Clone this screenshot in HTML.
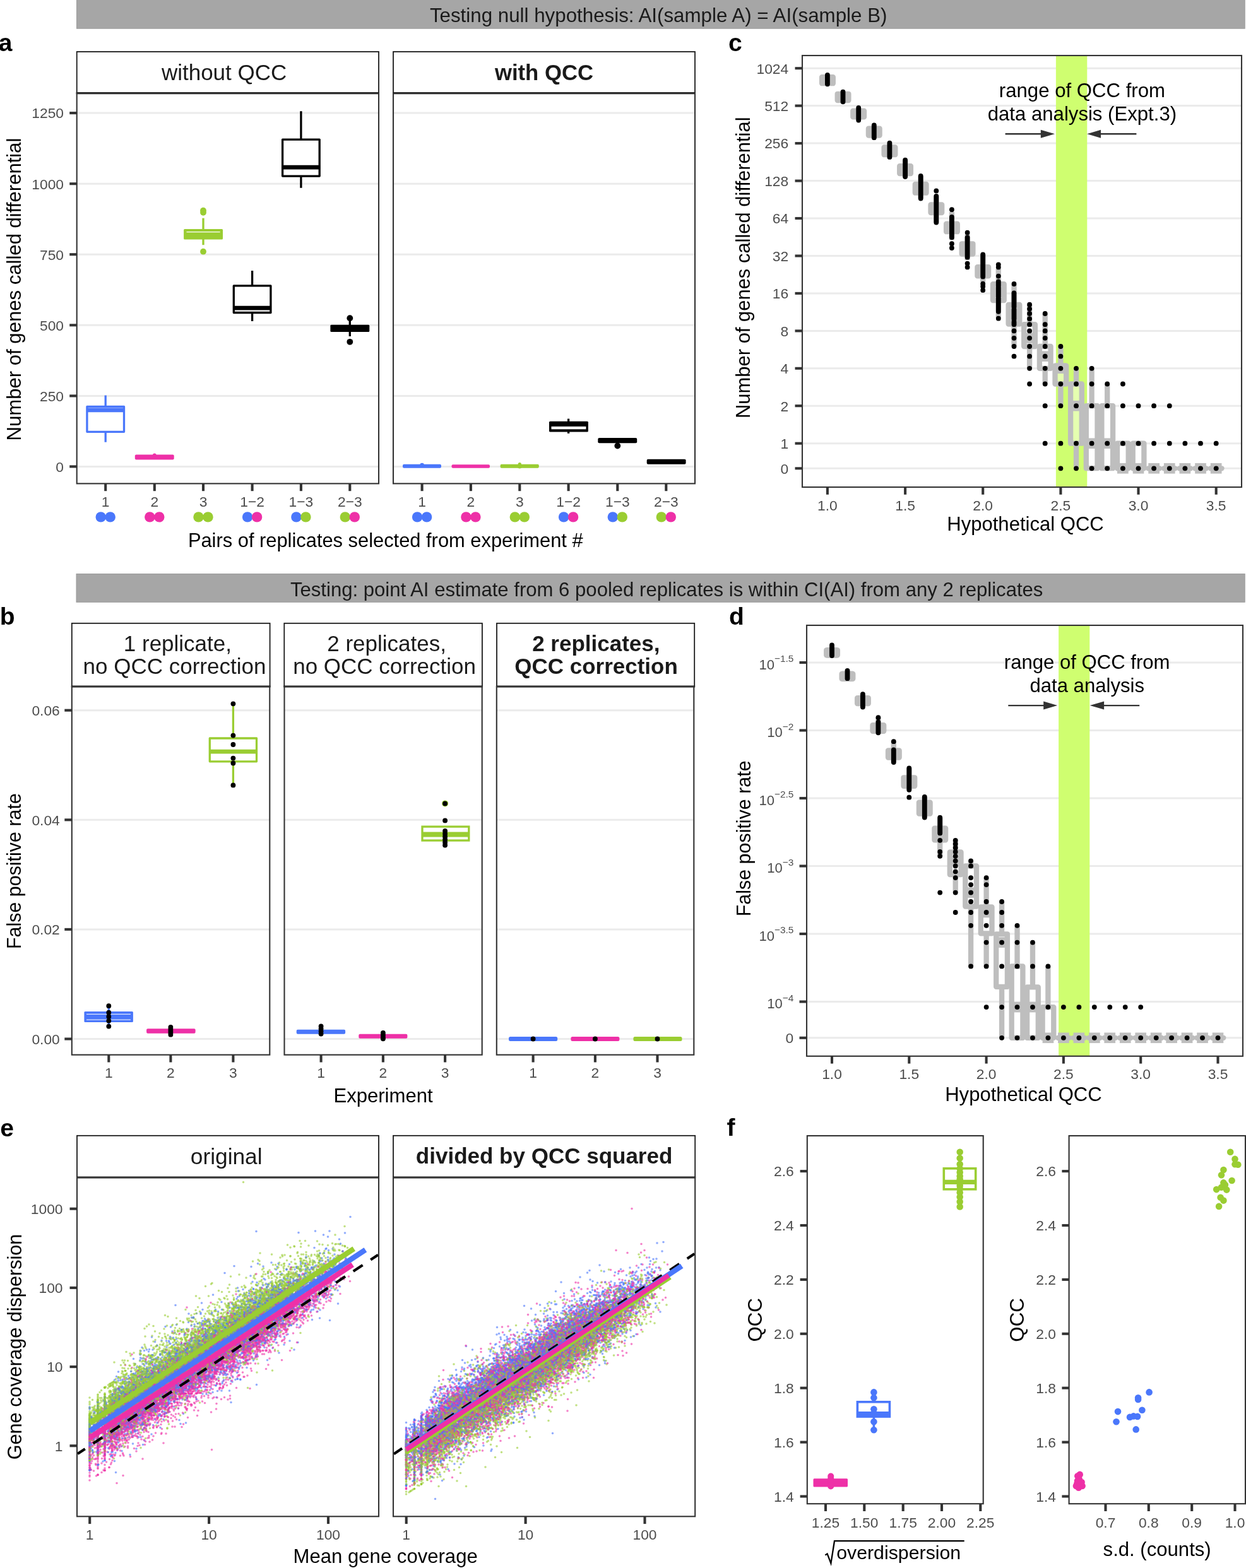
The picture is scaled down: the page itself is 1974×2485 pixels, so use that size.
<!DOCTYPE html>
<html><head><meta charset="utf-8"><title>Figure</title><style>html,body{margin:0;padding:0;background:#fff;overflow:hidden}svg{display:block}</style></head><body>
<svg xmlns="http://www.w3.org/2000/svg" width="1974" height="2485" viewBox="0 0 1974 2485" font-family="'Liberation Sans', Arial, Helvetica, sans-serif"><rect width="1974" height="2485" fill="#fff"/><rect x="121.5" y="-1" width="1850.7" height="46.2" fill="#A6A6A6" stroke="#9C9C9C" stroke-width="1"/>
<text x="1043.2" y="34.7" font-size="31.3" text-anchor="middle" fill="#1A1A1A">Testing null hypothesis: AI(sample A) = AI(sample B)</text>
<rect x="121" y="909.5" width="1851.2" height="44.8" fill="#A6A6A6" stroke="#9C9C9C" stroke-width="1"/>
<text x="1056.2" y="945.2" font-size="31.1" text-anchor="middle" fill="#1A1A1A">Testing: point AI estimate from 6 pooled replicates is within CI(AI) from any 2 replicates</text>
<text x="-2.2" y="80.6" font-size="39" font-weight="bold">a</text>
<text x="1154" y="80.6" font-size="39" font-weight="bold">c</text>
<text x="-0.2" y="989.6" font-size="39" font-weight="bold">b</text>
<text x="1155" y="989.6" font-size="39" font-weight="bold">d</text>
<text x="0.2" y="1800.7" font-size="39" font-weight="bold">e</text>
<text x="1151.6" y="1800.4" font-size="39" font-weight="bold">f</text>
<line x1="121.7" y1="739.4" x2="600" y2="739.4" stroke="#EBEBEB" stroke-width="3"/>
<line x1="121.7" y1="627.4" x2="600" y2="627.4" stroke="#EBEBEB" stroke-width="3"/>
<line x1="121.7" y1="515.3" x2="600" y2="515.3" stroke="#EBEBEB" stroke-width="3"/>
<line x1="121.7" y1="403.2" x2="600" y2="403.2" stroke="#EBEBEB" stroke-width="3"/>
<line x1="121.7" y1="291.2" x2="600" y2="291.2" stroke="#EBEBEB" stroke-width="3"/>
<line x1="121.7" y1="179.1" x2="600" y2="179.1" stroke="#EBEBEB" stroke-width="3"/>
<line x1="623" y1="739.4" x2="1101" y2="739.4" stroke="#EBEBEB" stroke-width="3"/>
<line x1="623" y1="627.4" x2="1101" y2="627.4" stroke="#EBEBEB" stroke-width="3"/>
<line x1="623" y1="515.3" x2="1101" y2="515.3" stroke="#EBEBEB" stroke-width="3"/>
<line x1="623" y1="403.2" x2="1101" y2="403.2" stroke="#EBEBEB" stroke-width="3"/>
<line x1="623" y1="291.2" x2="1101" y2="291.2" stroke="#EBEBEB" stroke-width="3"/>
<line x1="623" y1="179.1" x2="1101" y2="179.1" stroke="#EBEBEB" stroke-width="3"/>
<rect x="121.7" y="82" width="478.3" height="65.6" fill="#fff" stroke="#1A1A1A" stroke-width="1.8"/>
<line x1="120.8" y1="147.6" x2="600.9" y2="147.6" stroke="#1A1A1A" stroke-width="3.2"/>
<text x="355.1" y="127" font-size="35.0" text-anchor="middle" fill="#1A1A1A">without QCC</text>
<rect x="623" y="82" width="478" height="65.6" fill="#fff" stroke="#1A1A1A" stroke-width="1.8"/>
<line x1="622.1" y1="147.6" x2="1101.9" y2="147.6" stroke="#1A1A1A" stroke-width="3.2"/>
<text x="862" y="127.3" font-size="34.7" text-anchor="middle" font-weight="bold" fill="#1A1A1A">with QCC</text>
<line x1="110.2" y1="739.4" x2="121.7" y2="739.4" stroke="#333333" stroke-width="4.1"/>
<text x="101" y="747.7" font-size="22.8" text-anchor="end" fill="#4D4D4D">0</text>
<line x1="110.2" y1="627.4" x2="121.7" y2="627.4" stroke="#333333" stroke-width="4.1"/>
<text x="101" y="635.6" font-size="22.8" text-anchor="end" fill="#4D4D4D">250</text>
<line x1="110.2" y1="515.3" x2="121.7" y2="515.3" stroke="#333333" stroke-width="4.1"/>
<text x="101" y="523.6" font-size="22.8" text-anchor="end" fill="#4D4D4D">500</text>
<line x1="110.2" y1="403.2" x2="121.7" y2="403.2" stroke="#333333" stroke-width="4.1"/>
<text x="101" y="411.6" font-size="22.8" text-anchor="end" fill="#4D4D4D">750</text>
<line x1="110.2" y1="291.2" x2="121.7" y2="291.2" stroke="#333333" stroke-width="4.1"/>
<text x="101" y="299.5" font-size="22.8" text-anchor="end" fill="#4D4D4D">1000</text>
<line x1="110.2" y1="179.1" x2="121.7" y2="179.1" stroke="#333333" stroke-width="4.1"/>
<text x="101" y="187.4" font-size="22.8" text-anchor="end" fill="#4D4D4D">1250</text>
<line x1="167.2" y1="766.4" x2="167.2" y2="778.2" stroke="#333333" stroke-width="4.1"/>
<text x="167.2" y="802.6" font-size="22.8" text-anchor="middle" fill="#4D4D4D">1</text>
<circle cx="159.7" cy="819.4" r="8.2" fill="#4A77FB"/>
<circle cx="174.7" cy="819.4" r="8.2" fill="#4A77FB"/>
<line x1="244.8" y1="766.4" x2="244.8" y2="778.2" stroke="#333333" stroke-width="4.1"/>
<text x="244.8" y="802.6" font-size="22.8" text-anchor="middle" fill="#4D4D4D">2</text>
<circle cx="237.3" cy="819.4" r="8.2" fill="#EE30A7"/>
<circle cx="252.3" cy="819.4" r="8.2" fill="#EE30A7"/>
<line x1="322" y1="766.4" x2="322" y2="778.2" stroke="#333333" stroke-width="4.1"/>
<text x="322" y="802.6" font-size="22.8" text-anchor="middle" fill="#4D4D4D">3</text>
<circle cx="314.5" cy="819.4" r="8.2" fill="#9ACD32"/>
<circle cx="329.5" cy="819.4" r="8.2" fill="#9ACD32"/>
<line x1="399.6" y1="766.4" x2="399.6" y2="778.2" stroke="#333333" stroke-width="4.1"/>
<text x="399.6" y="802.6" font-size="22.8" text-anchor="middle" fill="#4D4D4D">1−2</text>
<circle cx="392.1" cy="819.4" r="8.2" fill="#4A77FB"/>
<circle cx="407.1" cy="819.4" r="8.2" fill="#EE30A7"/>
<line x1="476.9" y1="766.4" x2="476.9" y2="778.2" stroke="#333333" stroke-width="4.1"/>
<text x="476.9" y="802.6" font-size="22.8" text-anchor="middle" fill="#4D4D4D">1−3</text>
<circle cx="469.4" cy="819.4" r="8.2" fill="#4A77FB"/>
<circle cx="484.4" cy="819.4" r="8.2" fill="#9ACD32"/>
<line x1="554.3" y1="766.4" x2="554.3" y2="778.2" stroke="#333333" stroke-width="4.1"/>
<text x="554.3" y="802.6" font-size="22.8" text-anchor="middle" fill="#4D4D4D">2−3</text>
<circle cx="546.8" cy="819.4" r="8.2" fill="#9ACD32"/>
<circle cx="561.8" cy="819.4" r="8.2" fill="#EE30A7"/>
<line x1="668.6" y1="766.4" x2="668.6" y2="778.2" stroke="#333333" stroke-width="4.1"/>
<text x="668.6" y="802.6" font-size="22.8" text-anchor="middle" fill="#4D4D4D">1</text>
<circle cx="661.1" cy="819.4" r="8.2" fill="#4A77FB"/>
<circle cx="676.1" cy="819.4" r="8.2" fill="#4A77FB"/>
<line x1="745.9" y1="766.4" x2="745.9" y2="778.2" stroke="#333333" stroke-width="4.1"/>
<text x="745.9" y="802.6" font-size="22.8" text-anchor="middle" fill="#4D4D4D">2</text>
<circle cx="738.4" cy="819.4" r="8.2" fill="#EE30A7"/>
<circle cx="753.4" cy="819.4" r="8.2" fill="#EE30A7"/>
<line x1="823.3" y1="766.4" x2="823.3" y2="778.2" stroke="#333333" stroke-width="4.1"/>
<text x="823.3" y="802.6" font-size="22.8" text-anchor="middle" fill="#4D4D4D">3</text>
<circle cx="815.8" cy="819.4" r="8.2" fill="#9ACD32"/>
<circle cx="830.8" cy="819.4" r="8.2" fill="#9ACD32"/>
<line x1="900.6" y1="766.4" x2="900.6" y2="778.2" stroke="#333333" stroke-width="4.1"/>
<text x="900.6" y="802.6" font-size="22.8" text-anchor="middle" fill="#4D4D4D">1−2</text>
<circle cx="893.1" cy="819.4" r="8.2" fill="#4A77FB"/>
<circle cx="908.1" cy="819.4" r="8.2" fill="#EE30A7"/>
<line x1="978.3" y1="766.4" x2="978.3" y2="778.2" stroke="#333333" stroke-width="4.1"/>
<text x="978.3" y="802.6" font-size="22.8" text-anchor="middle" fill="#4D4D4D">1−3</text>
<circle cx="970.8" cy="819.4" r="8.2" fill="#4A77FB"/>
<circle cx="985.8" cy="819.4" r="8.2" fill="#9ACD32"/>
<line x1="1055.3" y1="766.4" x2="1055.3" y2="778.2" stroke="#333333" stroke-width="4.1"/>
<text x="1055.3" y="802.6" font-size="22.8" text-anchor="middle" fill="#4D4D4D">2−3</text>
<circle cx="1047.8" cy="819.4" r="8.2" fill="#9ACD32"/>
<circle cx="1062.8" cy="819.4" r="8.2" fill="#EE30A7"/>
<line x1="167.2" y1="626.6" x2="167.2" y2="644.5" stroke="#4A77FB" stroke-width="3.3"/>
<line x1="167.2" y1="684.3" x2="167.2" y2="700.7" stroke="#4A77FB" stroke-width="3.3"/>
<rect x="137.9" y="644.5" width="58.6" height="39.8" fill="#fff" stroke="#4A77FB" stroke-width="3.3" stroke-linejoin="round"/>
<line x1="137.9" y1="649.9" x2="196.5" y2="649.9" stroke="#4A77FB" stroke-width="6.6"/>
<rect x="213.8" y="720.4" width="61.9" height="8" rx="2" fill="#EE30A7"/>
<circle cx="244.8" cy="721.2" r="2.8" fill="#EE30A7"/>
<line x1="322" y1="345.7" x2="322" y2="364" stroke="#9ACD32" stroke-width="3.3"/>
<line x1="322" y1="379" x2="322" y2="388.2" stroke="#9ACD32" stroke-width="3.3"/>
<rect x="291.1" y="363" width="61.9" height="16.5" rx="1.5" fill="#9ACD32"/>
<line x1="295.5" y1="367.6" x2="348.6" y2="367.6" stroke="#fff" stroke-width="1.2"/>
<circle cx="322" cy="333.6" r="4.9" fill="#9ACD32"/>
<circle cx="322" cy="336.8" r="4.9" fill="#9ACD32"/>
<circle cx="322" cy="398.7" r="4.9" fill="#9ACD32"/>
<line x1="399.6" y1="429" x2="399.6" y2="452.9" stroke="#000" stroke-width="3.3"/>
<line x1="399.6" y1="495.5" x2="399.6" y2="509" stroke="#000" stroke-width="3.3"/>
<rect x="370.3" y="452.9" width="58.6" height="42.6" fill="#fff" stroke="#000" stroke-width="3.3" stroke-linejoin="round"/>
<line x1="370.3" y1="488.1" x2="428.9" y2="488.1" stroke="#000" stroke-width="6.6"/>
<line x1="476.9" y1="176.2" x2="476.9" y2="221.1" stroke="#000" stroke-width="3.3"/>
<line x1="476.9" y1="279.1" x2="476.9" y2="297.8" stroke="#000" stroke-width="3.3"/>
<rect x="447.6" y="221.1" width="58.6" height="58" fill="#fff" stroke="#000" stroke-width="3.3" stroke-linejoin="round"/>
<line x1="447.6" y1="265.1" x2="506.2" y2="265.1" stroke="#000" stroke-width="6.6"/>
<line x1="554.3" y1="504" x2="554.3" y2="533" stroke="#000" stroke-width="3.3"/>
<rect x="523.4" y="514.7" width="61.9" height="11.3" rx="1.5" fill="#000"/>
<circle cx="554.3" cy="504.2" r="4.9" fill="#000"/>
<circle cx="554.3" cy="541.8" r="4.9" fill="#000"/>
<rect x="638" y="735.8" width="61" height="6" rx="2" fill="#4A77FB"/>
<circle cx="668.6" cy="737" r="3.2" fill="#4A77FB"/>
<rect x="715.5" y="736.2" width="60.5" height="5.6" rx="2" fill="#EE30A7"/>
<rect x="792.6" y="735.8" width="61.2" height="6" rx="2" fill="#9ACD32"/>
<circle cx="823.3" cy="738.8" r="3.6" fill="#9ACD32"/>
<circle cx="823.3" cy="735.5" r="2.6" fill="#9ACD32"/>
<line x1="900.6" y1="663.6" x2="900.6" y2="687" stroke="#000" stroke-width="3.3"/>
<rect x="870" y="667.7" width="61.9" height="16.9" rx="1.5" fill="#000"/>
<rect x="873.5" y="675.9" width="54.9" height="4.4" fill="#fff"/>
<rect x="947.3" y="694" width="61.9" height="8.2" rx="2" fill="#000"/>
<circle cx="978.3" cy="706.5" r="4.9" fill="#000"/>
<rect x="1024.7" y="727.8" width="61.9" height="7.9" rx="2" fill="#000"/>
<rect x="121.7" y="147.6" width="478.3" height="618.8" fill="none" stroke="#333333" stroke-width="2.1"/>
<rect x="623" y="147.6" width="478" height="618.8" fill="none" stroke="#333333" stroke-width="2.1"/>
<text x="32.9" y="458.5" font-size="31.1" text-anchor="middle" transform="rotate(-90 32.9 458.5)">Number of genes called differential</text>
<text x="297.9" y="867" font-size="30.85">Pairs of replicates selected from experiment #</text>
<line x1="1271" y1="742.3" x2="1967" y2="742.3" stroke="#EBEBEB" stroke-width="3"/>
<line x1="1271" y1="702.7" x2="1967" y2="702.7" stroke="#EBEBEB" stroke-width="3"/>
<line x1="1271" y1="643.2" x2="1967" y2="643.2" stroke="#EBEBEB" stroke-width="3"/>
<line x1="1271" y1="583.8" x2="1967" y2="583.8" stroke="#EBEBEB" stroke-width="3"/>
<line x1="1271" y1="524.4" x2="1967" y2="524.4" stroke="#EBEBEB" stroke-width="3"/>
<line x1="1271" y1="464.9" x2="1967" y2="464.9" stroke="#EBEBEB" stroke-width="3"/>
<line x1="1271" y1="405.5" x2="1967" y2="405.5" stroke="#EBEBEB" stroke-width="3"/>
<line x1="1271" y1="346" x2="1967" y2="346" stroke="#EBEBEB" stroke-width="3"/>
<line x1="1271" y1="286.6" x2="1967" y2="286.6" stroke="#EBEBEB" stroke-width="3"/>
<line x1="1271" y1="227.1" x2="1967" y2="227.1" stroke="#EBEBEB" stroke-width="3"/>
<line x1="1271" y1="167.6" x2="1967" y2="167.6" stroke="#EBEBEB" stroke-width="3"/>
<line x1="1271" y1="108.2" x2="1967" y2="108.2" stroke="#EBEBEB" stroke-width="3"/>
<rect x="1672.9" y="88" width="49.4" height="684" fill="#CFFE70"/>
<rect x="1302.1" y="122.2" width="17.7" height="10" fill="#fff" fill-opacity="0.45" stroke="#BEBEBE" stroke-width="8.3" stroke-linejoin="round"/>
<line x1="1302.1" y1="127.2" x2="1319.8" y2="127.2" stroke="#BEBEBE" stroke-width="16.6"/>
<rect x="1326.7" y="148.8" width="17.7" height="10.2" fill="#fff" fill-opacity="0.45" stroke="#BEBEBE" stroke-width="8.3" stroke-linejoin="round"/>
<line x1="1326.7" y1="153.9" x2="1344.4" y2="153.9" stroke="#BEBEBE" stroke-width="16.6"/>
<rect x="1351.3" y="175.6" width="17.7" height="9.8" fill="#fff" fill-opacity="0.45" stroke="#BEBEBE" stroke-width="8.3" stroke-linejoin="round"/>
<line x1="1351.3" y1="180.5" x2="1369" y2="180.5" stroke="#BEBEBE" stroke-width="16.6"/>
<rect x="1375.9" y="203.7" width="17.7" height="10.8" fill="#fff" fill-opacity="0.45" stroke="#BEBEBE" stroke-width="8.3" stroke-linejoin="round"/>
<line x1="1375.9" y1="209.1" x2="1393.6" y2="209.1" stroke="#BEBEBE" stroke-width="16.6"/>
<rect x="1400.6" y="233.4" width="17.7" height="11.8" fill="#fff" fill-opacity="0.45" stroke="#BEBEBE" stroke-width="8.3" stroke-linejoin="round"/>
<line x1="1400.6" y1="239.3" x2="1418.3" y2="239.3" stroke="#BEBEBE" stroke-width="16.6"/>
<line x1="1434.1" y1="253.7" x2="1434.1" y2="263.2" stroke="#BEBEBE" stroke-width="8.3"/>
<line x1="1434.1" y1="275" x2="1434.1" y2="280" stroke="#BEBEBE" stroke-width="8.3"/>
<rect x="1425.2" y="263.2" width="17.7" height="11.8" fill="#fff" fill-opacity="0.45" stroke="#BEBEBE" stroke-width="8.3" stroke-linejoin="round"/>
<line x1="1425.2" y1="269" x2="1442.9" y2="269" stroke="#BEBEBE" stroke-width="16.6"/>
<line x1="1458.7" y1="279" x2="1458.7" y2="292" stroke="#BEBEBE" stroke-width="8.3"/>
<line x1="1458.7" y1="305.7" x2="1458.7" y2="314.5" stroke="#BEBEBE" stroke-width="8.3"/>
<rect x="1449.8" y="292" width="17.7" height="13.7" fill="#fff" fill-opacity="0.45" stroke="#BEBEBE" stroke-width="8.3" stroke-linejoin="round"/>
<line x1="1449.8" y1="298.9" x2="1467.5" y2="298.9" stroke="#BEBEBE" stroke-width="16.6"/>
<line x1="1483.3" y1="310.8" x2="1483.3" y2="324.5" stroke="#BEBEBE" stroke-width="8.3"/>
<line x1="1483.3" y1="337.1" x2="1483.3" y2="352.5" stroke="#BEBEBE" stroke-width="8.3"/>
<rect x="1474.5" y="324.5" width="17.7" height="12.6" fill="#fff" fill-opacity="0.45" stroke="#BEBEBE" stroke-width="8.3" stroke-linejoin="round"/>
<line x1="1474.5" y1="330.8" x2="1492.2" y2="330.8" stroke="#BEBEBE" stroke-width="16.6"/>
<line x1="1507.9" y1="336" x2="1507.9" y2="354.6" stroke="#BEBEBE" stroke-width="8.3"/>
<line x1="1507.9" y1="367.2" x2="1507.9" y2="380" stroke="#BEBEBE" stroke-width="8.3"/>
<rect x="1499.1" y="354.6" width="17.7" height="12.6" fill="#fff" fill-opacity="0.45" stroke="#BEBEBE" stroke-width="8.3" stroke-linejoin="round"/>
<line x1="1499.1" y1="360.9" x2="1516.8" y2="360.9" stroke="#BEBEBE" stroke-width="16.6"/>
<line x1="1532.6" y1="372" x2="1532.6" y2="386.3" stroke="#BEBEBE" stroke-width="8.3"/>
<line x1="1532.6" y1="402.5" x2="1532.6" y2="412" stroke="#BEBEBE" stroke-width="8.3"/>
<rect x="1523.7" y="386.3" width="17.7" height="16.2" fill="#fff" fill-opacity="0.45" stroke="#BEBEBE" stroke-width="8.3" stroke-linejoin="round"/>
<line x1="1523.7" y1="394.4" x2="1541.4" y2="394.4" stroke="#BEBEBE" stroke-width="16.6"/>
<line x1="1557.2" y1="403.7" x2="1557.2" y2="423.2" stroke="#BEBEBE" stroke-width="8.3"/>
<line x1="1557.2" y1="437.4" x2="1557.2" y2="446.8" stroke="#BEBEBE" stroke-width="8.3"/>
<rect x="1548.4" y="423.2" width="17.7" height="14.2" fill="#fff" fill-opacity="0.45" stroke="#BEBEBE" stroke-width="8.3" stroke-linejoin="round"/>
<line x1="1548.4" y1="430.3" x2="1566" y2="430.3" stroke="#BEBEBE" stroke-width="16.6"/>
<line x1="1581.8" y1="426" x2="1581.8" y2="450.2" stroke="#BEBEBE" stroke-width="8.3"/>
<line x1="1581.8" y1="476.1" x2="1581.8" y2="503.7" stroke="#BEBEBE" stroke-width="8.3"/>
<rect x="1573" y="450.2" width="17.7" height="25.9" fill="#fff" fill-opacity="0.45" stroke="#BEBEBE" stroke-width="8.3" stroke-linejoin="round"/>
<line x1="1573" y1="463" x2="1590.7" y2="463" stroke="#BEBEBE" stroke-width="16.6"/>
<line x1="1606.5" y1="451" x2="1606.5" y2="483" stroke="#BEBEBE" stroke-width="8.3"/>
<line x1="1606.5" y1="513.6" x2="1606.5" y2="549" stroke="#BEBEBE" stroke-width="8.3"/>
<rect x="1597.6" y="483" width="17.7" height="30.6" fill="#fff" fill-opacity="0.45" stroke="#BEBEBE" stroke-width="8.3" stroke-linejoin="round"/>
<line x1="1597.6" y1="498" x2="1615.3" y2="498" stroke="#BEBEBE" stroke-width="16.6"/>
<line x1="1631.1" y1="482.7" x2="1631.1" y2="514.2" stroke="#BEBEBE" stroke-width="8.3"/>
<line x1="1631.1" y1="549" x2="1631.1" y2="583.8" stroke="#BEBEBE" stroke-width="8.3"/>
<rect x="1622.2" y="514.2" width="17.7" height="34.8" fill="#fff" fill-opacity="0.45" stroke="#BEBEBE" stroke-width="8.3" stroke-linejoin="round"/>
<line x1="1622.2" y1="535.8" x2="1639.9" y2="535.8" stroke="#BEBEBE" stroke-width="16.6"/>
<line x1="1655.7" y1="497" x2="1655.7" y2="549" stroke="#BEBEBE" stroke-width="8.3"/>
<line x1="1655.7" y1="583.8" x2="1655.7" y2="608.5" stroke="#BEBEBE" stroke-width="8.3"/>
<rect x="1646.9" y="549" width="17.7" height="34.8" fill="#fff" fill-opacity="0.45" stroke="#BEBEBE" stroke-width="8.3" stroke-linejoin="round"/>
<line x1="1646.9" y1="564.7" x2="1664.6" y2="564.7" stroke="#BEBEBE" stroke-width="16.6"/>
<line x1="1680.4" y1="549" x2="1680.4" y2="579.7" stroke="#BEBEBE" stroke-width="8.3"/>
<line x1="1680.4" y1="608.5" x2="1680.4" y2="643.2" stroke="#BEBEBE" stroke-width="8.3"/>
<rect x="1671.5" y="579.7" width="17.7" height="28.8" fill="#fff" fill-opacity="0.45" stroke="#BEBEBE" stroke-width="8.3" stroke-linejoin="round"/>
<line x1="1671.5" y1="583.8" x2="1689.2" y2="583.8" stroke="#BEBEBE" stroke-width="16.6"/>
<line x1="1705" y1="583.8" x2="1705" y2="608.5" stroke="#BEBEBE" stroke-width="8.3"/>
<line x1="1705" y1="702.7" x2="1705" y2="742.3" stroke="#BEBEBE" stroke-width="8.3"/>
<rect x="1696.1" y="608.5" width="17.7" height="94.2" fill="#fff" fill-opacity="0.45" stroke="#BEBEBE" stroke-width="8.3" stroke-linejoin="round"/>
<line x1="1696.1" y1="643.2" x2="1713.8" y2="643.2" stroke="#BEBEBE" stroke-width="16.6"/>
<line x1="1729.6" y1="583.8" x2="1729.6" y2="643.2" stroke="#BEBEBE" stroke-width="8.3"/>
<rect x="1720.8" y="643.2" width="17.7" height="99" fill="#fff" fill-opacity="0.45" stroke="#BEBEBE" stroke-width="8.3" stroke-linejoin="round"/>
<line x1="1720.8" y1="702.7" x2="1738.5" y2="702.7" stroke="#BEBEBE" stroke-width="16.6"/>
<line x1="1754.2" y1="608.5" x2="1754.2" y2="643.2" stroke="#BEBEBE" stroke-width="8.3"/>
<rect x="1745.4" y="643.2" width="17.7" height="99" fill="#fff" fill-opacity="0.45" stroke="#BEBEBE" stroke-width="8.3" stroke-linejoin="round"/>
<line x1="1745.4" y1="702.7" x2="1763.1" y2="702.7" stroke="#BEBEBE" stroke-width="16.6"/>
<rect x="1770" y="702.7" width="17.7" height="39.6" fill="#fff" fill-opacity="0.45" stroke="#BEBEBE" stroke-width="8.3" stroke-linejoin="round"/>
<line x1="1770" y1="742.3" x2="1787.7" y2="742.3" stroke="#BEBEBE" stroke-width="16.6"/>
<rect x="1794.7" y="702.7" width="17.7" height="39.6" fill="#fff" fill-opacity="0.45" stroke="#BEBEBE" stroke-width="8.3" stroke-linejoin="round"/>
<line x1="1794.7" y1="742.3" x2="1812.3" y2="742.3" stroke="#BEBEBE" stroke-width="16.6"/>
<line x1="1819.3" y1="742.3" x2="1837" y2="742.3" stroke="#BEBEBE" stroke-width="8.3" stroke-linecap="round"/>
<line x1="1819.3" y1="742.3" x2="1837" y2="742.3" stroke="#BEBEBE" stroke-width="16.6"/>
<line x1="1843.9" y1="742.3" x2="1861.6" y2="742.3" stroke="#BEBEBE" stroke-width="8.3" stroke-linecap="round"/>
<line x1="1843.9" y1="742.3" x2="1861.6" y2="742.3" stroke="#BEBEBE" stroke-width="16.6"/>
<line x1="1868.5" y1="742.3" x2="1886.2" y2="742.3" stroke="#BEBEBE" stroke-width="8.3" stroke-linecap="round"/>
<line x1="1868.5" y1="742.3" x2="1886.2" y2="742.3" stroke="#BEBEBE" stroke-width="16.6"/>
<line x1="1893.2" y1="742.3" x2="1910.9" y2="742.3" stroke="#BEBEBE" stroke-width="8.3" stroke-linecap="round"/>
<line x1="1893.2" y1="742.3" x2="1910.9" y2="742.3" stroke="#BEBEBE" stroke-width="16.6"/>
<line x1="1917.8" y1="742.3" x2="1935.5" y2="742.3" stroke="#BEBEBE" stroke-width="8.3" stroke-linecap="round"/>
<line x1="1917.8" y1="742.3" x2="1935.5" y2="742.3" stroke="#BEBEBE" stroke-width="16.6"/>
<line x1="1310.9" y1="119" x2="1310.9" y2="133.3" stroke="#000" stroke-width="7.8" stroke-linecap="round"/>
<line x1="1335.5" y1="145.7" x2="1335.5" y2="161.3" stroke="#000" stroke-width="7.8" stroke-linecap="round"/>
<line x1="1360.2" y1="171" x2="1360.2" y2="190.5" stroke="#000" stroke-width="7.8" stroke-linecap="round"/>
<line x1="1384.8" y1="198.5" x2="1384.8" y2="218.2" stroke="#000" stroke-width="7.8" stroke-linecap="round"/>
<line x1="1409.4" y1="226.7" x2="1409.4" y2="248.9" stroke="#000" stroke-width="7.8" stroke-linecap="round"/>
<line x1="1434.1" y1="253.7" x2="1434.1" y2="280" stroke="#000" stroke-width="7.8" stroke-linecap="round"/>
<line x1="1458.7" y1="279" x2="1458.7" y2="314.5" stroke="#000" stroke-width="7.8" stroke-linecap="round"/>
<circle cx="1483.3" cy="302.4" r="3.9" fill="#000"/>
<line x1="1483.3" y1="310.8" x2="1483.3" y2="352.5" stroke="#000" stroke-width="7.8" stroke-linecap="round"/>
<circle cx="1507.9" cy="332.2" r="3.9" fill="#000"/>
<line x1="1507.9" y1="344" x2="1507.9" y2="376.3" stroke="#000" stroke-width="7.8" stroke-linecap="round"/>
<circle cx="1507.9" cy="386.2" r="3.9" fill="#000"/>
<circle cx="1507.9" cy="393" r="3.9" fill="#000"/>
<circle cx="1532.6" cy="368.7" r="3.9" fill="#000"/>
<line x1="1532.6" y1="376.3" x2="1532.6" y2="407.7" stroke="#000" stroke-width="7.8" stroke-linecap="round"/>
<circle cx="1532.6" cy="417.6" r="3.9" fill="#000"/>
<circle cx="1532.6" cy="423.4" r="3.9" fill="#000"/>
<line x1="1557.2" y1="403.3" x2="1557.2" y2="438.4" stroke="#000" stroke-width="7.8" stroke-linecap="round"/>
<circle cx="1557.2" cy="449.7" r="3.9" fill="#000"/>
<circle cx="1557.2" cy="454" r="3.9" fill="#000"/>
<circle cx="1557.2" cy="459.9" r="3.9" fill="#000"/>
<circle cx="1581.8" cy="419.3" r="3.9" fill="#000"/>
<circle cx="1581.8" cy="423.4" r="3.9" fill="#000"/>
<circle cx="1581.8" cy="437.6" r="3.9" fill="#000"/>
<line x1="1581.8" y1="446.4" x2="1581.8" y2="493.8" stroke="#000" stroke-width="7.8" stroke-linecap="round"/>
<circle cx="1581.8" cy="504.7" r="3.9" fill="#000"/>
<circle cx="1606.5" cy="450" r="3.9" fill="#000"/>
<line x1="1606.5" y1="464.3" x2="1606.5" y2="514.2" stroke="#000" stroke-width="7.8" stroke-linecap="round"/>
<circle cx="1606.5" cy="524.4" r="3.9" fill="#000"/>
<circle cx="1606.5" cy="535.8" r="3.9" fill="#000"/>
<circle cx="1606.5" cy="549" r="3.9" fill="#000"/>
<circle cx="1606.5" cy="564.7" r="3.9" fill="#000"/>
<circle cx="1631.1" cy="482.7" r="3.9" fill="#000"/>
<circle cx="1631.1" cy="489.6" r="3.9" fill="#000"/>
<circle cx="1631.1" cy="497" r="3.9" fill="#000"/>
<circle cx="1631.1" cy="505.2" r="3.9" fill="#000"/>
<circle cx="1631.1" cy="514.2" r="3.9" fill="#000"/>
<circle cx="1631.1" cy="524.4" r="3.9" fill="#000"/>
<circle cx="1631.1" cy="535.8" r="3.9" fill="#000"/>
<circle cx="1631.1" cy="549" r="3.9" fill="#000"/>
<circle cx="1631.1" cy="564.7" r="3.9" fill="#000"/>
<circle cx="1631.1" cy="583.8" r="3.9" fill="#000"/>
<circle cx="1631.1" cy="608.5" r="3.9" fill="#000"/>
<circle cx="1655.7" cy="497" r="3.9" fill="#000"/>
<circle cx="1655.7" cy="514.2" r="3.9" fill="#000"/>
<circle cx="1655.7" cy="524.4" r="3.9" fill="#000"/>
<circle cx="1655.7" cy="535.8" r="3.9" fill="#000"/>
<circle cx="1655.7" cy="549" r="3.9" fill="#000"/>
<circle cx="1655.7" cy="564.7" r="3.9" fill="#000"/>
<circle cx="1655.7" cy="583.8" r="3.9" fill="#000"/>
<circle cx="1655.7" cy="608.5" r="3.9" fill="#000"/>
<circle cx="1655.7" cy="643.2" r="3.9" fill="#000"/>
<circle cx="1655.7" cy="702.7" r="3.9" fill="#000"/>
<circle cx="1680.4" cy="549" r="3.9" fill="#000"/>
<circle cx="1680.4" cy="564.7" r="3.9" fill="#000"/>
<circle cx="1680.4" cy="583.8" r="3.9" fill="#000"/>
<circle cx="1680.4" cy="608.5" r="3.9" fill="#000"/>
<circle cx="1680.4" cy="643.2" r="3.9" fill="#000"/>
<circle cx="1680.4" cy="702.7" r="3.9" fill="#000"/>
<circle cx="1680.4" cy="742.3" r="3.9" fill="#000"/>
<circle cx="1705" cy="583.8" r="3.9" fill="#000"/>
<circle cx="1705" cy="608.5" r="3.9" fill="#000"/>
<circle cx="1705" cy="643.2" r="3.9" fill="#000"/>
<circle cx="1705" cy="702.7" r="3.9" fill="#000"/>
<circle cx="1705" cy="742.3" r="3.9" fill="#000"/>
<circle cx="1729.6" cy="583.8" r="3.9" fill="#000"/>
<circle cx="1729.6" cy="608.5" r="3.9" fill="#000"/>
<circle cx="1729.6" cy="643.2" r="3.9" fill="#000"/>
<circle cx="1729.6" cy="702.7" r="3.9" fill="#000"/>
<circle cx="1729.6" cy="742.3" r="3.9" fill="#000"/>
<circle cx="1754.2" cy="608.5" r="3.9" fill="#000"/>
<circle cx="1754.2" cy="643.2" r="3.9" fill="#000"/>
<circle cx="1754.2" cy="702.7" r="3.9" fill="#000"/>
<circle cx="1754.2" cy="742.3" r="3.9" fill="#000"/>
<circle cx="1778.9" cy="608.5" r="3.9" fill="#000"/>
<circle cx="1778.9" cy="643.2" r="3.9" fill="#000"/>
<circle cx="1778.9" cy="702.7" r="3.9" fill="#000"/>
<circle cx="1778.9" cy="742.3" r="3.9" fill="#000"/>
<circle cx="1803.5" cy="643.2" r="3.9" fill="#000"/>
<circle cx="1803.5" cy="702.7" r="3.9" fill="#000"/>
<circle cx="1803.5" cy="742.3" r="3.9" fill="#000"/>
<circle cx="1828.1" cy="643.2" r="3.9" fill="#000"/>
<circle cx="1828.1" cy="702.7" r="3.9" fill="#000"/>
<circle cx="1828.1" cy="742.3" r="3.9" fill="#000"/>
<circle cx="1852.8" cy="643.2" r="3.9" fill="#000"/>
<circle cx="1852.8" cy="702.7" r="3.9" fill="#000"/>
<circle cx="1852.8" cy="742.3" r="3.9" fill="#000"/>
<circle cx="1877.4" cy="702.7" r="3.9" fill="#000"/>
<circle cx="1877.4" cy="742.3" r="3.9" fill="#000"/>
<circle cx="1902" cy="702.7" r="3.9" fill="#000"/>
<circle cx="1902" cy="742.3" r="3.9" fill="#000"/>
<circle cx="1926.7" cy="702.7" r="3.9" fill="#000"/>
<circle cx="1926.7" cy="742.3" r="3.9" fill="#000"/>
<text x="1714.4" y="154" font-size="31.15" text-anchor="middle">range of QCC from</text>
<text x="1714.4" y="191.4" font-size="31.15" text-anchor="middle">data analysis (Expt.3)</text>
<line x1="1592.6" y1="212.2" x2="1649.8" y2="212.2" stroke="#333333" stroke-width="2.4"/>
<polygon points="1648.8,205.7 1671,212.2 1648.8,218.7" fill="#333333"/>
<line x1="1743" y1="212.2" x2="1800.4" y2="212.2" stroke="#333333" stroke-width="2.4"/>
<polygon points="1744,205.7 1722.2,212.2 1744,218.7" fill="#333333"/>
<rect x="1271" y="88" width="696" height="684" fill="none" stroke="#333333" stroke-width="2.1"/>
<line x1="1259.5" y1="742.3" x2="1271" y2="742.3" stroke="#333333" stroke-width="4.1"/>
<text x="1249.2" y="750.6" font-size="22.8" text-anchor="end" fill="#4D4D4D">0</text>
<line x1="1259.5" y1="702.7" x2="1271" y2="702.7" stroke="#333333" stroke-width="4.1"/>
<text x="1249.2" y="711" font-size="22.8" text-anchor="end" fill="#4D4D4D">1</text>
<line x1="1259.5" y1="643.2" x2="1271" y2="643.2" stroke="#333333" stroke-width="4.1"/>
<text x="1249.2" y="651.5" font-size="22.8" text-anchor="end" fill="#4D4D4D">2</text>
<line x1="1259.5" y1="583.8" x2="1271" y2="583.8" stroke="#333333" stroke-width="4.1"/>
<text x="1249.2" y="592.1" font-size="22.8" text-anchor="end" fill="#4D4D4D">4</text>
<line x1="1259.5" y1="524.4" x2="1271" y2="524.4" stroke="#333333" stroke-width="4.1"/>
<text x="1249.2" y="532.6" font-size="22.8" text-anchor="end" fill="#4D4D4D">8</text>
<line x1="1259.5" y1="464.9" x2="1271" y2="464.9" stroke="#333333" stroke-width="4.1"/>
<text x="1249.2" y="473.2" font-size="22.8" text-anchor="end" fill="#4D4D4D">16</text>
<line x1="1259.5" y1="405.5" x2="1271" y2="405.5" stroke="#333333" stroke-width="4.1"/>
<text x="1249.2" y="413.8" font-size="22.8" text-anchor="end" fill="#4D4D4D">32</text>
<line x1="1259.5" y1="346" x2="1271" y2="346" stroke="#333333" stroke-width="4.1"/>
<text x="1249.2" y="354.3" font-size="22.8" text-anchor="end" fill="#4D4D4D">64</text>
<line x1="1259.5" y1="286.6" x2="1271" y2="286.6" stroke="#333333" stroke-width="4.1"/>
<text x="1249.2" y="294.9" font-size="22.8" text-anchor="end" fill="#4D4D4D">128</text>
<line x1="1259.5" y1="227.1" x2="1271" y2="227.1" stroke="#333333" stroke-width="4.1"/>
<text x="1249.2" y="235.4" font-size="22.8" text-anchor="end" fill="#4D4D4D">256</text>
<line x1="1259.5" y1="167.6" x2="1271" y2="167.6" stroke="#333333" stroke-width="4.1"/>
<text x="1249.2" y="175.9" font-size="22.8" text-anchor="end" fill="#4D4D4D">512</text>
<line x1="1259.5" y1="108.2" x2="1271" y2="108.2" stroke="#333333" stroke-width="4.1"/>
<text x="1249.2" y="116.5" font-size="22.8" text-anchor="end" fill="#4D4D4D">1024</text>
<line x1="1310.9" y1="772" x2="1310.9" y2="783.8" stroke="#333333" stroke-width="4.1"/>
<text x="1310.9" y="809" font-size="22.8" text-anchor="middle" fill="#4D4D4D">1.0</text>
<line x1="1434.1" y1="772" x2="1434.1" y2="783.8" stroke="#333333" stroke-width="4.1"/>
<text x="1434.1" y="809" font-size="22.8" text-anchor="middle" fill="#4D4D4D">1.5</text>
<line x1="1557.2" y1="772" x2="1557.2" y2="783.8" stroke="#333333" stroke-width="4.1"/>
<text x="1557.2" y="809" font-size="22.8" text-anchor="middle" fill="#4D4D4D">2.0</text>
<line x1="1680.4" y1="772" x2="1680.4" y2="783.8" stroke="#333333" stroke-width="4.1"/>
<text x="1680.4" y="809" font-size="22.8" text-anchor="middle" fill="#4D4D4D">2.5</text>
<line x1="1803.5" y1="772" x2="1803.5" y2="783.8" stroke="#333333" stroke-width="4.1"/>
<text x="1803.5" y="809" font-size="22.8" text-anchor="middle" fill="#4D4D4D">3.0</text>
<line x1="1926.7" y1="772" x2="1926.7" y2="783.8" stroke="#333333" stroke-width="4.1"/>
<text x="1926.7" y="809" font-size="22.8" text-anchor="middle" fill="#4D4D4D">3.5</text>
<text x="1188.2" y="424.2" font-size="30.95" text-anchor="middle" transform="rotate(-90 1188.2 424.2)">Number of genes called differential</text>
<text x="1624.5" y="840.8" font-size="31.05" text-anchor="middle">Hypothetical QCC</text>
<line x1="1278" y1="1050" x2="1969" y2="1050" stroke="#EBEBEB" stroke-width="3"/>
<line x1="1278" y1="1157.5" x2="1969" y2="1157.5" stroke="#EBEBEB" stroke-width="3"/>
<line x1="1278" y1="1265" x2="1969" y2="1265" stroke="#EBEBEB" stroke-width="3"/>
<line x1="1278" y1="1372.5" x2="1969" y2="1372.5" stroke="#EBEBEB" stroke-width="3"/>
<line x1="1278" y1="1480" x2="1969" y2="1480" stroke="#EBEBEB" stroke-width="3"/>
<line x1="1278" y1="1587.5" x2="1969" y2="1587.5" stroke="#EBEBEB" stroke-width="3"/>
<line x1="1278" y1="1644.8" x2="1969" y2="1644.8" stroke="#EBEBEB" stroke-width="3"/>
<rect x="1677.1" y="991" width="49.2" height="682.8" fill="#CFFE70"/>
<rect x="1309.2" y="1030.5" width="17.7" height="7.8" fill="#fff" fill-opacity="0.45" stroke="#BEBEBE" stroke-width="8.3" stroke-linejoin="round"/>
<line x1="1309.2" y1="1034.4" x2="1326.8" y2="1034.4" stroke="#BEBEBE" stroke-width="16.6"/>
<rect x="1333.6" y="1068" width="17.7" height="7.8" fill="#fff" fill-opacity="0.45" stroke="#BEBEBE" stroke-width="8.3" stroke-linejoin="round"/>
<line x1="1333.6" y1="1071.9" x2="1351.3" y2="1071.9" stroke="#BEBEBE" stroke-width="16.6"/>
<rect x="1358.1" y="1106.2" width="17.7" height="8.8" fill="#fff" fill-opacity="0.45" stroke="#BEBEBE" stroke-width="8.3" stroke-linejoin="round"/>
<line x1="1358.1" y1="1110.6" x2="1375.8" y2="1110.6" stroke="#BEBEBE" stroke-width="16.6"/>
<line x1="1391.4" y1="1137.2" x2="1391.4" y2="1149.2" stroke="#BEBEBE" stroke-width="8.3"/>
<rect x="1382.5" y="1149.2" width="17.7" height="9.6" fill="#fff" fill-opacity="0.45" stroke="#BEBEBE" stroke-width="8.3" stroke-linejoin="round"/>
<line x1="1382.5" y1="1154" x2="1400.2" y2="1154" stroke="#BEBEBE" stroke-width="16.6"/>
<line x1="1415.8" y1="1175.2" x2="1415.8" y2="1189.4" stroke="#BEBEBE" stroke-width="8.3"/>
<line x1="1415.8" y1="1200.6" x2="1415.8" y2="1208" stroke="#BEBEBE" stroke-width="8.3"/>
<rect x="1407" y="1189.4" width="17.7" height="11.2" fill="#fff" fill-opacity="0.45" stroke="#BEBEBE" stroke-width="8.3" stroke-linejoin="round"/>
<line x1="1407" y1="1195" x2="1424.7" y2="1195" stroke="#BEBEBE" stroke-width="16.6"/>
<line x1="1440.3" y1="1217.5" x2="1440.3" y2="1232.3" stroke="#BEBEBE" stroke-width="8.3"/>
<line x1="1440.3" y1="1245.8" x2="1440.3" y2="1251.8" stroke="#BEBEBE" stroke-width="8.3"/>
<rect x="1431.5" y="1232.3" width="17.7" height="13.5" fill="#fff" fill-opacity="0.45" stroke="#BEBEBE" stroke-width="8.3" stroke-linejoin="round"/>
<line x1="1431.5" y1="1239" x2="1449.1" y2="1239" stroke="#BEBEBE" stroke-width="16.6"/>
<line x1="1464.8" y1="1262.8" x2="1464.8" y2="1271.7" stroke="#BEBEBE" stroke-width="8.3"/>
<line x1="1464.8" y1="1289.6" x2="1464.8" y2="1295.6" stroke="#BEBEBE" stroke-width="8.3"/>
<rect x="1455.9" y="1271.7" width="17.7" height="17.9" fill="#fff" fill-opacity="0.45" stroke="#BEBEBE" stroke-width="8.3" stroke-linejoin="round"/>
<line x1="1455.9" y1="1280.6" x2="1473.6" y2="1280.6" stroke="#BEBEBE" stroke-width="16.6"/>
<line x1="1489.2" y1="1295.7" x2="1489.2" y2="1312.6" stroke="#BEBEBE" stroke-width="8.3"/>
<line x1="1489.2" y1="1331.3" x2="1489.2" y2="1356.5" stroke="#BEBEBE" stroke-width="8.3"/>
<rect x="1480.4" y="1312.6" width="17.7" height="18.7" fill="#fff" fill-opacity="0.45" stroke="#BEBEBE" stroke-width="8.3" stroke-linejoin="round"/>
<line x1="1480.4" y1="1322" x2="1498.1" y2="1322" stroke="#BEBEBE" stroke-width="16.6"/>
<line x1="1513.7" y1="1331.8" x2="1513.7" y2="1350.5" stroke="#BEBEBE" stroke-width="8.3"/>
<line x1="1513.7" y1="1386" x2="1513.7" y2="1414.6" stroke="#BEBEBE" stroke-width="8.3"/>
<rect x="1504.8" y="1350.5" width="17.7" height="35.5" fill="#fff" fill-opacity="0.45" stroke="#BEBEBE" stroke-width="8.3" stroke-linejoin="round"/>
<line x1="1504.8" y1="1364.3" x2="1522.5" y2="1364.3" stroke="#BEBEBE" stroke-width="16.6"/>
<line x1="1538.1" y1="1364.3" x2="1538.1" y2="1372.4" stroke="#BEBEBE" stroke-width="8.3"/>
<line x1="1538.1" y1="1436.5" x2="1538.1" y2="1531.4" stroke="#BEBEBE" stroke-width="8.3"/>
<rect x="1529.3" y="1372.4" width="17.7" height="64.1" fill="#fff" fill-opacity="0.45" stroke="#BEBEBE" stroke-width="8.3" stroke-linejoin="round"/>
<line x1="1529.3" y1="1414.6" x2="1547" y2="1414.6" stroke="#BEBEBE" stroke-width="16.6"/>
<line x1="1562.6" y1="1391.1" x2="1562.6" y2="1437.5" stroke="#BEBEBE" stroke-width="8.3"/>
<line x1="1562.6" y1="1479.3" x2="1562.6" y2="1531.4" stroke="#BEBEBE" stroke-width="8.3"/>
<rect x="1553.8" y="1437.5" width="17.7" height="41.8" fill="#fff" fill-opacity="0.45" stroke="#BEBEBE" stroke-width="8.3" stroke-linejoin="round"/>
<line x1="1553.8" y1="1446" x2="1571.4" y2="1446" stroke="#BEBEBE" stroke-width="16.6"/>
<line x1="1587.1" y1="1429" x2="1587.1" y2="1480.3" stroke="#BEBEBE" stroke-width="8.3"/>
<line x1="1587.1" y1="1563.9" x2="1587.1" y2="1644.8" stroke="#BEBEBE" stroke-width="8.3"/>
<rect x="1578.2" y="1480.3" width="17.7" height="83.6" fill="#fff" fill-opacity="0.45" stroke="#BEBEBE" stroke-width="8.3" stroke-linejoin="round"/>
<line x1="1578.2" y1="1493.6" x2="1595.9" y2="1493.6" stroke="#BEBEBE" stroke-width="16.6"/>
<line x1="1611.5" y1="1466.8" x2="1611.5" y2="1531.4" stroke="#BEBEBE" stroke-width="8.3"/>
<rect x="1602.7" y="1531.4" width="17.7" height="113.4" fill="#fff" fill-opacity="0.45" stroke="#BEBEBE" stroke-width="8.3" stroke-linejoin="round"/>
<line x1="1602.7" y1="1596.1" x2="1620.4" y2="1596.1" stroke="#BEBEBE" stroke-width="16.6"/>
<line x1="1636" y1="1493.6" x2="1636" y2="1564.4" stroke="#BEBEBE" stroke-width="8.3"/>
<rect x="1627.1" y="1564.4" width="17.7" height="80.4" fill="#fff" fill-opacity="0.45" stroke="#BEBEBE" stroke-width="8.3" stroke-linejoin="round"/>
<line x1="1627.1" y1="1596.1" x2="1644.8" y2="1596.1" stroke="#BEBEBE" stroke-width="16.6"/>
<line x1="1660.4" y1="1531.4" x2="1660.4" y2="1596.1" stroke="#BEBEBE" stroke-width="8.3"/>
<rect x="1651.6" y="1596.1" width="17.7" height="48.7" fill="#fff" fill-opacity="0.45" stroke="#BEBEBE" stroke-width="8.3" stroke-linejoin="round"/>
<line x1="1651.6" y1="1644.8" x2="1669.3" y2="1644.8" stroke="#BEBEBE" stroke-width="16.6"/>
<line x1="1676.1" y1="1644.8" x2="1693.8" y2="1644.8" stroke="#BEBEBE" stroke-width="8.3" stroke-linecap="round"/>
<line x1="1676.1" y1="1644.8" x2="1693.8" y2="1644.8" stroke="#BEBEBE" stroke-width="16.6"/>
<line x1="1700.5" y1="1644.8" x2="1718.2" y2="1644.8" stroke="#BEBEBE" stroke-width="8.3" stroke-linecap="round"/>
<line x1="1700.5" y1="1644.8" x2="1718.2" y2="1644.8" stroke="#BEBEBE" stroke-width="16.6"/>
<line x1="1725" y1="1644.8" x2="1742.7" y2="1644.8" stroke="#BEBEBE" stroke-width="8.3" stroke-linecap="round"/>
<line x1="1725" y1="1644.8" x2="1742.7" y2="1644.8" stroke="#BEBEBE" stroke-width="16.6"/>
<line x1="1749.4" y1="1644.8" x2="1767.1" y2="1644.8" stroke="#BEBEBE" stroke-width="8.3" stroke-linecap="round"/>
<line x1="1749.4" y1="1644.8" x2="1767.1" y2="1644.8" stroke="#BEBEBE" stroke-width="16.6"/>
<line x1="1773.9" y1="1644.8" x2="1791.6" y2="1644.8" stroke="#BEBEBE" stroke-width="8.3" stroke-linecap="round"/>
<line x1="1773.9" y1="1644.8" x2="1791.6" y2="1644.8" stroke="#BEBEBE" stroke-width="16.6"/>
<line x1="1798.4" y1="1644.8" x2="1816" y2="1644.8" stroke="#BEBEBE" stroke-width="8.3" stroke-linecap="round"/>
<line x1="1798.4" y1="1644.8" x2="1816" y2="1644.8" stroke="#BEBEBE" stroke-width="16.6"/>
<line x1="1822.8" y1="1644.8" x2="1840.5" y2="1644.8" stroke="#BEBEBE" stroke-width="8.3" stroke-linecap="round"/>
<line x1="1822.8" y1="1644.8" x2="1840.5" y2="1644.8" stroke="#BEBEBE" stroke-width="16.6"/>
<line x1="1847.3" y1="1644.8" x2="1865" y2="1644.8" stroke="#BEBEBE" stroke-width="8.3" stroke-linecap="round"/>
<line x1="1847.3" y1="1644.8" x2="1865" y2="1644.8" stroke="#BEBEBE" stroke-width="16.6"/>
<line x1="1871.7" y1="1644.8" x2="1889.4" y2="1644.8" stroke="#BEBEBE" stroke-width="8.3" stroke-linecap="round"/>
<line x1="1871.7" y1="1644.8" x2="1889.4" y2="1644.8" stroke="#BEBEBE" stroke-width="16.6"/>
<line x1="1896.2" y1="1644.8" x2="1913.9" y2="1644.8" stroke="#BEBEBE" stroke-width="8.3" stroke-linecap="round"/>
<line x1="1896.2" y1="1644.8" x2="1913.9" y2="1644.8" stroke="#BEBEBE" stroke-width="16.6"/>
<line x1="1920.7" y1="1644.8" x2="1938.3" y2="1644.8" stroke="#BEBEBE" stroke-width="8.3" stroke-linecap="round"/>
<line x1="1920.7" y1="1644.8" x2="1938.3" y2="1644.8" stroke="#BEBEBE" stroke-width="16.6"/>
<line x1="1318" y1="1022.5" x2="1318" y2="1039" stroke="#000" stroke-width="7.8" stroke-linecap="round"/>
<line x1="1342.5" y1="1062.8" x2="1342.5" y2="1075.2" stroke="#000" stroke-width="7.8" stroke-linecap="round"/>
<line x1="1366.9" y1="1100.2" x2="1366.9" y2="1120.5" stroke="#000" stroke-width="7.8" stroke-linecap="round"/>
<circle cx="1391.4" cy="1137.2" r="3.9" fill="#000"/>
<line x1="1391.4" y1="1144.5" x2="1391.4" y2="1161.3" stroke="#000" stroke-width="7.8" stroke-linecap="round"/>
<circle cx="1415.8" cy="1175.2" r="3.9" fill="#000"/>
<line x1="1415.8" y1="1188.3" x2="1415.8" y2="1208" stroke="#000" stroke-width="7.8" stroke-linecap="round"/>
<line x1="1440.3" y1="1217.5" x2="1440.3" y2="1251.8" stroke="#000" stroke-width="7.8" stroke-linecap="round"/>
<circle cx="1440.3" cy="1263.7" r="3.9" fill="#000"/>
<line x1="1464.8" y1="1262.8" x2="1464.8" y2="1295.6" stroke="#000" stroke-width="7.8" stroke-linecap="round"/>
<line x1="1489.2" y1="1295.7" x2="1489.2" y2="1320.4" stroke="#000" stroke-width="7.8" stroke-linecap="round"/>
<circle cx="1489.2" cy="1331.8" r="3.9" fill="#000"/>
<circle cx="1489.2" cy="1349.9" r="3.9" fill="#000"/>
<circle cx="1489.2" cy="1356.8" r="3.9" fill="#000"/>
<circle cx="1489.2" cy="1414.6" r="3.9" fill="#000"/>
<circle cx="1513.7" cy="1331.8" r="3.9" fill="#000"/>
<circle cx="1513.7" cy="1337.5" r="3.9" fill="#000"/>
<circle cx="1513.7" cy="1343.5" r="3.9" fill="#000"/>
<circle cx="1513.7" cy="1349.9" r="3.9" fill="#000"/>
<circle cx="1513.7" cy="1356.8" r="3.9" fill="#000"/>
<circle cx="1513.7" cy="1364.3" r="3.9" fill="#000"/>
<circle cx="1513.7" cy="1372.4" r="3.9" fill="#000"/>
<circle cx="1513.7" cy="1381.3" r="3.9" fill="#000"/>
<circle cx="1513.7" cy="1391.1" r="3.9" fill="#000"/>
<circle cx="1513.7" cy="1414.6" r="3.9" fill="#000"/>
<circle cx="1513.7" cy="1446" r="3.9" fill="#000"/>
<circle cx="1538.1" cy="1364.3" r="3.9" fill="#000"/>
<circle cx="1538.1" cy="1372.4" r="3.9" fill="#000"/>
<circle cx="1538.1" cy="1391.1" r="3.9" fill="#000"/>
<circle cx="1538.1" cy="1402.1" r="3.9" fill="#000"/>
<circle cx="1538.1" cy="1414.6" r="3.9" fill="#000"/>
<circle cx="1538.1" cy="1429" r="3.9" fill="#000"/>
<circle cx="1538.1" cy="1446" r="3.9" fill="#000"/>
<circle cx="1538.1" cy="1466.8" r="3.9" fill="#000"/>
<circle cx="1538.1" cy="1531.4" r="3.9" fill="#000"/>
<circle cx="1562.6" cy="1391.1" r="3.9" fill="#000"/>
<circle cx="1562.6" cy="1402.1" r="3.9" fill="#000"/>
<circle cx="1562.6" cy="1429" r="3.9" fill="#000"/>
<circle cx="1562.6" cy="1446" r="3.9" fill="#000"/>
<circle cx="1562.6" cy="1466.8" r="3.9" fill="#000"/>
<circle cx="1562.6" cy="1493.6" r="3.9" fill="#000"/>
<circle cx="1562.6" cy="1531.4" r="3.9" fill="#000"/>
<circle cx="1562.6" cy="1596.1" r="3.9" fill="#000"/>
<circle cx="1587.1" cy="1429" r="3.9" fill="#000"/>
<circle cx="1587.1" cy="1446" r="3.9" fill="#000"/>
<circle cx="1587.1" cy="1466.8" r="3.9" fill="#000"/>
<circle cx="1587.1" cy="1493.6" r="3.9" fill="#000"/>
<circle cx="1587.1" cy="1531.4" r="3.9" fill="#000"/>
<circle cx="1587.1" cy="1596.1" r="3.9" fill="#000"/>
<circle cx="1587.1" cy="1644.8" r="3.9" fill="#000"/>
<circle cx="1611.5" cy="1466.8" r="3.9" fill="#000"/>
<circle cx="1611.5" cy="1493.6" r="3.9" fill="#000"/>
<circle cx="1611.5" cy="1531.4" r="3.9" fill="#000"/>
<circle cx="1611.5" cy="1596.1" r="3.9" fill="#000"/>
<circle cx="1611.5" cy="1644.8" r="3.9" fill="#000"/>
<circle cx="1636" cy="1493.6" r="3.9" fill="#000"/>
<circle cx="1636" cy="1531.4" r="3.9" fill="#000"/>
<circle cx="1636" cy="1596.1" r="3.9" fill="#000"/>
<circle cx="1636" cy="1644.8" r="3.9" fill="#000"/>
<circle cx="1660.4" cy="1531.4" r="3.9" fill="#000"/>
<circle cx="1660.4" cy="1596.1" r="3.9" fill="#000"/>
<circle cx="1660.4" cy="1644.8" r="3.9" fill="#000"/>
<circle cx="1684.9" cy="1596.1" r="3.9" fill="#000"/>
<circle cx="1684.9" cy="1644.8" r="3.9" fill="#000"/>
<circle cx="1709.4" cy="1596.1" r="3.9" fill="#000"/>
<circle cx="1709.4" cy="1644.8" r="3.9" fill="#000"/>
<circle cx="1733.8" cy="1596.1" r="3.9" fill="#000"/>
<circle cx="1733.8" cy="1644.8" r="3.9" fill="#000"/>
<circle cx="1758.3" cy="1596.1" r="3.9" fill="#000"/>
<circle cx="1758.3" cy="1644.8" r="3.9" fill="#000"/>
<circle cx="1782.7" cy="1596.1" r="3.9" fill="#000"/>
<circle cx="1782.7" cy="1644.8" r="3.9" fill="#000"/>
<circle cx="1807.2" cy="1596.1" r="3.9" fill="#000"/>
<circle cx="1807.2" cy="1644.8" r="3.9" fill="#000"/>
<circle cx="1831.7" cy="1644.8" r="3.9" fill="#000"/>
<circle cx="1856.1" cy="1644.8" r="3.9" fill="#000"/>
<circle cx="1880.6" cy="1644.8" r="3.9" fill="#000"/>
<circle cx="1905" cy="1644.8" r="3.9" fill="#000"/>
<circle cx="1929.5" cy="1644.8" r="3.9" fill="#000"/>
<text x="1722.2" y="1060" font-size="31.1" text-anchor="middle">range of QCC from</text>
<text x="1722.2" y="1096.8" font-size="31.1" text-anchor="middle">data analysis</text>
<line x1="1597.3" y1="1118.1" x2="1654.2" y2="1118.1" stroke="#333333" stroke-width="2.4"/>
<polygon points="1653.2,1111.6 1675.2,1118.1 1653.2,1124.6" fill="#333333"/>
<line x1="1748.1" y1="1118.1" x2="1805.2" y2="1118.1" stroke="#333333" stroke-width="2.4"/>
<polygon points="1749.1,1111.6 1726.7,1118.1 1749.1,1124.6" fill="#333333"/>
<rect x="1278" y="991" width="691" height="682.8" fill="none" stroke="#333333" stroke-width="2.1"/>
<line x1="1266.5" y1="1050" x2="1278" y2="1050" stroke="#333333" stroke-width="4.1"/>
<text x="1257.3" y="1060.6" font-size="22" text-anchor="end" fill="#4D4D4D">10<tspan font-size="15.4" dy="-11.4">−1.5</tspan></text>
<line x1="1266.5" y1="1157.5" x2="1278" y2="1157.5" stroke="#333333" stroke-width="4.1"/>
<text x="1257.3" y="1168.1" font-size="22" text-anchor="end" fill="#4D4D4D">10<tspan font-size="15.4" dy="-11.4">−2</tspan></text>
<line x1="1266.5" y1="1265" x2="1278" y2="1265" stroke="#333333" stroke-width="4.1"/>
<text x="1257.3" y="1275.6" font-size="22" text-anchor="end" fill="#4D4D4D">10<tspan font-size="15.4" dy="-11.4">−2.5</tspan></text>
<line x1="1266.5" y1="1372.5" x2="1278" y2="1372.5" stroke="#333333" stroke-width="4.1"/>
<text x="1257.3" y="1383.1" font-size="22" text-anchor="end" fill="#4D4D4D">10<tspan font-size="15.4" dy="-11.4">−3</tspan></text>
<line x1="1266.5" y1="1480" x2="1278" y2="1480" stroke="#333333" stroke-width="4.1"/>
<text x="1257.3" y="1490.6" font-size="22" text-anchor="end" fill="#4D4D4D">10<tspan font-size="15.4" dy="-11.4">−3.5</tspan></text>
<line x1="1266.5" y1="1587.5" x2="1278" y2="1587.5" stroke="#333333" stroke-width="4.1"/>
<text x="1257.3" y="1598.1" font-size="22" text-anchor="end" fill="#4D4D4D">10<tspan font-size="15.4" dy="-11.4">−4</tspan></text>
<line x1="1266.5" y1="1644.8" x2="1278" y2="1644.8" stroke="#333333" stroke-width="4.1"/>
<text x="1257.3" y="1652.8" font-size="22.8" text-anchor="end" fill="#4D4D4D">0</text>
<line x1="1318" y1="1673.8" x2="1318" y2="1685.6" stroke="#333333" stroke-width="4.1"/>
<text x="1318" y="1709.9" font-size="22.8" text-anchor="middle" fill="#4D4D4D">1.0</text>
<line x1="1440.3" y1="1673.8" x2="1440.3" y2="1685.6" stroke="#333333" stroke-width="4.1"/>
<text x="1440.3" y="1709.9" font-size="22.8" text-anchor="middle" fill="#4D4D4D">1.5</text>
<line x1="1562.6" y1="1673.8" x2="1562.6" y2="1685.6" stroke="#333333" stroke-width="4.1"/>
<text x="1562.6" y="1709.9" font-size="22.8" text-anchor="middle" fill="#4D4D4D">2.0</text>
<line x1="1684.9" y1="1673.8" x2="1684.9" y2="1685.6" stroke="#333333" stroke-width="4.1"/>
<text x="1684.9" y="1709.9" font-size="22.8" text-anchor="middle" fill="#4D4D4D">2.5</text>
<line x1="1807.2" y1="1673.8" x2="1807.2" y2="1685.6" stroke="#333333" stroke-width="4.1"/>
<text x="1807.2" y="1709.9" font-size="22.8" text-anchor="middle" fill="#4D4D4D">3.0</text>
<line x1="1929.5" y1="1673.8" x2="1929.5" y2="1685.6" stroke="#333333" stroke-width="4.1"/>
<text x="1929.5" y="1709.9" font-size="22.8" text-anchor="middle" fill="#4D4D4D">3.5</text>
<text x="1189.4" y="1328.8" font-size="30.45" text-anchor="middle" transform="rotate(-90 1189.4 1328.8)">False positive rate</text>
<text x="1497.2" y="1745.1" font-size="31.05">Hypothetical QCC</text>
<line x1="113.8" y1="1646.5" x2="427.3" y2="1646.5" stroke="#EBEBEB" stroke-width="3"/>
<line x1="113.8" y1="1472.9" x2="427.3" y2="1472.9" stroke="#EBEBEB" stroke-width="3"/>
<line x1="113.8" y1="1299.3" x2="427.3" y2="1299.3" stroke="#EBEBEB" stroke-width="3"/>
<line x1="113.8" y1="1125.7" x2="427.3" y2="1125.7" stroke="#EBEBEB" stroke-width="3"/>
<line x1="450.5" y1="1646.5" x2="763.7" y2="1646.5" stroke="#EBEBEB" stroke-width="3"/>
<line x1="450.5" y1="1472.9" x2="763.7" y2="1472.9" stroke="#EBEBEB" stroke-width="3"/>
<line x1="450.5" y1="1299.3" x2="763.7" y2="1299.3" stroke="#EBEBEB" stroke-width="3"/>
<line x1="450.5" y1="1125.7" x2="763.7" y2="1125.7" stroke="#EBEBEB" stroke-width="3"/>
<line x1="786.8" y1="1646.5" x2="1099.3" y2="1646.5" stroke="#EBEBEB" stroke-width="3"/>
<line x1="786.8" y1="1472.9" x2="1099.3" y2="1472.9" stroke="#EBEBEB" stroke-width="3"/>
<line x1="786.8" y1="1299.3" x2="1099.3" y2="1299.3" stroke="#EBEBEB" stroke-width="3"/>
<line x1="786.8" y1="1125.7" x2="1099.3" y2="1125.7" stroke="#EBEBEB" stroke-width="3"/>
<rect x="113.8" y="987.8" width="313.8" height="100.2" fill="#fff" stroke="#1A1A1A" stroke-width="1.8"/>
<line x1="112.9" y1="1088" x2="428.5" y2="1088" stroke="#1A1A1A" stroke-width="3.2"/>
<text x="281.4" y="1032.1" font-size="35.0" text-anchor="middle" fill="#1A1A1A">1 replicate,</text>
<text x="276.5" y="1067.9" font-size="35.0" text-anchor="middle" fill="#1A1A1A">no QCC correction</text>
<rect x="450.3" y="987.8" width="313.6" height="100.2" fill="#fff" stroke="#1A1A1A" stroke-width="1.8"/>
<line x1="449.4" y1="1088" x2="764.8" y2="1088" stroke="#1A1A1A" stroke-width="3.2"/>
<text x="612.6" y="1032.1" font-size="35.0" text-anchor="middle" fill="#1A1A1A">2 replicates,</text>
<text x="609.1" y="1067.9" font-size="35.0" text-anchor="middle" fill="#1A1A1A">no QCC correction</text>
<rect x="787" y="987.8" width="313.2" height="100.2" fill="#fff" stroke="#1A1A1A" stroke-width="1.8"/>
<line x1="786.1" y1="1088" x2="1101.1" y2="1088" stroke="#1A1A1A" stroke-width="3.2"/>
<text x="944.3" y="1031.8" font-size="35.0" text-anchor="middle" font-weight="bold" fill="#1A1A1A">2 replicates,</text>
<text x="944.5" y="1068.2" font-size="35.0" text-anchor="middle" font-weight="bold" fill="#1A1A1A">QCC correction</text>
<line x1="102.3" y1="1646.5" x2="113.8" y2="1646.5" stroke="#333333" stroke-width="4.1"/>
<text x="94.8" y="1654.8" font-size="22.8" text-anchor="end" fill="#4D4D4D">0.00</text>
<line x1="102.3" y1="1472.9" x2="113.8" y2="1472.9" stroke="#333333" stroke-width="4.1"/>
<text x="94.8" y="1481.2" font-size="22.8" text-anchor="end" fill="#4D4D4D">0.02</text>
<line x1="102.3" y1="1299.3" x2="113.8" y2="1299.3" stroke="#333333" stroke-width="4.1"/>
<text x="94.8" y="1307.6" font-size="22.8" text-anchor="end" fill="#4D4D4D">0.04</text>
<line x1="102.3" y1="1125.7" x2="113.8" y2="1125.7" stroke="#333333" stroke-width="4.1"/>
<text x="94.8" y="1134" font-size="22.8" text-anchor="end" fill="#4D4D4D">0.06</text>
<line x1="172.3" y1="1671.7" x2="172.3" y2="1683.5" stroke="#333333" stroke-width="4.1"/>
<text x="172.3" y="1708.3" font-size="22.8" text-anchor="middle" fill="#4D4D4D">1</text>
<line x1="270.4" y1="1671.7" x2="270.4" y2="1683.5" stroke="#333333" stroke-width="4.1"/>
<text x="270.4" y="1708.3" font-size="22.8" text-anchor="middle" fill="#4D4D4D">2</text>
<line x1="369.4" y1="1671.7" x2="369.4" y2="1683.5" stroke="#333333" stroke-width="4.1"/>
<text x="369.4" y="1708.3" font-size="22.8" text-anchor="middle" fill="#4D4D4D">3</text>
<line x1="508.6" y1="1671.7" x2="508.6" y2="1683.5" stroke="#333333" stroke-width="4.1"/>
<text x="508.6" y="1708.3" font-size="22.8" text-anchor="middle" fill="#4D4D4D">1</text>
<line x1="606.9" y1="1671.7" x2="606.9" y2="1683.5" stroke="#333333" stroke-width="4.1"/>
<text x="606.9" y="1708.3" font-size="22.8" text-anchor="middle" fill="#4D4D4D">2</text>
<line x1="705.1" y1="1671.7" x2="705.1" y2="1683.5" stroke="#333333" stroke-width="4.1"/>
<text x="705.1" y="1708.3" font-size="22.8" text-anchor="middle" fill="#4D4D4D">3</text>
<line x1="844.6" y1="1671.7" x2="844.6" y2="1683.5" stroke="#333333" stroke-width="4.1"/>
<text x="844.6" y="1708.3" font-size="22.8" text-anchor="middle" fill="#4D4D4D">1</text>
<line x1="942.9" y1="1671.7" x2="942.9" y2="1683.5" stroke="#333333" stroke-width="4.1"/>
<text x="942.9" y="1708.3" font-size="22.8" text-anchor="middle" fill="#4D4D4D">2</text>
<line x1="1041.5" y1="1671.7" x2="1041.5" y2="1683.5" stroke="#333333" stroke-width="4.1"/>
<text x="1041.5" y="1708.3" font-size="22.8" text-anchor="middle" fill="#4D4D4D">3</text>
<line x1="172.3" y1="1594.2" x2="172.3" y2="1626.6" stroke="#4A77FB" stroke-width="3.3"/>
<rect x="133.4" y="1603" width="77.5" height="17" rx="1.5" fill="#4A77FB"/>
<line x1="137" y1="1607.3" x2="207" y2="1607.3" stroke="#fff" stroke-width="1"/>
<line x1="137" y1="1616.1" x2="207" y2="1616.1" stroke="#fff" stroke-width="1"/>
<circle cx="172.3" cy="1594.2" r="3.9" fill="#000"/>
<circle cx="172.3" cy="1604.7" r="3.9" fill="#000"/>
<circle cx="172.3" cy="1611.2" r="3.9" fill="#000"/>
<circle cx="172.3" cy="1617.8" r="3.9" fill="#000"/>
<circle cx="172.3" cy="1626.6" r="3.9" fill="#000"/>
<rect x="232.1" y="1630.2" width="77.5" height="7.5" rx="2" fill="#EE30A7"/>
<circle cx="270.4" cy="1628" r="3.9" fill="#000"/>
<circle cx="270.4" cy="1631" r="3.9" fill="#000"/>
<circle cx="270.4" cy="1634" r="3.9" fill="#000"/>
<circle cx="270.4" cy="1637" r="3.9" fill="#000"/>
<circle cx="270.4" cy="1639.7" r="3.9" fill="#000"/>
<line x1="369.4" y1="1115.3" x2="369.4" y2="1170" stroke="#9ACD32" stroke-width="3.3"/>
<line x1="369.4" y1="1206.8" x2="369.4" y2="1244.4" stroke="#9ACD32" stroke-width="3.3"/>
<rect x="332.3" y="1170" width="74.2" height="36.8" fill="#fff" stroke="#9ACD32" stroke-width="3.3" stroke-linejoin="round"/>
<line x1="332.3" y1="1191.1" x2="406.5" y2="1191.1" stroke="#9ACD32" stroke-width="6.6"/>
<circle cx="369.4" cy="1115.3" r="3.9" fill="#000"/>
<circle cx="369.4" cy="1165.6" r="3.9" fill="#000"/>
<circle cx="369.4" cy="1180" r="3.9" fill="#000"/>
<circle cx="369.4" cy="1201.6" r="3.9" fill="#000"/>
<circle cx="369.4" cy="1209.5" r="3.9" fill="#000"/>
<circle cx="369.4" cy="1244.4" r="3.9" fill="#000"/>
<rect x="469.7" y="1631.8" width="77.4" height="7" rx="2" fill="#4A77FB"/>
<circle cx="508.6" cy="1626.4" r="3.9" fill="#000"/>
<circle cx="508.6" cy="1630.5" r="3.9" fill="#000"/>
<circle cx="508.6" cy="1634.6" r="3.9" fill="#000"/>
<circle cx="508.6" cy="1638.6" r="3.9" fill="#000"/>
<rect x="568.3" y="1638.8" width="77.1" height="6.9" rx="2" fill="#EE30A7"/>
<circle cx="606.9" cy="1637" r="3.9" fill="#000"/>
<circle cx="606.9" cy="1640.5" r="3.9" fill="#000"/>
<circle cx="606.9" cy="1644" r="3.9" fill="#000"/>
<circle cx="606.9" cy="1646.3" r="3.9" fill="#000"/>
<rect x="669" y="1310.1" width="73.8" height="21.9" fill="#fff" stroke="#9ACD32" stroke-width="3.3"/>
<rect x="669" y="1318.5" width="73.8" height="8" fill="#9ACD32"/>
<circle cx="705.1" cy="1273.4" r="5.0" fill="#9ACD32"/>
<circle cx="705.1" cy="1273.4" r="3.9" fill="#000"/>
<circle cx="705.1" cy="1300.4" r="3.9" fill="#000"/>
<circle cx="705.1" cy="1317" r="3.9" fill="#000"/>
<circle cx="705.1" cy="1321.5" r="3.9" fill="#000"/>
<circle cx="705.1" cy="1326" r="3.9" fill="#000"/>
<circle cx="705.1" cy="1330.5" r="3.9" fill="#000"/>
<circle cx="705.1" cy="1335" r="3.9" fill="#000"/>
<circle cx="705.1" cy="1339.5" r="3.9" fill="#000"/>
<rect x="806" y="1643" width="77.2" height="7" rx="2.5" fill="#4A77FB"/>
<rect x="904.4" y="1643" width="77" height="7" rx="2.5" fill="#EE30A7"/>
<rect x="1003.4" y="1643" width="77.1" height="7" rx="2.5" fill="#9ACD32"/>
<circle cx="844.6" cy="1646.5" r="3.9" fill="#000"/>
<circle cx="942.9" cy="1646.5" r="3.9" fill="#000"/>
<circle cx="1041.5" cy="1646.5" r="3.9" fill="#000"/>
<rect x="113.8" y="1088" width="313.5" height="583.7" fill="none" stroke="#333333" stroke-width="2.1"/>
<rect x="450.5" y="1088" width="313.2" height="583.7" fill="none" stroke="#333333" stroke-width="2.1"/>
<rect x="786.8" y="1088" width="312.5" height="583.7" fill="none" stroke="#333333" stroke-width="2.1"/>
<text x="33" y="1380.6" font-size="30.45" text-anchor="middle" transform="rotate(-90 33 1380.6)">False positive rate</text>
<text x="528.4" y="1746.7" font-size="31.1">Experiment</text>
<rect x="122" y="1799.8" width="478" height="66.2" fill="#fff" stroke="#1A1A1A" stroke-width="1.8"/>
<line x1="121.1" y1="1866" x2="600.9" y2="1866" stroke="#1A1A1A" stroke-width="3.2"/>
<text x="358.7" y="1845" font-size="35.3" text-anchor="middle" fill="#1A1A1A">original</text>
<rect x="623" y="1799.8" width="478.2" height="66.2" fill="#fff" stroke="#1A1A1A" stroke-width="1.8"/>
<line x1="622.1" y1="1866" x2="1102.1" y2="1866" stroke="#1A1A1A" stroke-width="3.2"/>
<text x="862.1" y="1844.1" font-size="35.0" text-anchor="middle" font-weight="bold" fill="#1A1A1A">divided by QCC squared</text>
<path transform="scale(.5)" d="M358 4418h0m-26 11h0m0 9h0m21 5h0m1 3h0m-4 4h0m-13 3h0m20 3h0m-1 2h0m-1 3h0m-1 2h0m2 3h0m-5 2h0m-19 1h0m21 3h0m-23 1h0m24 2h0m-25 0h0m18 1h0m4 1h0m-51 1h0m32 0h0m27 1h0m-62 1h0m35 1h0m18 0h0m-3 1h0m4 1h0m8 0h0m-7 1h0m1 1h0m6 1h0m-3 0h0m-24 1h0m12 0h0m-12 2h0m-4 0h0m-19 1h0m5 1h0m18 1h0m19 1h0m-41 1h0m38 1h0m-38 0h0m1 1h0m-6 1h0m31 1h0m-4 0h0m-22 1h0m27 1h0m-26 0h0m30 0h0m-27 1h0m16 0h0m-20 1h0m17 0h0m5 1h0m0 0h0m-22 1h0m-26 1h0m26 1h0m24 1h0m-50 1h0m6 1h0m-6 1h0m75 0h0m-27 1h0m-1 1h0m-47 2h0m48 0h0m5 1h0m14 1h0m-12 0h0m-55 1h0m26 1h0m22 0h0m-22 2h0m22 1h0m-7 1h0m-31 1h0m8 0h0m-18 1h0m0 1h0m0 0h0m0 1h0m0 1h0m0 0h0m26 1h0m22 1h0m-48 1h0m47 1h0m-21 0h0m-26 1h0m26 1h0m-2 0h0m2 1h0m18 1h0m-18 1h0m47 1h0m-25 1h0m0 1h0m-48 1h0m16 0h0m10 3h0m48 1h0m-71 1h0m73 1h0m-50 2h0m0 1h0m0 2h0m-26 1h0m0 3h0m0 1h0m63 1h0m-63 2h0m0 0h0m14 4h0m18 2h0m-32 1h0m0 2h0m48 3h0m-22 1h0m22 1h0m-4 1h0m4 2h0m-22 3h0m-26 2h0m0 4h0m26 6h0m-26 3h0m9 4h0m64 4h0m-25 6h0m21 6h0m-21 15h0m-48 23h0m139-345h0m7 44h0m-61 12h0m53 5h0m-40 7h0m50 5h0m-23 7h0m14 3h0m-2 4h0m9 2h0m-19 2h0m-18 2h0m19 1h0m-9 3h0m6 1h0m-41 2h0m13 1h0m26 2h0m-22 1h0m9 1h0m25 1h0m5 1h0m-13 1h0m-21 2h0m30 1h0m-11 2h0m10 1h0m10 1h0m9 0h0m-29 2h0m-6 1h0m-5 1h0m11 1h0m25 2h0m-37 1h0m39 1h0m-40 1h0m41 0h0m-18 3h0m-47 0h0m-2 1h0m62 1h0m-59 1h0m65 1h0m-21 2h0m10 0h0m-27 1h0m25 1h0m-38 0h0m5 2h0m-21 0h0m-6 1h0m46 1h0m-35 1h0m16 1h0m26 1h0m6 1h0m-26 1h0m3 1h0m-17 1h0m28 1h0m-39 0h0m43 1h0m-23 0h0m-5 1h0m-12 0h0m19 1h0m1 1h0m-22 0h0m63 1h0m-25 1h0m-42 0h0m30 1h0m-20 1h0m34 0h0m2 1h0m-56 1h0m2 1h0m57 0h0m-17 1h0m-6 0h0m-30 1h0m3 1h0m30 0h0m11 1h0m4 1h0m-13 0h0m36 1h0m-59 1h0m3 0h0m34 2h0m-38 0h0m20 1h0m0 1h0m6 1h0m-28 1h0m17 1h0m-27 1h0m-2 0h0m63 1h0m-52 1h0m14 2h0m16 1h0m-31 1h0m15 1h0m45 1h0m-57 0h0m10 1h0m43 2h0m-34 1h0m-32 1h0m29 2h0m-15 0h0m47 2h0m1 1h0m-55 1h0m22 2h0m9 1h0m-39 1h0m57 1h0m-57 1h0m6 1h0m18 1h0m0 1h0m42 1h0m-66 1h0m37 1h0m41 1h0m-47 2h0m34 3h0m-34 2h0m-27 2h0m9 2h0m17 2h0m-32 4h0m45 4h0m-9 3h0m-33 6h0m8 3h0m38 9h0m-37 3h0m49 18h0m-48 19h0m108-357h0m3 40h0m24 13h0m-38 7h0m-20 8h0m38 4h0m16 7h0m-14 5h0m17 4h0m-22 4h0m32 4h0m-61 3h0m31 1h0m8 1h0m6 6h0m-11 1h0m-39 2h0m14 2h0m27 1h0m6 2h0m-24 1h0m-23 2h0m41 2h0m20 2h0m-50 2h0m20 1h0m24 1h0m-29 1h0m42 0h0m-37 2h0m21 1h0m-57 1h0m5 1h0m4 1h0m42 1h0m3 1h0m-4 2h0m9 1h0m-8 1h0m12 1h0m-5 0h0m2 1h0m-22 1h0m9 2h0m-8 2h0m-23 1h0m52 1h0m-51 1h0m7 0h0m46 1h0m-33 2h0m30 0h0m-33 1h0m8 1h0m24 0h0m-28 1h0m-43 1h0m75 0h0m-51 1h0m31 0h0m6 1h0m-38 1h0m-13 1h0m25 0h0m2 1h0m-8 0h0m-18 1h0m6 0h0m21 1h0m-33 0h0m12 1h0m-18 1h0m68 1h0m-10 1h0m15 0h0m-35 2h0m17 0h0m15 1h0m-32 0h0m9 1h0m22 0h0m-12 1h0m4 1h0m-31 0h0m-6 1h0m21 1h0m-41 1h0m31 1h0m9 1h0m2 1h0m15 1h0m-39 1h0m-1 0h0m44 1h0m-46 1h0m-18 0h0m47 1h0m9 1h0m-36 1h0m38 1h0m-38 2h0m19 1h0m26 1h0m-45 1h0m-15 1h0m2 1h0m0 1h0m-2 1h0m35 1h0m-29 1h0m18 1h0m39 1h0m-1 1h0m-64 2h0m12 1h0m-3 1h0m-10 2h0m-3 2h0m26 2h0m-23 2h0m4 1h0m50 1h0m4 2h0m-28 1h0m6 1h0m-24 2h0m34 2h0m-34 3h0m26 1h0m-38 1h0m23 1h0m41 0h0m-46 2h0m30 2h0m-17 1h0m-14 1h0m8 3h0m-8 4h0m-6 3h0m34 3h0m24 3h0m-59 9h0m-10 4h0m10 10h0m32 5h0m-5 29h0m117-355h0m-51 29h0m-6 23h0m58 12h0m-13 4h0m-5 4h0m16 11h0m-35 4h0m23 3h0m-11 3h0m-13 2h0m-4 2h0m7 1h0m-23 2h0m31 4h0m0 2h0m-11 2h0m-3 1h0m-10 0h0m-3 2h0m-3 1h0m13 2h0m27 1h0m-36 1h0m5 1h0m-8 1h0m10 2h0m40 1h0m-10 1h0m-16 1h0m-5 1h0m17 2h0m-24 1h0m40 3h0m-21 1h0m-14 2h0m39 1h0m-38 1h0m34 1h0m-44 2h0m17 1h0m16 1h0m-30 1h0m39 1h0m-69 1h0m39 1h0m-33 1h0m46 1h0m5 1h0m8 1h0m-46 1h0m11 1h0m14 1h0m-15 1h0m-12 1h0m-4 1h0m28 1h0m-37 0h0m9 1h0m0 1h0m31 1h0m-14 1h0m41 0h0m-17 1h0m-34 0h0m1 1h0m-22 0h0m61 1h0m-23 1h0m-12 0h0m14 1h0m-36 1h0m-4 0h0m49 0h0m-8 1h0m-11 1h0m37 1h0m-43 1h0m42 0h0m-43 1h0m3 1h0m-7 1h0m58 0h0m-36 1h0m37 0h0m-27 1h0m18 1h0m-18 1h0m-14 0h0m34 2h0m-6 1h0m-49 0h0m-10 1h0m72 1h0m-62 1h0m-8 1h0m46 0h0m-26 1h0m32 1h0m-52 2h0m18 0h0m6 1h0m-14 1h0m11 0h0m9 1h0m12 1h0m0 1h0m14 1h0m-63 0h0m37 1h0m12 1h0m7 1h0m-12 1h0m-5 1h0m-8 1h0m-18 2h0m28 1h0m-13 1h0m-22 1h0m11 1h0m0 2h0m-18 1h0m33 1h0m33 1h0m-42 3h0m10 2h0m26 1h0m-15 2h0m-12 1h0m-20 3h0m21 1h0m26 3h0m-52 2h0m16 5h0m-10 4h0m57 3h0m-57 4h0m-13 3h0m11 7h0m-11 10h0m42 9h0m-44 17h0m154-377h0m-39 61h0m22 19h0m-1 6h0m-11 8h0m32 6h0m-29 7h0m-11 4h0m-32 9h0m63 4h0m-64 3h0m74 2h0m-6 2h0m-1 3h0m-25 1h0m4 3h0m0 3h0m-24 1h0m18 2h0m-37 2h0m71 1h0m-8 1h0m-27 1h0m-42 1h0m60 2h0m3 2h0m-45 1h0m2 2h0m29 2h0m13 1h0m-61 1h0m72 1h0m-25 1h0m14 1h0m4 0h0m-15 1h0m-42 1h0m37 1h0m26 1h0m-11 1h0m16 0h0m-49 1h0m23 2h0m-18 0h0m41 2h0m-37 0h0m-25 1h0m10 2h0m55 0h0m-37 1h0m-18 1h0m-10 1h0m5 0h0m36 1h0m-47 1h0m65 1h0m-16 1h0m20 0h0m-29 1h0m14 1h0m9 1h0m-26 1h0m-40 0h0m6 1h0m6 0h0m40 1h0m-39 0h0m59 1h0m-65 1h0m32 1h0m-11 1h0m-10 0h0m1 1h0m46 1h0m-39 1h0m-5 0h0m31 1h0m-4 1h0m14 0h0m-27 1h0m-26 0h0m9 1h0m27 1h0m16 1h0m-59 1h0m36 0h0m17 1h0m15 1h0m-2 1h0m-48 1h0m28 0h0m-16 1h0m29 1h0m-63 1h0m43 0h0m4 1h0m-17 1h0m-29 1h0m57 1h0m-38 1h0m34 0h0m15 1h0m-59 1h0m13 1h0m12 1h0m28 1h0m-26 1h0m-3 1h0m-16 1h0m36 1h0m-6 1h0m5 0h0m-37 1h0m41 0h0m-15 1h0m-12 1h0m-23 1h0m33 1h0m1 1h0m-32 1h0m25 1h0m-11 1h0m1 1h0m-15 1h0m21 1h0m-11 1h0m-22 1h0m36 2h0m5 1h0m-7 2h0m31 1h0m-32 1h0m31 2h0m-52 1h0m10 2h0m-22 1h0m0 1h0m20 2h0m1 1h0m56 2h0m-65 1h0m8 2h0m53 1h0m-62 1h0m15 4h0m12 1h0m-30 2h0m-6 5h0m16 4h0m9 2h0m25 9h0m-42 4h0m41 5h0m-49 15h0m157-311h0m-10 30h0m-8 7h0m12 11h0m-20 8h0m-6 9h0m-10 4h0m-19 3h0m48 2h0m2 3h0m-5 2h0m-49 4h0m16 1h0m12 2h0m-5 1h0m3 1h0m24 2h0m11 2h0m-63 2h0m64 3h0m-15 1h0m2 2h0m-46 1h0m5 1h0m29 1h0m23 2h0m-43 2h0m9 1h0m19 1h0m-11 0h0m-33 1h0m62 1h0m-69 1h0m47 1h0m-1 1h0m-17 1h0m15 1h0m-27 1h0m52 1h0m-54 1h0m47 1h0m-31 0h0m-12 2h0m42 0h0m-6 1h0m-4 0h0m15 2h0m-61 0h0m36 1h0m-9 1h0m39 0h0m-21 1h0m10 0h0m-45 1h0m3 1h0m50 0h0m-16 1h0m-2 1h0m-25 1h0m-29 1h0m69 1h0m-38 1h0m-23 1h0m31 1h0m-6 0h0m0 1h0m5 1h0m-16 1h0m-8 0h0m58 1h0m-23 1h0m-29 0h0m-12 1h0m3 0h0m61 1h0m-66 1h0m42 1h0m25 0h0m-48 1h0m-22 1h0m59 0h0m-60 1h0m55 1h0m-23 0h0m-9 1h0m6 1h0m18 1h0m-17 1h0m-1 1h0m-24 0h0m48 1h0m-36 1h0m16 0h0m37 2h0m-31 1h0m-32 0h0m3 1h0m56 1h0m-62 1h0m21 0h0m-27 1h0m49 1h0m-43 0h0m63 1h0m-44 1h0m-26 1h0m-3 0h0m23 1h0m40 1h0m-31 1h0m-4 1h0m4 1h0m9 1h0m0 2h0m33 1h0m-28 2h0m-22 1h0m31 2h0m-55 1h0m43 1h0m21 1h0m-13 3h0m21 1h0m-35 2h0m-4 2h0m30 2h0m-54 2h0m0 2h0m30 3h0m33 3h0m-57 6h0m-14 4h0m50 3h0m5 4h0m-56 3h0m62 2h0m-61 4h0m48 4h0m-44 3h0m-4 5h0m35 7h0m-29 13h0m17 13h0m-15 24h0m105-365h0m22 31h0m7 14h0m-19 10h0m-28 8h0m49 7h0m8 4h0m-6 4h0m12 1h0m-79 3h0m80 3h0m-32 1h0m29 2h0m-21 3h0m21 2h0m-9 3h0m9 1h0m-23 2h0m12 2h0m8 1h0m-37 3h0m3 1h0m15 2h0m-8 2h0m14 2h0m-44 1h0m-3 1h0m63 2h0m-38 1h0m-12 1h0m40 1h0m-13 1h0m-24 1h0m43 1h0m-60 1h0m12 1h0m47 1h0m-44 1h0m28 2h0m-3 1h0m-37 0h0m25 1h0m-1 0h0m27 1h0m-8 1h0m-3 1h0m-19 2h0m-19 0h0m-7 1h0m61 1h0m-48 1h0m39 1h0m-21 0h0m-24 1h0m-8 0h0m47 1h0m9 1h0m-19 0h0m23 1h0m-36 1h0m-20 0h0m63 1h0m0 1h0m-2 1h0m-51 0h0m19 1h0m5 1h0m-44 1h0m31 1h0m-8 1h0m6 1h0m44 0h0m-67 1h0m64 2h0m-15 1h0m-47 0h0m67 1h0m-70 2h0m56 1h0m-46 1h0m17 1h0m3 1h0m17 0h0m-26 1h0m23 1h0m17 1h0m-59 1h0m25 0h0m0 1h0m-5 1h0m46 0h0m-60 1h0m46 1h0m-44 1h0m45 0h0m-32 1h0m25 0h0m-53 1h0m31 0h0m10 1h0m22 1h0m-61 1h0m54 1h0m13 0h0m-34 2h0m29 1h0m-30 1h0m16 1h0m-27 1h0m-15 1h0m-5 1h0m13 1h0m-16 0h0m28 2h0m-20 1h0m56 1h0m-33 1h0m-18 0h0m7 2h0m34 0h0m-39 3h0m31 2h0m-44 2h0m24 1h0m-16 0h0m0 1h0m9 1h0m25 2h0m-12 0h0m-17 2h0m33 2h0m-44 1h0m7 5h0m38 2h0m-43 2h0m-1 2h0m50 2h0m4 2h0m-49 3h0m-1 5h0m42 14h0m-48 8h0m14 11h0m1 23h0m135-328h0m-24 30h0m26 18h0m-61 9h0m37 5h0m14 5h0m-18 3h0m-46 5h0m22 3h0m-23 3h0m74 2h0m-10 3h0m0 2h0m8 1h0m-4 3h0m-42 2h0m36 2h0m-40 1h0m47 1h0m-9 2h0m-50 1h0m47 2h0m-21 1h0m1 2h0m-6 1h0m23 2h0m-8 0h0m7 0h0m-5 2h0m-7 1h0m32 1h0m-24 1h0m6 3h0m-14 0h0m-5 2h0m-17 1h0m34 1h0m-6 1h0m13 1h0m-40 1h0m2 1h0m44 1h0m-32 2h0m13 0h0m-17 1h0m-18 2h0m38 1h0m-39 1h0m60 1h0m0 1h0m-28 1h0m21 1h0m-24 1h0m-9 0h0m2 2h0m17 0h0m-19 1h0m13 1h0m-4 1h0m-31 1h0m49 2h0m-12 1h0m-36 1h0m5 1h0m48 1h0m-26 1h0m-30 2h0m-2 1h0m24 2h0m27 1h0m-12 2h0m-35 1h0m-8 2h0m21 1h0m6 1h0m-30 2h0m15 2h0m28 1h0m-32 2h0m38 2h0m-5 1h0m-34 2h0m20 2h0m-13 1h0m-18 1h0m5 2h0m-1 3h0m20 3h0m6 1h0m-15 2h0m40 2h0m-16 3h0m-35 3h0m5 3h0m5 2h0m4 5h0m19 5h0m-22 8h0m29 6h0m-15 12h0m-12 17h0m138-309h0m-43 52h0m-30 10h0m63 5h0m-32 7h0m-14 9h0m42 4h0m-61 7h0m56 3h0m20 3h0m-37 2h0m26 3h0m-15 1h0m13 1h0m-42 3h0m52 2h0m-54 1h0m9 2h0m17 3h0m-3 2h0m3 2h0m-26 2h0m37 2h0m-25 1h0m3 3h0m-4 2h0m46 1h0m-18 1h0m-48 1h0m57 3h0m-50 2h0m26 1h0m-20 2h0m-9 2h0m60 0h0m-60 2h0m-11 1h0m53 1h0m-36 1h0m-2 2h0m15 1h0m14 1h0m-1 2h0m-26 1h0m31 3h0m-5 3h0m-1 3h0m-30 2h0m18 1h0m14 1h0m-14 4h0m-21 3h0m-12 3h0m35 3h0m-5 2h0m-23 4h0m0 2h0m19 2h0m40 4h0m-47 4h0m-19 12h0m20 16h0m3 71h0m90-298h0m26 19h0m-4 16h0m-15 6h0m22 8h0m-40 10h0m22 5h0m3 1h0m3 4h0m-9 4h0m-23 7h0m49 3h0m-46 2h0m12 4h0m-22 3h0m0 5h0m23 4h0m-9 4h0m13 5h0m24 6h0m-31 8h0m29 7h0m-49 6h0m23 11h0m10 6h0m-31 41h0m83-175h0m-427 327h0m177-213h0" stroke="#4A77FB" stroke-opacity="0.6" stroke-width="7.2" stroke-linecap="round" fill="none"/>
<path transform="scale(.5)" d="M358 4444h0m-10 8h0m6 12h0m5 5h0m-5 8h0m-22 5h0m1 4h0m-6 3h0m28 2h0m-5 3h0m-1 0h0m3 2h0m-20 2h0m16 3h0m11 1h0m-5 1h0m-3 2h0m-19 1h0m13 1h0m11 1h0m-30 1h0m6 1h0m15 1h0m-15 1h0m0 1h0m0 1h0m0 2h0m0 1h0m0 0h0m24 1h0m-37 1h0m13 1h0m0 0h0m26 1h0m-8 2h0m-18 0h0m0 1h0m19 0h0m-37 2h0m-4 0h0m22 1h0m-22 0h0m0 1h0m0 1h0m41 0h0m8 1h0m-3 1h0m-5 1h0m-67 0h0m76 1h0m-50 1h0m46 0h0m-42 1h0m18 0h0m-9 1h0m-26 1h0m60 0h0m-33 1h0m27 1h0m-40 0h0m45 0h0m-46 1h0m17 0h0m5 1h0m24 0h0m-3 2h0m-40 1h0m40 0h0m-43 0h0m22 1h0m-22 0h0m0 1h0m0 0h0m0 1h0m41 0h0m-19 1h0m19 0h0m-64 1h0m45 1h0m0 1h0m-48 1h0m48 1h0m-5 0h0m-17 1h0m13 1h0m9 0h0m-48 1h0m48 1h0m-9 0h0m25 1h0m-16 1h0m-18 1h0m-30 0h0m48 1h0m19 1h0m-65 0h0m-2 1h0m4 1h0m22 1h0m-25 1h0m65 0h0m-18 1h0m15 2h0m-34 0h0m-28 2h0m47 2h0m-40 0h0m20 2h0m-2 1h0m34 1h0m-21 1h0m-10 2h0m43 1h0m-46 2h0m47 1h0m-25 1h0m-22 2h0m-26 1h0m70 1h0m-1 1h0m-7 2h0m9 3h0m-45 1h0m22 1h0m0 3h0m8 2h0m-30 2h0m-17 4h0m39 2h0m-48 2h0m26 1h0m0 3h0m-26 4h0m20 3h0m28 2h0m-48 6h0m0 5h0m67 5h0m-41 7h0m22 6h0m0 6h0m-22 14h0m-26 18h0m123-322h0m26 14h0m-11 14h0m-27 7h0m34 4h0m4 5h0m7 6h0m-6 4h0m4 2h0m-21 2h0m12 1h0m-3 2h0m-29 2h0m25 0h0m-34 2h0m27 3h0m9 2h0m-48 2h0m42 2h0m-6 2h0m0 1h0m-32 1h0m59 3h0m-64 1h0m51 1h0m-35 1h0m46 1h0m-22 2h0m-12 1h0m13 1h0m15 0h0m-66 1h0m71 1h0m2 2h0m-37 1h0m1 1h0m37 1h0m-49 1h0m18 1h0m1 2h0m30 0h0m-63 1h0m61 1h0m-53 0h0m1 2h0m52 1h0m-9 0h0m-62 1h0m0 0h0m8 1h0m-13 1h0m23 0h0m-3 1h0m41 1h0m-10 1h0m17 0h0m-58 1h0m66 1h0m-12 1h0m-22 1h0m18 0h0m-25 1h0m11 0h0m-27 1h0m24 1h0m-30 0h0m47 1h0m13 1h0m-51 1h0m35 0h0m-21 1h0m31 1h0m-42 1h0m34 1h0m-40 0h0m31 1h0m-31 0h0m-11 1h0m-4 0h0m64 1h0m-14 1h0m-18 1h0m-16 0h0m32 1h0m-37 1h0m-9 1h0m47 1h0m13 1h0m-22 1h0m-23 0h0m27 0h0m6 1h0m-50 0h0m43 1h0m-38 1h0m54 0h0m-51 1h0m51 1h0m-37 2h0m-17 0h0m11 1h0m-15 1h0m58 0h0m-19 2h0m-5 0h0m-15 1h0m5 1h0m-10 1h0m-12 1h0m-8 1h0m60 1h0m4 1h0m-19 2h0m7 0h0m15 2h0m-65 1h0m51 1h0m22 2h0m-14 1h0m-47 2h0m9 2h0m22 2h0m-20 1h0m35 2h0m-55 2h0m-1 1h0m4 1h0m6 2h0m28 1h0m-10 2h0m-22 2h0m49 2h0m17 3h0m-46 2h0m18 3h0m-29 1h0m23 4h0m-34 5h0m14 5h0m23 6h0m-27 5h0m-7 8h0m21 17h0m74-313h0m52 25h0m-15 12h0m-21 9h0m29 4h0m-25 4h0m34 6h0m-29 3h0m19 2h0m-15 4h0m-1 3h0m-35 3h0m55 3h0m-41 2h0m39 1h0m-48 1h0m50 2h0m-21 2h0m-7 1h0m17 2h0m-37 2h0m37 1h0m-10 1h0m26 1h0m-22 1h0m-54 2h0m45 1h0m25 1h0m3 1h0m-1 1h0m-7 1h0m-57 1h0m43 1h0m-6 2h0m3 0h0m16 1h0m-49 1h0m-4 1h0m16 1h0m47 0h0m-62 2h0m53 1h0m11 0h0m-41 1h0m8 1h0m26 1h0m-12 0h0m11 1h0m-31 1h0m10 0h0m15 1h0m5 1h0m-67 1h0m33 0h0m19 1h0m-39 1h0m13 2h0m24 0h0m14 2h0m-40 0h0m50 1h0m-63 1h0m6 0h0m-3 1h0m62 1h0m-62 1h0m-7 1h0m30 1h0m30 1h0m6 0h0m-25 1h0m7 1h0m-4 1h0m-5 1h0m-30 1h0m48 1h0m-43 1h0m30 1h0m-18 0h0m21 1h0m-13 1h0m18 1h0m-34 0h0m37 1h0m-37 0h0m-1 1h0m40 1h0m-61 1h0m21 0h0m-4 1h0m35 1h0m-44 0h0m35 2h0m24 1h0m-23 1h0m-37 1h0m12 1h0m46 1h0m-20 0h0m21 1h0m-42 1h0m-5 1h0m32 0h0m-9 1h0m-19 1h0m51 1h0m-79 1h0m4 1h0m1 1h0m43 1h0m8 2h0m-33 1h0m4 1h0m-8 1h0m-4 2h0m28 0h0m-10 1h0m0 2h0m3 0h0m-1 2h0m-32 0h0m35 3h0m-17 1h0m19 1h0m-28 1h0m8 3h0m21 2h0m-31 1h0m-4 2h0m19 1h0m13 3h0m-10 3h0m-21 3h0m43 2h0m-33 5h0m11 3h0m-9 2h0m25 6h0m-22 4h0m1 9h0m47 8h0m-43 13h0m50 16h0m30-350h0m14 40h0m31 12h0m-51 7h0m49 14h0m-28 8h0m13 2h0m7 3h0m-61 4h0m71 4h0m-4 1h0m-7 3h0m-55 2h0m18 1h0m-7 3h0m36 4h0m24 1h0m-22 2h0m-5 1h0m21 1h0m-27 2h0m31 2h0m-39 3h0m17 1h0m13 1h0m-44 1h0m47 1h0m-24 2h0m25 0h0m-25 2h0m30 1h0m-36 1h0m18 1h0m-18 1h0m28 1h0m-15 1h0m-49 1h0m38 1h0m-5 2h0m19 2h0m-7 1h0m-29 2h0m14 1h0m43 1h0m-13 1h0m-3 1h0m17 1h0m-25 0h0m-18 1h0m4 1h0m3 1h0m-24 1h0m14 1h0m2 0h0m10 1h0m6 1h0m-6 1h0m-42 1h0m68 0h0m-22 1h0m-30 0h0m-3 1h0m44 0h0m-59 1h0m39 1h0m-7 0h0m-7 1h0m33 0h0m-6 1h0m21 1h0m-53 0h0m30 1h0m-23 0h0m-5 1h0m26 1h0m17 1h0m-52 1h0m40 1h0m6 1h0m-23 1h0m-5 1h0m10 1h0m-28 1h0m17 0h0m-6 1h0m27 1h0m-6 1h0m33 1h0m-24 1h0m-26 1h0m-12 0h0m-12 1h0m39 0h0m-13 1h0m19 1h0m-35 0h0m19 1h0m-12 1h0m-5 0h0m-2 1h0m4 2h0m23 0h0m-27 1h0m13 1h0m-14 1h0m51 1h0m5 0h0m-53 1h0m44 1h0m-7 1h0m-44 1h0m23 1h0m32 2h0m-27 1h0m-8 1h0m7 1h0m-9 2h0m-26 1h0m22 0h0m4 2h0m-1 1h0m-20 1h0m7 2h0m18 4h0m3 4h0m7 2h0m-21 2h0m-16 3h0m5 3h0m-2 3h0m10 4h0m-13 2h0m69 2h0m-60 4h0m-1 7h0m34 5h0m-42 8h0m18 6h0m4 27h0m59-335h0m36 28h0m38 11h0m-37 10h0m-39 8h0m40 2h0m25 4h0m-4 5h0m-13 1h0m28 4h0m-17 3h0m-29 1h0m42 5h0m-9 1h0m-56 1h0m59 1h0m-27 2h0m1 2h0m9 4h0m-29 2h0m-21 3h0m37 1h0m-26 1h0m18 2h0m4 1h0m-3 1h0m45 1h0m-7 1h0m-50 1h0m12 1h0m-26 1h0m0 1h0m19 1h0m-11 0h0m38 1h0m-34 1h0m29 1h0m31 1h0m-34 1h0m32 2h0m-1 1h0m-2 2h0m4 1h0m-49 0h0m48 1h0m-23 2h0m21 0h0m-19 1h0m-54 1h0m75 0h0m-22 1h0m-1 1h0m15 0h0m-6 1h0m-41 0h0m39 1h0m12 1h0m-3 0h0m-17 2h0m7 0h0m-36 1h0m-5 1h0m34 0h0m1 1h0m8 1h0m-41 0h0m14 1h0m26 0h0m5 1h0m2 1h0m-63 1h0m70 0h0m-23 1h0m-39 1h0m-5 1h0m33 0h0m7 1h0m8 1h0m12 0h0m-14 1h0m9 0h0m-11 2h0m10 0h0m-33 1h0m7 1h0m33 1h0m-38 0h0m-6 1h0m-20 1h0m31 1h0m45 1h0m-47 1h0m33 1h0m-23 1h0m-28 1h0m45 1h0m-8 1h0m15 1h0m11 2h0m-63 0h0m-3 1h0m27 1h0m-36 1h0m22 1h0m1 2h0m-19 1h0m40 1h0m-34 1h0m-13 1h0m4 1h0m-3 0h0m35 1h0m13 1h0m-22 1h0m12 1h0m30 1h0m-8 1h0m-7 1h0m-4 1h0m-18 1h0m31 2h0m-9 1h0m-18 1h0m35 2h0m-65 1h0m26 2h0m17 1h0m-7 1h0m-23 4h0m13 3h0m-18 1h0m17 3h0m23 1h0m-43 1h0m-6 2h0m-4 3h0m5 2h0m-2 4h0m36 2h0m-14 3h0m0 2h0m-19 2h0m53 6h0m-57 6h0m19 6h0m27 12h0m-30 14h0m111-333h0m18 41h0m1 8h0m-14 6h0m-52 9h0m73 3h0m2 4h0m-19 4h0m8 2h0m-6 2h0m-27 3h0m14 4h0m31 2h0m-31 2h0m16 2h0m-19 2h0m10 4h0m13 1h0m-5 1h0m-2 1h0m-22 1h0m-37 2h0m78 0h0m-13 2h0m-57 1h0m49 2h0m-31 0h0m31 2h0m-12 1h0m28 1h0m-46 2h0m25 1h0m21 3h0m-65 0h0m52 1h0m0 1h0m-37 1h0m-1 1h0m0 1h0m-10 1h0m30 0h0m18 1h0m-61 1h0m61 2h0m-10 1h0m-1 0h0m25 1h0m-35 1h0m-16 1h0m42 1h0m-13 1h0m8 1h0m-16 0h0m-25 1h0m2 0h0m-8 1h0m3 1h0m35 1h0m-17 0h0m-4 1h0m7 0h0m6 1h0m-37 0h0m19 1h0m-22 1h0m6 1h0m35 1h0m-43 1h0m37 1h0m24 0h0m-40 1h0m44 1h0m7 0h0m1 1h0m-41 1h0m23 0h0m17 1h0m-23 0h0m-8 1h0m-4 1h0m24 1h0m-3 0h0m-55 1h0m56 1h0m-20 1h0m-42 1h0m71 1h0m-59 0h0m-4 2h0m2 1h0m12 1h0m34 1h0m-31 1h0m26 0h0m19 1h0m8 1h0m-38 1h0m18 1h0m-38 0h0m42 1h0m-10 0h0m-13 1h0m2 2h0m1 1h0m-17 1h0m32 0h0m-53 1h0m17 1h0m-18 1h0m51 1h0m6 1h0m-55 2h0m39 1h0m-37 1h0m-5 1h0m23 1h0m12 0h0m26 1h0m-39 1h0m0 1h0m-2 2h0m-21 1h0m61 2h0m-6 1h0m-25 1h0m-26 1h0m45 1h0m-47 2h0m42 1h0m1 2h0m-23 2h0m32 2h0m-36 1h0m3 2h0m-1 1h0m37 2h0m-57 2h0m8 2h0m22 2h0m-29 4h0m40 3h0m11 4h0m-48 10h0m23 7h0m-12 9h0m11 10h0m-3 5h0m-3 34h0m124-347h0m9 34h0m-26 20h0m28 4h0m-25 3h0m-15 4h0m42 3h0m-36 3h0m6 2h0m-37 2h0m62 2h0m6 2h0m-29 2h0m-46 3h0m60 1h0m-29 1h0m6 1h0m28 3h0m-26 1h0m25 2h0m-30 1h0m14 2h0m-15 1h0m-34 2h0m44 1h0m-7 1h0m-30 1h0m58 1h0m-22 1h0m-19 1h0m-7 1h0m-6 0h0m43 2h0m-34 1h0m29 1h0m-40 1h0m26 0h0m6 1h0m-16 1h0m7 1h0m8 1h0m-21 0h0m51 1h0m-27 0h0m-43 1h0m16 1h0m52 1h0m-27 0h0m-2 2h0m0 0h0m-9 1h0m-31 0h0m18 1h0m23 1h0m-18 1h0m29 1h0m-17 1h0m-7 1h0m36 0h0m-18 1h0m2 1h0m1 0h0m0 1h0m-20 1h0m-28 0h0m29 1h0m4 1h0m5 0h0m-12 1h0m-7 0h0m16 1h0m-37 1h0m55 0h0m-10 1h0m18 0h0m-57 1h0m48 1h0m-12 0h0m22 1h0m-27 0h0m-20 1h0m13 1h0m21 1h0m-30 1h0m9 0h0m-2 1h0m-11 0h0m16 1h0m-27 1h0m36 0h0m-6 1h0m8 1h0m-10 1h0m31 0h0m-48 2h0m35 0h0m-30 1h0m7 0h0m20 1h0m-4 1h0m-27 0h0m37 2h0m-15 1h0m33 0h0m-23 2h0m-38 1h0m51 1h0m3 1h0m-42 1h0m-10 1h0m-6 1h0m19 1h0m-21 1h0m72 0h0m-65 2h0m-5 1h0m6 0h0m27 2h0m-34 1h0m0 1h0m20 0h0m-22 1h0m30 2h0m18 1h0m7 1h0m-51 1h0m11 1h0m34 2h0m-52 0h0m25 2h0m30 2h0m-40 2h0m7 1h0m8 1h0m33 1h0m-29 1h0m2 2h0m-8 2h0m-13 2h0m35 3h0m-52 3h0m0 4h0m8 2h0m13 2h0m-13 1h0m14 7h0m3 10h0m-9 4h0m-5 39h0m90-287h0m41 10h0m10 12h0m-38 6h0m3 7h0m16 3h0m-38 3h0m-13 3h0m59 2h0m-39 1h0m40 2h0m4 2h0m9 2h0m-69 2h0m43 1h0m-43 3h0m54 2h0m-37 2h0m52 0h0m-58 2h0m-8 1h0m50 2h0m10 1h0m-41 1h0m15 2h0m-27 1h0m49 0h0m-16 2h0m21 1h0m-4 1h0m6 1h0m6 1h0m-74 1h0m34 2h0m-14 0h0m6 2h0m-26 1h0m21 1h0m-11 1h0m-7 1h0m63 0h0m-11 1h0m1 1h0m-31 2h0m17 0h0m-2 1h0m-13 1h0m-20 1h0m15 1h0m18 1h0m-37 1h0m8 1h0m-1 0h0m41 1h0m-13 1h0m-41 1h0m50 1h0m-12 1h0m0 0h0m-11 2h0m29 1h0m-13 1h0m-44 1h0m49 1h0m-11 2h0m10 1h0m-2 2h0m8 1h0m-42 1h0m11 1h0m4 0h0m36 1h0m-12 1h0m3 1h0m-27 1h0m8 2h0m13 1h0m-34 2h0m-8 1h0m0 1h0m15 2h0m-12 2h0m51 2h0m-18 2h0m21 2h0m-57 2h0m31 3h0m-15 0h0m-6 1h0m30 2h0m-8 3h0m-2 1h0m-27 2h0m26 3h0m-2 5h0m-28 3h0m54 6h0m-7 4h0m-48 4h0m7 11h0m19 16h0m22 29h0m36-274h0m65 18h0m-7 10h0m-35 6h0m40 3h0m5 6h0m-15 3h0m-37 4h0m20 2h0m-18 2h0m0 1h0m3 2h0m1 2h0m1 2h0m12 3h0m35 2h0m-63 1h0m63 2h0m-45 1h0m11 2h0m3 1h0m-47 2h0m29 2h0m13 1h0m-35 2h0m63 1h0m-24 2h0m-17 1h0m-22 1h0m68 1h0m-46 2h0m-17 3h0m-6 2h0m23 1h0m11 2h0m-11 1h0m-17 1h0m27 1h0m1 3h0m9 1h0m-1 2h0m-44 1h0m36 2h0m-39 2h0m11 2h0m-7 1h0m49 1h0m-42 3h0m33 1h0m-41 3h0m35 2h0m-37 3h0m35 4h0m8 2h0m-14 2h0m-3 4h0m6 3h0m-21 4h0m4 5h0m15 14h0m92-201h0m-37 15h0m67 15h0m1 6h0m-36 8h0m39 6h0m-45 4h0m-6 4h0m0 3h0m14 5h0m-18 5h0m-12 3h0m43 4h0m-39 4h0m-3 4h0m12 5h0m16 5h0m37 5h0m-70 2h0m42 2h0m-46 6h0m45 5h0m-15 10h0m-10 20h0m67-144h0m-6 25h0m-166 254h0m-35-100h0" stroke="#EE30A7" stroke-opacity="0.6" stroke-width="7.2" stroke-linecap="round" fill="none"/>
<path transform="scale(.5)" d="M360 4379h0m-13 8h0m3 5h0m-15 4h0m-3 2h0m27 11h0m-12 5h0m-15 6h0m23 3h0m-23 4h0m0 1h0m16 2h0m-26 1h0m29 2h0m-41 2h0m16 2h0m27 1h0m2 1h0m-3 1h0m3 2h0m-47 1h0m37 1h0m5 2h0m0 2h0m-18 1h0m0 0h0m23 2h0m-23 1h0m10 1h0m-32 1h0m22 1h0m0 1h0m5 1h0m-5 1h0m0 1h0m15 0h0m-37 0h0m-26 2h0m8 0h0m44 1h0m5 1h0m-57 1h0m39 0h0m-13 1h0m25 1h0m16 0h0m-19 2h0m-4 1h0m-20 0h0m24 1h0m-22 0h0m25 1h0m-29 0h0m46 1h0m-68 1h0m26 2h0m-26 1h0m31 0h0m-1 1h0m38 0h0m-42 1h0m0 1h0m0 0h0m0 1h0m0 1h0m0 1h0m-26 1h0m0 1h0m26 1h0m37 1h0m-63 0h0m66 0h0m-40 1h0m-3 0h0m-16 1h0m-7 1h0m67 1h0m-41 0h0m-26 1h0m69 0h0m-6 1h0m7 1h0m-44 1h0m-15 0h0m37 1h0m23 1h0m-67 0h0m57 1h0m-13 0h0m-48 1h0m0 1h0m35 1h0m8 1h0m-43 1h0m21 0h0m5 2h0m0 1h0m0 0h0m41 1h0m-61 1h0m59 1h0m-65 1h0m48 1h0m0 1h0m0 2h0m-22 0h0m22 2h0m-8 2h0m36 1h0m-76 2h0m26 1h0m24 1h0m-24 2h0m22 2h0m0 1h0m-22 2h0m28 1h0m-28 1h0m-26 2h0m37 1h0m-36 2h0m-1 1h0m48 2h0m-22 3h0m48 2h0m-74 2h0m26 3h0m22 1h0m-48 3h0m48 2h0m-37 6h0m15 4h0m-26 2h0m48 2h0m28 10h0m-50 5h0m22 13h0m-43 2h0m21 13h0m-18 12h0m132-336h0m-62 30h0m21 9h0m57 7h0m-8 6h0m-16 6h0m-30 7h0m35 2h0m-7 3h0m-22 1h0m-2 3h0m45 3h0m-54 2h0m19 2h0m7 2h0m-10 1h0m41 2h0m-49 3h0m44 1h0m-40 2h0m-4 1h0m-15 1h0m61 1h0m-22 1h0m24 1h0m-43 2h0m27 1h0m3 2h0m-26 1h0m30 2h0m-51 1h0m0 2h0m54 1h0m-12 0h0m-33 1h0m18 1h0m28 2h0m-34 1h0m-19 2h0m11 0h0m45 1h0m-62 0h0m61 1h0m-1 1h0m1 1h0m-31 1h0m-42 1h0m35 1h0m21 1h0m-30 1h0m28 1h0m-25 0h0m17 1h0m32 1h0m-52 1h0m-3 1h0m13 1h0m25 0h0m-8 1h0m-12 1h0m-5 1h0m-12 1h0m46 0h0m-45 1h0m-1 0h0m7 1h0m1 1h0m38 0h0m-58 1h0m44 1h0m-44 0h0m41 1h0m-9 0h0m-32 1h0m14 1h0m7 0h0m45 1h0m-52 0h0m-13 1h0m58 0h0m-40 1h0m37 1h0m-67 1h0m76 0h0m-77 1h0m17 0h0m18 1h0m9 1h0m2 0h0m-25 1h0m56 1h0m-47 0h0m37 1h0m-44 1h0m-5 0h0m19 1h0m-18 1h0m-8 1h0m30 1h0m-34 2h0m63 0h0m-67 2h0m57 0h0m-25 1h0m-24 1h0m66 1h0m-68 1h0m39 1h0m-10 1h0m-10 1h0m-6 0h0m-4 2h0m4 1h0m-8 1h0m15 2h0m14 1h0m-3 1h0m-31 1h0m27 1h0m-5 1h0m-9 1h0m8 2h0m42 1h0m-35 1h0m-26 1h0m16 2h0m43 1h0m-38 2h0m-2 1h0m-2 2h0m-11 3h0m32 2h0m26 2h0m-63 5h0m60 1h0m-56 5h0m13 2h0m-12 2h0m12 2h0m-25 2h0m20 2h0m37 7h0m-25 3h0m-23 3h0m51 4h0m-17 9h0m2 7h0m-41 19h0m-8 60h0m130-403h0m1 27h0m22 16h0m-21 5h0m-5 7h0m31 7h0m-5 5h0m-68 4h0m46 4h0m-37 1h0m21 4h0m-3 5h0m20 3h0m8 2h0m-58 4h0m16 1h0m33 2h0m-10 1h0m-17 1h0m27 2h0m-36 3h0m27 2h0m25 2h0m-2 4h0m-63 1h0m35 2h0m-37 1h0m77 1h0m-22 1h0m-46 0h0m33 1h0m-22 1h0m33 2h0m-54 0h0m40 1h0m6 2h0m-14 1h0m31 1h0m16 1h0m-20 1h0m17 1h0m-29 2h0m1 1h0m-26 1h0m-16 2h0m10 0h0m47 1h0m-58 1h0m74 1h0m-28 0h0m-17 1h0m23 0h0m-34 1h0m0 1h0m-20 1h0m27 0h0m5 1h0m-17 1h0m12 2h0m4 1h0m13 1h0m-14 0h0m40 1h0m-6 1h0m-40 0h0m25 1h0m2 1h0m-18 1h0m36 1h0m0 1h0m-55 1h0m42 1h0m-30 0h0m-18 1h0m-2 0h0m22 1h0m1 1h0m-22 0h0m20 1h0m11 1h0m18 1h0m15 1h0m-71 1h0m13 0h0m51 1h0m-64 1h0m61 0h0m-13 1h0m-33 1h0m39 0h0m-41 2h0m53 0h0m-11 1h0m14 0h0m7 1h0m-16 1h0m-27 0h0m-30 0h0m57 2h0m5 0h0m-42 2h0m-3 1h0m-13 0h0m58 1h0m-64 1h0m42 1h0m-15 1h0m-24 1h0m68 0h0m-59 2h0m38 1h0m-33 1h0m2 1h0m-16 1h0m14 1h0m9 1h0m7 2h0m-1 0h0m-11 1h0m3 1h0m-22 2h0m3 2h0m28 1h0m-31 1h0m4 2h0m1 1h0m59 1h0m1 1h0m-7 1h0m-33 1h0m-28 3h0m0 1h0m24 1h0m-20 2h0m-2 3h0m71 2h0m-33 1h0m-11 2h0m32 3h0m-58 2h0m7 5h0m0 2h0m-3 7h0m38 7h0m-20 2h0m23 6h0m-40 19h0m6 18h0m-16 14h0m147-379h0m6 32h0m-47 16h0m34 14h0m-18 4h0m13 4h0m10 3h0m10 6h0m-3 7h0m-51 3h0m3 2h0m-3 3h0m11 2h0m9 4h0m-4 6h0m28 2h0m12 3h0m-66 2h0m67 2h0m-55 2h0m21 2h0m24 1h0m-41 2h0m11 1h0m5 1h0m1 3h0m-2 1h0m-26 1h0m55 1h0m-12 3h0m18 0h0m-38 2h0m9 1h0m19 0h0m-2 1h0m10 2h0m-28 1h0m-37 1h0m48 1h0m-5 2h0m-37 1h0m33 1h0m9 1h0m-32 1h0m14 0h0m-10 2h0m0 0h0m7 1h0m26 1h0m8 0h0m-37 1h0m15 1h0m-12 1h0m-14 1h0m29 1h0m-42 1h0m-9 1h0m6 1h0m65 0h0m4 0h0m-10 1h0m-55 1h0m10 1h0m16 1h0m-26 1h0m56 1h0m-64 1h0m44 1h0m32 1h0m-74 1h0m11 1h0m41 0h0m13 1h0m-42 1h0m-22 0h0m17 1h0m40 0h0m-34 1h0m6 1h0m-6 1h0m-4 0h0m14 2h0m31 0h0m-25 1h0m32 1h0m-68 1h0m46 0h0m-25 1h0m8 1h0m-1 1h0m35 0h0m-15 1h0m-16 1h0m17 1h0m-47 1h0m11 1h0m-8 1h0m6 1h0m11 1h0m-14 1h0m-15 0h0m71 1h0m-27 1h0m-29 1h0m3 2h0m31 1h0m26 1h0m-59 1h0m55 0h0m-12 1h0m-49 2h0m4 0h0m45 1h0m-51 1h0m46 1h0m-13 2h0m-22 1h0m7 1h0m33 1h0m-43 1h0m26 1h0m12 1h0m-51 2h0m41 1h0m11 2h0m-33 2h0m20 3h0m22 2h0m-55 3h0m-5 1h0m22 1h0m3 1h0m-25 3h0m4 3h0m19 4h0m6 2h0m-7 4h0m-23 7h0m10 3h0m34 7h0m-43 3h0m60 9h0m-35 12h0m-30 20h0m7 26h0m140-418h0m11 65h0m-1 21h0m-10 7h0m-22 9h0m30 8h0m-75 6h0m75 3h0m-29 2h0m-22 4h0m54 4h0m-22 3h0m7 1h0m12 2h0m-10 2h0m-4 3h0m-3 2h0m-9 2h0m9 0h0m-41 2h0m59 2h0m-3 2h0m-46 0h0m-12 2h0m-9 1h0m66 2h0m-11 0h0m16 1h0m-67 2h0m37 1h0m-34 2h0m-9 2h0m71 1h0m-7 1h0m-39 1h0m40 1h0m-57 2h0m22 1h0m-10 1h0m-22 1h0m71 1h0m-51 1h0m30 1h0m15 1h0m-2 0h0m-54 1h0m0 1h0m36 1h0m24 1h0m-30 1h0m35 0h0m-12 2h0m-23 1h0m18 1h0m-1 0h0m-43 1h0m2 1h0m43 1h0m-41 2h0m4 1h0m28 1h0m-3 0h0m-31 1h0m41 1h0m11 1h0m-27 0h0m32 1h0m-1 1h0m-13 1h0m-55 0h0m12 2h0m50 0h0m8 2h0m-4 0h0m-46 0h0m-4 1h0m-9 1h0m28 1h0m-13 2h0m-11 0h0m29 1h0m-29 0h0m22 2h0m-14 1h0m25 0h0m-45 1h0m9 2h0m54 1h0m-43 0h0m8 1h0m-17 1h0m45 1h0m-20 1h0m32 1h0m-73 1h0m17 1h0m-6 0h0m7 1h0m6 1h0m4 1h0m-18 2h0m-9 0h0m6 1h0m19 1h0m-5 1h0m-3 1h0m30 1h0m-13 1h0m-3 0h0m-7 2h0m34 1h0m-35 1h0m29 1h0m-37 0h0m-10 1h0m53 1h0m-18 1h0m-22 1h0m-3 1h0m44 1h0m-7 1h0m-47 2h0m4 1h0m37 2h0m2 1h0m-9 1h0m-25 2h0m3 1h0m-15 3h0m-2 2h0m61 4h0m-20 1h0m-43 2h0m14 3h0m42 2h0m12 4h0m-59 9h0m17 6h0m-16 3h0m8 4h0m-9 17h0m-1 5h0m150-350h0m0 52h0m-48 22h0m-12 6h0m-8 8h0m34 3h0m-36 5h0m33 2h0m1 1h0m24 5h0m-20 2h0m15 1h0m-2 2h0m-5 4h0m8 1h0m-22 2h0m35 3h0m-63 2h0m9 1h0m-11 2h0m48 2h0m17 1h0m-23 3h0m-11 1h0m3 3h0m20 1h0m-27 1h0m-17 3h0m36 0h0m-15 2h0m27 1h0m-14 1h0m-30 0h0m-20 1h0m9 1h0m31 2h0m-5 1h0m-32 1h0m52 1h0m-52 1h0m67 1h0m-41 1h0m-29 0h0m35 1h0m16 1h0m-27 0h0m32 1h0m-6 2h0m8 0h0m-19 1h0m17 1h0m-6 0h0m-21 1h0m-23 1h0m18 1h0m41 2h0m-63 0h0m13 1h0m53 1h0m-38 1h0m32 0h0m-43 1h0m-9 0h0m32 2h0m7 0h0m18 1h0m-19 1h0m15 1h0m-10 0h0m-42 1h0m-7 2h0m57 0h0m-32 0h0m-1 1h0m17 1h0m-32 0h0m47 1h0m15 1h0m-62 1h0m53 0h0m-31 1h0m9 0h0m9 1h0m3 1h0m2 2h0m-11 0h0m-34 1h0m22 1h0m-4 1h0m-19 0h0m-3 1h0m2 1h0m48 1h0m-25 1h0m32 1h0m-67 1h0m7 1h0m54 1h0m-21 2h0m19 1h0m6 1h0m-65 1h0m61 1h0m-8 0h0m-56 1h0m37 1h0m36 1h0m-57 1h0m43 2h0m-31 1h0m5 1h0m11 1h0m-24 2h0m58 1h0m-69 1h0m-5 0h0m23 2h0m-8 2h0m5 1h0m17 3h0m-32 2h0m45 1h0m-31 2h0m-22 1h0m47 2h0m-25 2h0m7 1h0m6 2h0m19 1h0m15 2h0m-70 4h0m48 1h0m15 3h0m-11 2h0m-15 3h0m-36 2h0m10 3h0m32 3h0m-40 6h0m36 4h0m15 28h0m-26 27h0m93-369h0m8 41h0m-1 14h0m11 16h0m-53 10h0m69 7h0m-39 2h0m28 4h0m-28 1h0m18 3h0m-40 2h0m56 2h0m7 2h0m-34 1h0m-24 1h0m33 1h0m27 1h0m-3 2h0m0 3h0m-16 2h0m13 1h0m-57 2h0m61 1h0m-66 1h0m65 1h0m-72 1h0m38 1h0m5 2h0m15 1h0m-34 2h0m10 1h0m41 1h0m-36 2h0m-38 1h0m40 1h0m-13 2h0m44 1h0m-22 1h0m-6 1h0m31 1h0m-45 1h0m0 0h0m15 1h0m-8 1h0m-17 2h0m-8 0h0m22 1h0m-30 1h0m45 0h0m25 2h0m-4 1h0m-63 1h0m23 0h0m8 1h0m-36 2h0m60 1h0m6 0h0m-25 1h0m-27 1h0m30 1h0m14 1h0m-12 2h0m-13 0h0m-12 1h0m-3 1h0m-24 1h0m25 0h0m-18 1h0m26 1h0m14 1h0m-3 1h0m-4 2h0m1 1h0m-27 1h0m65 0h0m-30 1h0m-23 0h0m16 2h0m38 0h0m-39 2h0m-34 0h0m19 1h0m18 1h0m-17 1h0m45 1h0m-32 1h0m-14 1h0m-17 1h0m2 0h0m17 1h0m4 1h0m-30 1h0m60 2h0m-49 2h0m48 1h0m-60 1h0m12 1h0m33 2h0m-18 1h0m-21 2h0m52 3h0m-49 0h0m31 1h0m-33 2h0m8 0h0m-3 2h0m-6 1h0m-7 1h0m53 1h0m-50 2h0m6 1h0m38 2h0m-39 2h0m51 1h0m-24 1h0m-33 1h0m30 2h0m37 3h0m-48 1h0m-6 3h0m12 1h0m-17 2h0m36 2h0m-33 2h0m-11 2h0m74 1h0m-67 3h0m26 5h0m-26 5h0m-6 4h0m6 7h0m-8 6h0m17 7h0m41 6h0m-42 23h0m-11 17h0m95-344h0m24 26h0m7 8h0m7 11h0m17 10h0m-1 5h0m-53 3h0m30 2h0m-22 4h0m6 3h0m38 4h0m-1 6h0m-17 2h0m-14 3h0m-18 3h0m-4 1h0m59 1h0m-70 2h0m57 2h0m-7 1h0m2 2h0m16 1h0m-41 2h0m0 1h0m1 2h0m-3 1h0m-11 1h0m47 1h0m-19 1h0m15 2h0m-30 2h0m36 1h0m-68 1h0m23 1h0m-6 1h0m29 1h0m-39 1h0m27 1h0m-16 1h0m21 1h0m19 0h0m-32 2h0m-6 1h0m17 2h0m29 0h0m6 1h0m-21 1h0m-45 1h0m60 1h0m-39 0h0m2 1h0m29 2h0m-2 1h0m9 1h0m-26 1h0m-11 2h0m-15 1h0m55 1h0m-43 1h0m15 1h0m12 0h0m2 1h0m-6 1h0m-41 1h0m51 1h0m2 1h0m-60 1h0m61 1h0m-25 0h0m-2 2h0m-23 1h0m30 1h0m17 1h0m-33 1h0m-5 3h0m42 1h0m-52 2h0m5 2h0m58 1h0m-25 1h0m-41 2h0m3 3h0m-9 2h0m5 2h0m9 0h0m18 3h0m20 1h0m-39 1h0m-1 2h0m-2 0h0m4 2h0m2 1h0m-14 2h0m55 3h0m-7 1h0m-13 4h0m-41 2h0m0 3h0m8 4h0m-5 2h0m56 2h0m-48 5h0m6 3h0m37 6h0m-52 5h0m12 6h0m-14 4h0m10 10h0m-7 27h0m123-317h0m-14 19h0m8 24h0m-41 5h0m61 8h0m10 6h0m-68 5h0m76 2h0m-61 4h0m44 4h0m-27 4h0m-23 3h0m44 1h0m-55 5h0m59 1h0m-12 4h0m-27 2h0m42 3h0m-17 4h0m-3 1h0m21 3h0m-46 3h0m27 2h0m-13 1h0m34 1h0m-5 2h0m-37 5h0m-1 2h0m48 2h0m-34 2h0m-15 2h0m18 3h0m-32 1h0m30 2h0m5 2h0m20 2h0m-51 1h0m-8 2h0m4 2h0m-5 1h0m62 3h0m-17 2h0m-36 2h0m-6 3h0m16 1h0m39 2h0m-36 2h0m0 3h0m14 2h0m28 2h0m-47 3h0m-19 4h0m52 2h0m-22 4h0m-1 2h0m-3 3h0m-9 4h0m-10 10h0m28 10h0m-13 18h0m-18 36h0m147-254h0m-33 4h0m19 17h0m-32 7h0m44 8h0m-43 2h0m20 6h0m-9 7h0m-28 8h0m50 6h0m-54 2h0m12 2h0m-15 4h0m14 4h0m34 5h0m-25 3h0m0 3h0m10 5h0m-25 5h0m-7 14h0m16 9h0m14 10h0m23 9h0m-48 13h0m3 8h0m81-154h0m-11 55h0m-353 364h0m328-354h0" stroke="#9ACD32" stroke-opacity="0.6" stroke-width="7.2" stroke-linecap="round" fill="none"/>
<path transform="scale(.5)" d="M355 4419h0m-23 10h0m25 10h0m-47 4h0m47 3h0m-8 4h0m2 3h0m-4 4h0m11 2h0m-7 4h0m-42 1h0m24 2h0m-1 2h0m-10 3h0m-12 1h0m46 1h0m-24 2h0m0 0h0m22 1h0m-23 1h0m1 1h0m0 1h0m10 0h0m-10 1h0m21 1h0m-11 0h0m-10 1h0m-1 1h0m19 1h0m-18 0h0m-22 1h0m41 1h0m-22 1h0m3 0h0m19 0h0m-19 2h0m-45 1h0m72 0h0m-44 1h0m25 1h0m-30 1h0m14 1h0m22 1h0m-14 0h0m0 1h0m-48 1h0m25 1h0m-21 0h0m63 1h0m-19 1h0m-14 0h0m14 0h0m17 1h0m-65 0h0m48 1h0m0 0h0m0 1h0m-22 0h0m0 1h0m0 1h0m40 2h0m-40 0h0m5 1h0m23 1h0m-28 1h0m0 1h0m41 0h0m-41 1h0m-3 2h0m44 0h0m-41 1h0m-26 1h0m26 1h0m28 0h0m-28 1h0m0 0h0m-26 3h0m71 0h0m-4 1h0m-67 1h0m48 1h0m27 0h0m-75 1h0m24 0h0m-24 1h0m0 1h0m20 0h0m5 2h0m50 1h0m-25 0h0m-50 1h0m0 1h0m44 0h0m25 1h0m-1 0h0m-68 1h0m0 1h0m0 1h0m37 2h0m-11 1h0m39 0h0m-17 1h0m0 0h0m-48 3h0m48 1h0m-48 1h0m0 2h0m67 1h0m-67 1h0m64 2h0m-58 1h0m-1 3h0m37 1h0m25 1h0m-41 2h0m0 1h0m0 3h0m0 2h0m2 2h0m-28 1h0m26 3h0m0 1h0m22 2h0m-22 1h0m-26 1h0m7 4h0m41 1h0m-22 4h0m23 6h0m-40 5h0m-9 3h0m0 3h0m26 6h0m41 8h0m-25 16h0m-39 26h0m141-335h0m-5 31h0m-28 10h0m-21 5h0m1 7h0m-9 5h0m66 6h0m-1 3h0m-44 4h0m38 2h0m-1 2h0m-7 3h0m-41 0h0m45 3h0m-53 1h0m50 2h0m-3 1h0m9 2h0m-3 2h0m14 0h0m-12 1h0m-14 1h0m-11 2h0m-31 2h0m20 1h0m11 1h0m33 1h0m4 1h0m-34 1h0m-20 1h0m-10 1h0m24 1h0m12 1h0m-21 2h0m43 1h0m-26 1h0m-3 1h0m-14 1h0m21 2h0m28 1h0m-1 0h0m-46 1h0m40 1h0m-49 1h0m49 2h0m-22 0h0m2 1h0m24 1h0m-7 0h0m-20 2h0m10 0h0m-14 1h0m7 1h0m8 1h0m-4 1h0m3 1h0m-29 1h0m24 1h0m-17 2h0m22 0h0m-38 1h0m20 0h0m36 1h0m-37 0h0m-19 1h0m8 0h0m0 1h0m32 1h0m-25 0h0m21 1h0m-23 1h0m39 0h0m0 1h0m-57 1h0m20 1h0m13 0h0m-14 1h0m-22 1h0m25 0h0m26 1h0m-36 0h0m19 1h0m14 1h0m-3 0h0m-42 1h0m11 1h0m30 0h0m-12 1h0m-17 1h0m43 1h0m8 1h0m-69 0h0m-5 1h0m64 1h0m-63 1h0m-1 1h0m31 1h0m-12 1h0m-13 1h0m36 0h0m2 2h0m11 1h0m-18 1h0m-4 1h0m19 1h0m-6 1h0m-29 1h0m-4 0h0m51 2h0m-63 1h0m58 1h0m-51 2h0m33 1h0m36 1h0m-50 1h0m35 1h0m13 2h0m-54 1h0m10 1h0m0 1h0m-14 1h0m22 1h0m-11 1h0m-21 1h0m0 1h0m32 1h0m-25 2h0m27 0h0m-18 2h0m-7 3h0m-8 3h0m60 2h0m-68 2h0m57 1h0m-19 4h0m35 5h0m-55 3h0m58 5h0m-70 3h0m5 9h0m15 4h0m-1 25h0m0 15h0m126-350h0m-47 29h0m43 15h0m6 9h0m-58 4h0m56 5h0m0 7h0m-40 5h0m20 4h0m-49 3h0m48 4h0m14 3h0m9 1h0m-25 2h0m-9 5h0m-16 2h0m-2 2h0m24 1h0m-23 2h0m-13 2h0m21 1h0m17 2h0m-2 2h0m20 1h0m8 2h0m-36 1h0m12 1h0m-42 1h0m57 1h0m7 1h0m-16 1h0m-42 1h0m37 1h0m1 1h0m-39 1h0m43 2h0m-11 1h0m26 1h0m-35 1h0m-15 1h0m25 1h0m-36 1h0m3 0h0m-12 3h0m26 1h0m51 1h0m-60 1h0m-10 1h0m36 0h0m-5 1h0m16 2h0m8 0h0m8 1h0m-1 1h0m-30 0h0m24 1h0m-41 1h0m51 0h0m-29 1h0m-27 0h0m30 1h0m22 1h0m-2 1h0m-52 0h0m50 1h0m-52 0h0m9 1h0m-13 1h0m33 0h0m8 0h0m-37 1h0m-6 1h0m57 1h0m-11 1h0m-40 0h0m22 2h0m0 1h0m13 0h0m-12 0h0m-9 1h0m-16 0h0m50 1h0m-52 1h0m47 0h0m-29 1h0m24 1h0m-16 1h0m8 1h0m-5 1h0m-29 2h0m14 0h0m49 1h0m-36 1h0m-23 0h0m30 1h0m5 1h0m-10 0h0m-31 1h0m56 2h0m-40 0h0m39 2h0m-46 1h0m57 2h0m-51 0h0m55 2h0m-62 0h0m33 1h0m-19 1h0m6 1h0m-9 1h0m-23 1h0m-4 1h0m34 1h0m5 2h0m-27 1h0m-9 1h0m73 2h0m-67 2h0m-6 3h0m-3 1h0m50 2h0m-31 0h0m16 2h0m8 1h0m-33 2h0m32 1h0m-37 2h0m-5 3h0m14 1h0m0 1h0m-7 1h0m17 1h0m-6 1h0m-13 2h0m-2 2h0m-1 0h0m72 3h0m-70 5h0m2 3h0m26 3h0m-17 2h0m63 10h0m-60 7h0m17 9h0m-10 4h0m-19 36h0m113-356h0m-5 26h0m5 19h0m-1 12h0m16 4h0m13 7h0m9 7h0m-71 4h0m68 3h0m-44 3h0m49 2h0m-42 2h0m30 1h0m-27 2h0m0 4h0m36 2h0m-4 2h0m4 1h0m-31 1h0m4 1h0m6 2h0m21 1h0m-7 1h0m-31 1h0m41 2h0m-54 0h0m19 2h0m15 1h0m-5 1h0m-46 1h0m63 1h0m-4 2h0m8 2h0m-41 2h0m43 1h0m-14 2h0m-29 1h0m20 1h0m0 2h0m-46 1h0m54 1h0m-31 1h0m42 1h0m-44 1h0m39 1h0m-11 1h0m-38 1h0m29 1h0m26 2h0m-41 0h0m-6 1h0m44 1h0m-37 1h0m6 1h0m-32 1h0m2 2h0m71 0h0m-15 0h0m-57 1h0m10 1h0m38 1h0m18 1h0m-4 0h0m-28 1h0m8 0h0m13 1h0m-22 0h0m5 1h0m2 1h0m-6 0h0m6 1h0m-9 1h0m31 0h0m-44 1h0m21 0h0m-2 1h0m20 1h0m6 1h0m-6 0h0m10 1h0m-26 1h0m-8 1h0m2 0h0m5 1h0m-27 0h0m-1 1h0m-20 1h0m27 1h0m-26 1h0m44 1h0m-29 1h0m-6 1h0m7 0h0m42 1h0m17 1h0m-43 1h0m-8 1h0m9 0h0m15 1h0m-40 2h0m50 0h0m4 1h0m-30 1h0m-2 0h0m-25 1h0m22 1h0m43 1h0m-26 1h0m-37 1h0m12 0h0m13 1h0m-11 1h0m14 1h0m-24 2h0m-2 0h0m58 2h0m-35 1h0m10 1h0m-22 1h0m50 1h0m-56 2h0m-9 1h0m33 1h0m-36 1h0m62 4h0m11 1h0m-55 1h0m24 2h0m12 2h0m-52 2h0m50 3h0m12 1h0m-63 4h0m32 4h0m-23 4h0m60 3h0m-30 3h0m-28 3h0m37 9h0m-43 10h0m5 8h0m47 16h0m58-351h0m31 36h0m10 18h0m-42 9h0m-22 5h0m0 7h0m55 6h0m7 5h0m0 9h0m-4 3h0m-29 4h0m-18 2h0m13 2h0m22 2h0m-42 2h0m26 3h0m-41 2h0m67 2h0m-27 2h0m27 1h0m-40 1h0m16 1h0m-28 2h0m-2 1h0m57 1h0m-20 2h0m4 1h0m-56 2h0m67 2h0m10 1h0m-3 1h0m-24 1h0m-44 2h0m71 0h0m-41 1h0m23 0h0m4 1h0m-56 1h0m25 1h0m18 1h0m4 1h0m-31 0h0m30 2h0m-6 0h0m3 2h0m16 0h0m-39 1h0m-12 2h0m26 0h0m-42 1h0m49 1h0m4 1h0m-46 1h0m45 0h0m-45 1h0m12 1h0m53 1h0m-48 0h0m42 1h0m-35 1h0m1 1h0m23 1h0m-50 0h0m55 1h0m-46 0h0m52 1h0m-50 1h0m0 1h0m44 0h0m13 1h0m-36 1h0m0 0h0m-38 1h0m1 1h0m24 1h0m54 0h0m-42 1h0m12 1h0m11 0h0m-19 1h0m32 0h0m-70 1h0m2 1h0m33 1h0m-8 1h0m-27 1h0m7 0h0m-3 1h0m69 1h0m-13 1h0m-4 1h0m-34 0h0m-2 1h0m38 1h0m-62 0h0m49 1h0m-7 1h0m-38 1h0m45 1h0m-33 1h0m-4 0h0m33 1h0m-13 1h0m-29 1h0m43 1h0m-13 1h0m14 1h0m-24 1h0m-1 1h0m-8 1h0m-14 1h0m18 0h0m9 1h0m-7 1h0m20 0h0m-8 1h0m25 1h0m-35 1h0m-10 1h0m16 2h0m51 1h0m-70 0h0m36 1h0m2 1h0m-31 1h0m41 1h0m-28 1h0m-22 3h0m1 1h0m27 1h0m0 1h0m4 2h0m-22 1h0m30 1h0m27 2h0m-33 2h0m-33 1h0m22 1h0m-12 1h0m-18 2h0m33 2h0m-18 1h0m27 1h0m27 1h0m-10 4h0m-14 1h0m-7 3h0m-1 5h0m-36 4h0m7 3h0m3 7h0m7 5h0m3 8h0m-20 17h0m152-314h0m-4 28h0m6 6h0m-27 11h0m16 9h0m9 8h0m-63 4h0m63 3h0m6 3h0m-47 2h0m-23 2h0m63 4h0m8 1h0m-52 2h0m13 1h0m37 2h0m-7 1h0m-66 2h0m38 2h0m-24 3h0m-7 1h0m-3 2h0m16 1h0m43 1h0m-22 1h0m33 2h0m-20 3h0m-14 0h0m25 1h0m2 0h0m-68 1h0m68 1h0m4 1h0m-25 1h0m27 1h0m-61 1h0m10 1h0m53 1h0m-66 2h0m21 0h0m24 1h0m9 1h0m-29 1h0m-25 0h0m62 1h0m-58 0h0m56 2h0m-57 1h0m41 0h0m-39 1h0m-13 0h0m43 1h0m10 0h0m-46 1h0m1 1h0m-2 0h0m22 1h0m-4 1h0m25 1h0m20 1h0m-1 1h0m-60 1h0m48 1h0m-46 1h0m-1 0h0m36 1h0m-6 1h0m-7 1h0m-28 1h0m54 0h0m-21 1h0m-36 0h0m-5 1h0m19 0h0m-16 1h0m63 1h0m-59 1h0m25 0h0m9 1h0m25 1h0m-38 0h0m41 1h0m-34 1h0m21 0h0m7 1h0m-65 1h0m19 1h0m21 1h0m4 1h0m11 1h0m-13 0h0m-39 1h0m54 1h0m8 1h0m2 1h0m-7 0h0m12 1h0m-66 1h0m49 1h0m-13 0h0m16 1h0m7 1h0m-26 0h0m-13 1h0m46 1h0m-38 1h0m3 0h0m3 1h0m-3 2h0m40 0h0m-13 1h0m-39 1h0m20 2h0m-45 1h0m44 1h0m-44 2h0m34 1h0m9 2h0m-33 2h0m6 1h0m7 1h0m-4 2h0m14 1h0m24 3h0m-46 1h0m0 3h0m15 1h0m23 3h0m-42 2h0m31 3h0m36 6h0m-67 6h0m-6 2h0m67 4h0m-29 2h0m-27 3h0m38 3h0m8 5h0m-27 2h0m-7 6h0m33 10h0m9 10h0m-59 12h0m-1 44h0m150-376h0m-7 28h0m-40 10h0m-15 10h0m24 7h0m38 6h0m-8 4h0m-21 4h0m-14 2h0m18 2h0m-8 3h0m18 2h0m18 2h0m-56 2h0m51 2h0m2 3h0m-6 1h0m-10 2h0m14 2h0m-4 3h0m-33 1h0m43 1h0m-35 2h0m30 2h0m-10 2h0m-60 1h0m15 1h0m-20 2h0m29 1h0m40 1h0m-10 1h0m10 1h0m-61 1h0m51 1h0m-36 1h0m30 1h0m-44 1h0m17 1h0m1 2h0m-17 1h0m56 0h0m-1 1h0m-19 1h0m-12 0h0m28 1h0m2 2h0m-2 1h0m-2 0h0m9 1h0m-49 1h0m38 1h0m-24 1h0m-11 1h0m44 0h0m-35 0h0m10 1h0m30 1h0m-5 1h0m-55 0h0m45 1h0m5 1h0m-50 1h0m11 0h0m15 1h0m27 1h0m-44 0h0m44 1h0m-65 2h0m36 0h0m32 2h0m-37 0h0m-6 1h0m-2 1h0m14 1h0m18 1h0m8 1h0m-33 0h0m-8 2h0m33 1h0m-15 1h0m35 1h0m-48 1h0m16 0h0m14 1h0m-7 1h0m-10 1h0m-23 1h0m17 1h0m-21 0h0m56 1h0m-27 0h0m23 1h0m9 1h0m-41 1h0m-9 0h0m38 1h0m17 0h0m-57 1h0m-11 1h0m2 0h0m32 1h0m-42 1h0m4 1h0m29 1h0m-23 1h0m23 1h0m-5 1h0m11 1h0m-3 1h0m-9 1h0m29 1h0m-23 1h0m13 0h0m-8 2h0m1 1h0m-24 1h0m21 1h0m-32 0h0m17 2h0m-2 1h0m29 2h0m6 2h0m-21 2h0m25 1h0m-51 1h0m-9 0h0m45 2h0m-21 1h0m9 1h0m5 1h0m-25 2h0m-11 2h0m38 4h0m-25 3h0m15 3h0m-29 0h0m6 2h0m8 2h0m-10 3h0m20 8h0m-25 12h0m50 7h0m-51 12h0m1 59h0m117-357h0m2 22h0m12 20h0m23 8h0m2 5h0m-7 5h0m-61 3h0m65 5h0m-3 3h0m-26 2h0m-16 2h0m47 3h0m-30 2h0m-35 2h0m10 2h0m13 2h0m-23 2h0m30 1h0m30 1h0m-14 2h0m-9 1h0m-8 2h0m30 1h0m-34 2h0m-12 1h0m27 2h0m-10 0h0m-23 0h0m61 2h0m-44 1h0m6 1h0m-26 1h0m42 3h0m22 0h0m-50 2h0m40 1h0m-20 1h0m4 1h0m26 1h0m-10 2h0m-59 0h0m67 1h0m-68 2h0m69 0h0m-5 1h0m-13 2h0m-57 1h0m23 1h0m2 1h0m-15 1h0m-2 1h0m52 1h0m14 1h0m-37 1h0m-15 1h0m-12 1h0m55 0h0m-1 1h0m-62 2h0m20 1h0m5 1h0m17 1h0m18 1h0m-10 1h0m-25 1h0m-26 1h0m-3 2h0m18 2h0m45 1h0m-48 2h0m17 1h0m27 1h0m-3 2h0m-29 1h0m41 2h0m-28 1h0m-14 2h0m36 2h0m-45 2h0m-10 1h0m29 2h0m11 2h0m-29 1h0m57 1h0m-25 1h0m-30 3h0m10 3h0m-26 3h0m29 1h0m2 1h0m-21 2h0m59 3h0m-54 4h0m3 2h0m5 2h0m20 6h0m-38 6h0m62 6h0m-55 6h0m61 15h0m-54 23h0m106-289h0m29 29h0m-12 5h0m-19 5h0m-32 11h0m59 4h0m-19 6h0m-2 5h0m-45 3h0m34 3h0m-18 2h0m-11 3h0m56 1h0m-69 2h0m71 2h0m-64 2h0m35 1h0m-12 4h0m30 2h0m-53 2h0m31 1h0m-29 2h0m25 2h0m-25 1h0m-8 3h0m75 2h0m-18 1h0m-6 1h0m-13 1h0m10 3h0m12 2h0m-29 1h0m-29 2h0m17 2h0m8 1h0m17 1h0m-26 1h0m37 1h0m-26 2h0m-22 1h0m16 1h0m6 1h0m-1 2h0m-18 2h0m13 3h0m-15 3h0m9 2h0m-13 2h0m-4 1h0m39 1h0m17 5h0m16 3h0m-63 2h0m48 3h0m-48 3h0m-10 3h0m22 3h0m21 1h0m-32 4h0m52 5h0m-46 16h0m-9 22h0m3 83h0m122-320h0m-44 21h0m30 14h0m27 5h0m-66 13h0m17 5h0m42 5h0m-55 3h0m25 2h0m3 5h0m-13 6h0m-18 4h0m6 2h0m8 3h0m22 3h0m-10 7h0m27 2h0m-37 7h0m-4 2h0m0 7h0m5 9h0m14 5h0m-21 10h0m-1 8h0m-3 8h0m-2 43h0m78-174h0m-272-80h0m-100 132h0" stroke="#4A77FB" stroke-opacity="0.6" stroke-width="7.2" stroke-linecap="round" fill="none"/>
<path transform="scale(.5)" d="M353 4447h0m4 7h0m-25 11h0m19 5h0m8 8h0m-12 4h0m-15 4h0m0 3h0m17 2h0m-39 3h0m46 0h0m-28 2h0m30 2h0m-1 3h0m-39 1h0m37 1h0m3 2h0m-48 1h0m36 1h0m-23 1h0m28 1h0m0 1h0m0 1h0m-13 1h0m9 1h0m-15 2h0m25 1h0m-25 1h0m19 0h0m-52 1h0m33 1h0m-22 1h0m0 0h0m22 1h0m-22 2h0m45 0h0m-4 1h0m0 1h0m4 1h0m-23 0h0m12 1h0m-16 1h0m6 0h0m22 1h0m-24 1h0m7 0h0m-29 1h0m22 1h0m-22 0h0m0 1h0m-8 1h0m13 0h0m8 1h0m9 0h0m-48 1h0m26 1h0m22 0h0m-22 1h0m34 1h0m-12 0h0m-40 0h0m40 1h0m0 1h0m-22 0h0m0 0h0m9 2h0m-32 1h0m66 0h0m-21 0h0m5 1h0m-27 0h0m31 1h0m-31 0h0m0 1h0m0 0h0m-23 1h0m23 1h0m48 0h0m-74 1h0m69 1h0m-21 1h0m-48 1h0m25 0h0m16 1h0m20 1h0m-18 1h0m-34 0h0m39 1h0m-12 0h0m-29 1h0m17 1h0m24 1h0m-46 0h0m38 1h0m29 1h0m-69 0h0m48 1h0m-48 1h0m0 1h0m26 1h0m45 1h0m-45 0h0m-14 2h0m14 0h0m0 2h0m24 2h0m-45 0h0m-1 2h0m64 1h0m2 1h0m-14 2h0m-8 1h0m-36 1h0m-12 2h0m25 1h0m1 1h0m37 2h0m-44 2h0m-2 1h0m-17 1h0m0 1h0m34 3h0m-8 1h0m45 2h0m-39 3h0m-6 1h0m-15 3h0m37 4h0m-48 1h0m48 2h0m-48 2h0m2 2h0m-2 4h0m48 3h0m-48 2h0m0 6h0m38 7h0m-18 5h0m42 8h0m-36 4h0m22 6h0m-22 14h0m108-382h0m-25 78h0m26 17h0m11 11h0m-5 7h0m-24 4h0m14 5h0m-19 5h0m31 4h0m7 2h0m-16 3h0m17 0h0m-10 2h0m8 2h0m-10 1h0m-42 1h0m56 3h0m-55 2h0m35 3h0m-19 1h0m-19 2h0m53 1h0m-66 2h0m15 2h0m37 1h0m-10 1h0m5 1h0m20 1h0m-58 2h0m22 1h0m18 1h0m-22 0h0m6 1h0m-16 1h0m52 3h0m-35 1h0m8 0h0m21 1h0m-26 1h0m32 2h0m-11 1h0m-62 1h0m58 0h0m-6 1h0m-7 1h0m-16 1h0m10 1h0m6 0h0m8 1h0m-5 1h0m-7 1h0m21 0h0m-34 0h0m36 1h0m-48 1h0m38 1h0m-20 0h0m6 1h0m-42 2h0m77 0h0m-36 1h0m-4 0h0m33 1h0m-24 0h0m12 1h0m4 1h0m11 0h0m-48 1h0m31 1h0m-14 1h0m30 0h0m-51 1h0m20 1h0m-13 1h0m8 1h0m9 0h0m-43 1h0m13 1h0m-4 0h0m10 1h0m31 0h0m11 1h0m-60 1h0m3 1h0m68 1h0m4 0h0m-76 2h0m8 1h0m10 0h0m54 1h0m-33 0h0m26 0h0m-48 1h0m50 1h0m-56 0h0m-4 1h0m39 0h0m-29 1h0m-16 2h0m66 1h0m0 0h0m-50 1h0m19 1h0m2 1h0m17 1h0m-26 1h0m6 0h0m-28 1h0m38 1h0m17 1h0m-25 1h0m-21 1h0m-10 1h0m35 2h0m-36 1h0m16 1h0m8 2h0m-8 1h0m14 1h0m-24 1h0m56 2h0m-67 4h0m30 0h0m-15 2h0m-14 2h0m23 1h0m44 1h0m-59 2h0m10 1h0m-14 2h0m62 1h0m-43 2h0m35 2h0m-9 3h0m-50 3h0m13 2h0m5 2h0m-1 3h0m59 6h0m-59 6h0m5 4h0m-19 5h0m16 9h0m-18 16h0m99-307h0m51 23h0m-48 10h0m36 7h0m-19 6h0m-11 3h0m33 5h0m4 3h0m-21 2h0m23 5h0m-9 2h0m-26 4h0m40 2h0m0 2h0m-5 1h0m-67 2h0m71 1h0m0 2h0m-3 1h0m-43 2h0m50 2h0m-16 1h0m-60 1h0m32 2h0m-9 1h0m53 1h0m-12 1h0m-42 1h0m10 1h0m-1 2h0m-9 0h0m20 1h0m35 2h0m-13 1h0m-2 0h0m-22 1h0m30 1h0m-33 1h0m15 1h0m-19 1h0m38 1h0m-28 1h0m6 1h0m14 0h0m-18 1h0m-26 1h0m-5 0h0m18 1h0m27 1h0m-14 0h0m-36 1h0m23 1h0m42 1h0m-70 0h0m70 1h0m2 1h0m-63 2h0m24 0h0m37 2h0m-14 0h0m10 1h0m7 1h0m-35 1h0m7 0h0m-2 1h0m11 1h0m-24 1h0m35 1h0m7 1h0m-29 1h0m16 0h0m9 1h0m-19 1h0m-32 1h0m9 1h0m-4 1h0m-22 1h0m15 1h0m27 1h0m4 0h0m16 1h0m-39 1h0m32 0h0m-50 1h0m23 1h0m-3 0h0m-25 1h0m17 1h0m-3 0h0m-16 1h0m30 1h0m5 0h0m-24 2h0m41 1h0m-10 1h0m-32 2h0m19 0h0m26 1h0m-32 0h0m25 1h0m-3 1h0m-41 1h0m28 1h0m-1 0h0m-28 1h0m19 1h0m34 1h0m-53 1h0m23 1h0m-8 1h0m40 2h0m-62 1h0m7 1h0m29 1h0m-17 2h0m-6 0h0m34 2h0m-44 1h0m17 1h0m1 1h0m-15 0h0m3 3h0m37 1h0m-42 1h0m14 1h0m-9 3h0m51 2h0m-28 1h0m18 2h0m-10 1h0m-29 3h0m69 3h0m-49 3h0m30 3h0m-52 5h0m-3 2h0m56 3h0m-5 5h0m-35 5h0m-6 10h0m-12 9h0m4 14h0m11 17h0m129-353h0m-3 38h0m3 14h0m-7 6h0m13 13h0m-35 9h0m17 2h0m14 4h0m10 3h0m-48 3h0m48 2h0m-71 2h0m65 2h0m-5 2h0m-8 3h0m-19 3h0m29 1h0m-11 2h0m-30 1h0m35 2h0m-21 2h0m19 2h0m5 3h0m-6 0h0m-38 2h0m20 0h0m-14 2h0m-14 1h0m44 0h0m14 2h0m-70 1h0m29 1h0m1 1h0m41 1h0m5 1h0m-11 1h0m-8 1h0m-61 2h0m33 1h0m-13 2h0m-1 1h0m16 2h0m22 1h0m-46 1h0m33 1h0m-1 1h0m17 1h0m-7 0h0m26 1h0m-9 1h0m-44 1h0m-12 1h0m63 1h0m-12 1h0m1 0h0m-36 1h0m12 1h0m-9 1h0m-1 0h0m5 1h0m27 0h0m-9 1h0m-21 0h0m-31 1h0m19 1h0m-17 0h0m31 1h0m29 0h0m-58 1h0m49 1h0m-20 0h0m7 1h0m2 0h0m9 1h0m-8 1h0m33 1h0m-11 1h0m-14 1h0m1 1h0m-12 1h0m-34 1h0m19 1h0m24 1h0m-4 0h0m-1 2h0m-14 0h0m14 1h0m-26 1h0m56 1h0m-35 1h0m17 0h0m-36 1h0m16 1h0m-13 0h0m16 1h0m-22 0h0m39 1h0m-48 1h0m-3 1h0m0 1h0m24 1h0m7 0h0m23 1h0m0 1h0m-6 1h0m14 1h0m-62 0h0m-1 1h0m41 1h0m5 1h0m-32 1h0m-15 1h0m54 3h0m-60 0h0m32 2h0m20 1h0m-49 1h0m16 1h0m-14 1h0m47 1h0m-25 1h0m-13 2h0m60 1h0m-74 4h0m4 5h0m-2 1h0m65 3h0m-55 3h0m28 3h0m-18 3h0m-14 3h0m-5 3h0m10 3h0m-3 3h0m3 7h0m-11 5h0m-1 9h0m38 8h0m-5 23h0m96-325h0m-18 21h0m39 9h0m-52 11h0m31 6h0m10 3h0m-13 4h0m7 4h0m6 2h0m15 3h0m-47 3h0m7 2h0m37 4h0m-12 1h0m-16 1h0m32 1h0m-24 2h0m-41 2h0m51 4h0m-18 2h0m27 3h0m-57 1h0m19 1h0m-4 2h0m10 1h0m-13 1h0m5 1h0m21 1h0m5 1h0m14 1h0m-8 1h0m12 1h0m-43 1h0m42 1h0m-23 0h0m6 1h0m-13 1h0m26 1h0m-43 1h0m4 2h0m-4 1h0m33 2h0m-43 1h0m51 0h0m-32 2h0m41 1h0m-12 0h0m-7 1h0m-29 1h0m2 0h0m48 1h0m-4 1h0m-7 0h0m-26 1h0m-1 0h0m-27 1h0m44 1h0m-49 0h0m46 2h0m24 1h0m-8 0h0m0 1h0m-4 0h0m-64 1h0m70 1h0m-72 0h0m41 1h0m-21 0h0m46 1h0m-4 1h0m-49 1h0m6 1h0m20 0h0m-7 1h0m-6 1h0m16 1h0m12 0h0m12 1h0m2 0h0m-32 1h0m3 1h0m35 1h0m-37 0h0m15 1h0m17 1h0m-26 1h0m-27 1h0m54 0h0m-18 1h0m-14 1h0m-2 1h0m34 1h0m-53 1h0m54 1h0m-9 1h0m-11 1h0m-28 1h0m-14 2h0m32 1h0m-10 0h0m-17 1h0m18 2h0m13 0h0m-4 2h0m-9 1h0m28 1h0m-34 1h0m23 1h0m23 1h0m-48 1h0m12 0h0m27 2h0m-32 0h0m-4 1h0m-26 1h0m0 1h0m5 1h0m45 1h0m-51 1h0m20 1h0m12 2h0m-31 1h0m25 1h0m33 2h0m-52 1h0m41 2h0m-48 1h0m16 1h0m3 4h0m11 3h0m-24 2h0m26 2h0m2 1h0m-8 1h0m-1 2h0m-14 3h0m44 3h0m-6 3h0m-39 3h0m43 3h0m-17 1h0m31 2h0m-56 8h0m66 4h0m-50 11h0m-11 8h0m-2 22h0m132-335h0m-9 36h0m4 6h0m13 11h0m-26 4h0m5 3h0m23 4h0m-6 4h0m-24 2h0m0 3h0m3 2h0m15 5h0m-25 1h0m25 3h0m-26 2h0m-24 1h0m7 4h0m17 1h0m30 1h0m7 1h0m-73 1h0m73 2h0m-38 1h0m30 1h0m6 1h0m-69 2h0m60 1h0m5 2h0m-35 0h0m8 2h0m-31 1h0m39 1h0m-47 3h0m4 0h0m65 1h0m1 1h0m-10 1h0m-10 1h0m20 1h0m2 1h0m-45 1h0m36 0h0m-18 2h0m12 1h0m-47 1h0m29 1h0m12 1h0m13 0h0m-11 1h0m0 1h0m-24 1h0m-24 1h0m21 1h0m-14 0h0m-4 0h0m40 1h0m-42 1h0m32 1h0m-6 0h0m21 1h0m16 0h0m-40 1h0m9 0h0m20 1h0m-36 1h0m30 2h0m-43 0h0m13 1h0m-10 1h0m35 0h0m-31 2h0m49 0h0m-49 0h0m34 1h0m11 1h0m-4 0h0m0 1h0m-13 0h0m20 1h0m-17 1h0m-33 1h0m28 0h0m-40 1h0m38 1h0m-31 1h0m4 1h0m55 1h0m-35 1h0m-30 2h0m53 1h0m-55 0h0m7 1h0m-5 1h0m19 1h0m24 1h0m-24 0h0m47 1h0m-65 1h0m38 0h0m-24 1h0m-19 1h0m53 0h0m-35 2h0m-2 1h0m3 1h0m-17 1h0m41 0h0m-42 2h0m50 0h0m-50 1h0m1 1h0m58 2h0m-1 2h0m-5 0h0m-16 1h0m13 1h0m-3 0h0m-30 1h0m20 1h0m-3 2h0m-37 1h0m8 1h0m13 2h0m-17 1h0m-5 1h0m14 1h0m7 1h0m6 2h0m11 1h0m10 2h0m-11 2h0m-11 2h0m-15 2h0m6 1h0m-4 1h0m-5 2h0m66 2h0m-19 3h0m19 1h0m-40 4h0m-27 3h0m-6 7h0m35 10h0m-23 4h0m-5 10h0m9 11h0m-2 6h0m27 32h0m73-342h0m39 32h0m2 17h0m-44 4h0m40 3h0m8 4h0m-15 2h0m4 3h0m-22 2h0m-2 2h0m3 3h0m-13 2h0m39 2h0m0 2h0m-46 1h0m30 1h0m-20 2h0m0 3h0m14 1h0m11 1h0m-11 1h0m-18 2h0m21 2h0m20 1h0m-38 1h0m17 1h0m11 1h0m-5 1h0m-20 1h0m36 1h0m-61 1h0m-6 1h0m51 2h0m-9 0h0m13 1h0m2 1h0m5 0h0m-9 1h0m8 1h0m-31 1h0m-21 1h0m40 0h0m12 1h0m-29 0h0m37 1h0m-51 1h0m20 1h0m-14 0h0m-2 2h0m16 0h0m18 1h0m-14 1h0m-22 0h0m6 1h0m24 1h0m21 1h0m-8 1h0m-67 1h0m43 0h0m-9 1h0m-12 1h0m4 0h0m1 1h0m-1 1h0m3 0h0m4 1h0m12 1h0m-9 0h0m8 1h0m6 0h0m22 1h0m-26 1h0m-18 0h0m41 1h0m-9 0h0m-26 1h0m-33 1h0m9 0h0m54 1h0m-49 0h0m-14 1h0m34 1h0m-22 1h0m23 1h0m-17 1h0m27 0h0m5 0h0m-10 1h0m-20 1h0m24 0h0m20 1h0m-66 1h0m-1 1h0m46 1h0m13 1h0m-6 0h0m12 1h0m-13 0h0m-48 1h0m26 1h0m-1 1h0m30 1h0m10 1h0m-27 1h0m-12 1h0m9 1h0m-18 1h0m2 1h0m-6 1h0m-9 1h0m-7 1h0m58 1h0m-6 1h0m-15 1h0m-40 1h0m79 1h0m-50 0h0m-27 3h0m10 0h0m62 1h0m-39 0h0m15 2h0m-20 1h0m-29 1h0m39 1h0m-32 1h0m2 1h0m23 2h0m4 1h0m-33 2h0m23 1h0m28 2h0m-42 1h0m58 1h0m-15 2h0m-47 1h0m5 1h0m11 2h0m-14 2h0m65 3h0m-59 4h0m3 3h0m28 3h0m-44 1h0m42 3h0m-25 5h0m12 10h0m-26 14h0m6 29h0m140-285h0m-56 12h0m46 9h0m3 6h0m1 6h0m-38 4h0m15 2h0m26 4h0m-10 1h0m-39 2h0m49 1h0m1 2h0m-21 2h0m-27 2h0m-4 2h0m33 2h0m-14 2h0m-27 2h0m46 0h0m-16 2h0m25 1h0m11 2h0m-40 1h0m40 1h0m-22 2h0m10 1h0m-16 1h0m-30 1h0m59 1h0m-34 1h0m-3 1h0m10 1h0m9 1h0m-34 2h0m-27 1h0m9 1h0m36 1h0m-24 1h0m53 1h0m-12 1h0m16 0h0m-45 1h0m0 1h0m-27 2h0m15 0h0m-14 2h0m3 0h0m32 1h0m-34 1h0m58 1h0m2 1h0m5 1h0m-1 0h0m-53 1h0m56 1h0m-21 1h0m-43 1h0m36 1h0m-38 0h0m29 2h0m-11 1h0m6 1h0m-32 1h0m37 1h0m-4 2h0m-16 2h0m27 1h0m-26 1h0m16 1h0m-28 1h0m-6 0h0m14 2h0m36 1h0m-20 0h0m31 1h0m-45 2h0m59 2h0m-45 1h0m29 1h0m-57 2h0m53 1h0m-25 3h0m-31 1h0m67 2h0m-47 2h0m0 2h0m-13 3h0m0 0h0m-1 2h0m4 1h0m-2 3h0m13 1h0m0 2h0m-7 3h0m-10 5h0m-3 3h0m54 7h0m-54 3h0m37 5h0m-13 15h0m-9 11h0m-6 44h0m112-287h0m21 17h0m-13 10h0m18 5h0m-12 4h0m-13 6h0m3 3h0m4 3h0m15 2h0m-1 2h0m-21 1h0m-23 3h0m11 2h0m9 2h0m-14 2h0m29 2h0m-22 1h0m-31 2h0m41 1h0m0 2h0m29 2h0m-39 2h0m25 1h0m-44 2h0m14 1h0m-27 1h0m35 2h0m-15 1h0m-6 1h0m-14 2h0m48 2h0m-2 2h0m-24 3h0m-23 0h0m3 2h0m53 2h0m-24 1h0m27 0h0m19 3h0m-41 2h0m24 1h0m-51 1h0m17 2h0m-20 3h0m5 1h0m-12 1h0m14 1h0m4 3h0m23 1h0m-35 3h0m58 2h0m-43 3h0m36 5h0m-15 1h0m-23 2h0m-6 4h0m-12 4h0m11 4h0m-6 5h0m21 20h0m129-203h0m-67 10h0m52 16h0m-28 7h0m5 7h0m-25 5h0m67 4h0m-50 5h0m-12 2h0m30 6h0m-27 4h0m4 3h0m-11 4h0m16 5h0m-11 4h0m-7 4h0m15 7h0m-26 3h0m23 3h0m8 3h0m-31 4h0m14 8h0m-4 11h0m-1 18h0m82-145h0m13 43h0m0-77h0m-165 238h0" stroke="#EE30A7" stroke-opacity="0.6" stroke-width="7.2" stroke-linecap="round" fill="none"/>
<path transform="scale(.5)" d="M358 4382h0m-1 7h0m-6 4h0m-19 5h0m-1 0h0m20 11h0m-19 7h0m19 5h0m-3 3h0m-38 3h0m40 2h0m-18 1h0m7 1h0m-7 3h0m0 2h0m-22 2h0m22 1h0m0 0h0m0 2h0m-9 1h0m30 1h0m-2 1h0m-33 2h0m-6 2h0m42 1h0m-1 1h0m-21 1h0m-22 1h0m0 1h0m43 2h0m5 1h0m-57 0h0m49 1h0m-4 1h0m-36 1h0m22 0h0m15 1h0m-11 1h0m18 0h0m-44 1h0m-26 1h0m48 1h0m0 0h0m23 1h0m-23 1h0m-22 0h0m0 2h0m22 1h0m0 0h0m-22 1h0m5 0h0m-5 1h0m5 0h0m-12 2h0m46 1h0m-17 1h0m21 1h0m-31 0h0m-12 1h0m0 0h0m31 1h0m13 1h0m-22 1h0m-22 0h0m22 1h0m-22 1h0m0 1h0m0 1h0m49 1h0m-49 1h0m0 0h0m0 0h0m22 1h0m-34 0h0m1 1h0m33 1h0m0 1h0m0 0h0m4 1h0m-26 1h0m0 1h0m49 0h0m-60 1h0m33 0h0m-33 1h0m-9 1h0m67 0h0m-47 1h0m32 0h0m-10 1h0m-22 1h0m36 1h0m-62 1h0m26 1h0m43 1h0m-19 1h0m-50 1h0m26 1h0m-26 0h0m0 1h0m15 1h0m33 1h0m-48 1h0m48 1h0m-22 2h0m-26 1h0m12 2h0m-12 1h0m0 1h0m0 2h0m73 1h0m-73 1h0m48 2h0m0 2h0m-48 1h0m48 2h0m-4 1h0m-18 1h0m4 2h0m-4 1h0m8 2h0m42 2h0m-28 1h0m-22 3h0m0 3h0m22 2h0m-48 2h0m26 2h0m-26 3h0m48 2h0m-22 5h0m28 4h0m-40 3h0m20 1h0m-7 11h0m10 5h0m11 13h0m-34 4h0m12 10h0m-20 13h0m122-335h0m-20 29h0m33 9h0m-37 8h0m49 7h0m-50 3h0m15 7h0m34 2h0m-38 3h0m30 2h0m-44 4h0m-8 1h0m36 2h0m-31 3h0m34 1h0m5 2h0m1 1h0m12 3h0m-7 1h0m-34 2h0m-31 1h0m50 1h0m-23 1h0m-20 1h0m20 1h0m11 2h0m36 1h0m-25 2h0m8 2h0m20 1h0m-57 2h0m37 1h0m-36 1h0m-5 0h0m22 1h0m38 2h0m-4 1h0m-15 1h0m-21 2h0m-34 0h0m69 1h0m-4 0h0m-16 1h0m7 1h0m3 1h0m-6 1h0m15 2h0m-52 0h0m27 1h0m-30 2h0m-5 0h0m66 1h0m-55 0h0m31 1h0m6 1h0m-52 1h0m58 1h0m-1 0h0m-35 1h0m-24 1h0m73 1h0m-60 1h0m35 0h0m11 1h0m8 1h0m-45 0h0m-23 1h0m52 0h0m-14 1h0m37 1h0m-75 0h0m15 1h0m21 0h0m-19 1h0m-13 1h0m-3 0h0m32 1h0m2 0h0m30 1h0m-34 0h0m-26 1h0m55 1h0m-46 1h0m-13 0h0m60 1h0m-3 0h0m-56 1h0m32 1h0m-19 1h0m-2 0h0m59 1h0m-5 0h0m-26 1h0m-40 1h0m5 0h0m-8 1h0m1 1h0m52 1h0m16 2h0m-49 1h0m18 0h0m6 2h0m-39 0h0m44 1h0m-36 1h0m-12 1h0m70 1h0m-12 1h0m-15 1h0m10 1h0m-13 1h0m18 1h0m-14 1h0m16 1h0m-9 2h0m8 1h0m-8 1h0m-10 1h0m-2 1h0m-41 1h0m7 1h0m9 2h0m37 2h0m-20 1h0m-1 1h0m46 1h0m-36 2h0m-12 1h0m-24 1h0m-5 3h0m46 2h0m-29 2h0m-3 3h0m-13 4h0m71 2h0m-71 4h0m65 2h0m-55 2h0m15 2h0m5 3h0m-19 5h0m15 3h0m-11 4h0m5 2h0m-21 5h0m26 9h0m-14 6h0m1 20h0m97-366h0m34 28h0m6 26h0m5 11h0m-12 7h0m14 6h0m-6 6h0m-69 5h0m-1 4h0m14 4h0m21 2h0m23 5h0m-22 3h0m-19 4h0m20 1h0m-9 4h0m41 1h0m-17 2h0m-12 1h0m32 1h0m4 3h0m0 2h0m-47 2h0m32 3h0m-33 3h0m0 1h0m47 2h0m-20 1h0m-16 1h0m7 1h0m17 1h0m11 1h0m-15 0h0m5 2h0m-42 1h0m38 1h0m6 1h0m-48 1h0m54 2h0m-28 1h0m7 1h0m17 1h0m-16 1h0m-17 1h0m-21 1h0m36 2h0m-32 0h0m47 1h0m10 1h0m-68 1h0m51 0h0m-7 1h0m-16 0h0m-30 1h0m13 1h0m25 1h0m-35 0h0m-5 1h0m23 1h0m-11 2h0m-10 1h0m11 1h0m41 0h0m-47 1h0m-7 1h0m42 0h0m-1 1h0m-46 1h0m11 1h0m32 1h0m20 1h0m-45 1h0m52 1h0m-56 0h0m29 1h0m15 1h0m-30 0h0m1 1h0m27 0h0m-43 2h0m-2 0h0m22 1h0m20 1h0m-41 1h0m51 1h0m-39 0h0m-4 1h0m33 0h0m23 1h0m-53 1h0m44 0h0m-60 2h0m42 0h0m-28 1h0m49 1h0m-49 0h0m-17 1h0m55 0h0m-38 1h0m16 1h0m-28 1h0m32 1h0m-31 1h0m-8 0h0m60 1h0m-8 1h0m24 1h0m-15 1h0m-16 1h0m-12 1h0m30 1h0m-62 1h0m43 1h0m-25 1h0m45 1h0m-34 1h0m-26 2h0m58 1h0m-62 0h0m11 1h0m-12 1h0m4 2h0m25 2h0m-13 1h0m17 2h0m-30 1h0m40 1h0m31 1h0m-31 1h0m-43 1h0m2 1h0m54 3h0m-40 1h0m-8 2h0m-4 1h0m37 3h0m-13 2h0m-16 1h0m-14 3h0m73 3h0m-70 2h0m19 5h0m2 4h0m31 5h0m-44 6h0m27 2h0m-22 8h0m51 19h0m-65 18h0m21 14h0m60-363h0m75 18h0m-69 15h0m62 12h0m-38 3h0m10 4h0m-18 4h0m22 5h0m-42 8h0m61 2h0m-14 3h0m15 2h0m5 3h0m-18 4h0m22 5h0m-4 3h0m-30 2h0m-34 2h0m18 3h0m45 2h0m-16 1h0m-29 2h0m53 1h0m-16 1h0m-30 2h0m-27 2h0m25 1h0m35 1h0m-40 1h0m6 3h0m-29 0h0m75 2h0m-2 1h0m-4 0h0m-40 2h0m27 1h0m-1 1h0m-40 1h0m0 1h0m15 2h0m36 1h0m-40 1h0m28 1h0m-26 1h0m13 1h0m36 1h0m-49 0h0m21 1h0m-21 1h0m12 0h0m-28 1h0m-9 1h0m35 2h0m9 0h0m-22 1h0m17 1h0m-43 1h0m20 1h0m35 0h0m-6 1h0m26 0h0m-54 1h0m-9 1h0m14 1h0m26 1h0m-43 2h0m27 0h0m31 1h0m-9 1h0m12 1h0m-57 1h0m7 0h0m-21 1h0m44 1h0m-45 0h0m49 1h0m28 0h0m-28 1h0m-35 1h0m10 1h0m34 1h0m-55 1h0m11 0h0m-2 1h0m38 1h0m28 1h0m-62 0h0m53 1h0m6 1h0m-68 1h0m36 0h0m0 1h0m-33 1h0m25 1h0m-20 1h0m10 1h0m-17 1h0m37 1h0m-23 1h0m35 1h0m-17 0h0m-12 1h0m9 1h0m-13 2h0m1 1h0m29 1h0m-48 1h0m53 1h0m-53 0h0m24 2h0m-11 1h0m27 1h0m-11 1h0m30 1h0m-37 0h0m-10 2h0m15 1h0m-12 1h0m9 1h0m6 1h0m-29 2h0m62 1h0m-64 1h0m18 1h0m18 2h0m-27 3h0m19 2h0m-13 2h0m24 3h0m-11 1h0m6 1h0m-24 1h0m12 3h0m-21 3h0m39 5h0m2 2h0m-29 3h0m-12 8h0m-2 3h0m43 6h0m24 4h0m-34 10h0m-33 12h0m-1 25h0m3 31h0m125-423h0m12 63h0m7 16h0m-19 8h0m27 8h0m-4 9h0m-14 6h0m-49 2h0m21 3h0m12 4h0m-37 3h0m46 3h0m-15 1h0m39 2h0m-6 2h0m-1 3h0m-56 2h0m13 2h0m34 1h0m12 2h0m-16 1h0m-9 2h0m-15 1h0m10 1h0m29 2h0m-40 1h0m-2 1h0m14 1h0m1 1h0m-28 2h0m18 2h0m39 1h0m-24 1h0m-18 1h0m-12 1h0m30 1h0m-21 2h0m32 2h0m-34 0h0m27 1h0m16 1h0m-8 1h0m-32 1h0m43 1h0m2 1h0m-12 0h0m-25 1h0m11 1h0m11 1h0m-38 1h0m42 1h0m-52 1h0m57 1h0m8 1h0m0 1h0m-52 0h0m45 1h0m-15 2h0m-24 1h0m32 1h0m-45 1h0m27 0h0m14 1h0m-24 1h0m-11 1h0m36 1h0m-25 0h0m-5 1h0m30 1h0m-8 0h0m-24 2h0m2 1h0m43 1h0m-51 0h0m38 0h0m-17 1h0m16 1h0m-34 2h0m35 1h0m8 0h0m-44 1h0m31 0h0m-12 2h0m-37 1h0m19 0h0m6 1h0m46 2h0m-65 1h0m-5 1h0m18 0h0m30 1h0m-49 1h0m22 1h0m37 1h0m-6 1h0m-22 1h0m-8 0h0m21 2h0m-31 1h0m29 0h0m12 2h0m-21 0h0m-22 1h0m4 1h0m34 2h0m-54 0h0m4 1h0m41 1h0m-34 1h0m-8 1h0m0 1h0m34 1h0m-5 1h0m-29 1h0m59 0h0m-22 1h0m-13 1h0m-23 1h0m19 2h0m-11 0h0m30 2h0m18 1h0m-44 2h0m3 1h0m-19 1h0m43 2h0m-21 1h0m-10 1h0m33 3h0m-23 3h0m-22 3h0m16 1h0m-11 2h0m29 3h0m-7 4h0m-27 2h0m21 9h0m56 7h0m-45 2h0m6 4h0m-17 18h0m-16 10h0m125-350h0m17 47h0m-7 21h0m0 6h0m-6 8h0m-22 4h0m28 4h0m1 2h0m-17 2h0m-5 4h0m20 2h0m-3 2h0m19 2h0m-14 3h0m6 1h0m2 3h0m2 2h0m-29 2h0m12 2h0m24 2h0m-41 1h0m23 2h0m3 3h0m-40 1h0m6 2h0m30 1h0m10 1h0m8 3h0m-12 1h0m7 1h0m-5 1h0m-21 1h0m21 0h0m-62 2h0m31 1h0m-2 1h0m16 1h0m-11 1h0m31 1h0m-13 1h0m-7 1h0m9 1h0m-25 0h0m0 1h0m-31 1h0m39 1h0m30 1h0m-46 1h0m38 1h0m-46 0h0m1 1h0m44 1h0m-36 1h0m14 0h0m3 1h0m-23 2h0m-19 0h0m56 1h0m-47 1h0m46 1h0m-11 1h0m2 0h0m-20 1h0m6 1h0m24 0h0m-48 1h0m30 1h0m-9 1h0m2 0h0m28 1h0m-57 2h0m52 0h0m-32 0h0m0 1h0m-13 1h0m60 0h0m-46 1h0m6 1h0m5 1h0m6 0h0m-28 1h0m22 0h0m-14 1h0m54 2h0m-34 1h0m-19 0h0m-13 1h0m-3 1h0m59 1h0m-64 1h0m32 0h0m7 1h0m-30 1h0m57 2h0m-21 1h0m21 1h0m-31 0h0m-31 2h0m70 1h0m-45 1h0m22 1h0m3 1h0m-35 1h0m15 1h0m-30 0h0m51 1h0m19 2h0m-64 0h0m-11 2h0m38 1h0m-11 1h0m6 1h0m-30 2h0m11 1h0m-7 1h0m71 1h0m-73 1h0m70 2h0m-27 2h0m-42 2h0m22 2h0m-20 1h0m38 2h0m5 1h0m-20 2h0m-1 2h0m-3 1h0m2 2h0m47 1h0m-67 3h0m1 3h0m-5 1h0m38 3h0m-17 2h0m-22 4h0m15 2h0m-11 3h0m2 5h0m1 3h0m31 9h0m-23 24h0m27 28h0m95-361h0m-18 36h0m24 13h0m-18 15h0m-33 8h0m61 6h0m-1 2h0m-13 4h0m14 1h0m-19 4h0m-11 1h0m-17 2h0m4 2h0m-33 1h0m59 2h0m-52 0h0m26 1h0m22 2h0m20 3h0m-62 2h0m22 1h0m1 2h0m-2 1h0m37 1h0m-20 1h0m18 1h0m-45 2h0m35 1h0m-3 2h0m10 2h0m-41 1h0m38 1h0m-38 2h0m1 1h0m47 1h0m-53 1h0m40 1h0m-32 1h0m46 1h0m-9 1h0m-25 1h0m-3 1h0m32 0h0m-13 2h0m-15 1h0m24 0h0m-68 1h0m45 1h0m14 1h0m-23 1h0m-3 1h0m25 1h0m18 0h0m3 2h0m-28 1h0m4 1h0m6 0h0m-25 1h0m-25 2h0m-5 1h0m5 0h0m64 2h0m-30 0h0m16 1h0m-44 1h0m27 1h0m-38 1h0m41 1h0m-43 0h0m3 1h0m4 1h0m54 2h0m-57 1h0m16 1h0m-19 0h0m20 1h0m8 1h0m35 1h0m3 0h0m-66 2h0m34 0h0m9 1h0m7 2h0m-24 0h0m47 1h0m-5 1h0m-24 1h0m-27 1h0m-3 1h0m24 0h0m21 1h0m-27 1h0m-24 2h0m18 2h0m-27 1h0m23 1h0m50 1h0m-44 3h0m4 0h0m-8 3h0m18 2h0m-29 0h0m-18 1h0m8 2h0m21 1h0m-23 1h0m6 1h0m8 1h0m34 1h0m-37 2h0m6 2h0m-18 1h0m23 2h0m27 1h0m-41 1h0m10 1h0m13 3h0m-10 2h0m40 1h0m11 3h0m-25 1h0m-48 2h0m-5 2h0m3 2h0m30 2h0m38 2h0m-68 2h0m53 7h0m12 4h0m-17 5h0m-51 8h0m26 3h0m6 8h0m7 8h0m0 23h0m-24 16h0m127-344h0m-1 27h0m0 7h0m7 10h0m-58 9h0m64 5h0m-48 3h0m-7 3h0m52 4h0m-11 4h0m2 4h0m-15 4h0m29 2h0m-15 3h0m-26 3h0m35 1h0m-33 1h0m27 2h0m-13 2h0m12 1h0m0 2h0m11 1h0m-50 2h0m-18 2h0m37 1h0m-15 1h0m36 1h0m-44 2h0m48 1h0m-40 2h0m29 1h0m-57 1h0m36 1h0m19 1h0m8 1h0m12 1h0m-72 1h0m62 1h0m5 1h0m-6 1h0m-20 1h0m4 1h0m-31 1h0m29 2h0m24 0h0m6 1h0m-28 1h0m2 1h0m-31 1h0m16 0h0m8 2h0m-8 1h0m-2 1h0m-17 1h0m52 1h0m4 2h0m-49 1h0m27 1h0m-31 1h0m-15 1h0m72 0h0m-7 1h0m-63 1h0m53 1h0m-32 1h0m-19 1h0m36 1h0m-35 1h0m25 1h0m-32 1h0m10 1h0m-2 1h0m0 1h0m-7 1h0m13 3h0m49 2h0m-57 1h0m6 2h0m9 1h0m8 2h0m-29 1h0m12 4h0m8 1h0m-3 2h0m37 0h0m-51 3h0m18 1h0m1 1h0m14 2h0m-9 0h0m23 2h0m-43 2h0m14 2h0m30 3h0m-43 1h0m8 4h0m-14 1h0m13 4h0m-13 4h0m5 2h0m28 3h0m-30 3h0m-4 6h0m6 3h0m14 5h0m11 7h0m38 4h0m-61 14h0m2 34h0m97-329h0m-30 21h0m77 23h0m-77 5h0m35 8h0m-1 5h0m29 5h0m-23 3h0m31 3h0m-24 5h0m7 4h0m17 3h0m-51 0h0m51 6h0m3 0h0m1 4h0m-12 3h0m-45 3h0m56 4h0m-67 1h0m46 2h0m-43 3h0m38 2h0m-1 2h0m18 1h0m-1 2h0m-44 5h0m12 1h0m-13 2h0m34 2h0m-43 2h0m19 3h0m-14 2h0m-5 2h0m40 1h0m18 2h0m-37 1h0m-21 2h0m24 2h0m19 2h0m-37 2h0m28 2h0m-16 2h0m28 3h0m-53 1h0m4 4h0m-5 1h0m67 2h0m-46 3h0m-18 2h0m4 2h0m68 4h0m-72 2h0m-4 4h0m29 2h0m1 4h0m-23 5h0m30 10h0m-31 13h0m13 20h0m12 57h0m113-282h0m-9 11h0m-45 10h0m30 8h0m-31 7h0m-4 4h0m26 4h0m-19 8h0m-2 8h0m16 5h0m36 2h0m-54 3h0m46 4h0m-43 4h0m28 5h0m39 2h0m-45 4h0m1 5h0m-26 4h0m-3 14h0m19 10h0m22 10h0m-16 9h0m1 14h0m-25 21h0m86-168h0m-6 56h0m-448 400h0m-26-72h0" stroke="#9ACD32" stroke-opacity="0.6" stroke-width="7.2" stroke-linecap="round" fill="none"/>
<path transform="scale(.5)" d="M357 4419h0m-25 10h0m-3 11h0m26 3h0m3 4h0m1 4h0m-3 2h0m-3 4h0m-20 2h0m15 4h0m9 1h0m-73 2h0m48 2h0m-22 3h0m31 1h0m-43 2h0m51 1h0m-30 0h0m13 1h0m-22 2h0m23 0h0m-34 1h0m17 0h0m41 1h0m-25 1h0m0 0h0m-22 1h0m37 1h0m-26 1h0m1 0h0m10 1h0m19 1h0m-41 1h0m40 0h0m-66 1h0m67 1h0m-41 1h0m22 0h0m0 1h0m-22 1h0m10 1h0m38 1h0m-74 1h0m34 0h0m14 1h0m0 2h0m2 0h0m-14 0h0m12 1h0m-48 1h0m67 0h0m-41 1h0m12 0h0m-12 1h0m22 0h0m0 1h0m-22 0h0m39 0h0m-17 1h0m19 1h0m-19 2h0m-48 0h0m65 1h0m-3 1h0m-36 1h0m0 1h0m45 0h0m-5 2h0m-40 1h0m0 1h0m0 0h0m4 1h0m-4 1h0m22 0h0m-22 1h0m25 1h0m-3 2h0m-48 0h0m75 1h0m-75 1h0m0 1h0m73 0h0m-47 1h0m0 0h0m-26 1h0m48 1h0m0 0h0m-39 2h0m0 1h0m17 0h0m35 1h0m-13 1h0m0 1h0m-48 0h0m48 1h0m0 0h0m22 1h0m-44 2h0m49 1h0m-75 1h0m48 0h0m-48 1h0m26 0h0m17 3h0m-43 1h0m48 1h0m9 2h0m-31 1h0m36 2h0m-36 1h0m29 2h0m-29 2h0m0 1h0m41 2h0m-19 1h0m19 1h0m-19 4h0m11 1h0m-11 2h0m0 2h0m9 2h0m-31 1h0m0 2h0m18 1h0m-18 1h0m0 4h0m0 1h0m6 5h0m16 5h0m-22 5h0m22 4h0m11 3h0m-33 5h0m-26 10h0m0 15h0m2 25h0m147-324h0m-11 22h0m12 9h0m-32 7h0m37 4h0m-12 5h0m6 6h0m-27 5h0m10 3h0m5 2h0m-8 2h0m-41 2h0m49 0h0m-25 3h0m44 1h0m-4 2h0m-3 1h0m-26 2h0m21 2h0m-25 0h0m5 1h0m-34 1h0m25 2h0m-6 2h0m32 1h0m11 1h0m3 1h0m-41 1h0m-6 1h0m33 2h0m-9 0h0m15 1h0m8 2h0m-10 1h0m-59 1h0m24 1h0m21 1h0m-40 1h0m46 2h0m-40 1h0m55 1h0m-8 0h0m-46 1h0m50 2h0m7 1h0m-36 0h0m29 1h0m-66 1h0m9 0h0m51 2h0m-46 0h0m42 1h0m6 1h0m5 1h0m-11 1h0m-56 1h0m-2 1h0m26 2h0m-17 1h0m16 0h0m1 1h0m18 0h0m13 1h0m-3 1h0m4 0h0m-52 1h0m6 0h0m40 1h0m-53 0h0m76 1h0m-37 1h0m23 0h0m-57 1h0m16 1h0m11 1h0m-1 0h0m42 1h0m-53 1h0m37 0h0m-19 1h0m-12 0h0m-28 1h0m23 1h0m54 0h0m-11 1h0m-18 1h0m28 1h0m-33 0h0m-30 1h0m-3 1h0m19 1h0m25 1h0m-27 0h0m-20 1h0m33 2h0m-10 0h0m-12 1h0m40 1h0m-6 1h0m-11 1h0m-24 1h0m2 1h0m-12 1h0m18 1h0m30 1h0m11 1h0m-59 1h0m71 0h0m-33 2h0m-35 1h0m-10 2h0m22 1h0m12 1h0m-6 1h0m-16 1h0m36 2h0m-40 1h0m13 1h0m-16 1h0m12 1h0m11 1h0m-24 1h0m17 1h0m-8 1h0m34 1h0m-25 1h0m-16 2h0m12 1h0m8 1h0m-3 3h0m-8 3h0m5 2h0m-6 2h0m1 1h0m18 5h0m-34 4h0m68 3h0m-50 6h0m-4 4h0m65 7h0m-74 5h0m13 25h0m-12 20h0m125-352h0m-34 28h0m-13 13h0m55 8h0m1 5h0m-56 4h0m73 7h0m-65 5h0m67 5h0m-31 2h0m-12 5h0m39 2h0m-50 2h0m-7 1h0m50 5h0m-42 2h0m-21 2h0m31 2h0m-11 1h0m36 2h0m17 1h0m-5 3h0m4 1h0m-43 1h0m18 2h0m-49 1h0m46 1h0m-47 1h0m38 1h0m-11 1h0m50 1h0m-14 1h0m-13 1h0m-41 1h0m17 1h0m25 2h0m20 2h0m6 0h0m-42 1h0m20 1h0m8 1h0m7 1h0m-12 1h0m-26 2h0m41 1h0m3 2h0m-21 1h0m-15 0h0m-36 1h0m61 1h0m-15 1h0m-9 0h0m-27 1h0m42 1h0m-28 0h0m21 1h0m-13 1h0m7 0h0m25 1h0m-25 0h0m21 1h0m-5 1h0m-35 1h0m-12 0h0m46 1h0m6 0h0m4 1h0m-68 1h0m58 0h0m3 0h0m7 2h0m-23 0h0m-39 1h0m23 1h0m24 1h0m16 1h0m-31 1h0m-6 0h0m16 1h0m-2 0h0m20 1h0m-5 0h0m-51 1h0m15 0h0m-12 1h0m55 1h0m-2 1h0m-20 1h0m31 2h0m-44 1h0m-20 1h0m-2 0h0m62 1h0m-56 0h0m36 1h0m-53 1h0m66 0h0m-67 2h0m29 1h0m-11 1h0m59 2h0m-42 0h0m7 2h0m9 0h0m5 2h0m-4 1h0m-22 1h0m-14 1h0m-5 0h0m52 1h0m-44 1h0m52 1h0m-57 1h0m23 2h0m-8 1h0m7 2h0m-30 1h0m7 2h0m19 3h0m-27 2h0m-4 1h0m52 1h0m-53 2h0m26 0h0m-17 2h0m27 1h0m-4 4h0m12 2h0m-18 0h0m32 1h0m-58 1h0m16 1h0m5 1h0m15 3h0m38 1h0m-33 1h0m-27 4h0m5 3h0m-9 4h0m-8 2h0m58 2h0m-61 10h0m13 9h0m1 7h0m5 10h0m-1 41h0m66-361h0m61 23h0m-58 22h0m48 8h0m24 3h0m-3 8h0m-25 5h0m14 5h0m9 2h0m-10 4h0m-58 2h0m71 1h0m-60 2h0m32 2h0m-32 3h0m59 2h0m-41 2h0m19 1h0m25 1h0m-13 1h0m4 2h0m0 1h0m-1 1h0m9 2h0m-8 1h0m8 1h0m-31 1h0m-5 2h0m-29 0h0m57 1h0m-1 1h0m-64 2h0m4 3h0m70 2h0m-14 1h0m-48 1h0m35 1h0m21 1h0m-22 2h0m5 1h0m2 2h0m6 0h0m-4 1h0m8 1h0m-41 1h0m41 1h0m-58 1h0m63 1h0m-4 2h0m-48 1h0m50 0h0m7 1h0m-69 2h0m18 1h0m-2 0h0m53 2h0m-31 0h0m-29 1h0m56 0h0m-29 1h0m2 1h0m-24 1h0m14 0h0m-3 1h0m-1 0h0m9 1h0m29 1h0m-16 0h0m-1 1h0m-42 0h0m47 1h0m-52 1h0m9 0h0m37 1h0m-22 1h0m-28 0h0m71 1h0m-53 1h0m27 1h0m-1 0h0m-21 1h0m-8 1h0m-4 0h0m30 1h0m-20 1h0m55 0h0m-21 1h0m4 1h0m-17 1h0m-30 1h0m22 1h0m27 1h0m-53 0h0m29 1h0m-2 1h0m15 1h0m-10 1h0m-2 0h0m26 1h0m-63 2h0m18 1h0m2 0h0m2 1h0m17 1h0m-15 1h0m6 0h0m29 1h0m-28 1h0m36 1h0m-43 0h0m-7 2h0m-5 0h0m-4 2h0m9 1h0m49 0h0m-59 2h0m-10 1h0m46 1h0m-37 1h0m31 2h0m7 1h0m31 2h0m-42 0h0m32 1h0m-59 4h0m25 1h0m34 1h0m-22 2h0m-2 2h0m12 2h0m-29 3h0m8 2h0m-11 4h0m-5 3h0m-5 4h0m3 4h0m23 3h0m-8 4h0m-19 7h0m-9 10h0m9 13h0m-13 13h0m121-332h0m-29 24h0m39 10h0m-25 10h0m13 5h0m29 6h0m-41 5h0m25 6h0m-2 9h0m-12 3h0m10 3h0m21 2h0m-14 2h0m18 2h0m-57 2h0m38 3h0m6 2h0m-18 2h0m-10 2h0m0 1h0m13 1h0m18 1h0m-3 2h0m2 1h0m-17 1h0m-8 2h0m-37 1h0m12 2h0m31 3h0m19 0h0m-53 2h0m68 0h0m-17 2h0m-36 0h0m2 1h0m-13 0h0m56 1h0m-63 1h0m71 1h0m-56 1h0m-1 1h0m35 0h0m21 2h0m-33 0h0m16 2h0m13 1h0m-27 0h0m19 2h0m-13 0h0m26 1h0m-28 1h0m-8 1h0m21 1h0m-47 1h0m23 0h0m0 1h0m-27 1h0m66 1h0m-59 0h0m20 1h0m33 1h0m-54 1h0m40 0h0m-35 1h0m34 0h0m-13 1h0m-16 1h0m51 1h0m-45 0h0m-25 1h0m58 1h0m-6 0h0m-57 1h0m53 1h0m-23 1h0m-9 1h0m-9 0h0m23 1h0m-21 0h0m14 1h0m28 1h0m-1 0h0m-2 1h0m-24 1h0m38 1h0m-4 1h0m-30 0h0m-3 1h0m-2 1h0m-21 1h0m48 1h0m-35 0h0m-20 1h0m37 1h0m-3 0h0m-21 1h0m8 1h0m-7 1h0m35 1h0m-22 1h0m20 1h0m-25 0h0m0 1h0m-21 2h0m10 0h0m22 1h0m28 1h0m1 1h0m-35 1h0m-23 1h0m23 1h0m-15 0h0m22 1h0m34 1h0m-19 1h0m-31 0h0m37 1h0m-27 2h0m-16 1h0m47 1h0m-14 1h0m-26 0h0m-13 1h0m12 2h0m28 0h0m-28 1h0m-15 2h0m37 2h0m7 1h0m-38 1h0m-13 2h0m26 1h0m-3 1h0m-2 2h0m12 1h0m-27 2h0m33 1h0m11 2h0m-30 0h0m8 2h0m40 2h0m-58 1h0m4 1h0m16 2h0m-25 3h0m25 1h0m-7 3h0m21 6h0m-23 3h0m15 4h0m14 7h0m-38 5h0m62 12h0m-51 22h0m127-318h0m-10 23h0m9 6h0m-58 11h0m51 10h0m17 7h0m-2 5h0m-15 2h0m11 2h0m-61 3h0m56 3h0m-9 2h0m11 2h0m-12 1h0m-38 1h0m20 2h0m13 2h0m14 2h0m-26 1h0m-18 3h0m21 1h0m2 2h0m15 1h0m-9 1h0m-8 1h0m1 3h0m21 2h0m-17 0h0m29 1h0m-36 1h0m7 0h0m19 1h0m11 1h0m-1 1h0m-27 1h0m20 1h0m-15 1h0m-21 2h0m2 1h0m9 0h0m8 1h0m17 1h0m-19 1h0m8 0h0m-24 1h0m-7 0h0m-20 2h0m57 1h0m-61 0h0m58 1h0m-21 0h0m-10 1h0m43 0h0m-61 1h0m36 1h0m26 1h0m-36 0h0m3 1h0m-26 1h0m8 1h0m-7 1h0m41 1h0m-7 1h0m-37 1h0m-11 0h0m66 1h0m-53 1h0m22 1h0m34 1h0m5 1h0m-53 0h0m25 0h0m-47 1h0m39 1h0m-27 0h0m32 1h0m3 1h0m-50 0h0m53 1h0m0 1h0m-1 0h0m-1 1h0m-28 1h0m33 0h0m0 2h0m-26 0h0m23 1h0m18 1h0m-5 1h0m-31 1h0m25 0h0m-20 1h0m-31 1h0m2 1h0m37 1h0m-36 0h0m17 2h0m11 0h0m21 1h0m-19 0h0m11 1h0m-19 1h0m-31 0h0m-2 1h0m32 1h0m11 1h0m-40 1h0m4 1h0m32 1h0m35 1h0m-48 0h0m-5 1h0m22 2h0m-23 1h0m36 1h0m4 2h0m-50 2h0m54 2h0m-36 1h0m4 1h0m-30 1h0m45 2h0m-27 2h0m5 2h0m-15 2h0m32 2h0m3 2h0m23 2h0m-46 2h0m-15 6h0m-3 5h0m38 4h0m-4 2h0m-12 4h0m-24 3h0m40 3h0m-33 3h0m-4 5h0m52 1h0m-25 6h0m-21 13h0m17 8h0m-25 17h0m48 54h0m108-389h0m-13 27h0m0 13h0m-1 10h0m-43 4h0m25 6h0m-15 3h0m-3 3h0m30 2h0m-8 2h0m8 3h0m-16 2h0m0 2h0m27 2h0m-54 3h0m41 2h0m5 2h0m7 2h0m-15 1h0m-34 3h0m33 2h0m9 0h0m2 3h0m-37 1h0m37 2h0m-44 1h0m8 1h0m6 2h0m-5 1h0m33 1h0m0 1h0m-23 1h0m-26 1h0m47 1h0m-40 1h0m-8 1h0m48 1h0m10 2h0m-10 1h0m-7 1h0m15 0h0m0 1h0m-20 1h0m27 0h0m-10 2h0m-48 1h0m46 1h0m-6 1h0m-34 0h0m2 1h0m22 1h0m-9 1h0m-16 1h0m-8 0h0m12 0h0m43 1h0m-11 1h0m-48 1h0m22 0h0m-30 1h0m45 1h0m-46 1h0m43 0h0m-4 1h0m0 1h0m-18 0h0m-2 2h0m3 1h0m-24 1h0m69 1h0m-7 0h0m-13 1h0m-1 1h0m0 1h0m0 1h0m-41 1h0m22 1h0m6 1h0m7 2h0m-22 0h0m18 1h0m-28 1h0m27 1h0m-29 0h0m-6 1h0m58 1h0m-23 1h0m2 1h0m-24 0h0m22 1h0m-14 0h0m57 1h0m-45 1h0m-13 1h0m-9 0h0m15 1h0m-3 1h0m23 0h0m-20 1h0m25 1h0m-31 0h0m48 1h0m-20 1h0m-46 1h0m14 1h0m42 1h0m12 1h0m-49 1h0m-17 1h0m26 2h0m-24 0h0m21 1h0m-26 1h0m15 1h0m54 1h0m-63 1h0m59 1h0m-32 1h0m-8 1h0m-8 1h0m34 3h0m24 2h0m-62 1h0m45 1h0m-47 1h0m-4 1h0m12 1h0m50 1h0m-14 1h0m-28 2h0m46 1h0m2 2h0m-56 4h0m22 3h0m-42 3h0m9 0h0m16 2h0m12 2h0m-14 5h0m-19 12h0m20 6h0m14 10h0m-22 13h0m-16 56h0m146-349h0m6 16h0m-29 20h0m30 7h0m-63 4h0m9 4h0m22 3h0m15 5h0m20 4h0m-65 1h0m40 3h0m-13 3h0m38 2h0m-30 1h0m16 3h0m-59 1h0m73 2h0m-3 1h0m-24 1h0m-20 2h0m37 1h0m1 2h0m0 1h0m-49 2h0m15 1h0m-1 2h0m-31 0h0m70 1h0m-45 1h0m25 1h0m-20 2h0m-12 1h0m22 2h0m14 0h0m19 2h0m-9 1h0m12 1h0m-17 1h0m-52 1h0m47 2h0m12 0h0m-28 2h0m-13 1h0m3 0h0m12 2h0m37 1h0m-63 1h0m-2 1h0m28 1h0m-32 1h0m50 1h0m-35 1h0m27 1h0m-27 1h0m33 1h0m0 1h0m10 1h0m-38 1h0m24 1h0m-2 1h0m8 1h0m-43 1h0m28 2h0m-38 0h0m-6 1h0m26 1h0m-7 2h0m-9 2h0m9 2h0m-5 1h0m51 1h0m-22 1h0m16 2h0m-54 2h0m50 1h0m11 2h0m-37 2h0m-26 1h0m25 2h0m-6 1h0m-13 2h0m49 2h0m-53 1h0m15 1h0m0 2h0m-14 2h0m-6 4h0m29 2h0m0 1h0m-3 1h0m-10 2h0m-16 3h0m25 5h0m6 1h0m-14 4h0m6 5h0m-23 7h0m38 4h0m-12 7h0m-27 14h0m43 38h0m86-302h0m-5 27h0m-25 6h0m12 4h0m40 11h0m-35 7h0m-10 5h0m-25 3h0m38 4h0m34 3h0m-22 3h0m2 1h0m-9 1h0m23 2h0m-30 3h0m-17 1h0m28 2h0m-13 3h0m31 2h0m-47 2h0m-10 1h0m9 2h0m10 2h0m33 2h0m1 3h0m-20 1h0m-12 1h0m34 2h0m-36 1h0m-27 2h0m20 2h0m-21 2h0m50 1h0m-32 2h0m-5 1h0m-11 1h0m8 1h0m5 1h0m-13 2h0m14 1h0m31 1h0m-35 2h0m-13 1h0m14 2h0m8 3h0m-16 3h0m8 3h0m20 1h0m17 1h0m8 2h0m-31 5h0m-20 2h0m13 3h0m24 3h0m30 2h0m1 3h0m-40 3h0m15 3h0m-38 3h0m2 5h0m24 19h0m-18 22h0m103-297h0m-12 57h0m7 26h0m11 11h0m24 2h0m-43 13h0m43 6h0m-54 5h0m18 2h0m30 3h0m-14 6h0m-13 5h0m-32 4h0m-4 2h0m58 2h0m-30 4h0m-4 6h0m-21 3h0m5 6h0m-12 3h0m8 7h0m41 8h0m-14 6h0m-8 10h0m-25 7h0m30 10h0m-20 62h0m82-191h0m-475 441h0m455-500h0" stroke="#4A77FB" stroke-opacity="0.6" stroke-width="7.2" stroke-linecap="round" fill="none"/>
<path transform="scale(.5)" d="M350 4448h0m-11 8h0m-14 9h0m26 6h0m-19 8h0m19 5h0m-19 2h0m20 3h0m1 3h0m-9 2h0m-1 1h0m4 1h0m13 2h0m-28 3h0m18 1h0m-20 1h0m23 2h0m-21 1h0m-22 1h0m41 1h0m-19 1h0m15 1h0m-15 1h0m0 2h0m0 0h0m-22 2h0m40 1h0m-18 1h0m20 1h0m-20 1h0m0 0h0m24 1h0m-1 0h0m-71 1h0m26 2h0m22 0h0m-5 1h0m25 1h0m-40 1h0m20 0h0m14 1h0m-14 1h0m0 0h0m0 1h0m-5 1h0m23 0h0m-40 1h0m18 1h0m-18 1h0m39 0h0m-65 1h0m26 0h0m22 1h0m-23 0h0m1 1h0m32 1h0m-32 0h0m44 1h0m-56 1h0m12 0h0m-17 0h0m-3 1h0m56 1h0m-14 0h0m18 1h0m4 1h0m1 1h0m-45 0h0m-26 0h0m48 1h0m-22 1h0m20 0h0m2 0h0m0 1h0m0 1h0m0 0h0m0 1h0m16 0h0m-64 2h0m19 0h0m53 1h0m-5 1h0m-19 1h0m-48 0h0m26 1h0m-25 1h0m16 0h0m31 1h0m22 0h0m-70 1h0m45 1h0m-45 1h0m20 0h0m6 1h0m0 1h0m-14 1h0m-3 0h0m39 1h0m-22 1h0m0 1h0m28 1h0m14 1h0m4 1h0m-24 0h0m0 2h0m-22 2h0m-26 0h0m72 2h0m-38 1h0m-8 2h0m15 1h0m15 1h0m-30 2h0m43 1h0m-69 1h0m0 2h0m26 1h0m49 2h0m-75 1h0m71 1h0m-45 1h0m0 3h0m-25 2h0m70 2h0m-45 2h0m22 2h0m-22 2h0m42 4h0m7 1h0m-62 3h0m35 1h0m24 3h0m-72 4h0m26 2h0m37 2h0m-56 6h0m-2 7h0m43 5h0m14 8h0m-62 6h0m48 4h0m-22 14h0m87-348h0m18 44h0m12 17h0m-30 13h0m28 5h0m2 4h0m-9 7h0m-17 5h0m12 3h0m-4 1h0m9 3h0m3 1h0m-2 2h0m-11 1h0m30 1h0m-10 1h0m-5 4h0m-30 2h0m45 2h0m-30 1h0m6 2h0m3 1h0m0 2h0m-24 2h0m28 1h0m-54 1h0m2 1h0m44 1h0m1 2h0m-11 1h0m-39 1h0m64 1h0m-26 0h0m20 1h0m3 3h0m1 1h0m13 0h0m-18 1h0m-12 2h0m-12 1h0m3 1h0m36 1h0m-45 0h0m-18 1h0m-6 1h0m12 1h0m10 1h0m46 0h0m-33 1h0m-14 1h0m5 1h0m6 0h0m-7 0h0m18 1h0m2 1h0m0 1h0m-39 0h0m-10 1h0m62 2h0m-34 0h0m-2 1h0m26 0h0m3 1h0m-45 0h0m31 1h0m-11 1h0m12 0h0m-6 1h0m23 1h0m-43 1h0m7 1h0m-16 0h0m28 1h0m41 1h0m-21 1h0m-23 0h0m-10 1h0m32 1h0m-46 0h0m30 1h0m16 1h0m-44 0h0m25 1h0m8 1h0m-29 1h0m-5 1h0m46 1h0m-53 1h0m34 0h0m33 1h0m-19 0h0m-21 1h0m-30 0h0m71 1h0m-60 0h0m2 1h0m39 1h0m-43 0h0m25 2h0m-9 1h0m18 0h0m-26 1h0m38 1h0m-37 1h0m-2 1h0m15 1h0m-23 1h0m-7 1h0m30 1h0m-33 0h0m76 1h0m-21 1h0m-14 1h0m14 2h0m-32 1h0m36 1h0m1 2h0m-37 1h0m1 2h0m-6 0h0m42 3h0m-26 3h0m-4 0h0m-21 2h0m8 3h0m27 1h0m-18 1h0m-25 1h0m32 1h0m-16 2h0m17 2h0m-33 1h0m33 2h0m3 4h0m-2 2h0m-10 2h0m10 2h0m-23 5h0m26 4h0m-29 6h0m27 5h0m29 6h0m7 9h0m-51 14h0m115-305h0m14 22h0m-32 12h0m12 6h0m6 4h0m23 6h0m-25 3h0m-43 2h0m25 2h0m29 5h0m11 3h0m-35 3h0m15 2h0m-20 2h0m-6 2h0m14 1h0m27 2h0m6 2h0m-3 0h0m-28 2h0m30 2h0m1 1h0m-50 1h0m52 2h0m-44 1h0m44 1h0m-21 1h0m-40 1h0m-10 1h0m46 2h0m-19 0h0m16 1h0m-5 2h0m22 1h0m8 1h0m-40 0h0m43 1h0m-53 2h0m12 0h0m-19 1h0m-18 1h0m77 1h0m-48 1h0m31 0h0m-24 1h0m-25 1h0m37 0h0m13 1h0m15 1h0m-19 0h0m-55 1h0m59 1h0m-32 1h0m-11 1h0m44 0h0m-21 2h0m-27 1h0m45 0h0m-45 2h0m-13 0h0m4 1h0m45 1h0m5 1h0m-52 1h0m19 0h0m9 1h0m30 1h0m-38 1h0m35 1h0m-34 1h0m12 0h0m-31 1h0m62 1h0m0 1h0m-57 1h0m22 2h0m18 0h0m23 1h0m-28 1h0m3 1h0m-49 0h0m47 1h0m-47 0h0m48 1h0m30 1h0m-17 0h0m-59 1h0m74 1h0m-70 1h0m67 0h0m-58 1h0m22 1h0m-12 1h0m-22 1h0m27 2h0m4 1h0m-9 1h0m33 0h0m-49 1h0m67 0h0m-29 2h0m-11 0h0m28 1h0m6 0h0m-17 1h0m-6 1h0m-11 1h0m-17 1h0m8 2h0m-19 1h0m-5 1h0m53 2h0m-3 0h0m-30 2h0m34 1h0m-3 0h0m-29 2h0m8 1h0m5 1h0m-19 1h0m47 0h0m2 3h0m0 1h0m-57 1h0m3 2h0m5 2h0m41 2h0m-54 1h0m8 2h0m19 2h0m12 3h0m18 3h0m-48 3h0m-6 4h0m7 3h0m-6 3h0m38 3h0m-31 5h0m56 4h0m-43 10h0m2 12h0m-16 13h0m-14 17h0m127-354h0m25 38h0m-26 14h0m22 5h0m-23 16h0m-40 6h0m31 2h0m-2 4h0m-8 4h0m21 2h0m20 2h0m-57 2h0m24 2h0m20 2h0m-9 4h0m13 2h0m-48 2h0m53 1h0m-26 2h0m37 1h0m-61 2h0m28 2h0m30 3h0m-60 1h0m-12 1h0m14 0h0m62 2h0m-44 1h0m-8 1h0m-16 2h0m4 0h0m56 1h0m-23 1h0m27 2h0m-18 0h0m14 1h0m-46 1h0m54 2h0m0 1h0m-8 3h0m-44 1h0m-4 1h0m9 1h0m29 1h0m4 1h0m-12 1h0m26 1h0m-64 1h0m49 0h0m12 1h0m-1 2h0m-25 0h0m31 1h0m-63 1h0m57 0h0m-65 1h0m16 1h0m-22 1h0m16 0h0m61 1h0m-30 0h0m-38 1h0m44 0h0m-52 1h0m49 1h0m-1 0h0m-17 1h0m-33 0h0m54 1h0m19 1h0m-69 0h0m5 1h0m-9 0h0m18 1h0m53 2h0m-53 0h0m-17 1h0m57 1h0m-31 1h0m28 1h0m0 1h0m4 1h0m11 1h0m-44 1h0m29 1h0m-32 0h0m-1 1h0m12 1h0m-24 1h0m11 1h0m-5 0h0m40 1h0m-16 1h0m39 0h0m-38 1h0m-31 1h0m12 0h0m10 1h0m-15 1h0m32 1h0m-42 1h0m-5 1h0m9 0h0m-10 2h0m75 0h0m-60 1h0m43 1h0m-36 0h0m-5 1h0m-10 1h0m1 1h0m3 1h0m56 3h0m-22 1h0m-27 1h0m5 1h0m-25 1h0m55 1h0m-6 1h0m-27 1h0m8 1h0m-1 2h0m37 2h0m-66 4h0m48 4h0m-4 1h0m-20 3h0m-11 3h0m34 3h0m-22 3h0m-9 3h0m53 3h0m-64 3h0m67 3h0m-67 7h0m32 5h0m-26 9h0m1 12h0m44 20h0m68-321h0m-12 17h0m-4 9h0m2 10h0m44 6h0m-13 5h0m-33 2h0m49 4h0m1 2h0m-3 4h0m-46 3h0m35 3h0m0 2h0m16 2h0m-57 0h0m50 1h0m-67 3h0m12 1h0m56 4h0m-5 3h0m10 2h0m-25 1h0m-43 1h0m16 2h0m47 2h0m-1 0h0m-23 1h0m-26 1h0m38 1h0m-38 1h0m18 1h0m18 1h0m15 1h0m-20 1h0m-12 1h0m-14 0h0m9 1h0m17 1h0m17 2h0m-51 1h0m46 1h0m-27 2h0m10 1h0m19 1h0m-43 1h0m13 1h0m32 1h0m-1 0h0m1 1h0m-36 0h0m-33 1h0m76 1h0m-35 0h0m-27 1h0m28 0h0m13 1h0m16 1h0m-32 0h0m22 2h0m-43 1h0m-5 0h0m25 1h0m29 0h0m-22 1h0m-33 1h0m20 0h0m-5 1h0m-10 0h0m9 1h0m3 1h0m8 1h0m28 1h0m-23 0h0m20 1h0m-23 1h0m5 1h0m32 0h0m-72 1h0m40 0h0m-32 1h0m26 1h0m-27 1h0m37 0h0m-32 1h0m20 1h0m27 1h0m-45 1h0m17 0h0m13 1h0m-17 1h0m11 1h0m11 1h0m-18 1h0m-1 2h0m38 0h0m-24 1h0m-40 2h0m54 1h0m-32 1h0m-8 0h0m1 2h0m19 1h0m8 0h0m11 2h0m-59 1h0m7 2h0m30 0h0m-16 1h0m7 1h0m32 1h0m-46 1h0m-16 1h0m56 0h0m-44 1h0m41 1h0m3 1h0m11 1h0m8 1h0m-46 1h0m43 1h0m-63 2h0m24 1h0m-21 1h0m2 2h0m2 2h0m-16 1h0m35 1h0m-11 2h0m21 4h0m-44 2h0m0 2h0m61 2h0m-54 1h0m20 1h0m-19 3h0m3 3h0m51 3h0m-52 2h0m16 3h0m0 4h0m-21 1h0m14 1h0m25 8h0m-26 5h0m1 12h0m-16 9h0m22 20h0m111-315h0m-10 15h0m-21 6h0m18 12h0m8 3h0m1 4h0m6 4h0m-20 4h0m27 1h0m0 4h0m-6 2h0m-26 4h0m22 2h0m15 2h0m-10 2h0m9 2h0m2 3h0m-3 1h0m-46 1h0m46 2h0m-61 0h0m63 2h0m-71 1h0m73 1h0m-10 2h0m-50 1h0m6 1h0m53 2h0m2 0h0m-32 2h0m28 1h0m-47 1h0m-2 3h0m34 1h0m2 0h0m-15 2h0m-18 0h0m-20 1h0m71 1h0m-69 1h0m40 1h0m30 1h0m-66 1h0m38 1h0m30 1h0m-44 1h0m31 1h0m-12 0h0m-41 1h0m60 1h0m-42 1h0m-10 1h0m8 1h0m28 0h0m-3 1h0m-28 0h0m6 1h0m34 1h0m5 1h0m-38 0h0m4 0h0m42 1h0m-48 0h0m15 1h0m-1 1h0m26 2h0m-14 0h0m-48 1h0m56 1h0m-51 0h0m24 2h0m37 0h0m-2 1h0m-5 0h0m-3 1h0m-44 0h0m-9 1h0m62 0h0m-25 1h0m-15 1h0m-6 1h0m46 0h0m-58 1h0m-4 1h0m17 1h0m14 1h0m-29 1h0m8 1h0m0 2h0m-14 1h0m47 1h0m-50 0h0m-2 1h0m23 1h0m-6 1h0m45 1h0m-62 0h0m9 1h0m15 1h0m-5 0h0m1 1h0m20 1h0m-17 1h0m-21 1h0m33 1h0m20 1h0m3 0h0m-60 2h0m0 0h0m49 2h0m-1 0h0m-31 3h0m-5 1h0m16 1h0m33 0h0m-59 1h0m-2 1h0m34 0h0m-31 1h0m-4 2h0m59 1h0m-36 1h0m-15 2h0m11 1h0m-9 1h0m-7 1h0m17 1h0m-4 2h0m31 1h0m-6 2h0m8 2h0m-45 2h0m43 2h0m9 2h0m1 1h0m-7 2h0m8 1h0m-58 3h0m19 2h0m-14 3h0m21 5h0m45 6h0m-29 9h0m-7 9h0m-5 6h0m-4 10h0m22 26h0m-43 25h0m120-346h0m33 30h0m-1 10h0m-42 4h0m-19 4h0m10 4h0m39 1h0m5 4h0m8 2h0m-63 1h0m44 3h0m-2 2h0m-6 2h0m-19 2h0m24 1h0m-21 1h0m8 2h0m-9 3h0m33 1h0m-13 1h0m7 1h0m-54 2h0m43 2h0m8 1h0m15 1h0m-45 1h0m13 1h0m29 2h0m-19 0h0m-7 1h0m14 1h0m-21 1h0m31 2h0m-14 0h0m-3 1h0m-47 1h0m58 1h0m16 0h0m-12 1h0m-30 1h0m35 1h0m-14 0h0m11 1h0m-20 0h0m-31 1h0m57 1h0m-62 1h0m49 0h0m-50 2h0m27 0h0m25 1h0m-63 1h0m55 0h0m11 1h0m-20 1h0m21 1h0m-9 1h0m5 1h0m-2 0h0m-33 1h0m-19 1h0m19 0h0m46 1h0m-61 1h0m64 1h0m-20 0h0m7 1h0m-43 0h0m10 1h0m9 0h0m-4 1h0m-31 1h0m30 0h0m10 1h0m-41 0h0m13 1h0m17 1h0m-19 0h0m0 1h0m43 0h0m-49 1h0m65 1h0m-75 1h0m74 1h0m-32 1h0m-11 0h0m42 1h0m-42 0h0m-31 1h0m27 1h0m10 0h0m-22 1h0m-11 1h0m51 1h0m-21 1h0m-19 0h0m31 1h0m19 1h0m8 0h0m-11 1h0m-57 1h0m10 1h0m42 1h0m-54 1h0m73 1h0m-38 1h0m-28 1h0m23 2h0m-32 0h0m60 1h0m-53 1h0m24 1h0m-4 1h0m24 1h0m-25 1h0m32 1h0m-53 0h0m55 3h0m-52 0h0m63 1h0m-18 1h0m-48 1h0m26 1h0m-25 2h0m38 1h0m20 0h0m-53 2h0m9 1h0m14 1h0m-18 2h0m-12 1h0m8 2h0m10 1h0m-2 1h0m29 2h0m-42 1h0m56 1h0m-54 2h0m24 3h0m37 2h0m-57 4h0m5 3h0m-7 3h0m-1 1h0m7 4h0m-1 5h0m32 10h0m-14 16h0m-3 63h0m127-321h0m-17 14h0m-23 6h0m4 8h0m12 5h0m-46 3h0m56 3h0m-15 3h0m-8 1h0m2 2h0m-26 2h0m-16 3h0m24 1h0m18 1h0m3 3h0m-12 2h0m-14 1h0m34 2h0m-43 1h0m31 1h0m-1 1h0m-38 2h0m29 2h0m35 0h0m-34 2h0m-28 1h0m30 1h0m5 1h0m20 1h0m4 1h0m14 2h0m-10 0h0m-36 2h0m20 1h0m-48 1h0m27 1h0m28 1h0m-23 2h0m18 0h0m-27 1h0m-26 1h0m63 0h0m9 1h0m-68 2h0m24 0h0m7 2h0m-25 0h0m28 1h0m5 1h0m-9 1h0m38 1h0m-14 1h0m-8 0h0m-8 1h0m11 2h0m-8 1h0m-10 0h0m8 1h0m-19 1h0m-7 1h0m-16 1h0m0 1h0m45 1h0m-12 1h0m30 2h0m-59 2h0m70 1h0m-62 1h0m1 1h0m42 1h0m-58 1h0m19 1h0m21 1h0m-27 0h0m38 1h0m-45 2h0m4 2h0m47 1h0m3 1h0m-58 2h0m1 2h0m10 2h0m14 1h0m36 3h0m-32 1h0m-30 2h0m-1 3h0m18 1h0m12 1h0m7 2h0m-30 2h0m28 1h0m33 3h0m-45 4h0m-5 4h0m44 3h0m-53 6h0m15 4h0m38 4h0m-57 16h0m-2 10h0m0 57h0m102-296h0m-1 14h0m40 11h0m-32 3h0m41 5h0m-9 5h0m-47 5h0m24 1h0m-18 3h0m36 1h0m-27 1h0m48 3h0m-42 2h0m-9 2h0m22 4h0m8 0h0m3 3h0m-11 0h0m18 2h0m5 1h0m-13 2h0m12 2h0m-32 2h0m25 1h0m-36 1h0m-1 2h0m5 2h0m-16 0h0m4 1h0m5 2h0m-22 2h0m58 2h0m1 3h0m8 1h0m-18 1h0m-33 2h0m57 1h0m-72 2h0m38 1h0m-35 2h0m43 1h0m-17 1h0m-27 3h0m15 2h0m-1 1h0m-12 1h0m-9 1h0m20 3h0m-20 2h0m33 2h0m-11 3h0m-16 3h0m27 4h0m-5 2h0m14 2h0m-40 3h0m20 4h0m19 4h0m-29 8h0m-4 35h0m103-220h0m13 15h0m-9 11h0m39 8h0m-21 5h0m-47 6h0m15 5h0m27 4h0m-47 2h0m36 5h0m4 4h0m32 5h0m-37 2h0m-22 5h0m-9 5h0m37 3h0m-41 7h0m40 4h0m-37 2h0m-4 3h0m37 5h0m-36 8h0m14 11h0m-12 27h0m79-151h0m3 41h0m-247 194h0m-168 353h0" stroke="#EE30A7" stroke-opacity="0.6" stroke-width="7.2" stroke-linecap="round" fill="none"/>
<path transform="scale(.5)" d="M356 4382h0m2 7h0m-10 5h0m-16 4h0m10 2h0m4 10h0m-14 9h0m26 2h0m-2 4h0m-24 2h0m26 2h0m-48 1h0m41 2h0m-41 2h0m-17 3h0m26 1h0m-9 1h0m22 0h0m0 2h0m15 1h0m-15 1h0m18 2h0m-40 2h0m25 1h0m23 1h0m-7 1h0m0 1h0m-19 1h0m19 2h0m0 1h0m2 1h0m-43 0h0m45 1h0m-45 1h0m22 1h0m0 0h0m0 1h0m19 1h0m-11 1h0m-30 1h0m22 0h0m0 1h0m-22 0h0m0 1h0m26 1h0m-4 1h0m-18 1h0m3 1h0m-13 0h0m15 1h0m13 1h0m13 0h0m-35 1h0m22 1h0m2 1h0m17 1h0m-41 1h0m0 0h0m0 1h0m0 0h0m-24 2h0m37 0h0m9 1h0m27 0h0m-75 1h0m27 2h0m21 0h0m0 1h0m26 1h0m-48 1h0m31 0h0m-31 0h0m0 1h0m-26 0h0m26 1h0m49 1h0m-27 1h0m-22 0h0m22 1h0m19 1h0m3 1h0m-22 0h0m-48 1h0m6 0h0m20 1h0m36 1h0m-36 1h0m0 0h0m-26 0h0m0 1h0m65 1h0m-29 1h0m5 1h0m-15 1h0m0 1h0m-26 1h0m0 1h0m33 1h0m14 0h0m-47 1h0m0 1h0m26 1h0m0 1h0m-26 2h0m48 1h0m-4 1h0m-44 2h0m0 1h0m48 2h0m-48 1h0m67 1h0m4 2h0m-45 1h0m-26 2h0m26 2h0m6 1h0m-6 2h0m-26 1h0m42 1h0m-42 2h0m9 1h0m24 2h0m-24 1h0m54 4h0m-63 2h0m48 2h0m0 2h0m-48 2h0m62 3h0m-2 4h0m-60 6h0m62 2h0m2 3h0m-16 2h0m0 9h0m-44 5h0m44 13h0m-11 6h0m-11 8h0m-26 17h0m130-332h0m10 25h0m-14 6h0m-16 9h0m34 6h0m4 4h0m6 6h0m-47 3h0m34 2h0m-4 2h0m-4 4h0m10 2h0m6 1h0m3 3h0m-22 1h0m11 2h0m-8 1h0m9 4h0m-56 0h0m-10 2h0m7 1h0m-6 2h0m48 1h0m-9 0h0m32 2h0m-16 1h0m19 2h0m-65 1h0m56 2h0m-19 1h0m-29 2h0m48 1h0m-8 1h0m7 1h0m-4 1h0m-44 1h0m24 1h0m-17 1h0m44 2h0m-22 1h0m25 0h0m-14 1h0m-20 0h0m25 1h0m-57 1h0m66 1h0m-46 2h0m33 1h0m-49 0h0m62 2h0m0 0h0m-35 1h0m-18 0h0m47 1h0m0 2h0m-27 1h0m-29 0h0m3 1h0m66 0h0m-26 2h0m1 0h0m-46 1h0m65 0h0m-45 1h0m38 1h0m-21 1h0m26 0h0m-55 0h0m25 1h0m20 1h0m15 0h0m-59 1h0m17 0h0m47 1h0m-15 1h0m-10 0h0m-40 1h0m56 0h0m-18 1h0m19 1h0m-69 1h0m60 0h0m-38 1h0m-14 0h0m68 1h0m-69 0h0m-7 1h0m69 1h0m-5 1h0m-55 1h0m58 0h0m-1 1h0m-67 0h0m13 1h0m41 1h0m12 1h0m-23 0h0m20 1h0m-16 2h0m-6 1h0m-28 0h0m34 2h0m-26 1h0m25 0h0m10 1h0m-26 1h0m33 1h0m-13 1h0m27 1h0m-35 1h0m35 1h0m-70 1h0m10 1h0m21 2h0m22 1h0m-44 1h0m1 1h0m59 1h0m-56 1h0m26 1h0m-42 1h0m62 3h0m-30 1h0m40 1h0m-66 1h0m12 1h0m20 2h0m12 2h0m22 0h0m-72 4h0m20 1h0m-20 3h0m11 4h0m11 2h0m-24 2h0m12 4h0m9 3h0m41 1h0m-54 3h0m7 2h0m-10 5h0m28 4h0m-2 3h0m5 2h0m-14 5h0m-18 11h0m32 10h0m-3 22h0m89-369h0m-4 31h0m4 18h0m11 12h0m-11 7h0m17 6h0m4 6h0m13 4h0m-74 5h0m38 3h0m-22 3h0m21 4h0m37 4h0m-34 3h0m32 1h0m-21 4h0m8 1h0m-36 2h0m9 1h0m33 2h0m2 3h0m1 1h0m-7 2h0m-30 3h0m-29 3h0m54 2h0m-7 1h0m-41 1h0m60 1h0m3 1h0m3 1h0m-66 1h0m47 0h0m-59 2h0m75 1h0m-48 1h0m-4 2h0m23 0h0m-25 2h0m8 1h0m13 1h0m-24 1h0m31 1h0m-50 2h0m72 1h0m-41 1h0m32 0h0m9 1h0m-45 1h0m-23 1h0m2 1h0m49 0h0m-4 0h0m10 1h0m-27 1h0m-31 1h0m71 0h0m-75 1h0m44 2h0m-16 1h0m2 1h0m1 1h0m26 1h0m-53 0h0m11 1h0m39 0h0m18 1h0m-50 1h0m30 1h0m6 1h0m-39 2h0m59 0h0m-35 1h0m3 0h0m6 1h0m26 1h0m-13 0h0m-33 1h0m11 1h0m-3 1h0m17 0h0m-30 2h0m-17 0h0m36 1h0m31 1h0m-59 0h0m21 1h0m-37 0h0m60 1h0m15 1h0m-54 1h0m2 1h0m-6 1h0m46 0h0m-57 1h0m46 0h0m11 1h0m-44 0h0m4 1h0m-10 1h0m35 1h0m7 1h0m-6 1h0m-38 1h0m-10 0h0m8 1h0m-7 2h0m21 0h0m11 1h0m32 1h0m-44 1h0m39 1h0m-33 1h0m27 1h0m-32 1h0m-8 1h0m37 2h0m1 1h0m-40 0h0m15 1h0m-26 1h0m37 2h0m-23 2h0m57 1h0m-19 2h0m22 1h0m-49 1h0m-3 2h0m-4 0h0m-1 1h0m49 2h0m-56 2h0m4 1h0m17 2h0m-26 1h0m9 4h0m21 1h0m-22 1h0m53 3h0m-54 3h0m51 3h0m-63 4h0m36 7h0m-12 3h0m5 5h0m-6 3h0m25 8h0m-30 19h0m33 17h0m-36 15h0m73-360h0m39 14h0m-26 15h0m32 13h0m5 3h0m12 3h0m-44 6h0m37 4h0m-3 7h0m2 3h0m-59 2h0m61 3h0m11 2h0m-46 4h0m36 6h0m-52 2h0m58 2h0m-2 2h0m-48 3h0m9 3h0m-12 0h0m15 2h0m22 1h0m19 1h0m-74 2h0m40 2h0m9 2h0m-2 0h0m-25 2h0m31 2h0m-41 1h0m-14 2h0m21 0h0m28 1h0m-23 1h0m30 1h0m-44 1h0m52 1h0m-56 2h0m-5 1h0m11 1h0m56 1h0m7 1h0m-33 1h0m-45 1h0m11 1h0m52 0h0m-4 1h0m-44 1h0m32 0h0m-25 1h0m35 1h0m-42 2h0m36 0h0m25 1h0m-51 1h0m27 1h0m-6 1h0m-43 0h0m27 1h0m17 0h0m29 1h0m-66 1h0m36 1h0m-26 2h0m45 1h0m-32 0h0m26 1h0m-2 1h0m15 1h0m-68 1h0m53 0h0m-53 2h0m25 0h0m-1 0h0m0 1h0m37 0h0m-15 1h0m26 1h0m-26 1h0m1 1h0m-22 1h0m29 1h0m-12 1h0m-38 0h0m-8 1h0m49 1h0m-27 0h0m34 1h0m-48 1h0m11 0h0m15 1h0m41 1h0m-2 1h0m-65 1h0m11 1h0m36 1h0m12 1h0m-49 1h0m-8 1h0m32 0h0m-29 1h0m41 1h0m-48 2h0m26 1h0m15 2h0m-18 0h0m-8 1h0m-9 1h0m-4 1h0m13 1h0m-7 1h0m-11 1h0m27 1h0m25 0h0m-50 2h0m-3 1h0m-2 1h0m55 1h0m-55 1h0m53 2h0m26 1h0m-47 1h0m-10 1h0m23 3h0m9 2h0m-33 2h0m23 3h0m31 2h0m-75 1h0m39 1h0m-18 2h0m2 4h0m30 2h0m-50 4h0m41 2h0m-7 5h0m-34 6h0m12 3h0m33 7h0m-37 4h0m49 10h0m-56 14h0m6 22h0m4 45h0m86-406h0m6 35h0m30 13h0m-41 9h0m-7 12h0m55 5h0m2 5h0m-2 2h0m-10 4h0m10 3h0m2 4h0m5 2h0m-5 2h0m12 1h0m-48 2h0m41 4h0m-8 1h0m-24 2h0m18 1h0m-30 2h0m-18 1h0m30 2h0m5 2h0m15 1h0m-36 1h0m-10 1h0m50 1h0m-13 1h0m28 1h0m-22 2h0m18 2h0m-3 2h0m-26 0h0m10 1h0m-33 1h0m27 1h0m25 2h0m4 2h0m-71 0h0m61 1h0m-7 1h0m-12 2h0m-2 0h0m-27 1h0m37 1h0m-23 1h0m38 0h0m-19 1h0m-3 1h0m-28 1h0m8 1h0m10 1h0m35 1h0m-29 1h0m-18 1h0m51 0h0m-70 2h0m68 1h0m-8 1h0m-35 1h0m-16 1h0m24 0h0m18 1h0m10 1h0m-2 1h0m-2 1h0m13 0h0m-39 1h0m-9 1h0m-21 1h0m51 1h0m-13 1h0m6 1h0m-47 0h0m33 1h0m-33 0h0m42 1h0m7 2h0m19 1h0m-12 0h0m1 1h0m-16 1h0m-35 1h0m41 1h0m0 0h0m8 2h0m-53 1h0m-5 1h0m15 1h0m-18 0h0m23 1h0m4 1h0m17 1h0m33 1h0m-29 1h0m-28 1h0m34 0h0m-8 2h0m21 1h0m-5 1h0m-38 1h0m-10 0h0m-5 1h0m2 1h0m22 2h0m-14 0h0m-12 2h0m-6 0h0m26 1h0m-7 1h0m-6 1h0m43 1h0m17 1h0m-51 1h0m8 0h0m-2 1h0m-24 1h0m58 1h0m-23 2h0m-20 1h0m5 1h0m13 2h0m-15 1h0m-9 1h0m23 2h0m0 1h0m-19 1h0m15 2h0m-32 3h0m12 2h0m4 3h0m-14 2h0m53 2h0m-3 2h0m-53 4h0m61 2h0m-21 11h0m-4 5h0m-20 2h0m-16 6h0m13 16h0m3 18h0m110-332h0m-1 23h0m-14 21h0m43 5h0m-9 8h0m3 5h0m-23 2h0m31 2h0m-62 2h0m1 4h0m38 2h0m3 2h0m20 3h0m-35 2h0m-39 2h0m72 2h0m-23 3h0m24 1h0m-6 2h0m-9 2h0m-1 1h0m6 3h0m-6 2h0m16 2h0m3 1h0m-24 1h0m0 1h0m5 3h0m-23 1h0m37 1h0m-47 1h0m1 1h0m38 0h0m-29 2h0m22 1h0m-39 1h0m37 1h0m-44 2h0m67 1h0m-58 0h0m8 1h0m12 1h0m-25 0h0m51 1h0m0 1h0m9 1h0m-8 1h0m10 1h0m-15 1h0m-35 1h0m36 0h0m-4 1h0m-55 1h0m61 1h0m-43 1h0m34 1h0m15 0h0m-63 1h0m34 1h0m14 1h0m-38 1h0m1 0h0m-4 1h0m22 1h0m-3 0h0m24 1h0m-17 1h0m24 1h0m-23 0h0m2 1h0m-32 2h0m45 0h0m-28 1h0m5 0h0m6 1h0m26 0h0m-16 1h0m-49 1h0m46 1h0m4 0h0m-13 1h0m-14 0h0m-12 2h0m32 1h0m-16 1h0m37 0h0m-40 1h0m17 1h0m-11 1h0m8 1h0m6 0h0m-10 1h0m16 1h0m-35 2h0m19 1h0m-30 1h0m19 0h0m13 2h0m-20 1h0m9 1h0m31 1h0m-13 1h0m-21 1h0m-4 1h0m37 1h0m-52 0h0m31 2h0m-18 1h0m57 1h0m-35 1h0m-6 1h0m0 2h0m-30 1h0m14 1h0m24 1h0m6 1h0m4 2h0m25 2h0m-76 1h0m23 2h0m-6 2h0m-15 2h0m52 1h0m15 1h0m-60 2h0m3 2h0m-4 1h0m69 2h0m-13 2h0m-58 2h0m-4 3h0m56 1h0m-5 3h0m-51 2h0m50 4h0m-38 3h0m25 3h0m-26 4h0m25 4h0m-39 10h0m6 23h0m6 28h0m142-350h0m-3 26h0m-5 15h0m5 11h0m-56 9h0m64 5h0m-30 2h0m7 5h0m-18 2h0m-17 2h0m17 2h0m10 1h0m4 2h0m18 1h0m-19 2h0m2 0h0m-28 1h0m-17 3h0m42 2h0m2 2h0m-38 1h0m33 2h0m32 1h0m-6 1h0m-44 1h0m29 2h0m-8 1h0m-49 2h0m1 1h0m75 2h0m-67 1h0m15 1h0m42 2h0m-10 1h0m2 1h0m-47 1h0m53 1h0m-61 1h0m68 1h0m-67 1h0m58 1h0m-64 1h0m30 1h0m42 1h0m-34 1h0m-5 0h0m46 1h0m-17 1h0m-45 2h0m25 0h0m-24 1h0m55 1h0m-6 0h0m-62 2h0m46 1h0m-22 1h0m28 0h0m-30 1h0m38 2h0m-33 1h0m24 0h0m-14 2h0m-33 0h0m27 1h0m6 1h0m-26 1h0m-8 1h0m31 1h0m22 0h0m-37 1h0m41 1h0m-36 2h0m7 1h0m34 1h0m-13 0h0m-34 1h0m3 1h0m38 1h0m-51 0h0m14 2h0m-26 1h0m31 1h0m-30 1h0m25 0h0m-6 1h0m2 1h0m17 1h0m0 1h0m-30 1h0m17 0h0m-2 1h0m-16 2h0m-8 1h0m36 2h0m-1 1h0m17 1h0m-5 1h0m-31 3h0m9 0h0m-5 3h0m28 2h0m-24 0h0m-1 2h0m-12 1h0m18 1h0m-21 1h0m19 1h0m-8 1h0m38 1h0m10 2h0m-13 2h0m2 1h0m-29 2h0m-20 1h0m50 1h0m-47 2h0m27 2h0m12 3h0m-43 1h0m72 2h0m-67 1h0m-7 3h0m36 2h0m-18 2h0m36 1h0m-55 3h0m26 3h0m10 5h0m-23 4h0m-5 6h0m16 7h0m-4 6h0m3 5h0m-4 8h0m21 25h0m14 14h0m76-344h0m5 28h0m15 8h0m-43 8h0m18 9h0m-26 5h0m-22 3h0m62 3h0m10 4h0m-52 5h0m44 4h0m-1 3h0m-42 3h0m11 3h0m2 3h0m27 0h0m12 2h0m-20 2h0m-32 1h0m38 2h0m-9 1h0m-41 1h0m52 2h0m-22 2h0m3 1h0m-7 1h0m19 1h0m3 2h0m-13 1h0m-13 2h0m-7 1h0m-1 1h0m38 1h0m-2 1h0m-21 1h0m-4 2h0m-33 1h0m69 0h0m-51 1h0m22 1h0m-40 1h0m0 1h0m8 1h0m-2 2h0m50 1h0m14 0h0m-19 1h0m-48 1h0m70 1h0m-53 0h0m-11 2h0m31 1h0m5 1h0m-35 1h0m13 1h0m29 3h0m-42 0h0m34 1h0m-40 1h0m65 1h0m-36 1h0m-7 0h0m-2 1h0m-10 1h0m59 1h0m-9 1h0m-47 1h0m29 1h0m5 1h0m-7 1h0m13 1h0m-22 2h0m12 0h0m-19 2h0m8 3h0m-5 2h0m-17 0h0m-2 2h0m24 2h0m-35 1h0m8 2h0m41 3h0m-15 1h0m-15 2h0m19 1h0m-16 3h0m10 0h0m-5 1h0m-28 2h0m49 0h0m-34 2h0m10 2h0m22 3h0m-28 2h0m-3 2h0m4 3h0m-9 1h0m26 4h0m18 4h0m-57 2h0m72 3h0m-66 4h0m15 5h0m-1 4h0m38 6h0m-38 7h0m-15 3h0m3 16h0m13 31h0m93-320h0m16 27h0m0 8h0m7 5h0m-43 10h0m36 4h0m11 4h0m-23 4h0m22 2h0m-10 5h0m-27 4h0m31 3h0m-32 1h0m19 5h0m-4 0h0m17 5h0m-52 3h0m57 2h0m3 4h0m-40 1h0m20 2h0m31 4h0m-17 2h0m-43 1h0m-11 1h0m52 2h0m-19 5h0m10 1h0m-30 2h0m6 3h0m15 2h0m-11 2h0m-7 2h0m-13 2h0m32 2h0m19 1h0m-52 2h0m47 2h0m-28 2h0m-1 1h0m35 2h0m-3 2h0m-52 2h0m7 3h0m56 1h0m-47 4h0m41 1h0m-21 2h0m-11 3h0m-21 3h0m52 1h0m-48 5h0m-4 2h0m-2 3h0m13 2h0m-6 4h0m9 6h0m-18 10h0m30 12h0m-26 23h0m-2 102h0m138-329h0m-2 16h0m2 4h0m-49 9h0m41 7h0m11 3h0m-48 5h0m-6 7h0m-2 8h0m6 5h0m41 3h0m-4 3h0m-12 3h0m-25 4h0m32 5h0m-30 2h0m-8 6h0m-1 4h0m-1 5h0m23 14h0m-9 9h0m6 10h0m36 10h0m-48 15h0m-7 45h0m93-191h0m-12 57h0m-467 177h0m13 113h0" stroke="#9ACD32" stroke-opacity="0.6" stroke-width="7.2" stroke-linecap="round" fill="none"/>
<path transform="scale(.5)" d="M357 4424h0m-26 8h0m25 9h0m-24 3h0m0 4h0m19 3h0m3 3h0m-22 3h0m0 2h0m26 4h0m-12 2h0m8 2h0m-44 1h0m44 3h0m-12 2h0m-32 1h0m22 1h0m0 1h0m0 0h0m0 2h0m0 0h0m19 1h0m-19 1h0m0 0h0m20 1h0m-40 1h0m16 0h0m4 1h0m25 1h0m-25 0h0m23 1h0m-21 1h0m-2 1h0m0 0h0m16 1h0m11 1h0m-8 1h0m-4 0h0m0 1h0m-57 1h0m42 1h0m2 1h0m-24 1h0m5 1h0m36 0h0m-19 2h0m-22 0h0m35 0h0m-13 1h0m0 1h0m0 0h0m19 1h0m0 0h0m-33 1h0m31 0h0m-39 1h0m0 0h0m-26 0h0m26 1h0m22 1h0m-44 2h0m63 0h0m-19 2h0m-48 0h0m26 1h0m0 1h0m0 0h0m-4 2h0m29 1h0m-25 1h0m36 0h0m-50 1h0m36 1h0m-22 0h0m22 1h0m0 2h0m24 1h0m-46 0h0m23 1h0m-3 1h0m-44 1h0m-2 0h0m25 1h0m28 0h0m12 1h0m-21 1h0m21 1h0m-39 1h0m-26 1h0m26 0h0m6 1h0m-6 1h0m37 1h0m-37 0h0m0 1h0m-26 1h0m62 0h0m-36 2h0m12 1h0m-38 1h0m26 1h0m-26 0h0m69 1h0m-53 2h0m53 1h0m-58 1h0m15 2h0m-26 1h0m66 2h0m-2 1h0m-16 2h0m0 2h0m0 1h0m-22 2h0m0 1h0m0 2h0m0 4h0m22 1h0m0 1h0m0 3h0m15 1h0m-15 2h0m0 1h0m-48 1h0m26 2h0m0 3h0m46 2h0m-22 6h0m-47 4h0m23 4h0m-26 5h0m69 2h0m-21 7h0m-48 15h0m28 17h0m-28 18h0m155-315h0m-11 11h0m-7 9h0m-33 8h0m8 4h0m8 4h0m3 7h0m24 5h0m-15 3h0m16 1h0m-26 3h0m-9 1h0m9 1h0m6 2h0m6 2h0m8 2h0m7 1h0m-10 2h0m-11 1h0m-10 0h0m-10 1h0m38 2h0m-46 1h0m34 2h0m-19 1h0m37 1h0m-4 1h0m-55 1h0m56 1h0m-57 2h0m18 1h0m-13 0h0m35 2h0m-50 2h0m57 0h0m-56 1h0m50 1h0m-42 1h0m56 2h0m-16 1h0m10 1h0m-1 0h0m6 1h0m-30 2h0m23 1h0m-46 0h0m54 1h0m-4 1h0m-56 1h0m9 1h0m49 0h0m-35 1h0m23 1h0m-6 1h0m-2 1h0m-11 1h0m-14 1h0m29 2h0m-34 1h0m21 1h0m27 0h0m-41 0h0m-5 1h0m26 1h0m32 0h0m-13 1h0m-7 0h0m20 1h0m-6 0h0m1 1h0m-13 1h0m18 1h0m-38 1h0m31 0h0m-40 1h0m30 1h0m-16 0h0m-27 1h0m-15 1h0m74 0h0m-23 1h0m-50 0h0m5 1h0m8 0h0m42 1h0m16 1h0m-66 1h0m-4 1h0m36 0h0m22 1h0m0 1h0m-43 1h0m-11 1h0m57 0h0m-21 2h0m0 0h0m-15 1h0m-19 1h0m-1 1h0m30 1h0m-30 1h0m18 1h0m12 1h0m-6 1h0m28 1h0m-31 1h0m11 1h0m-41 1h0m8 1h0m30 2h0m-22 1h0m36 1h0m-51 1h0m47 1h0m-27 2h0m-20 1h0m3 1h0m3 1h0m12 1h0m20 1h0m21 1h0m-50 2h0m47 0h0m-7 2h0m-41 0h0m-1 1h0m17 2h0m18 1h0m-41 1h0m57 4h0m-17 2h0m-10 2h0m14 2h0m-41 2h0m5 4h0m3 5h0m39 2h0m-11 6h0m-32 5h0m-4 7h0m9 6h0m-12 24h0m48 25h0m86-346h0m-52 17h0m35 13h0m-4 9h0m31 4h0m-32 7h0m28 4h0m-27 4h0m24 6h0m-10 2h0m-3 4h0m11 2h0m1 2h0m-14 3h0m-3 4h0m-34 1h0m40 2h0m6 2h0m-14 2h0m31 1h0m-55 1h0m23 3h0m11 1h0m20 2h0m-33 1h0m29 1h0m-28 1h0m39 1h0m-33 1h0m-2 1h0m8 1h0m-38 1h0m-4 1h0m24 1h0m18 2h0m-14 1h0m-21 2h0m-11 0h0m68 1h0m-2 1h0m4 1h0m-13 1h0m13 1h0m-3 2h0m-15 2h0m22 1h0m-51 1h0m-4 0h0m27 1h0m10 1h0m13 1h0m-24 1h0m22 0h0m-28 1h0m-36 0h0m10 1h0m13 1h0m22 0h0m13 1h0m-18 0h0m10 1h0m-3 1h0m-3 1h0m-19 0h0m7 1h0m25 0h0m8 1h0m-28 1h0m0 0h0m28 1h0m6 1h0m-78 1h0m71 0h0m1 1h0m-6 1h0m-62 1h0m10 1h0m11 0h0m33 1h0m-20 0h0m-16 1h0m54 0h0m-69 1h0m20 0h0m31 1h0m-58 2h0m46 1h0m-13 1h0m38 1h0m-62 1h0m32 1h0m1 0h0m24 1h0m-17 0h0m-32 1h0m40 1h0m0 1h0m15 1h0m-54 1h0m37 2h0m-51 1h0m45 0h0m-2 2h0m-42 0h0m32 2h0m34 1h0m-47 1h0m25 1h0m26 0h0m-40 1h0m-19 1h0m-17 2h0m35 0h0m-15 2h0m32 1h0m-38 2h0m3 1h0m13 3h0m5 3h0m-9 1h0m-8 1h0m59 1h0m-71 2h0m68 1h0m-2 1h0m-65 1h0m13 4h0m-11 2h0m37 0h0m-39 1h0m41 1h0m-15 1h0m-28 1h0m48 3h0m0 1h0m-2 1h0m-36 4h0m-7 4h0m-4 3h0m35 2h0m-27 6h0m39 6h0m7 11h0m-47 6h0m57 9h0m-55 54h0m88-373h0m43 26h0m-49 18h0m49 9h0m10 2h0m-66 9h0m55 5h0m6 4h0m3 2h0m-3 4h0m-68 2h0m15 1h0m-2 2h0m1 2h0m55 4h0m-14 2h0m-23 1h0m0 1h0m40 1h0m-70 2h0m48 1h0m12 1h0m-25 2h0m40 1h0m-46 1h0m41 1h0m-11 1h0m17 2h0m-19 0h0m-27 2h0m43 1h0m-5 1h0m1 3h0m-13 2h0m1 1h0m14 2h0m-57 0h0m53 1h0m-21 2h0m-23 1h0m5 2h0m20 0h0m-15 1h0m-15 1h0m35 1h0m23 1h0m-64 1h0m-8 2h0m9 1h0m44 1h0m-13 0h0m-29 2h0m37 1h0m-28 1h0m20 0h0m1 2h0m-43 0h0m43 1h0m-27 0h0m12 1h0m-14 1h0m29 1h0m16 1h0m9 0h0m-15 0h0m-52 1h0m33 1h0m-11 0h0m30 1h0m-27 1h0m-21 0h0m22 1h0m36 0h0m-27 1h0m32 1h0m-37 1h0m-26 0h0m-5 1h0m65 1h0m-37 0h0m-24 1h0m-2 1h0m0 0h0m57 1h0m-24 1h0m-7 0h0m-1 1h0m-8 1h0m22 1h0m20 1h0m-55 1h0m49 1h0m1 0h0m8 1h0m-56 1h0m49 1h0m-52 1h0m34 1h0m-43 0h0m15 2h0m11 1h0m-8 0h0m24 1h0m-39 1h0m70 1h0m-33 0h0m-12 1h0m43 1h0m-18 1h0m-38 0h0m25 2h0m-28 0h0m34 2h0m-45 1h0m38 1h0m29 1h0m-42 1h0m20 1h0m6 1h0m-9 2h0m36 1h0m-59 2h0m10 0h0m33 1h0m-43 4h0m53 1h0m-71 1h0m51 2h0m-23 3h0m-25 1h0m16 3h0m-10 2h0m6 4h0m55 3h0m-51 5h0m13 3h0m23 3h0m-45 5h0m4 7h0m-11 11h0m-5 16h0m47 26h0m104-340h0m-65 15h0m48 11h0m-5 9h0m7 5h0m-23 6h0m17 5h0m26 8h0m0 6h0m-21 4h0m-37 2h0m25 3h0m29 2h0m-18 1h0m25 2h0m-19 3h0m9 2h0m7 3h0m-71 1h0m17 1h0m-18 1h0m52 1h0m10 2h0m-17 2h0m-24 1h0m46 1h0m-42 2h0m36 3h0m-63 1h0m74 1h0m-68 1h0m18 1h0m25 1h0m-13 0h0m-5 1h0m45 0h0m-65 1h0m62 1h0m-5 1h0m-50 1h0m-2 1h0m31 1h0m-3 1h0m28 1h0m-50 1h0m55 1h0m-68 0h0m53 2h0m-15 0h0m-19 1h0m46 1h0m-5 1h0m-23 1h0m3 1h0m-9 0h0m-26 1h0m2 1h0m34 1h0m-46 1h0m47 0h0m19 1h0m-26 1h0m3 0h0m-23 1h0m18 0h0m-30 1h0m42 1h0m14 1h0m-65 0h0m62 1h0m1 1h0m-42 1h0m36 1h0m1 0h0m-59 1h0m34 1h0m39 0h0m-30 1h0m-37 1h0m24 0h0m11 1h0m-15 1h0m-11 0h0m-16 1h0m68 1h0m-27 1h0m-7 0h0m-16 2h0m21 1h0m-29 0h0m45 1h0m2 0h0m3 1h0m-17 1h0m2 1h0m-38 0h0m30 1h0m-10 2h0m-11 0h0m46 1h0m-59 1h0m71 0h0m-44 1h0m5 2h0m-10 1h0m6 1h0m3 0h0m27 1h0m-43 1h0m10 1h0m-18 1h0m6 1h0m-4 0h0m2 1h0m-14 1h0m14 0h0m13 1h0m11 2h0m-4 1h0m16 1h0m-32 1h0m0 1h0m-5 1h0m54 1h0m-6 1h0m-57 0h0m36 2h0m-16 2h0m-23 1h0m48 2h0m-4 1h0m-45 1h0m1 1h0m24 2h0m-14 1h0m-15 2h0m74 1h0m-11 2h0m-33 1h0m-27 2h0m75 1h0m-74 1h0m48 1h0m-34 2h0m33 4h0m-17 1h0m-3 4h0m-27 4h0m49 3h0m-32 6h0m-11 6h0m59 4h0m-6 14h0m79-402h0m-40 114h0m43 15h0m13 7h0m-7 10h0m-5 8h0m-46 8h0m15 5h0m29 1h0m-1 2h0m8 3h0m-7 4h0m-60 1h0m50 2h0m-47 1h0m52 2h0m-18 1h0m11 2h0m15 2h0m3 2h0m-36 3h0m43 0h0m-74 3h0m40 0h0m-9 2h0m-28 1h0m60 3h0m-30 1h0m42 0h0m-6 1h0m-1 1h0m2 1h0m-63 0h0m69 2h0m-58 0h0m46 1h0m-55 1h0m14 1h0m49 2h0m-43 1h0m39 0h0m-24 1h0m-17 1h0m7 1h0m4 1h0m15 0h0m-20 1h0m1 1h0m-11 1h0m42 0h0m-28 1h0m31 0h0m-42 1h0m47 1h0m-9 1h0m-16 0h0m25 1h0m-51 1h0m5 1h0m6 0h0m-3 1h0m5 1h0m-17 1h0m8 1h0m18 1h0m28 1h0m-24 0h0m25 1h0m-23 1h0m-7 1h0m21 1h0m5 0h0m-54 0h0m32 1h0m-28 1h0m24 0h0m-5 1h0m-3 1h0m-31 1h0m27 0h0m-1 1h0m7 0h0m-19 1h0m14 1h0m32 0h0m-60 2h0m46 0h0m26 1h0m-34 1h0m-22 1h0m7 1h0m9 1h0m11 0h0m-29 1h0m19 2h0m-14 0h0m6 1h0m-9 1h0m12 0h0m39 1h0m-48 1h0m-4 0h0m-4 1h0m-11 1h0m24 0h0m-27 1h0m49 1h0m12 1h0m6 1h0m-5 1h0m-13 1h0m-36 0h0m41 1h0m-52 2h0m37 1h0m-37 2h0m12 1h0m14 2h0m11 2h0m-29 1h0m51 1h0m-27 1h0m5 2h0m-18 2h0m11 2h0m-31 3h0m21 1h0m-13 2h0m12 3h0m-22 1h0m4 6h0m9 6h0m52 3h0m-57 3h0m44 3h0m-2 3h0m-43 4h0m-9 2h0m36 5h0m-35 4h0m37 6h0m9 11h0m4 10h0m-48 15h0m133-387h0m-17 58h0m3 22h0m4 13h0m19 8h0m-17 4h0m22 6h0m-37 4h0m-8 3h0m39 1h0m-16 4h0m-2 1h0m19 3h0m-59 1h0m49 3h0m23 3h0m-29 2h0m-26 2h0m6 1h0m-5 1h0m41 3h0m4 2h0m-65 1h0m26 2h0m47 1h0m-26 2h0m-3 1h0m-13 2h0m25 1h0m-9 1h0m-36 1h0m56 1h0m-36 1h0m-13 2h0m52 1h0m0 1h0m-1 0h0m-60 1h0m27 2h0m24 1h0m9 1h0m-61 0h0m42 1h0m-7 1h0m-28 1h0m27 1h0m28 1h0m1 1h0m-34 1h0m-8 0h0m-27 2h0m51 0h0m-25 1h0m19 1h0m-8 0h0m9 0h0m5 1h0m4 1h0m4 1h0m-16 0h0m11 1h0m-14 1h0m-30 1h0m-13 0h0m72 1h0m0 1h0m-17 0h0m-14 2h0m-12 1h0m1 1h0m-8 1h0m34 0h0m-47 1h0m24 1h0m33 1h0m-8 1h0m-22 1h0m-20 1h0m10 2h0m-23 1h0m29 0h0m-18 2h0m56 0h0m-26 1h0m-25 1h0m0 0h0m-2 2h0m47 0h0m-67 1h0m41 0h0m-37 1h0m-1 0h0m27 1h0m-16 1h0m23 1h0m-7 0h0m-10 1h0m-4 1h0m33 0h0m4 1h0m6 1h0m-8 0h0m-6 1h0m-23 1h0m-14 1h0m31 1h0m-3 1h0m2 1h0m-26 1h0m56 1h0m-46 2h0m-21 0h0m27 1h0m-11 1h0m-9 1h0m20 1h0m-29 1h0m2 1h0m32 1h0m-21 1h0m-3 2h0m15 2h0m-13 2h0m29 1h0m39 1h0m-66 1h0m-4 1h0m33 1h0m-29 1h0m9 1h0m12 2h0m1 1h0m-6 3h0m-11 4h0m-14 2h0m20 3h0m-13 1h0m4 1h0m62 2h0m-44 7h0m-23 10h0m12 7h0m-11 12h0m1 12h0m40 70h0m62-365h0m14 16h0m8 21h0m23 7h0m-72 4h0m64 3h0m-67 4h0m37 5h0m-17 3h0m23 1h0m6 3h0m-13 3h0m-35 2h0m48 1h0m16 3h0m-9 2h0m-43 1h0m6 1h0m17 2h0m-8 1h0m-19 1h0m19 3h0m46 1h0m-6 1h0m-25 2h0m-10 1h0m21 0h0m7 1h0m-35 1h0m-4 1h0m4 2h0m38 1h0m-4 2h0m9 1h0m-29 1h0m-12 1h0m8 1h0m-13 1h0m23 1h0m-16 2h0m13 1h0m28 1h0m-24 1h0m-42 1h0m33 1h0m-34 1h0m0 1h0m38 1h0m7 1h0m-43 1h0m-4 2h0m0 0h0m-6 1h0m18 1h0m18 1h0m-12 1h0m17 1h0m23 1h0m-33 1h0m-19 1h0m38 1h0m-43 1h0m-5 2h0m37 0h0m3 2h0m-8 1h0m1 2h0m32 2h0m-44 1h0m-3 1h0m14 1h0m28 2h0m3 1h0m-53 2h0m-12 1h0m40 2h0m11 2h0m-42 2h0m7 1h0m-16 1h0m17 2h0m-11 3h0m21 1h0m-23 0h0m9 2h0m12 3h0m14 3h0m14 2h0m-42 1h0m11 2h0m-8 3h0m19 2h0m-18 4h0m5 1h0m-17 5h0m18 5h0m1 7h0m-18 3h0m56 8h0m-26 19h0m-28 55h0m148-313h0m-56 17h0m36 5h0m-4 4h0m-4 11h0m-2 6h0m-15 6h0m34 2h0m-20 4h0m25 3h0m-54 3h0m26 2h0m-32 0h0m65 3h0m-30 2h0m9 1h0m-33 2h0m8 3h0m-3 2h0m-4 2h0m-20 1h0m75 3h0m-30 2h0m-36 1h0m55 3h0m-18 1h0m-15 1h0m-5 2h0m30 1h0m-39 3h0m24 1h0m33 2h0m-55 1h0m-15 2h0m15 1h0m9 1h0m-19 1h0m29 2h0m21 1h0m-3 1h0m-40 1h0m-4 2h0m-8 1h0m36 2h0m-32 3h0m-4 4h0m22 2h0m33 1h0m-55 1h0m56 3h0m-54 5h0m34 2h0m-32 2h0m39 3h0m-45 4h0m8 1h0m-1 3h0m15 3h0m-22 4h0m8 6h0m8 21h0m-18 19h0m104-286h0m16 49h0m-21 25h0m0 8h0m44 3h0m-6 14h0m14 5h0m-21 4h0m-33 2h0m1 3h0m-4 7h0m49 5h0m-4 3h0m-34 2h0m-13 3h0m19 4h0m-23 6h0m53 5h0m-50 4h0m15 5h0m1 6h0m-24 7h0m66 6h0m-37 10h0m-27 8h0m-2 13h0m89-213h0m4 82h0m-52 195h0m-176-91h0" stroke="#4A77FB" stroke-opacity="0.6" stroke-width="7.2" stroke-linecap="round" fill="none"/>
<path transform="scale(.5)" d="M350 4449h0m4 8h0m-22 9h0m-5 7h0m26 7h0m-21 4h0m0 2h0m-28 4h0m31 2h0m20 2h0m-4 2h0m-9 1h0m10 3h0m-15 1h0m3 1h0m-8 2h0m13 1h0m-35 1h0m41 2h0m-19 0h0m0 1h0m0 2h0m-22 0h0m19 2h0m3 0h0m7 2h0m-38 1h0m56 1h0m-9 1h0m-38 1h0m42 0h0m1 1h0m-21 1h0m0 0h0m25 2h0m-3 0h0m-30 1h0m34 1h0m-48 1h0m0 0h0m39 1h0m-16 1h0m-23 1h0m45 0h0m-4 1h0m-19 0h0m-48 1h0m48 1h0m19 1h0m-19 0h0m0 1h0m-22 0h0m39 1h0m2 0h0m-24 1h0m-17 1h0m24 1h0m-2 1h0m-22 0h0m0 0h0m22 1h0m-3 0h0m-1 1h0m4 0h0m-22 1h0m47 1h0m-42 1h0m-5 0h0m0 1h0m41 0h0m-19 1h0m-22 0h0m-26 1h0m26 0h0m45 1h0m-4 0h0m-41 1h0m0 0h0m-18 2h0m18 0h0m-26 1h0m71 1h0m-71 1h0m0 0h0m1 1h0m25 1h0m-26 0h0m26 1h0m-25 0h0m75 1h0m-50 1h0m22 1h0m3 1h0m-3 0h0m-48 1h0m0 1h0m26 0h0m-21 1h0m-5 1h0m26 1h0m22 1h0m-48 1h0m52 1h0m-32 1h0m6 1h0m-21 2h0m-5 1h0m24 1h0m-24 1h0m26 2h0m5 1h0m36 2h0m9 1h0m-28 2h0m-22 0h0m39 2h0m-39 1h0m22 2h0m15 1h0m-37 1h0m18 2h0m-44 2h0m1 2h0m47 2h0m-48 2h0m41 3h0m-15 2h0m0 3h0m0 1h0m0 3h0m0 2h0m-17 4h0m17 2h0m-26 3h0m0 2h0m26 7h0m-26 6h0m0 5h0m0 8h0m5 7h0m8 3h0m-13 14h0m134-341h0m-2 41h0m-10 15h0m-31 10h0m62 6h0m-25 5h0m-7 5h0m26 5h0m-7 3h0m-35 2h0m28 2h0m-46 1h0m45 2h0m-53 1h0m75 2h0m-31 1h0m23 3h0m-42 2h0m51 2h0m-5 2h0m-47 2h0m48 1h0m-20 1h0m8 2h0m6 1h0m-37 1h0m47 1h0m-28 2h0m-20 1h0m10 1h0m34 1h0m-16 1h0m-41 1h0m25 0h0m19 3h0m-8 1h0m2 1h0m9 1h0m-37 1h0m-17 1h0m5 1h0m62 1h0m-54 1h0m50 0h0m-38 1h0m-5 2h0m34 0h0m3 1h0m8 0h0m-5 1h0m-36 1h0m-12 0h0m21 0h0m-33 1h0m24 1h0m9 1h0m20 0h0m-6 2h0m-49 1h0m45 0h0m6 1h0m-13 0h0m-11 1h0m40 1h0m-3 0h0m-1 1h0m-39 0h0m-17 1h0m23 1h0m-23 1h0m-4 1h0m28 0h0m23 1h0m14 2h0m-63 0h0m61 0h0m-36 1h0m-22 1h0m36 0h0m-24 1h0m33 1h0m-37 0h0m33 1h0m-10 1h0m-6 1h0m9 1h0m-28 1h0m-13 1h0m-5 0h0m28 1h0m-6 0h0m35 1h0m-29 0h0m8 1h0m-25 0h0m38 1h0m-17 1h0m-35 1h0m34 1h0m-3 1h0m43 1h0m-27 0h0m-33 1h0m41 1h0m-57 1h0m51 1h0m2 1h0m-2 1h0m14 1h0m-50 0h0m10 1h0m49 1h0m-58 1h0m17 2h0m-2 1h0m18 2h0m-7 1h0m-15 2h0m37 1h0m-27 1h0m23 2h0m-33 3h0m-14 1h0m12 1h0m53 3h0m-23 1h0m-54 1h0m12 1h0m4 1h0m15 2h0m-24 2h0m49 2h0m-52 2h0m14 3h0m18 3h0m-20 1h0m24 3h0m-37 5h0m26 4h0m46 8h0m-73 4h0m4 4h0m22 15h0m24 11h0m49-306h0m55 20h0m-5 13h0m-11 5h0m-20 4h0m-36 6h0m71 3h0m-24 2h0m17 4h0m10 3h0m-14 4h0m-13 2h0m-17 2h0m35 2h0m10 2h0m-29 1h0m-10 2h0m21 2h0m13 1h0m-26 2h0m21 2h0m-18 0h0m4 2h0m8 1h0m6 1h0m-64 1h0m49 2h0m-33 0h0m32 2h0m23 1h0m-5 0h0m-27 2h0m-36 1h0m31 1h0m-6 1h0m-5 0h0m46 2h0m-2 1h0m-30 0h0m23 1h0m-13 1h0m-37 1h0m11 1h0m-23 1h0m45 0h0m26 1h0m-18 0h0m-6 1h0m-28 1h0m-14 0h0m47 1h0m20 1h0m-32 1h0m0 1h0m17 1h0m15 1h0m-51 1h0m33 1h0m-38 1h0m-7 0h0m28 1h0m-15 1h0m-7 1h0m24 1h0m7 0h0m-4 1h0m-17 1h0m16 1h0m-13 1h0m17 1h0m-3 1h0m-20 0h0m34 1h0m-3 1h0m-30 1h0m44 2h0m-58 0h0m17 1h0m37 1h0m-41 1h0m11 0h0m10 1h0m-43 0h0m14 1h0m1 1h0m52 1h0m-55 0h0m-1 1h0m65 1h0m-55 0h0m39 1h0m-43 1h0m13 1h0m3 1h0m18 2h0m-2 1h0m23 1h0m-57 0h0m6 1h0m28 0h0m-20 2h0m-29 0h0m59 1h0m-17 0h0m28 2h0m-56 0h0m-13 1h0m35 1h0m-3 2h0m-2 1h0m29 1h0m-47 2h0m-5 0h0m16 2h0m-14 1h0m-5 1h0m30 1h0m-30 1h0m25 1h0m27 1h0m-51 1h0m0 2h0m29 1h0m18 1h0m-44 2h0m44 3h0m-57 2h0m17 1h0m12 2h0m30 1h0m-4 4h0m-41 2h0m5 3h0m-15 5h0m27 2h0m-10 3h0m3 4h0m22 5h0m-33 6h0m-12 8h0m45 12h0m-3 12h0m-31 60h0m147-375h0m-3 16h0m-31 14h0m-9 10h0m41 12h0m-6 6h0m-1 1h0m-28 5h0m29 3h0m-4 2h0m-26 2h0m35 3h0m-23 2h0m18 1h0m-8 4h0m-24 3h0m27 1h0m3 1h0m-15 2h0m25 1h0m-40 2h0m32 3h0m-24 2h0m19 1h0m-17 1h0m23 1h0m-3 1h0m-12 1h0m8 1h0m-31 2h0m-1 0h0m-29 1h0m37 1h0m5 2h0m27 0h0m-17 1h0m-26 2h0m-5 1h0m-1 2h0m26 2h0m-2 1h0m25 1h0m-62 1h0m46 1h0m-6 1h0m-22 1h0m41 1h0m-33 1h0m-12 1h0m37 0h0m4 2h0m-20 0h0m15 1h0m-43 1h0m-15 0h0m28 1h0m38 1h0m-44 1h0m-3 0h0m10 1h0m21 1h0m-25 0h0m-5 0h0m42 1h0m-15 1h0m0 0h0m15 1h0m-43 0h0m16 1h0m25 1h0m-11 0h0m-10 1h0m-26 0h0m50 1h0m-19 2h0m22 1h0m-29 0h0m0 1h0m39 1h0m-21 2h0m-21 0h0m-16 2h0m-21 0h0m28 1h0m30 1h0m-57 1h0m49 1h0m4 0h0m-53 1h0m23 1h0m-20 0h0m28 1h0m3 1h0m7 1h0m21 0h0m-59 1h0m18 1h0m11 0h0m43 1h0m-55 1h0m27 1h0m10 1h0m-29 0h0m37 2h0m-6 1h0m-55 0h0m73 1h0m-52 0h0m3 1h0m-21 2h0m1 1h0m-1 0h0m41 3h0m-11 1h0m-33 1h0m71 1h0m-17 1h0m-27 1h0m25 1h0m-48 1h0m22 2h0m10 1h0m-6 2h0m42 4h0m-43 4h0m-1 1h0m-25 4h0m5 4h0m13 2h0m42 4h0m-66 2h0m43 2h0m-15 3h0m1 4h0m28 7h0m-36 6h0m-10 8h0m14 12h0m-21 40h0m136-337h0m-43 14h0m28 9h0m9 9h0m-31 5h0m14 6h0m33 2h0m-11 4h0m18 1h0m-5 4h0m-23 3h0m-24 3h0m-3 2h0m46 2h0m-3 0h0m-26 2h0m26 2h0m9 3h0m-14 2h0m-2 3h0m8 2h0m-26 2h0m38 0h0m-4 2h0m-72 2h0m72 1h0m-56 1h0m-15 0h0m31 2h0m38 1h0m-35 0h0m35 1h0m-51 1h0m49 1h0m-1 1h0m-17 1h0m4 0h0m-3 1h0m4 2h0m-1 1h0m-36 1h0m-21 2h0m65 1h0m-50 1h0m49 1h0m4 1h0m-8 1h0m-11 1h0m-47 0h0m21 0h0m13 1h0m41 1h0m-55 1h0m24 0h0m23 1h0m1 0h0m-66 1h0m50 1h0m-11 1h0m-11 1h0m13 0h0m14 1h0m-3 0h0m4 1h0m4 1h0m-53 0h0m-5 1h0m57 1h0m-21 0h0m28 1h0m-32 1h0m-21 1h0m22 1h0m8 1h0m-23 0h0m14 1h0m35 0h0m-50 1h0m24 0h0m-8 1h0m-21 1h0m3 1h0m-6 1h0m31 1h0m16 0h0m-11 1h0m-50 1h0m11 1h0m54 0h0m-59 1h0m-2 1h0m17 1h0m-8 1h0m6 2h0m-7 1h0m22 1h0m6 1h0m-4 1h0m-33 1h0m3 0h0m21 2h0m18 1h0m32 1h0m-53 1h0m22 2h0m28 1h0m-23 0h0m-14 1h0m22 1h0m-17 1h0m-27 1h0m59 1h0m-2 1h0m-63 0h0m64 1h0m-71 2h0m66 0h0m-24 1h0m-32 2h0m-6 1h0m32 1h0m26 1h0m-55 2h0m11 2h0m47 1h0m-31 1h0m-31 1h0m22 2h0m29 4h0m-49 2h0m-3 3h0m38 1h0m24 1h0m-47 2h0m-13 2h0m-1 3h0m-2 4h0m22 1h0m-22 3h0m19 4h0m-4 1h0m-12 2h0m31 7h0m-1 5h0m3 12h0m-37 10h0m65 24h0m81-316h0m-14 11h0m1 7h0m9 12h0m-9 3h0m-13 3h0m27 4h0m3 4h0m-18 2h0m-1 3h0m10 3h0m-19 3h0m12 2h0m14 2h0m-21 2h0m21 2h0m-7 3h0m-12 1h0m-24 1h0m49 2h0m-16 1h0m10 1h0m-70 1h0m65 1h0m-27 2h0m-38 1h0m45 1h0m13 2h0m15 0h0m-26 2h0m-31 1h0m51 2h0m-46 2h0m27 1h0m-46 0h0m65 2h0m-27 0h0m-6 1h0m36 1h0m-6 1h0m8 1h0m-56 1h0m54 1h0m-32 1h0m-20 1h0m24 1h0m-8 1h0m31 1h0m-52 0h0m-8 1h0m24 1h0m-15 1h0m15 1h0m-3 0h0m-7 1h0m2 0h0m24 2h0m11 0h0m-10 1h0m-33 0h0m29 0h0m10 1h0m-14 1h0m-28 1h0m25 1h0m8 1h0m18 1h0m-28 0h0m36 1h0m-14 0h0m4 2h0m8 0h0m-45 1h0m17 0h0m26 1h0m8 1h0m-70 0h0m66 1h0m8 0h0m-78 1h0m42 1h0m29 0h0m-2 1h0m-41 1h0m12 1h0m0 1h0m18 1h0m-13 1h0m-32 2h0m62 1h0m-61 1h0m37 1h0m-21 0h0m-13 1h0m-8 1h0m40 1h0m7 1h0m-21 0h0m3 1h0m14 0h0m-52 1h0m18 1h0m-12 1h0m13 1h0m44 1h0m-37 1h0m-4 0h0m2 2h0m-4 0h0m-10 2h0m15 0h0m-5 3h0m38 1h0m-51 1h0m27 1h0m-8 0h0m-13 1h0m55 1h0m-34 1h0m12 1h0m1 1h0m-24 2h0m2 2h0m-18 0h0m16 2h0m-7 1h0m-5 0h0m47 3h0m-44 1h0m13 2h0m47 1h0m-46 3h0m-22 2h0m12 1h0m18 1h0m0 2h0m29 2h0m-19 2h0m-46 3h0m51 3h0m27 4h0m-21 8h0m-54 8h0m3 10h0m11 5h0m51 10h0m-38 30h0m-26 37h0m101-350h0m51 24h0m-9 4h0m-19 3h0m-38 5h0m50 3h0m-11 2h0m10 3h0m19 3h0m-7 0h0m-9 3h0m1 2h0m-50 2h0m32 2h0m-30 1h0m-2 2h0m65 2h0m-21 2h0m-38 1h0m52 1h0m-32 2h0m16 1h0m-23 2h0m1 1h0m30 1h0m-17 1h0m22 1h0m-57 2h0m29 1h0m36 0h0m-51 1h0m35 1h0m-17 2h0m18 0h0m-7 1h0m4 1h0m13 1h0m-3 0h0m-14 1h0m14 1h0m2 1h0m-49 0h0m1 1h0m48 1h0m-54 0h0m43 1h0m-12 1h0m22 1h0m-10 1h0m-8 0h0m-23 1h0m22 1h0m-30 0h0m-4 1h0m19 1h0m-8 1h0m4 1h0m-10 1h0m8 1h0m-18 0h0m41 1h0m-31 1h0m-17 0h0m73 1h0m-31 1h0m-43 1h0m54 0h0m-18 1h0m-17 0h0m27 0h0m16 1h0m-48 1h0m-11 0h0m64 1h0m-8 0h0m9 1h0m-14 1h0m-32 0h0m1 1h0m40 1h0m-7 0h0m-55 1h0m1 1h0m3 1h0m26 1h0m3 0h0m26 1h0m1 0h0m-6 1h0m-53 1h0m59 1h0m-30 0h0m3 1h0m37 1h0m-50 1h0m1 1h0m-25 0h0m57 1h0m-5 1h0m7 0h0m17 2h0m-71 0h0m71 1h0m-71 1h0m15 1h0m16 1h0m1 2h0m27 1h0m-47 0h0m-16 1h0m29 2h0m-7 1h0m29 0h0m-52 1h0m6 1h0m55 1h0m-46 1h0m-9 2h0m34 1h0m-29 0h0m32 1h0m-23 1h0m6 2h0m-14 1h0m20 1h0m-14 1h0m0 1h0m6 1h0m-17 1h0m46 2h0m8 1h0m-43 2h0m-6 1h0m61 1h0m-62 2h0m6 1h0m37 2h0m-7 2h0m-12 2h0m-22 3h0m18 3h0m6 4h0m-8 2h0m-13 1h0m15 4h0m-14 6h0m4 9h0m15 23h0m123-321h0m-45 57h0m19 14h0m20 6h0m-8 8h0m4 4h0m-41 3h0m36 3h0m-16 3h0m18 2h0m4 1h0m-29 2h0m17 3h0m18 1h0m-44 2h0m-3 3h0m-15 1h0m36 1h0m-19 2h0m27 1h0m-35 1h0m54 2h0m-1 1h0m-44 2h0m19 1h0m-13 1h0m-23 1h0m13 1h0m27 1h0m-30 1h0m25 1h0m-13 2h0m28 1h0m-2 1h0m-11 1h0m-25 1h0m-16 1h0m27 2h0m-17 1h0m-1 0h0m41 1h0m-40 1h0m1 1h0m44 1h0m-35 1h0m45 1h0m-11 1h0m-44 0h0m56 1h0m-28 1h0m-32 1h0m24 1h0m3 1h0m11 0h0m-50 1h0m-2 2h0m48 1h0m27 0h0m-17 1h0m5 1h0m-65 1h0m48 1h0m-36 2h0m25 0h0m33 1h0m3 3h0m-3 1h0m-36 2h0m-6 0h0m1 1h0m38 1h0m-67 1h0m56 1h0m-15 1h0m-33 1h0m66 0h0m-12 3h0m-47 1h0m-16 1h0m48 2h0m-47 2h0m1 1h0m20 2h0m8 2h0m2 3h0m-25 0h0m21 2h0m-18 3h0m57 1h0m-55 1h0m-10 3h0m56 1h0m-55 2h0m30 3h0m2 4h0m-5 3h0m-10 5h0m-13 4h0m-7 5h0m7 5h0m6 21h0m4 7h0m117-279h0m8 41h0m-19 13h0m-34 7h0m62 3h0m-2 6h0m-12 4h0m-44 5h0m35 2h0m-17 3h0m42 0h0m-17 1h0m-14 3h0m10 3h0m-35 1h0m32 4h0m-22 1h0m-27 2h0m35 1h0m-10 1h0m18 1h0m-10 2h0m14 2h0m-24 2h0m54 2h0m-1 1h0m-28 1h0m31 2h0m-25 0h0m-14 2h0m-19 1h0m13 2h0m4 3h0m-17 2h0m28 1h0m-33 2h0m7 1h0m35 1h0m-1 2h0m-12 1h0m-30 2h0m22 1h0m-16 2h0m18 2h0m-14 2h0m-8 1h0m27 1h0m4 2h0m-32 2h0m-7 2h0m33 3h0m-42 2h0m22 3h0m-12 4h0m-7 2h0m42 3h0m-33 3h0m2 3h0m6 5h0m17 7h0m-17 64h0m115-249h0m17 21h0m-44 5h0m-15 9h0m49 7h0m16 5h0m-19 4h0m-8 3h0m-50 4h0m23 4h0m41 4h0m-17 4h0m-29 3h0m8 4h0m-21 5h0m18 5h0m-4 5h0m-18 4h0m36 3h0m-37 2h0m25 5h0m15 10h0m-40 14h0m84-170h0m2 45h0m1 37h0m-497 96h0m399-121h0" stroke="#EE30A7" stroke-opacity="0.6" stroke-width="7.2" stroke-linecap="round" fill="none"/>
<path transform="scale(.5)" d="M354 4383h0m-3 7h0m-5 5h0m-14 3h0m27 7h0m-8 6h0m-19 9h0m0 1h0m14 4h0m13 3h0m-27 2h0m-48 0h0m74 2h0m-26 3h0m23 2h0m-4 1h0m1 1h0m-2 1h0m-4 1h0m-11 1h0m-25 2h0m49 1h0m-27 2h0m0 1h0m16 1h0m7 1h0m-8 1h0m-37 1h0m18 2h0m4 1h0m13 1h0m15 0h0m-19 1h0m-9 1h0m25 1h0m-59 0h0m44 1h0m-4 1h0m15 1h0m-43 1h0m50 0h0m-60 1h0m18 1h0m33 0h0m-41 1h0m0 1h0m0 1h0m-13 1h0m-4 1h0m58 0h0m-41 1h0m22 0h0m-26 1h0m17 1h0m9 2h0m0 0h0m13 1h0m11 0h0m-46 1h0m41 0h0m-53 2h0m34 0h0m-44 1h0m44 1h0m-48 0h0m68 2h0m-42 0h0m22 1h0m-48 1h0m17 1h0m-17 0h0m26 0h0m22 1h0m-22 0h0m0 1h0m-3 1h0m25 1h0m19 0h0m-19 1h0m19 1h0m-41 1h0m25 0h0m-25 1h0m-17 1h0m-9 0h0m0 1h0m4 1h0m44 0h0m-48 1h0m69 0h0m-21 1h0m19 1h0m-67 1h0m26 1h0m-26 1h0m0 1h0m48 1h0m19 1h0m-55 0h0m55 1h0m-67 1h0m26 2h0m49 1h0m-72 1h0m14 1h0m9 1h0m0 2h0m-26 1h0m52 3h0m20 1h0m-24 1h0m-22 1h0m41 2h0m-41 1h0m30 2h0m-56 1h0m26 2h0m41 1h0m7 1h0m-61 2h0m1 1h0m34 2h0m-13 3h0m-9 2h0m-22 3h0m38 1h0m6 3h0m-22 2h0m0 2h0m0 5h0m-26 6h0m26 1h0m-26 3h0m48 7h0m0 4h0m-38 6h0m38 12h0m-48 9h0m26 5h0m-26 17h0m111-317h0m33 11h0m-16 6h0m13 8h0m-29 8h0m38 2h0m2 6h0m-19 3h0m-1 3h0m7 1h0m1 4h0m3 2h0m-11 1h0m9 3h0m-13 1h0m23 2h0m-2 2h0m-11 3h0m-32 1h0m17 2h0m-17 1h0m-22 1h0m13 1h0m39 1h0m-18 1h0m17 2h0m-34 1h0m38 1h0m-39 2h0m47 1h0m-25 2h0m-10 1h0m28 1h0m-19 1h0m0 1h0m9 1h0m-4 1h0m22 2h0m-16 1h0m-49 1h0m38 0h0m7 1h0m9 1h0m-13 1h0m-43 1h0m20 0h0m15 2h0m23 1h0m8 0h0m-37 2h0m11 0h0m12 1h0m-13 0h0m32 1h0m-72 2h0m40 1h0m18 0h0m-31 1h0m0 1h0m10 1h0m-6 0h0m-10 1h0m50 1h0m-8 0h0m-42 1h0m35 1h0m-39 0h0m-8 0h0m66 1h0m-65 1h0m63 1h0m-60 0h0m61 0h0m-48 2h0m-24 0h0m0 1h0m67 0h0m-11 1h0m-38 0h0m55 1h0m-55 1h0m-8 0h0m-13 1h0m37 0h0m20 1h0m-6 0h0m-18 1h0m-23 1h0m54 1h0m4 1h0m-38 0h0m3 1h0m14 0h0m-49 1h0m9 1h0m-8 1h0m64 1h0m-26 1h0m39 1h0m-56 1h0m-1 0h0m18 2h0m-39 1h0m70 0h0m-59 1h0m43 1h0m-37 1h0m48 1h0m0 1h0m-44 1h0m42 1h0m-38 2h0m40 0h0m-38 2h0m16 1h0m27 2h0m-52 0h0m-4 1h0m4 1h0m12 1h0m34 1h0m-46 3h0m20 1h0m23 1h0m-39 1h0m-7 1h0m0 2h0m25 2h0m-3 0h0m9 4h0m-38 1h0m3 3h0m41 5h0m-8 2h0m-29 3h0m4 3h0m48 2h0m-9 2h0m-32 2h0m-25 3h0m4 4h0m20 4h0m-3 4h0m-5 2h0m-13 5h0m18 12h0m-23 8h0m30 31h0m75-377h0m-5 32h0m58 22h0m-39 7h0m-17 8h0m36 5h0m16 5h0m0 5h0m-6 5h0m-37 3h0m6 2h0m25 5h0m8 3h0m-13 3h0m-2 3h0m-42 2h0m-4 2h0m32 1h0m29 2h0m-35 2h0m-5 2h0m36 1h0m5 3h0m-8 3h0m-8 3h0m6 1h0m-9 1h0m-5 1h0m-31 1h0m58 1h0m-26 1h0m-46 1h0m64 1h0m-58 1h0m62 1h0m0 1h0m-4 2h0m4 1h0m-35 1h0m20 1h0m-53 1h0m58 1h0m10 1h0m-15 2h0m-16 1h0m-29 1h0m-9 1h0m56 1h0m11 0h0m-61 1h0m20 1h0m43 0h0m-13 0h0m20 1h0m-16 1h0m16 1h0m-48 1h0m38 0h0m-25 2h0m-20 1h0m9 1h0m3 1h0m37 1h0m-48 0h0m17 1h0m1 1h0m-19 0h0m18 1h0m2 1h0m-25 1h0m-4 2h0m60 0h0m-29 1h0m-20 0h0m-19 1h0m18 1h0m33 0h0m-37 1h0m12 1h0m-5 1h0m28 0h0m19 2h0m-59 0h0m7 1h0m50 1h0m-11 0h0m-6 1h0m5 1h0m-56 0h0m33 1h0m42 1h0m-16 1h0m-46 1h0m12 0h0m31 1h0m-40 0h0m48 1h0m0 0h0m-39 1h0m15 1h0m-41 1h0m17 1h0m12 1h0m13 1h0m-27 0h0m40 1h0m20 2h0m-27 0h0m1 1h0m-51 2h0m43 0h0m-40 1h0m5 1h0m28 1h0m1 2h0m-8 0h0m33 2h0m-55 1h0m-2 0h0m24 1h0m-3 2h0m15 1h0m-36 2h0m-2 2h0m33 1h0m-33 1h0m68 2h0m-65 1h0m31 1h0m-36 0h0m59 2h0m-44 2h0m39 1h0m-35 2h0m41 2h0m-46 3h0m-5 1h0m-5 2h0m-4 3h0m39 2h0m-33 3h0m1 4h0m37 8h0m-36 3h0m28 4h0m10 4h0m7 9h0m-38 24h0m-8 13h0m-1 20h0m112-363h0m21 12h0m-25 19h0m20 6h0m-10 4h0m11 3h0m-54 6h0m10 4h0m61 6h0m-18 3h0m13 3h0m-11 2h0m-23 2h0m-6 7h0m36 3h0m-30 3h0m13 2h0m16 2h0m-6 3h0m23 2h0m-3 0h0m-61 2h0m61 1h0m-23 2h0m-20 1h0m43 3h0m-2 1h0m-15 0h0m14 2h0m-31 2h0m-17 1h0m53 2h0m-27 0h0m4 1h0m19 1h0m-52 1h0m-5 2h0m-8 0h0m63 2h0m-24 1h0m11 2h0m-3 0h0m1 1h0m-18 1h0m-9 1h0m-12 1h0m14 0h0m-1 1h0m27 1h0m-23 0h0m-7 1h0m-3 2h0m12 1h0m-7 1h0m-10 0h0m31 1h0m2 1h0m20 1h0m-73 0h0m20 1h0m52 1h0m-49 0h0m20 1h0m-17 1h0m24 2h0m12 1h0m-45 0h0m44 1h0m-46 1h0m17 1h0m0 1h0m44 1h0m-22 1h0m-25 0h0m20 0h0m-33 1h0m48 0h0m9 2h0m3 0h0m-53 1h0m-14 2h0m37 0h0m-13 1h0m31 1h0m-30 0h0m8 1h0m23 1h0m-49 0h0m58 1h0m-68 1h0m39 0h0m-43 1h0m42 1h0m0 1h0m-19 1h0m48 1h0m-6 1h0m-61 1h0m32 1h0m-28 1h0m63 1h0m-70 0h0m14 2h0m21 1h0m8 1h0m32 2h0m-50 0h0m-2 1h0m9 1h0m-24 1h0m34 1h0m-2 1h0m21 1h0m-3 1h0m-24 0h0m7 2h0m-21 2h0m30 1h0m-36 0h0m-17 2h0m17 1h0m54 1h0m-50 2h0m22 0h0m-27 3h0m45 3h0m10 1h0m-71 3h0m14 2h0m50 1h0m-10 1h0m-20 3h0m2 3h0m-16 5h0m8 1h0m-12 3h0m34 4h0m-14 7h0m-3 3h0m2 7h0m19 6h0m10 11h0m1 14h0m-55 25h0m-1 50h0m131-418h0m-2 37h0m-26 12h0m31 8h0m-50 13h0m5 4h0m27 5h0m32 2h0m-14 4h0m7 4h0m9 3h0m-32 2h0m-14 2h0m23 1h0m20 2h0m-40 4h0m-18 2h0m40 1h0m8 2h0m8 1h0m-60 1h0m50 2h0m-2 2h0m-10 1h0m-45 1h0m70 1h0m-42 1h0m40 1h0m-11 1h0m-7 2h0m18 2h0m-16 2h0m-27 1h0m34 0h0m-39 1h0m21 2h0m-18 1h0m33 2h0m-1 1h0m4 0h0m-41 2h0m14 1h0m27 1h0m-26 0h0m-1 1h0m-12 1h0m19 1h0m13 0h0m-21 1h0m-8 1h0m48 1h0m-75 1h0m32 1h0m40 1h0m-18 1h0m20 1h0m-63 1h0m47 1h0m-22 1h0m6 1h0m10 1h0m-21 1h0m44 1h0m-77 0h0m39 1h0m16 1h0m16 0h0m-22 1h0m28 1h0m-29 1h0m-4 1h0m31 1h0m-36 1h0m-4 0h0m-23 1h0m3 1h0m29 0h0m19 2h0m-6 1h0m-9 1h0m27 0h0m-21 1h0m-43 1h0m60 1h0m-7 1h0m-23 1h0m4 1h0m-34 1h0m13 1h0m-6 1h0m-19 0h0m4 1h0m-3 2h0m46 0h0m-40 1h0m33 1h0m11 0h0m-36 2h0m-8 1h0m34 1h0m-23 1h0m21 1h0m24 0h0m-24 2h0m-32 1h0m-2 1h0m7 1h0m62 0h0m-8 1h0m-26 1h0m20 1h0m-27 1h0m-6 1h0m1 1h0m-28 0h0m36 1h0m-2 1h0m-21 1h0m21 2h0m-17 1h0m-15 1h0m16 2h0m1 1h0m14 1h0m35 2h0m-2 1h0m12 2h0m-28 1h0m-50 3h0m16 3h0m-7 2h0m1 2h0m27 3h0m-37 2h0m8 3h0m36 8h0m-21 5h0m11 6h0m-35 1h0m55 12h0m-29 11h0m9 22h0m87-326h0m37 22h0m-65 12h0m61 7h0m-17 6h0m0 4h0m17 3h0m-3 2h0m3 2h0m-74 3h0m76 3h0m-21 1h0m-30 3h0m52 2h0m-5 2h0m-4 3h0m1 2h0m-12 2h0m-8 1h0m25 3h0m-5 1h0m-61 2h0m42 2h0m-18 2h0m3 1h0m39 1h0m-26 2h0m-2 2h0m21 1h0m9 1h0m-53 1h0m13 1h0m14 0h0m-36 2h0m61 1h0m-3 2h0m3 0h0m-61 2h0m61 1h0m-30 1h0m4 0h0m13 1h0m-52 0h0m31 1h0m11 1h0m7 1h0m-21 1h0m30 1h0m-54 1h0m4 1h0m-11 0h0m46 1h0m8 1h0m-2 1h0m-4 1h0m-32 1h0m28 1h0m25 1h0m-56 0h0m31 1h0m-47 1h0m46 0h0m27 1h0m-27 1h0m-49 1h0m42 0h0m31 1h0m-58 1h0m-12 0h0m15 1h0m43 2h0m-47 0h0m0 1h0m33 0h0m-24 1h0m29 1h0m-5 0h0m-28 1h0m15 1h0m-31 1h0m22 0h0m-7 0h0m-10 2h0m57 1h0m-27 1h0m-28 1h0m46 0h0m-11 1h0m11 1h0m-30 1h0m51 1h0m-74 0h0m6 2h0m-4 1h0m33 1h0m-25 1h0m41 1h0m-45 1h0m34 1h0m21 1h0m-19 2h0m5 0h0m-30 1h0m12 1h0m0 1h0m44 0h0m-51 2h0m5 1h0m10 2h0m18 0h0m-29 1h0m-13 3h0m0 0h0m-13 1h0m6 1h0m64 1h0m-34 2h0m-15 2h0m-16 2h0m12 2h0m-17 1h0m48 2h0m19 2h0m-47 1h0m-18 2h0m27 1h0m14 1h0m-25 2h0m-4 2h0m-2 3h0m13 2h0m9 2h0m3 3h0m-17 3h0m10 2h0m7 3h0m-1 3h0m-5 5h0m14 3h0m-44 11h0m19 22h0m119-370h0m7 52h0m-2 22h0m-7 16h0m-10 11h0m12 8h0m-12 6h0m15 2h0m-37 4h0m19 2h0m21 2h0m-1 2h0m8 1h0m-11 3h0m-65 0h0m79 2h0m-16 0h0m10 2h0m-51 3h0m48 1h0m-49 2h0m45 1h0m4 2h0m3 1h0m3 1h0m-55 1h0m12 2h0m-10 1h0m50 2h0m-62 1h0m56 2h0m-3 1h0m-4 2h0m-46 1h0m34 1h0m31 1h0m-6 1h0m-59 1h0m17 1h0m-14 1h0m52 2h0m9 0h0m-77 1h0m73 1h0m-65 1h0m1 1h0m17 0h0m-23 1h0m33 1h0m-22 2h0m40 0h0m4 2h0m15 0h0m-4 0h0m-4 2h0m-61 1h0m12 1h0m48 0h0m-46 2h0m22 1h0m1 1h0m-23 1h0m32 1h0m-20 0h0m25 1h0m-33 1h0m32 1h0m-32 1h0m24 1h0m12 1h0m-25 1h0m6 1h0m27 1h0m-8 1h0m-42 1h0m8 0h0m42 1h0m-59 1h0m51 1h0m-30 0h0m-26 2h0m75 1h0m-36 1h0m8 1h0m-7 0h0m-12 2h0m-29 1h0m49 0h0m-15 1h0m3 1h0m20 0h0m-8 1h0m-30 2h0m-22 2h0m44 1h0m-24 1h0m-20 2h0m18 0h0m32 3h0m-8 1h0m-10 3h0m-9 1h0m-16 1h0m17 1h0m-6 1h0m12 2h0m-17 0h0m64 1h0m-46 1h0m6 1h0m-30 2h0m46 2h0m-26 2h0m-18 2h0m-4 0h0m66 2h0m-63 1h0m-4 3h0m-1 2h0m32 1h0m-25 2h0m12 1h0m-5 3h0m14 2h0m-10 2h0m-5 2h0m27 2h0m-38 5h0m45 4h0m-48 4h0m2 5h0m15 8h0m34 5h0m-41 8h0m30 6h0m12 24h0m-42 17h0m123-343h0m-30 27h0m33 7h0m-44 10h0m33 5h0m-10 8h0m14 1h0m17 4h0m-6 3h0m-50 4h0m54 5h0m-18 2h0m-6 3h0m-8 3h0m3 3h0m12 1h0m-3 2h0m22 1h0m-31 2h0m-9 1h0m-3 1h0m52 1h0m2 3h0m-4 1h0m-42 2h0m2 0h0m22 1h0m18 2h0m-12 2h0m-27 1h0m-27 2h0m4 1h0m3 1h0m47 0h0m-53 1h0m16 2h0m2 1h0m49 0h0m-17 1h0m-35 1h0m4 1h0m-26 2h0m21 0h0m20 2h0m-15 1h0m27 1h0m-6 0h0m5 1h0m15 1h0m-28 1h0m16 1h0m-5 2h0m-17 0h0m38 2h0m-22 2h0m-19 1h0m24 1h0m-31 0h0m23 1h0m17 1h0m-40 1h0m45 1h0m-36 0h0m-25 2h0m36 0h0m-16 1h0m19 1h0m3 1h0m-12 1h0m-38 1h0m28 1h0m7 2h0m-12 1h0m32 2h0m-32 2h0m-7 2h0m3 1h0m21 1h0m-34 2h0m36 1h0m36 2h0m-77 3h0m4 1h0m68 2h0m-24 1h0m-21 3h0m-29 0h0m62 2h0m-59 1h0m1 1h0m51 2h0m-28 1h0m20 3h0m-14 2h0m12 2h0m20 3h0m-53 3h0m8 4h0m16 2h0m-29 2h0m37 5h0m-23 2h0m12 5h0m-31 7h0m13 3h0m22 7h0m-12 4h0m6 17h0m-1 45h0m107-330h0m-35 21h0m44 8h0m-18 10h0m-7 8h0m-10 2h0m21 4h0m-7 3h0m-1 2h0m4 6h0m-23 4h0m50 2h0m-76 2h0m5 4h0m25 1h0m18 4h0m4 3h0m-49 4h0m12 2h0m51 1h0m-43 4h0m46 2h0m-47 2h0m29 1h0m-17 1h0m-25 3h0m70 4h0m-36 2h0m0 2h0m13 2h0m-33 2h0m10 3h0m6 1h0m-26 2h0m49 2h0m-6 1h0m-17 2h0m-15 3h0m-2 1h0m-3 2h0m43 1h0m-50 3h0m8 3h0m5 1h0m-13 2h0m28 3h0m-38 2h0m61 2h0m0 3h0m-57 3h0m41 1h0m5 5h0m-9 2h0m-15 2h0m-18 3h0m36 3h0m-35 8h0m35 8h0m-39 17h0m49 19h0m86-258h0m-50 30h0m43 18h0m-27 3h0m18 8h0m26 8h0m-62 2h0m-4 6h0m16 6h0m32 9h0m-32 5h0m23 2h0m7 3h0m-11 4h0m25 3h0m-62 5h0m11 3h0m9 5h0m-22 4h0m59 7h0m-32 12h0m-5 9h0m3 12h0m-20 8h0m1 16h0m84-215h0m-7 80h0m-2 49h0m-298 383h0m-82-304h0" stroke="#9ACD32" stroke-opacity="0.6" stroke-width="7.2" stroke-linecap="round" fill="none"/>
<path transform="scale(.5)" d="M333 4428h0m27 4h0m-15 9h0m-8 5h0m-5 4h0m28 2h0m-1 3h0m-27 2h0m-48 3h0m48 3h0m5 2h0m16 2h0m1 2h0m-3 2h0m-19 2h0m0 1h0m27 1h0m1 1h0m-28 1h0m4 1h0m20 0h0m-20 1h0m10 1h0m-7 0h0m-7 1h0m19 1h0m0 0h0m0 1h0m-3 1h0m9 1h0m-4 1h0m-33 0h0m12 1h0m28 0h0m-9 1h0m-19 1h0m19 1h0m-19 0h0m-7 1h0m7 1h0m17 1h0m-35 1h0m-24 1h0m24 1h0m-17 0h0m35 2h0m-33 0h0m33 1h0m-20 0h0m46 1h0m-74 0h0m67 1h0m-41 0h0m0 1h0m46 0h0m-4 1h0m-16 0h0m13 0h0m-17 2h0m-34 1h0m34 1h0m22 1h0m-38 1h0m-6 1h0m0 0h0m31 1h0m10 1h0m-19 1h0m0 1h0m-48 1h0m0 0h0m26 1h0m0 1h0m45 1h0m4 0h0m-73 2h0m26 1h0m-28 1h0m26 0h0m0 1h0m0 1h0m15 0h0m-15 1h0m36 0h0m-3 1h0m2 1h0m-35 1h0m0 1h0m50 1h0m-72 1h0m-1 0h0m-3 1h0m48 1h0m-5 0h0m-17 1h0m-26 1h0m7 1h0m-7 1h0m27 1h0m-1 1h0m43 1h0m-40 0h0m9 2h0m-18 1h0m-17 2h0m-3 1h0m26 1h0m0 2h0m22 1h0m-22 2h0m-8 2h0m50 1h0m8 1h0m-35 2h0m-15 1h0m-26 2h0m12 4h0m36 1h0m-22 1h0m0 3h0m-26 1h0m48 2h0m-48 1h0m0 2h0m43 2h0m-43 2h0m26 2h0m-22 8h0m-4 2h0m0 5h0m21 5h0m-11 1h0m61 10h0m-71 12h0m26 18h0m-26 17h0m131-313h0m16 12h0m5 7h0m-10 7h0m5 7h0m-8 3h0m-2 6h0m-20 4h0m30 3h0m5 1h0m-46 3h0m40 1h0m-64 2h0m56 2h0m-58 1h0m15 2h0m58 1h0m-56 2h0m11 1h0m46 0h0m1 1h0m-22 2h0m21 2h0m-26 1h0m-49 1h0m39 2h0m22 0h0m-50 1h0m60 1h0m-61 2h0m39 1h0m-47 1h0m60 1h0m-2 2h0m8 0h0m-52 1h0m46 1h0m4 2h0m-7 1h0m-25 1h0m10 1h0m-8 0h0m36 2h0m-12 1h0m-37 1h0m29 1h0m-24 0h0m22 1h0m-8 1h0m34 1h0m-49 0h0m-5 1h0m12 1h0m7 1h0m-39 1h0m-2 2h0m49 0h0m-10 2h0m-23 1h0m5 1h0m25 0h0m-43 1h0m49 0h0m-44 1h0m44 0h0m-7 1h0m19 0h0m-31 1h0m1 1h0m24 1h0m-49 0h0m5 1h0m-1 1h0m5 0h0m14 1h0m45 1h0m-66 0h0m-4 1h0m41 1h0m29 0h0m-58 1h0m50 0h0m-67 1h0m60 0h0m-49 2h0m-2 0h0m-13 1h0m61 1h0m-34 0h0m11 1h0m24 1h0m-55 1h0m-3 1h0m45 1h0m2 1h0m-36 0h0m55 2h0m-9 0h0m-48 1h0m35 1h0m-33 2h0m48 0h0m-36 1h0m14 2h0m21 1h0m-47 0h0m51 1h0m-66 1h0m48 2h0m22 1h0m-44 1h0m18 1h0m29 1h0m-33 1h0m-37 2h0m14 1h0m-2 2h0m4 0h0m-7 1h0m-1 1h0m49 1h0m-45 2h0m49 1h0m-48 1h0m14 0h0m0 2h0m-16 1h0m-11 1h0m51 1h0m14 4h0m-52 2h0m29 3h0m10 1h0m-46 4h0m14 3h0m42 5h0m-39 2h0m-18 6h0m52 6h0m-57 5h0m8 8h0m-3 23h0m-6 44h0m87-360h0m65 11h0m-31 13h0m-39 9h0m42 5h0m25 6h0m-32 6h0m27 3h0m-49 5h0m38 4h0m-31 3h0m6 1h0m49 2h0m-17 3h0m9 4h0m-62 1h0m66 3h0m-12 1h0m15 2h0m-55 1h0m1 1h0m47 3h0m-49 1h0m-13 2h0m37 1h0m-11 1h0m43 2h0m-48 0h0m-7 1h0m23 2h0m20 0h0m12 1h0m-23 1h0m-27 2h0m7 1h0m36 1h0m2 2h0m-18 0h0m19 1h0m-53 1h0m13 1h0m12 1h0m3 1h0m29 2h0m-51 2h0m36 1h0m-24 1h0m-39 0h0m77 1h0m-43 1h0m29 1h0m-24 1h0m39 1h0m-6 0h0m-29 0h0m-31 2h0m44 0h0m19 1h0m-62 0h0m57 1h0m-45 0h0m54 2h0m-33 0h0m-45 1h0m-2 0h0m15 1h0m46 0h0m-26 1h0m10 0h0m32 1h0m-45 1h0m36 1h0m5 0h0m-50 1h0m23 1h0m-14 1h0m6 1h0m29 0h0m-34 1h0m8 0h0m4 1h0m-43 1h0m43 0h0m12 0h0m19 1h0m-73 2h0m40 1h0m-32 1h0m31 1h0m-2 1h0m17 1h0m-31 0h0m7 1h0m5 1h0m24 0h0m-43 1h0m6 1h0m49 1h0m-6 1h0m-11 2h0m-28 1h0m-21 1h0m29 1h0m-23 1h0m-12 1h0m48 1h0m-1 1h0m-44 1h0m-3 0h0m26 2h0m11 1h0m-2 1h0m-31 1h0m-6 1h0m24 1h0m-23 2h0m71 2h0m-32 3h0m-37 2h0m31 1h0m-16 1h0m-7 1h0m50 2h0m-26 1h0m16 1h0m-15 2h0m14 3h0m-1 2h0m-29 0h0m21 1h0m26 1h0m-15 1h0m-13 2h0m5 2h0m-23 1h0m-17 2h0m10 4h0m20 4h0m-28 3h0m64 2h0m-63 6h0m-3 6h0m16 10h0m5 7h0m-9 10h0m100-390h0m36 75h0m-53 25h0m53 17h0m-52 5h0m33 4h0m21 10h0m-41 2h0m4 5h0m3 1h0m10 4h0m8 2h0m15 2h0m-57 1h0m27 3h0m24 3h0m9 2h0m-58 1h0m27 1h0m28 1h0m-7 2h0m-3 1h0m-37 2h0m21 1h0m5 1h0m-9 1h0m21 2h0m-35 1h0m18 1h0m1 0h0m23 2h0m-26 1h0m7 1h0m-8 3h0m11 2h0m8 1h0m0 2h0m-2 1h0m-26 0h0m15 3h0m-41 0h0m-4 2h0m15 1h0m45 1h0m12 0h0m-21 2h0m-37 1h0m10 1h0m27 1h0m-53 1h0m58 1h0m-23 0h0m-13 2h0m43 1h0m-7 1h0m-48 1h0m43 1h0m-30 0h0m-16 1h0m54 1h0m-40 1h0m27 0h0m2 1h0m-4 1h0m29 0h0m-56 1h0m25 0h0m-13 1h0m-2 0h0m1 1h0m-23 1h0m56 0h0m-36 1h0m-7 0h0m4 1h0m21 1h0m-38 1h0m13 0h0m-4 1h0m23 1h0m9 0h0m17 1h0m-16 1h0m24 1h0m-2 0h0m-27 1h0m-3 0h0m1 1h0m-17 1h0m4 1h0m38 1h0m-39 1h0m-19 1h0m35 0h0m-4 2h0m23 1h0m-49 0h0m1 1h0m36 1h0m-51 1h0m5 1h0m-7 1h0m4 0h0m15 1h0m56 1h0m-32 1h0m27 1h0m-38 0h0m-5 1h0m-9 1h0m33 1h0m-33 1h0m22 0h0m-5 2h0m8 1h0m-5 2h0m10 1h0m28 1h0m-31 0h0m-21 1h0m13 2h0m-20 1h0m-17 2h0m57 0h0m-50 2h0m8 3h0m31 1h0m-28 1h0m4 3h0m38 2h0m-24 2h0m14 3h0m-10 1h0m-32 4h0m4 4h0m10 4h0m19 3h0m-34 4h0m12 5h0m-17 6h0m28 11h0m-15 16h0m53 35h0m47-349h0m-23 16h0m29 10h0m25 9h0m-61 6h0m37 6h0m31 5h0m-23 8h0m2 6h0m22 3h0m-16 3h0m7 2h0m0 2h0m-15 2h0m5 1h0m-48 4h0m36 2h0m33 2h0m2 1h0m-51 2h0m0 1h0m32 1h0m5 1h0m-6 2h0m2 1h0m-11 1h0m-17 2h0m3 3h0m27 1h0m12 1h0m-28 1h0m17 1h0m-42 1h0m-8 0h0m17 1h0m28 1h0m-16 0h0m-19 1h0m14 1h0m9 1h0m-7 1h0m31 1h0m-40 1h0m-1 1h0m31 1h0m-14 1h0m5 1h0m-39 1h0m-5 0h0m27 2h0m17 0h0m11 1h0m-60 1h0m29 1h0m42 0h0m-67 1h0m48 1h0m5 1h0m-42 1h0m47 1h0m-30 0h0m-12 1h0m-14 1h0m23 0h0m-1 0h0m-24 1h0m58 1h0m-64 1h0m27 1h0m48 1h0m-38 0h0m24 1h0m-13 1h0m24 0h0m5 1h0m-9 1h0m-38 0h0m34 1h0m10 1h0m-75 0h0m22 1h0m3 1h0m43 1h0m-24 0h0m4 1h0m-13 1h0m0 0h0m-9 2h0m34 1h0m-1 0h0m-10 1h0m-33 1h0m19 0h0m9 1h0m23 1h0m-20 1h0m-12 1h0m-2 1h0m-28 1h0m68 0h0m6 1h0m-25 0h0m-3 1h0m-16 2h0m30 1h0m-15 1h0m22 0h0m-35 1h0m38 2h0m-51 0h0m-18 1h0m4 1h0m14 0h0m15 1h0m21 1h0m-53 1h0m19 0h0m33 2h0m-23 1h0m-12 1h0m-15 1h0m43 1h0m-31 1h0m30 1h0m-41 1h0m61 0h0m-17 2h0m-50 2h0m-3 1h0m8 2h0m20 1h0m-2 1h0m-8 1h0m14 3h0m-27 1h0m3 1h0m20 2h0m10 1h0m16 1h0m19 2h0m-23 1h0m-47 2h0m68 1h0m-38 1h0m-32 4h0m10 1h0m51 5h0m-52 5h0m-4 1h0m4 8h0m-5 4h0m13 5h0m23 16h0m111-336h0m-28 50h0m3 12h0m-25 7h0m37 12h0m12 4h0m-21 10h0m21 3h0m2 2h0m-26 2h0m17 2h0m13 4h0m-29 1h0m2 2h0m-11 2h0m37 1h0m-52 1h0m33 2h0m6 2h0m-53 3h0m39 2h0m-22 1h0m6 2h0m2 0h0m40 2h0m1 1h0m-77 3h0m52 1h0m-24 0h0m38 1h0m-18 1h0m8 1h0m12 1h0m-65 1h0m17 1h0m7 0h0m38 1h0m-52 2h0m54 1h0m-65 1h0m50 0h0m5 1h0m-17 1h0m18 1h0m-18 1h0m40 0h0m-51 1h0m22 1h0m10 1h0m-7 0h0m-42 1h0m43 0h0m-2 1h0m-43 1h0m45 1h0m-25 0h0m10 1h0m4 1h0m-26 1h0m22 0h0m-13 1h0m2 1h0m48 2h0m-23 0h0m-50 1h0m-4 1h0m5 1h0m22 0h0m-23 1h0m29 1h0m-18 1h0m61 0h0m-35 0h0m12 1h0m20 1h0m-5 0h0m-56 1h0m22 1h0m24 1h0m-46 0h0m16 1h0m48 1h0m-71 0h0m41 1h0m-28 1h0m-16 1h0m78 1h0m-60 0h0m27 1h0m-29 1h0m24 1h0m-12 1h0m-21 0h0m23 1h0m20 2h0m-50 0h0m5 1h0m13 1h0m3 1h0m1 0h0m-6 1h0m6 1h0m27 0h0m-22 1h0m-15 0h0m35 2h0m-26 0h0m-23 1h0m52 1h0m-4 1h0m-40 1h0m25 0h0m44 1h0m-15 2h0m-28 1h0m-24 3h0m26 1h0m-12 2h0m7 1h0m-16 1h0m-15 1h0m19 1h0m40 2h0m-35 2h0m26 3h0m-13 2h0m-16 1h0m36 2h0m-53 3h0m16 2h0m11 5h0m28 6h0m-36 3h0m-9 3h0m24 4h0m2 2h0m37 4h0m-73 3h0m24 4h0m-9 4h0m11 7h0m42 13h0m-16 10h0m-9 28h0m107-394h0m-20 51h0m-11 21h0m-14 13h0m47 8h0m-11 4h0m-12 5h0m-43 5h0m25 2h0m0 2h0m26 3h0m-9 2h0m19 2h0m9 3h0m-7 1h0m3 3h0m-12 2h0m-59 2h0m-3 1h0m11 1h0m49 4h0m-15 1h0m-14 1h0m35 2h0m-26 2h0m-19 1h0m53 1h0m-62 2h0m33 1h0m-24 2h0m36 1h0m-35 0h0m-22 1h0m13 2h0m7 1h0m41 1h0m2 0h0m-35 2h0m-4 2h0m0 0h0m18 1h0m0 0h0m20 1h0m-36 1h0m44 1h0m-29 1h0m-10 1h0m44 1h0m-33 1h0m1 1h0m-5 1h0m38 0h0m-25 1h0m-5 1h0m17 0h0m-35 1h0m19 0h0m27 1h0m-51 1h0m16 1h0m-38 0h0m19 1h0m-4 1h0m57 1h0m-12 0h0m-10 1h0m-10 1h0m-35 1h0m49 1h0m-10 1h0m1 1h0m-28 0h0m36 1h0m-24 1h0m9 1h0m-34 1h0m38 1h0m33 1h0m-25 2h0m-31 1h0m37 0h0m-56 2h0m52 0h0m23 1h0m-48 1h0m-18 1h0m40 1h0m-43 0h0m27 1h0m-26 0h0m35 1h0m-33 1h0m-1 1h0m45 0h0m-50 1h0m17 1h0m-5 0h0m12 1h0m-21 0h0m-1 1h0m26 1h0m-13 0h0m0 1h0m11 1h0m-6 1h0m-24 1h0m7 1h0m16 1h0m13 1h0m-12 1h0m43 2h0m-48 0h0m-1 1h0m18 1h0m0 1h0m-33 1h0m26 2h0m-11 0h0m-9 1h0m9 1h0m20 2h0m-35 2h0m15 2h0m-13 1h0m29 1h0m17 1h0m12 1h0m-63 1h0m28 1h0m21 1h0m-47 2h0m11 1h0m-3 5h0m-1 2h0m-11 3h0m29 2h0m1 1h0m-20 1h0m13 3h0m-18 6h0m39 12h0m7 8h0m-8 14h0m-41 7h0m98-317h0m48 22h0m2 28h0m9 11h0m-31 6h0m28 3h0m-34 4h0m-8 3h0m29 5h0m-14 3h0m14 2h0m-29 2h0m-1 3h0m45 2h0m-18 1h0m0 3h0m17 2h0m-36 2h0m25 1h0m-14 1h0m27 1h0m-34 1h0m27 3h0m-8 1h0m-45 2h0m54 1h0m7 1h0m-26 0h0m-42 1h0m30 1h0m-36 2h0m-4 1h0m7 1h0m71 2h0m-53 1h0m6 1h0m22 1h0m9 1h0m-63 2h0m2 0h0m5 2h0m58 1h0m-39 1h0m-6 1h0m14 1h0m-27 1h0m41 1h0m-21 1h0m40 1h0m-1 1h0m-41 1h0m-8 2h0m23 0h0m-22 1h0m-16 2h0m0 0h0m27 1h0m-25 1h0m27 1h0m-19 1h0m40 2h0m-48 0h0m-1 1h0m9 2h0m10 0h0m45 2h0m-33 1h0m-23 2h0m-1 2h0m34 1h0m2 1h0m-38 2h0m21 1h0m34 2h0m-48 1h0m-6 1h0m-4 2h0m30 2h0m15 2h0m-13 1h0m-16 1h0m12 3h0m3 2h0m-15 1h0m34 0h0m1 2h0m-55 4h0m41 2h0m22 2h0m-17 1h0m28 2h0m-53 4h0m5 2h0m-10 4h0m-7 1h0m31 6h0m-25 4h0m13 7h0m5 5h0m-2 13h0m-32 11h0m158-354h0m-46 99h0m41 15h0m-44 6h0m-16 2h0m50 11h0m-36 6h0m40 7h0m-7 1h0m-32 5h0m-19 2h0m19 3h0m49 2h0m-3 1h0m-31 2h0m18 2h0m8 2h0m-6 2h0m-42 2h0m12 3h0m19 2h0m-36 1h0m23 2h0m24 2h0m-41 3h0m30 1h0m-8 2h0m-33 1h0m44 1h0m-48 1h0m34 4h0m11 0h0m-27 2h0m8 1h0m-29 2h0m25 1h0m-11 1h0m40 1h0m-59 2h0m16 1h0m33 1h0m-17 2h0m-24 1h0m-6 2h0m13 2h0m-1 3h0m56 4h0m-23 2h0m-33 1h0m-11 1h0m0 2h0m21 5h0m-17 3h0m57 1h0m-27 3h0m-32 4h0m-3 2h0m21 2h0m50 4h0m-52 3h0m-5 7h0m4 20h0m-17 20h0m116-281h0m-12 52h0m32 16h0m-45 10h0m50 6h0m-32 9h0m39 6h0m-7 3h0m4 2h0m0 4h0m-3 6h0m-22 5h0m-5 3h0m-14 2h0m-19 3h0m15 5h0m-7 6h0m20 4h0m-6 5h0m-23 5h0m73 6h0m-66 7h0m-9 6h0m47 11h0m-22 6h0m-15 18h0m74-160h0m0 54h0m-13-39h0m-351 182h0" stroke="#4A77FB" stroke-opacity="0.6" stroke-width="7.2" stroke-linecap="round" fill="none"/>
<path transform="scale(.5)" d="M349 4450h0m2 10h0m5 7h0m3 7h0m-4 6h0m-11 5h0m7 3h0m4 2h0m3 2h0m-38 2h0m32 2h0m-3 1h0m2 3h0m-41 1h0m42 1h0m-12 2h0m11 1h0m-3 1h0m-16 2h0m0 1h0m20 0h0m-3 2h0m-17 1h0m21 1h0m6 1h0m-27 1h0m-22 1h0m22 1h0m0 1h0m20 1h0m-17 0h0m-25 1h0m22 1h0m-25 1h0m3 1h0m22 1h0m0 0h0m-22 2h0m0 0h0m39 1h0m-2 0h0m0 1h0m-2 1h0m-35 0h0m22 1h0m-48 1h0m48 0h0m0 1h0m-22 1h0m0 0h0m38 1h0m-16 0h0m-40 1h0m59 0h0m-30 1h0m-37 1h0m26 1h0m-26 1h0m48 0h0m-35 0h0m13 1h0m44 0h0m-44 1h0m0 0h0m22 2h0m-22 0h0m22 1h0m-48 0h0m74 1h0m-19 0h0m8 1h0m-15 0h0m15 1h0m-11 0h0m-40 1h0m55 0h0m0 1h0m-19 0h0m-22 2h0m-4 1h0m26 0h0m-48 1h0m26 1h0m49 0h0m-75 1h0m45 1h0m-34 0h0m37 1h0m22 0h0m-13 1h0m-57 1h0m26 1h0m-26 1h0m69 0h0m-21 1h0m-22 1h0m-26 0h0m48 1h0m-43 1h0m61 1h0m-3 1h0m-4 1h0m-33 1h0m-26 1h0m25 1h0m9 2h0m14 1h0m0 2h0m-22 0h0m0 2h0m0 2h0m8 1h0m14 1h0m-41 2h0m19 1h0m22 1h0m-48 2h0m26 1h0m0 1h0m22 2h0m-48 1h0m0 2h0m72 2h0m-46 3h0m0 2h0m0 2h0m22 3h0m-48 3h0m26 1h0m22 2h0m-48 2h0m48 4h0m-48 2h0m14 4h0m12 2h0m27 7h0m-27 6h0m-26 4h0m2 9h0m-2 6h0m38 8h0m-17 11h0m131-332h0m4 35h0m-7 13h0m-8 8h0m-3 5h0m9 6h0m-31 6h0m35 3h0m-9 3h0m-46 2h0m33 2h0m22 1h0m-14 2h0m11 1h0m5 2h0m-20 2h0m16 3h0m-9 2h0m4 1h0m-23 3h0m20 1h0m-33 1h0m-16 2h0m39 1h0m23 1h0m-35 1h0m15 1h0m1 2h0m-8 1h0m-26 1h0m32 1h0m-9 1h0m5 1h0m10 1h0m13 2h0m3 1h0m-31 1h0m20 1h0m-13 1h0m-18 1h0m31 1h0m-4 1h0m-7 1h0m-9 0h0m-47 1h0m22 2h0m28 0h0m-31 1h0m36 0h0m22 1h0m-45 1h0m1 0h0m0 0h0m10 2h0m16 0h0m0 1h0m-32 1h0m48 1h0m-11 1h0m0 0h0m-23 1h0m-37 0h0m19 1h0m-21 1h0m32 0h0m31 1h0m-1 1h0m-12 0h0m2 1h0m-12 1h0m-17 1h0m15 0h0m-23 1h0m-15 2h0m21 0h0m3 0h0m32 1h0m-56 1h0m52 0h0m-29 1h0m-1 1h0m20 1h0m28 0h0m-8 1h0m6 1h0m-43 1h0m-11 1h0m18 1h0m-22 0h0m-7 1h0m32 0h0m2 1h0m-19 0h0m15 1h0m-14 0h0m8 1h0m2 1h0m32 1h0m7 1h0m-68 1h0m3 1h0m20 0h0m47 1h0m-61 1h0m-5 1h0m16 1h0m-10 1h0m24 1h0m16 1h0m7 0h0m16 1h0m-71 1h0m32 2h0m-11 1h0m16 1h0m-1 2h0m-27 1h0m-12 2h0m65 1h0m12 1h0m-37 2h0m-16 3h0m0 1h0m-20 2h0m22 2h0m-2 1h0m-20 1h0m-4 1h0m56 1h0m7 2h0m8 2h0m-64 2h0m10 3h0m-17 3h0m6 2h0m-1 1h0m21 4h0m-20 5h0m-1 4h0m9 7h0m-12 5h0m8 4h0m18 18h0m0 67h0m124-364h0m3 22h0m-4 10h0m-66 5h0m65 4h0m3 6h0m-19 3h0m-37 2h0m53 4h0m-50 3h0m54 3h0m-25 2h0m25 3h0m-24 1h0m21 2h0m-28 2h0m-45 1h0m52 2h0m-5 1h0m8 2h0m-36 2h0m52 1h0m-16 1h0m-35 1h0m26 1h0m32 2h0m-7 1h0m0 1h0m-41 1h0m42 1h0m-20 1h0m22 1h0m-33 1h0m-7 1h0m23 1h0m-18 1h0m-8 1h0m46 1h0m-26 0h0m17 1h0m-2 1h0m-3 1h0m6 1h0m-5 1h0m-9 0h0m-18 1h0m-3 1h0m-12 0h0m-4 1h0m-4 0h0m-3 1h0m36 2h0m6 0h0m-40 1h0m-9 1h0m32 1h0m21 1h0m-19 1h0m-18 1h0m-3 0h0m15 1h0m6 1h0m-23 1h0m2 1h0m56 0h0m-6 1h0m-48 1h0m46 2h0m14 0h0m-74 1h0m70 1h0m-6 1h0m-36 0h0m24 1h0m10 1h0m-16 2h0m-25 0h0m-10 1h0m0 1h0m56 1h0m-56 0h0m-14 1h0m1 1h0m74 0h0m-40 1h0m7 1h0m15 0h0m18 1h0m-68 1h0m29 1h0m28 0h0m-50 1h0m-1 1h0m43 2h0m-22 1h0m-17 1h0m34 1h0m9 0h0m-38 1h0m-13 0h0m40 2h0m8 0h0m-57 1h0m10 0h0m56 2h0m-45 1h0m15 0h0m-38 1h0m34 2h0m-21 2h0m41 1h0m0 1h0m19 1h0m-33 1h0m-11 1h0m-18 1h0m-8 1h0m34 1h0m-22 1h0m6 1h0m5 1h0m3 2h0m44 1h0m-25 1h0m-9 3h0m-31 3h0m29 1h0m6 1h0m28 2h0m-38 1h0m-15 4h0m9 3h0m-25 3h0m18 4h0m50 3h0m-46 2h0m33 6h0m-40 4h0m-4 5h0m40 10h0m-41 11h0m9 16h0m137-353h0m-23 40h0m15 16h0m-62 8h0m43 9h0m23 14h0m-29 4h0m-32 3h0m29 3h0m37 4h0m-30 1h0m-24 3h0m47 3h0m-45 1h0m41 1h0m0 5h0m9 2h0m-23 1h0m10 1h0m-30 2h0m30 2h0m-62 1h0m12 4h0m0 1h0m62 1h0m-29 1h0m-45 1h0m10 1h0m65 1h0m-33 1h0m12 2h0m5 1h0m-2 1h0m-14 1h0m4 1h0m7 0h0m-49 1h0m-2 2h0m25 1h0m-29 2h0m40 2h0m18 1h0m-35 1h0m5 1h0m-19 1h0m22 2h0m-8 0h0m50 1h0m-35 1h0m37 1h0m-44 0h0m35 2h0m-23 0h0m22 1h0m-14 1h0m26 1h0m-67 0h0m68 1h0m-20 1h0m19 1h0m-57 0h0m30 1h0m15 0h0m11 1h0m-65 0h0m50 1h0m-36 0h0m15 1h0m0 1h0m-32 0h0m58 1h0m-57 0h0m56 1h0m1 0h0m-50 2h0m52 1h0m-48 1h0m5 1h0m-8 1h0m14 0h0m-1 2h0m-1 1h0m37 1h0m-6 0h0m-49 1h0m3 1h0m-5 1h0m3 1h0m12 0h0m22 1h0m-14 1h0m-13 1h0m-18 0h0m17 1h0m-15 1h0m67 0h0m-2 1h0m-12 1h0m-4 0h0m-38 1h0m42 1h0m20 1h0m-54 1h0m9 1h0m46 1h0m-60 1h0m50 0h0m-60 1h0m-2 0h0m46 1h0m-52 2h0m11 1h0m37 1h0m-44 2h0m5 1h0m-9 1h0m50 1h0m-16 1h0m15 1h0m-43 1h0m-5 2h0m36 1h0m-35 2h0m19 2h0m52 3h0m-63 5h0m-4 2h0m18 2h0m51 4h0m-40 2h0m-33 4h0m22 3h0m-10 2h0m57 2h0m-58 6h0m-5 6h0m21 9h0m6 4h0m-22 15h0m135-378h0m-59 83h0m45 10h0m24 11h0m-1 8h0m3 4h0m-38 5h0m16 2h0m-6 4h0m-26 2h0m43 4h0m-20 2h0m-22 3h0m44 2h0m-11 2h0m-5 0h0m-22 2h0m-7 2h0m24 3h0m24 2h0m-11 3h0m-4 3h0m-45 1h0m59 0h0m-25 3h0m9 1h0m-40 1h0m17 1h0m46 1h0m-6 1h0m-35 1h0m9 1h0m-33 0h0m48 1h0m-26 1h0m40 1h0m-13 1h0m16 1h0m-73 0h0m64 2h0m-37 2h0m-31 1h0m6 1h0m62 1h0m3 1h0m-22 2h0m-33 0h0m-5 1h0m-10 1h0m28 0h0m-21 0h0m57 1h0m-23 1h0m31 1h0m-3 0h0m-18 1h0m-33 1h0m52 0h0m-21 1h0m-44 1h0m68 1h0m-61 1h0m48 0h0m-46 0h0m28 1h0m11 1h0m-21 0h0m28 1h0m-41 1h0m38 1h0m-19 0h0m-29 1h0m44 1h0m-14 1h0m21 1h0m4 0h0m-12 1h0m-33 1h0m-16 0h0m46 1h0m-53 0h0m70 1h0m-39 1h0m26 1h0m-15 1h0m-27 0h0m31 1h0m-13 1h0m17 1h0m-32 0h0m26 2h0m-3 1h0m6 1h0m15 1h0m-51 1h0m34 1h0m-36 1h0m59 1h0m2 1h0m-48 1h0m10 1h0m11 1h0m-13 1h0m31 1h0m-59 1h0m53 2h0m-32 1h0m-3 0h0m-13 2h0m53 0h0m19 1h0m-42 1h0m13 1h0m-38 1h0m-4 0h0m3 1h0m58 2h0m-62 1h0m7 0h0m-8 2h0m3 1h0m38 1h0m-16 1h0m-23 3h0m69 1h0m-57 1h0m39 1h0m-57 2h0m68 3h0m0 3h0m-38 1h0m-24 4h0m39 0h0m-29 1h0m9 2h0m-2 2h0m49 3h0m-18 4h0m-39 2h0m-7 2h0m23 4h0m-10 2h0m-18 1h0m1 7h0m54 5h0m-60 13h0m8 10h0m17 34h0m96-326h0m-20 13h0m12 5h0m46 11h0m-12 4h0m8 2h0m-24 6h0m-4 2h0m5 2h0m0 3h0m22 3h0m3 3h0m0 2h0m-55 2h0m26 2h0m-2 4h0m21 1h0m8 1h0m-38 1h0m35 2h0m-36 1h0m38 1h0m-58 2h0m42 1h0m4 1h0m10 1h0m-37 1h0m18 2h0m3 1h0m-4 1h0m24 1h0m-38 2h0m-37 2h0m24 1h0m-7 1h0m56 1h0m0 1h0m6 0h0m-75 1h0m42 1h0m11 1h0m-5 1h0m-23 1h0m36 1h0m5 1h0m-64 1h0m23 1h0m-8 1h0m7 0h0m16 1h0m8 1h0m15 1h0m-31 1h0m-15 0h0m10 1h0m29 1h0m-7 1h0m-49 0h0m71 1h0m-29 0h0m-39 0h0m42 1h0m-36 1h0m37 1h0m-7 1h0m11 1h0m-43 1h0m54 1h0m-2 0h0m-54 0h0m16 2h0m22 0h0m18 1h0m-7 1h0m-5 0h0m-30 1h0m-9 0h0m20 1h0m-2 1h0m23 0h0m14 1h0m-24 0h0m8 1h0m-10 1h0m21 1h0m-48 1h0m14 1h0m5 2h0m-1 1h0m-31 1h0m3 1h0m53 1h0m-21 0h0m1 1h0m-2 1h0m10 1h0m-4 1h0m-17 0h0m5 1h0m6 0h0m-30 1h0m32 1h0m36 1h0m-68 1h0m34 1h0m-40 1h0m36 0h0m-26 2h0m0 1h0m2 1h0m12 1h0m-18 2h0m24 1h0m-3 1h0m-6 1h0m36 0h0m-37 1h0m17 1h0m-38 1h0m33 1h0m41 1h0m-32 2h0m-27 2h0m7 1h0m37 1h0m-3 1h0m-49 1h0m57 2h0m-48 1h0m-5 2h0m55 2h0m-59 2h0m16 2h0m-4 1h0m12 2h0m-31 1h0m5 3h0m49 2h0m-27 3h0m-26 3h0m73 4h0m-35 7h0m-27 10h0m4 10h0m22 5h0m-21 8h0m-10 31h0m124-392h0m27 79h0m-34 23h0m25 5h0m-18 3h0m19 5h0m-19 3h0m24 2h0m-46 3h0m-10 2h0m47 1h0m-32 3h0m42 1h0m-42 2h0m14 2h0m-45 2h0m55 1h0m-10 2h0m26 2h0m-64 1h0m38 2h0m18 1h0m-26 1h0m21 2h0m-7 1h0m20 1h0m-74 2h0m58 1h0m-38 1h0m15 1h0m28 0h0m8 1h0m-46 1h0m-18 2h0m0 1h0m29 0h0m-10 1h0m17 1h0m-14 1h0m14 0h0m30 1h0m-42 1h0m-30 0h0m46 1h0m-31 1h0m-6 1h0m1 0h0m40 1h0m16 1h0m6 1h0m-65 0h0m3 1h0m32 1h0m-7 1h0m-22 0h0m-2 1h0m6 2h0m16 0h0m-14 1h0m41 1h0m9 0h0m-25 1h0m-20 1h0m16 1h0m24 0h0m-35 1h0m-11 1h0m-11 0h0m4 1h0m9 0h0m8 1h0m37 0h0m7 1h0m-61 0h0m27 1h0m5 1h0m-34 0h0m41 1h0m-25 1h0m27 0h0m-21 1h0m-5 0h0m18 1h0m3 1h0m-23 1h0m11 1h0m-17 0h0m-11 1h0m60 0h0m-10 1h0m-27 1h0m-6 1h0m38 1h0m-27 0h0m22 2h0m-54 0h0m1 1h0m11 0h0m6 1h0m49 1h0m-69 0h0m18 2h0m29 0h0m-1 1h0m-39 1h0m63 1h0m-2 1h0m-13 2h0m-58 1h0m62 0h0m-10 2h0m-3 1h0m-2 1h0m-15 0h0m26 2h0m-24 0h0m4 1h0m12 2h0m-33 1h0m-9 1h0m42 0h0m-33 1h0m59 1h0m-33 2h0m-31 1h0m48 1h0m-54 1h0m20 1h0m-10 1h0m13 2h0m-20 1h0m0 2h0m24 1h0m30 2h0m-61 0h0m28 2h0m-8 2h0m-10 1h0m4 2h0m4 3h0m30 4h0m-22 3h0m-18 2h0m26 2h0m-25 2h0m16 5h0m-6 8h0m-21 5h0m9 28h0m89-318h0m53 51h0m-67 12h0m39 7h0m26 8h0m-10 4h0m8 2h0m5 3h0m-63 4h0m70 1h0m-8 2h0m-3 1h0m6 3h0m-42 1h0m37 2h0m-26 3h0m0 1h0m25 1h0m-41 2h0m-15 1h0m19 2h0m43 1h0m-70 2h0m70 1h0m-44 1h0m16 1h0m-17 1h0m33 1h0m-11 1h0m-15 1h0m25 2h0m-42 1h0m19 1h0m9 1h0m6 1h0m-17 2h0m-3 1h0m17 1h0m-44 1h0m62 1h0m-34 0h0m31 1h0m-4 1h0m-50 1h0m28 1h0m-28 1h0m50 1h0m-20 0h0m-4 2h0m-8 0h0m2 2h0m-22 0h0m67 1h0m-15 1h0m1 1h0m-29 1h0m-5 1h0m8 0h0m-17 1h0m47 1h0m-59 1h0m15 2h0m-15 1h0m8 1h0m-4 1h0m3 2h0m66 1h0m-61 2h0m-17 0h0m13 1h0m65 1h0m-19 1h0m-38 1h0m43 1h0m-56 1h0m-2 1h0m26 2h0m-21 1h0m25 1h0m-37 2h0m50 2h0m-42 2h0m-2 2h0m39 1h0m23 3h0m-69 1h0m53 1h0m-51 3h0m15 1h0m48 1h0m-37 3h0m6 1h0m0 3h0m-22 2h0m12 5h0m-19 2h0m11 6h0m-3 4h0m15 4h0m14 11h0m-40 16h0m9 6h0m71-269h0m58 31h0m12 13h0m-8 7h0m14 4h0m1 6h0m-51 4h0m36 4h0m-18 3h0m-44 2h0m48 0h0m-17 3h0m10 1h0m28 3h0m-36 2h0m5 3h0m21 1h0m-25 2h0m24 1h0m-14 1h0m-23 1h0m26 2h0m-3 2h0m-42 2h0m54 2h0m-6 1h0m-29 1h0m21 2h0m31 0h0m-75 2h0m38 2h0m38 2h0m-15 2h0m-1 2h0m-41 1h0m8 2h0m-22 1h0m57 1h0m-46 3h0m-11 1h0m5 2h0m43 0h0m-47 2h0m32 2h0m20 2h0m-41 2h0m33 1h0m2 1h0m-26 3h0m26 2h0m-32 2h0m-12 3h0m-8 4h0m33 3h0m34 1h0m-51 3h0m-1 5h0m-4 2h0m22 6h0m8 9h0m114-215h0m-26 28h0m27 20h0m-55 5h0m25 8h0m-10 8h0m-1 4h0m16 4h0m-32 4h0m-14 3h0m42 4h0m-46 5h0m56 4h0m-17 2h0m-40 5h0m47 6h0m-23 4h0m4 6h0m-14 3h0m-12 2h0m9 3h0m15 4h0m21 12h0m-21 12h0m55-147h0m28 22h0m-19 44h0m-494 395h0m185-189h0" stroke="#EE30A7" stroke-opacity="0.6" stroke-width="7.2" stroke-linecap="round" fill="none"/>
<path transform="scale(.5)" d="M351 4385h0m-8 5h0m16 5h0m-27 3h0m-11 9h0m30 6h0m-41 7h0m22 1h0m0 5h0m15 2h0m-1 2h0m9 0h0m-3 2h0m-20 3h0m18 2h0m1 1h0m-41 1h0m41 1h0m-19 1h0m-48 2h0m59 1h0m-11 1h0m-48 2h0m48 1h0m15 1h0m-33 1h0m-30 2h0m48 1h0m5 1h0m11 1h0m-38 1h0m32 1h0m5 1h0m-31 0h0m16 1h0m21 0h0m-21 2h0m19 0h0m-31 1h0m12 1h0m16 0h0m7 1h0m-4 1h0m-41 1h0m0 0h0m0 1h0m-13 1h0m9 1h0m9 1h0m-13 0h0m1 1h0m53 0h0m-5 1h0m-41 1h0m-1 2h0m31 0h0m-30 1h0m0 0h0m48 1h0m-26 1h0m27 1h0m-27 0h0m0 1h0m-16 1h0m-6 1h0m0 1h0m-14 0h0m14 1h0m-26 1h0m26 1h0m-26 0h0m14 0h0m5 1h0m29 0h0m19 1h0m6 1h0m-25 1h0m-22 1h0m-4 0h0m-22 1h0m26 1h0m-26 1h0m0 0h0m0 1h0m67 1h0m-41 0h0m-26 1h0m0 0h0m67 1h0m5 0h0m-24 2h0m-48 1h0m0 0h0m26 1h0m-26 1h0m48 1h0m24 1h0m-5 1h0m-42 0h0m23 2h0m-22 0h0m4 2h0m-24 1h0m16 1h0m4 1h0m38 1h0m-38 2h0m41 2h0m-41 2h0m-26 1h0m26 1h0m-26 1h0m26 2h0m43 1h0m-62 2h0m41 2h0m-21 1h0m-1 1h0m22 1h0m0 2h0m-46 1h0m62 2h0m-60 3h0m-4 3h0m17 2h0m-5 2h0m0 2h0m14 3h0m22 2h0m-22 5h0m-18 5h0m5 2h0m13 2h0m-26 8h0m70 6h0m-70 7h0m48 8h0m-15 10h0m-31 5h0m-2 16h0m104-317h0m8 13h0m39 5h0m-29 8h0m-8 7h0m-9 3h0m11 7h0m1 2h0m26 2h0m5 2h0m-57 4h0m60 1h0m-38 2h0m33 2h0m-63 1h0m66 2h0m5 3h0m-29 2h0m24 1h0m-33 2h0m-14 1h0m32 1h0m11 1h0m-15 1h0m-33 1h0m32 2h0m-5 1h0m31 1h0m-4 2h0m1 2h0m-1 1h0m-29 1h0m-24 1h0m36 1h0m-22 1h0m4 1h0m-2 1h0m41 2h0m-44 1h0m14 1h0m-4 0h0m-12 1h0m-3 1h0m-14 1h0m11 1h0m17 0h0m5 2h0m-31 1h0m17 1h0m25 1h0m2 0h0m-4 1h0m-32 1h0m-11 1h0m28 1h0m26 1h0m2 0h0m-8 1h0m-49 1h0m-5 1h0m30 1h0m16 0h0m5 1h0m-54 0h0m65 1h0m-19 1h0m-30 0h0m57 1h0m-75 0h0m8 1h0m44 1h0m4 0h0m-20 1h0m-27 1h0m26 0h0m32 1h0m-41 0h0m-5 1h0m-13 0h0m-10 1h0m0 1h0m3 0h0m50 1h0m-17 1h0m6 0h0m19 1h0m-42 1h0m-12 0h0m-4 1h0m11 1h0m28 0h0m-36 1h0m35 0h0m31 1h0m-22 1h0m3 1h0m18 1h0m-69 1h0m5 1h0m6 1h0m51 0h0m8 2h0m-54 1h0m-10 1h0m22 0h0m-31 2h0m40 0h0m-15 2h0m-12 0h0m48 1h0m-9 1h0m15 2h0m-30 1h0m17 1h0m-29 1h0m44 2h0m-70 0h0m7 1h0m11 1h0m7 1h0m14 2h0m29 2h0m-65 1h0m17 1h0m-16 2h0m37 1h0m20 2h0m-22 1h0m8 1h0m-27 4h0m-17 0h0m4 3h0m26 5h0m-21 2h0m-9 4h0m25 3h0m13 1h0m-15 2h0m8 2h0m-30 3h0m-3 6h0m70 3h0m-60 3h0m-2 2h0m12 7h0m34 10h0m-18 18h0m-4 27h0m65-376h0m45 26h0m-45 25h0m38 5h0m10 7h0m11 7h0m-2 3h0m-26 5h0m25 4h0m-35 3h0m9 2h0m13 5h0m18 4h0m-26 3h0m-40 3h0m57 2h0m-26 1h0m22 1h0m-27 2h0m-4 2h0m29 2h0m-49 1h0m56 3h0m-14 3h0m-32 3h0m-24 1h0m78 1h0m-1 1h0m-5 1h0m-26 1h0m-14 1h0m20 1h0m-8 1h0m-39 1h0m39 1h0m-29 1h0m-12 2h0m68 1h0m-54 1h0m-7 1h0m13 1h0m24 1h0m31 2h0m-3 1h0m-48 1h0m14 1h0m-10 1h0m35 1h0m-57 0h0m5 1h0m4 1h0m29 0h0m-7 0h0m22 2h0m-6 0h0m8 1h0m-27 1h0m14 0h0m-20 2h0m34 2h0m-9 1h0m-11 0h0m32 1h0m-7 1h0m-49 0h0m8 1h0m45 1h0m-62 0h0m22 2h0m23 0h0m-54 2h0m17 0h0m17 1h0m-5 1h0m43 0h0m-17 1h0m-14 0h0m-12 1h0m27 1h0m-49 1h0m8 1h0m-19 1h0m21 1h0m9 0h0m-9 1h0m-11 0h0m-1 1h0m26 1h0m-34 1h0m59 0h0m12 1h0m-40 1h0m-2 1h0m25 0h0m2 1h0m-48 0h0m11 1h0m56 0h0m-40 1h0m19 1h0m-40 1h0m-10 1h0m-3 1h0m2 1h0m31 1h0m16 0h0m17 2h0m-31 0h0m-8 1h0m28 2h0m-19 0h0m11 1h0m-26 1h0m-8 2h0m-14 1h0m23 0h0m-18 2h0m47 1h0m-2 1h0m4 1h0m-47 1h0m-3 2h0m46 1h0m20 2h0m-39 2h0m20 1h0m-27 1h0m-7 1h0m-18 1h0m11 1h0m63 1h0m-48 3h0m20 1h0m-21 1h0m-3 3h0m10 2h0m-9 1h0m-11 2h0m46 4h0m-40 2h0m10 3h0m-1 3h0m-5 8h0m3 4h0m-19 4h0m13 5h0m-18 16h0m18 17h0m16 17h0m-14 32h0m138-380h0m-18 13h0m-12 19h0m24 5h0m-23 3h0m13 3h0m-24 7h0m37 3h0m-5 7h0m-54 3h0m12 2h0m28 2h0m14 4h0m-24 6h0m25 3h0m-24 2h0m14 2h0m13 2h0m-22 3h0m17 2h0m-30 1h0m-19 1h0m20 2h0m2 1h0m-33 2h0m64 2h0m-62 1h0m35 1h0m26 2h0m-31 1h0m-6 1h0m28 2h0m2 0h0m-29 1h0m-28 2h0m28 1h0m33 1h0m-22 1h0m8 1h0m15 1h0m-55 2h0m56 0h0m-25 1h0m20 1h0m-6 1h0m-42 1h0m45 0h0m-27 1h0m-32 1h0m70 1h0m-14 0h0m0 2h0m3 1h0m-2 1h0m-7 0h0m-37 1h0m-16 1h0m72 1h0m-39 0h0m11 1h0m-20 1h0m-2 0h0m36 2h0m-1 0h0m-29 2h0m4 1h0m38 1h0m-38 0h0m34 1h0m-52 1h0m15 1h0m-10 1h0m2 1h0m-4 0h0m40 0h0m-23 1h0m18 1h0m-41 1h0m57 1h0m-67 0h0m73 2h0m0 0h0m-15 1h0m-30 1h0m-22 1h0m32 0h0m6 1h0m-38 0h0m57 1h0m-31 1h0m-5 1h0m49 0h0m-63 1h0m-7 1h0m59 2h0m-16 0h0m-28 1h0m40 1h0m-42 1h0m-14 1h0m12 1h0m-16 1h0m60 1h0m-58 1h0m44 1h0m-48 2h0m60 1h0m-60 0h0m29 1h0m22 1h0m-50 1h0m36 1h0m-34 1h0m17 1h0m48 1h0m3 2h0m-63 1h0m-1 1h0m38 0h0m-1 2h0m-30 1h0m-12 1h0m47 2h0m-49 1h0m19 3h0m5 2h0m19 1h0m4 4h0m-15 1h0m-19 1h0m-5 2h0m15 3h0m-16 2h0m13 5h0m-9 1h0m12 3h0m-14 5h0m30 6h0m-25 4h0m31 6h0m-18 8h0m-22 10h0m-6 15h0m66 24h0m-57 51h0m102-413h0m-12 38h0m42 8h0m11 6h0m-34 11h0m37 5h0m-20 4h0m-6 3h0m-18 3h0m46 5h0m-23 3h0m1 2h0m-38 1h0m6 1h0m44 3h0m7 3h0m-9 2h0m9 1h0m-35 2h0m26 1h0m-11 2h0m-32 1h0m56 2h0m0 1h0m-18 2h0m-23 0h0m5 1h0m-30 1h0m-9 1h0m68 2h0m-49 2h0m-1 2h0m40 1h0m-45 1h0m2 0h0m7 2h0m31 2h0m-22 1h0m-14 1h0m45 0h0m-47 2h0m24 1h0m22 1h0m8 0h0m-22 1h0m27 1h0m-60 1h0m47 0h0m-40 1h0m31 1h0m-31 1h0m41 1h0m-39 1h0m51 1h0m-7 1h0m-25 1h0m16 1h0m-34 1h0m-25 2h0m25 0h0m22 1h0m-41 1h0m41 1h0m-44 0h0m5 1h0m38 1h0m9 0h0m-23 1h0m-31 1h0m71 1h0m-50 1h0m-5 1h0m-3 1h0m59 0h0m-70 1h0m56 1h0m-37 1h0m-9 2h0m59 0h0m-60 1h0m-8 0h0m62 1h0m-23 2h0m-3 0h0m4 1h0m-3 1h0m-6 1h0m16 1h0m3 1h0m-17 1h0m28 0h0m-12 2h0m21 1h0m-59 0h0m30 1h0m27 1h0m-61 1h0m29 1h0m-19 1h0m1 1h0m6 1h0m22 1h0m-34 0h0m8 2h0m0 1h0m0 1h0m14 1h0m-15 0h0m-11 1h0m14 2h0m-20 0h0m22 1h0m-5 1h0m8 1h0m23 0h0m-40 1h0m32 1h0m-24 2h0m-21 1h0m7 1h0m66 2h0m-2 1h0m-51 1h0m46 1h0m-35 2h0m15 2h0m-35 1h0m58 2h0m6 2h0m-29 3h0m-22 3h0m16 2h0m0 3h0m23 2h0m-32 3h0m-13 7h0m-6 6h0m-12 5h0m55 2h0m-59 11h0m1 11h0m59 26h0m88-329h0m-10 22h0m-17 12h0m32 6h0m-6 6h0m-4 4h0m-27 3h0m32 2h0m-31 3h0m31 3h0m10 2h0m-20 2h0m-30 3h0m47 2h0m0 1h0m-20 3h0m8 2h0m5 2h0m-48 1h0m40 3h0m18 1h0m-11 2h0m-25 2h0m-3 2h0m30 2h0m-5 0h0m-16 3h0m30 1h0m-20 1h0m7 1h0m-6 1h0m17 1h0m-23 1h0m24 1h0m-1 2h0m-30 1h0m-8 0h0m-11 2h0m46 1h0m-31 1h0m-29 0h0m28 1h0m32 0h0m-2 1h0m-10 1h0m1 1h0m-4 1h0m-31 1h0m45 1h0m4 1h0m-26 0h0m13 1h0m-28 1h0m-17 1h0m10 1h0m12 1h0m-34 1h0m71 1h0m-14 0h0m14 1h0m-62 1h0m7 0h0m6 1h0m44 1h0m-37 1h0m18 0h0m-45 1h0m38 1h0m21 1h0m-17 1h0m-18 1h0m-5 0h0m8 1h0m-6 0h0m17 1h0m2 1h0m3 0h0m-39 1h0m50 1h0m-44 1h0m23 0h0m-21 1h0m-4 1h0m10 1h0m26 1h0m-20 1h0m21 0h0m8 1h0m-20 1h0m3 1h0m-24 1h0m12 0h0m27 2h0m-41 1h0m12 1h0m17 1h0m6 1h0m-7 2h0m-5 1h0m-31 1h0m-5 1h0m13 0h0m14 1h0m28 1h0m-35 1h0m7 0h0m9 2h0m33 1h0m-68 2h0m28 0h0m2 1h0m-32 3h0m12 1h0m27 0h0m19 1h0m-41 1h0m-7 3h0m-1 1h0m27 2h0m-11 2h0m1 1h0m-16 2h0m4 2h0m52 1h0m-21 2h0m-24 2h0m35 1h0m-17 2h0m-6 1h0m-26 3h0m-4 2h0m7 4h0m-6 1h0m59 4h0m3 2h0m-4 3h0m-41 3h0m7 4h0m-2 4h0m-21 13h0m54 20h0m75-350h0m18 38h0m-56 19h0m52 16h0m-19 8h0m-15 7h0m-4 6h0m23 3h0m15 3h0m-19 2h0m-32 2h0m32 2h0m-9 2h0m27 2h0m-51 1h0m55 1h0m-13 1h0m13 1h0m-12 3h0m-30 2h0m-17 1h0m58 2h0m-34 2h0m36 0h0m-4 1h0m0 2h0m7 1h0m-13 2h0m-60 1h0m55 2h0m9 1h0m-54 1h0m43 2h0m-2 1h0m-47 1h0m43 1h0m1 1h0m-37 1h0m31 1h0m20 2h0m1 1h0m-63 0h0m67 1h0m-52 1h0m18 2h0m-29 0h0m1 0h0m26 1h0m0 1h0m33 2h0m8 1h0m-20 1h0m-4 0h0m-35 0h0m57 2h0m-59 1h0m45 1h0m-14 1h0m-43 1h0m20 1h0m-4 1h0m-17 1h0m21 1h0m-17 0h0m16 1h0m-18 1h0m34 1h0m37 1h0m-37 1h0m38 1h0m-59 1h0m-15 1h0m20 1h0m15 1h0m-19 1h0m-14 0h0m13 1h0m60 1h0m-59 1h0m39 1h0m-38 1h0m-16 1h0m12 1h0m32 1h0m-7 1h0m-7 1h0m7 1h0m13 0h0m-24 1h0m16 1h0m9 1h0m-54 1h0m1 1h0m-3 3h0m68 1h0m-51 0h0m61 2h0m-46 1h0m2 2h0m20 1h0m-26 3h0m-17 1h0m45 1h0m23 1h0m-51 1h0m8 2h0m23 0h0m-59 1h0m11 2h0m15 1h0m-15 2h0m22 2h0m1 1h0m-26 2h0m-7 0h0m33 2h0m23 1h0m-35 3h0m41 2h0m5 1h0m-19 3h0m13 1h0m-14 3h0m-20 1h0m8 2h0m-36 2h0m15 2h0m19 5h0m-9 4h0m15 6h0m-34 5h0m30 7h0m-31 5h0m-2 9h0m25 10h0m-16 28h0m42 32h0m74-364h0m-15 23h0m9 8h0m17 11h0m-50 3h0m60 8h0m-12 1h0m16 4h0m-26 4h0m-9 3h0m-4 6h0m35 1h0m-18 4h0m-4 3h0m31 2h0m-65 1h0m10 2h0m-1 2h0m21 1h0m24 1h0m-26 1h0m14 1h0m6 3h0m-22 1h0m22 2h0m-18 0h0m13 2h0m-17 1h0m39 2h0m-56 2h0m42 1h0m-1 1h0m-41 1h0m-22 0h0m30 2h0m-20 1h0m9 1h0m34 0h0m7 1h0m-47 1h0m22 1h0m-3 2h0m46 2h0m-2 0h0m-19 1h0m-8 1h0m-7 1h0m-15 0h0m-16 1h0m59 1h0m-6 1h0m3 2h0m6 1h0m-11 1h0m-54 2h0m23 1h0m8 1h0m30 1h0m-23 1h0m28 0h0m-33 1h0m22 1h0m-50 1h0m40 1h0m-27 0h0m27 1h0m20 1h0m-59 1h0m14 2h0m49 1h0m-61 1h0m-6 1h0m49 1h0m-48 2h0m58 2h0m-45 2h0m-1 1h0m-17 1h0m69 2h0m-56 1h0m6 3h0m-3 2h0m-9 1h0m37 2h0m-48 3h0m7 1h0m15 0h0m-15 2h0m-1 1h0m47 1h0m-47 2h0m10 1h0m-12 3h0m15 2h0m-15 2h0m26 3h0m-26 3h0m28 5h0m-19 1h0m25 3h0m-30 5h0m6 1h0m11 7h0m17 5h0m-30 3h0m-3 7h0m-8 6h0m6 17h0m32 47h0m51-332h0m10 22h0m3 9h0m6 8h0m32 6h0m13 3h0m-6 3h0m-55 4h0m56 4h0m-39 3h0m44 5h0m-26 1h0m-26 2h0m30 4h0m-19 2h0m-4 4h0m26 3h0m6 3h0m-62 2h0m10 2h0m65 3h0m-44 2h0m-31 2h0m41 1h0m10 1h0m-18 3h0m30 4h0m-14 2h0m-30 3h0m34 1h0m-21 2h0m-21 3h0m65 1h0m-40 3h0m32 1h0m-64 2h0m24 1h0m-22 3h0m4 1h0m62 2h0m4 2h0m-43 2h0m2 3h0m10 1h0m-39 2h0m11 3h0m5 2h0m-20 2h0m33 3h0m-11 3h0m-15 1h0m7 5h0m15 2h0m-25 3h0m0 3h0m6 3h0m4 8h0m11 13h0m-27 15h0m8 23h0m76-246h0m72 10h0m-3 18h0m-69 4h0m18 8h0m-12 7h0m64 3h0m-29 6h0m0 7h0m34 9h0m-67 3h0m13 3h0m-14 3h0m29 4h0m-7 4h0m-28 3h0m37 4h0m-32 5h0m11 4h0m-9 7h0m17 12h0m-25 9h0m6 12h0m-6 9h0m0 15h0m80-155h0m13 32h0m1 39h0m-493 150h0m306 29h0" stroke="#9ACD32" stroke-opacity="0.6" stroke-width="7.2" stroke-linecap="round" fill="none"/>
<path transform="scale(.5)" d="M351 4428h0m3 8h0m-22 6h0m-22 4h0m25 4h0m20 2h0m-2 3h0m-43 2h0m22 3h0m0 3h0m-22 2h0m22 2h0m7 2h0m9 2h0m-4 2h0m-12 1h0m-7 1h0m27 1h0m-3 1h0m3 1h0m-31 0h0m27 1h0m-1 1h0m4 0h0m-41 1h0m39 1h0m-17 0h0m26 1h0m-28 1h0m2 1h0m0 1h0m0 0h0m0 1h0m0 0h0m0 1h0m-7 1h0m31 1h0m-9 1h0m7 0h0m-22 1h0m0 1h0m0 2h0m0 0h0m16 1h0m-16 1h0m14 1h0m-48 0h0m58 1h0m-60 1h0m45 0h0m-52 0h0m43 1h0m19 0h0m-19 1h0m-22 0h0m0 1h0m16 0h0m6 1h0m0 1h0m-30 1h0m8 1h0m0 1h0m34 1h0m-21 1h0m35 0h0m-24 1h0m-10 1h0m30 2h0m-44 0h0m10 1h0m-36 0h0m15 1h0m11 1h0m-1 1h0m-25 0h0m71 2h0m-23 1h0m0 1h0m-16 0h0m-20 1h0m14 1h0m22 0h0m-34 1h0m34 1h0m-22 0h0m25 1h0m-3 1h0m-48 1h0m7 1h0m-7 1h0m70 0h0m4 1h0m-26 1h0m-48 0h0m68 1h0m-20 1h0m10 1h0m-10 1h0m-31 1h0m-17 1h0m26 1h0m-26 0h0m70 2h0m-51 2h0m-19 1h0m26 1h0m22 1h0m-46 2h0m24 1h0m22 2h0m0 2h0m0 1h0m0 1h0m-22 3h0m-12 0h0m12 3h0m0 3h0m22 1h0m14 2h0m-14 3h0m-48 0h0m0 2h0m26 1h0m44 2h0m-66 2h0m-4 2h0m0 4h0m59 6h0m-33 4h0m0 4h0m-26 4h0m26 6h0m-26 6h0m48 15h0m-22 14h0m-26 17h0m91-312h0m32 13h0m3 6h0m-47 7h0m47 6h0m-15 5h0m30 4h0m6 4h0m-42 3h0m-5 1h0m39 3h0m-46 1h0m50 2h0m-50 2h0m49 2h0m-12 1h0m-24 2h0m-25 1h0m19 1h0m31 1h0m17 1h0m-21 1h0m-26 2h0m11 1h0m2 2h0m11 1h0m30 0h0m-16 1h0m1 2h0m-17 1h0m-1 1h0m20 1h0m-13 2h0m-16 1h0m31 1h0m-62 0h0m42 1h0m-29 2h0m46 1h0m-50 1h0m31 1h0m22 1h0m2 1h0m-67 1h0m30 1h0m-25 1h0m52 1h0m-4 0h0m-23 1h0m34 1h0m-12 1h0m-43 1h0m17 1h0m-12 0h0m36 2h0m19 1h0m3 1h0m-10 1h0m-65 1h0m79 1h0m-59 0h0m8 1h0m-22 0h0m68 1h0m6 0h0m-59 1h0m37 0h0m-22 1h0m5 1h0m6 1h0m-34 0h0m64 1h0m2 1h0m-49 0h0m45 1h0m-66 1h0m58 1h0m-34 0h0m45 1h0m-33 0h0m-33 1h0m-7 1h0m26 0h0m-23 0h0m15 2h0m24 0h0m26 1h0m-28 1h0m-31 0h0m1 1h0m20 1h0m4 1h0m-3 1h0m4 1h0m26 1h0m-60 1h0m70 1h0m-63 0h0m17 1h0m44 1h0m-67 2h0m67 1h0m-14 1h0m-14 1h0m19 1h0m-7 0h0m-29 1h0m7 1h0m17 2h0m-26 1h0m-17 2h0m31 0h0m-37 1h0m7 1h0m57 2h0m-68 1h0m50 2h0m-24 0h0m-2 1h0m-16 1h0m-3 1h0m39 2h0m33 1h0m-28 1h0m-11 1h0m-21 1h0m-2 1h0m33 2h0m-35 1h0m42 3h0m-34 3h0m2 2h0m16 1h0m-28 5h0m57 3h0m-63 4h0m51 4h0m-20 4h0m-34 6h0m35 7h0m-22 14h0m57 20h0m-65 75h0m106-390h0m-2 7h0m36 11h0m-13 10h0m-12 5h0m-20 6h0m1 6h0m34 4h0m9 4h0m13 4h0m-12 3h0m-20 0h0m27 2h0m-46 5h0m0 2h0m-14 2h0m53 2h0m-2 1h0m-21 2h0m26 1h0m-31 2h0m39 2h0m-41 1h0m-36 3h0m65 0h0m-20 2h0m-15 1h0m-9 0h0m56 2h0m-21 1h0m11 1h0m-26 1h0m20 1h0m1 1h0m-55 1h0m49 2h0m-15 1h0m23 1h0m13 0h0m-7 1h0m-15 1h0m-17 1h0m-12 2h0m-12 1h0m32 2h0m-6 1h0m39 1h0m-11 0h0m1 1h0m-39 1h0m4 1h0m35 1h0m-22 1h0m22 0h0m-63 1h0m56 1h0m16 0h0m-68 1h0m25 0h0m9 1h0m3 1h0m-46 1h0m45 0h0m-19 1h0m21 0h0m15 1h0m-18 0h0m-37 1h0m43 0h0m8 1h0m-24 1h0m41 1h0m-12 1h0m-23 0h0m37 1h0m-22 1h0m-40 1h0m42 0h0m-5 1h0m7 0h0m-43 1h0m33 1h0m13 0h0m-31 1h0m40 1h0m-26 1h0m12 1h0m-50 1h0m-3 1h0m59 1h0m-9 1h0m-48 0h0m67 1h0m-51 1h0m-17 0h0m50 1h0m-11 1h0m3 1h0m-34 1h0m-6 2h0m65 1h0m-31 1h0m-10 1h0m8 1h0m7 1h0m-3 1h0m-30 1h0m29 1h0m-7 1h0m-33 1h0m35 1h0m2 1h0m-9 1h0m14 1h0m-36 2h0m44 2h0m-45 1h0m56 3h0m-8 2h0m-3 1h0m-32 1h0m-13 1h0m20 2h0m6 1h0m-24 1h0m12 3h0m13 3h0m-13 1h0m-7 0h0m1 2h0m1 0h0m24 1h0m-41 2h0m10 2h0m43 1h0m-54 2h0m10 4h0m57 4h0m-3 3h0m-64 2h0m12 7h0m19 6h0m-19 11h0m-6 5h0m5 15h0m147-368h0m-23 51h0m-26 25h0m-13 14h0m52 5h0m-38 4h0m44 10h0m-2 3h0m-31 5h0m16 1h0m-41 4h0m33 2h0m21 1h0m-32 1h0m-1 3h0m41 3h0m-67 2h0m10 1h0m18 1h0m36 1h0m-34 2h0m-2 1h0m12 2h0m14 1h0m-42 1h0m-8 1h0m33 2h0m-11 1h0m42 1h0m-60 1h0m47 1h0m-12 1h0m-22 2h0m26 3h0m-30 1h0m14 2h0m38 1h0m-3 1h0m-48 1h0m33 2h0m-13 1h0m6 1h0m-31 1h0m29 1h0m19 1h0m-22 1h0m3 1h0m22 1h0m-45 1h0m21 1h0m-31 1h0m-3 1h0m1 1h0m45 1h0m-29 1h0m37 1h0m-25 1h0m12 0h0m-42 1h0m35 1h0m-21 1h0m8 1h0m28 0h0m-23 1h0m-29 0h0m0 1h0m62 0h0m1 1h0m-52 1h0m37 0h0m-18 1h0m-37 1h0m35 0h0m9 0h0m-2 1h0m-47 1h0m78 1h0m-41 0h0m35 1h0m-28 1h0m-31 1h0m-9 0h0m59 1h0m-29 1h0m1 0h0m-13 1h0m49 1h0m4 1h0m-24 0h0m-44 1h0m45 2h0m3 0h0m-47 1h0m55 1h0m-41 1h0m-11 1h0m-9 0h0m74 1h0m-52 1h0m4 1h0m-13 1h0m28 1h0m-27 0h0m42 1h0m-47 1h0m1 1h0m40 1h0m9 0h0m17 1h0m-39 1h0m2 1h0m-15 1h0m-2 1h0m10 1h0m3 1h0m-8 2h0m-31 1h0m11 1h0m54 1h0m-61 1h0m22 1h0m20 2h0m21 1h0m-11 0h0m-18 2h0m5 3h0m17 1h0m-23 2h0m-35 2h0m34 3h0m-31 1h0m12 3h0m-12 2h0m1 4h0m3 5h0m2 2h0m5 4h0m53 3h0m-38 6h0m-17 7h0m-8 9h0m1 20h0m45 34h0m51-350h0m26 17h0m14 9h0m-23 8h0m35 6h0m-11 6h0m-21 4h0m16 9h0m13 6h0m-6 2h0m3 3h0m-17 2h0m19 3h0m-63 1h0m60 2h0m-23 3h0m26 2h0m-40 2h0m-14 1h0m15 2h0m37 1h0m-17 1h0m13 1h0m9 2h0m-44 2h0m33 1h0m-7 1h0m-15 3h0m-11 1h0m23 1h0m1 1h0m24 1h0m-4 1h0m-9 0h0m-62 1h0m24 1h0m-20 1h0m65 1h0m8 1h0m-42 0h0m38 1h0m-11 1h0m-30 1h0m-28 1h0m32 1h0m17 1h0m-9 1h0m-4 1h0m26 0h0m0 2h0m-18 1h0m-50 0h0m18 1h0m15 1h0m30 1h0m-43 0h0m41 1h0m11 1h0m-21 1h0m-28 1h0m2 1h0m-15 0h0m55 1h0m-12 0h0m-15 0h0m-4 1h0m-5 1h0m9 1h0m5 1h0m28 1h0m-31 0h0m-19 1h0m45 1h0m-20 1h0m-26 0h0m3 1h0m31 1h0m-49 0h0m21 1h0m37 0h0m-50 1h0m-10 1h0m5 1h0m16 0h0m22 1h0m-46 1h0m3 1h0m71 1h0m-67 1h0m-3 0h0m45 1h0m-29 1h0m23 0h0m11 1h0m-31 1h0m24 1h0m26 1h0m-31 1h0m-17 1h0m-6 0h0m14 1h0m11 0h0m-14 2h0m-9 1h0m-19 1h0m32 1h0m3 1h0m-27 0h0m21 2h0m-11 0h0m9 1h0m30 1h0m5 0h0m1 1h0m-50 1h0m46 1h0m10 1h0m-23 1h0m-39 1h0m-9 1h0m31 1h0m-5 1h0m2 1h0m-3 1h0m47 1h0m-72 1h0m33 1h0m7 2h0m-25 2h0m26 1h0m-2 1h0m-1 2h0m-14 0h0m-23 3h0m3 1h0m5 1h0m58 2h0m-6 1h0m-5 1h0m-55 2h0m59 1h0m-29 2h0m3 1h0m20 2h0m-54 3h0m2 1h0m30 6h0m3 4h0m-34 2h0m0 8h0m36 5h0m-13 4h0m29 16h0m101-327h0m-20 40h0m19 13h0m-71 6h0m61 13h0m15 7h0m-46 6h0m26 3h0m-41 2h0m14 2h0m4 2h0m17 5h0m12 1h0m-4 2h0m-22 1h0m28 1h0m-7 2h0m20 2h0m-53 1h0m32 3h0m10 2h0m-36 1h0m18 2h0m6 1h0m17 1h0m-17 2h0m-43 2h0m50 1h0m-61 1h0m55 0h0m21 1h0m-21 1h0m-10 1h0m20 1h0m-64 1h0m58 0h0m-32 1h0m0 2h0m13 1h0m20 1h0m4 1h0m11 0h0m-52 1h0m26 1h0m-35 1h0m47 0h0m-34 1h0m9 1h0m32 1h0m-17 1h0m-17 0h0m24 1h0m-54 0h0m19 1h0m26 1h0m-26 0h0m33 1h0m-30 1h0m45 1h0m5 0h0m-38 2h0m32 1h0m-33 1h0m20 0h0m-27 1h0m1 1h0m-7 1h0m1 0h0m9 1h0m-22 1h0m20 1h0m38 0h0m-27 1h0m26 0h0m-9 1h0m4 0h0m-28 2h0m10 0h0m28 1h0m-58 1h0m55 0h0m-65 1h0m12 1h0m30 0h0m18 1h0m4 1h0m-23 1h0m0 0h0m-1 2h0m-33 0h0m39 1h0m-8 1h0m-16 0h0m-22 2h0m35 1h0m-36 0h0m9 1h0m22 1h0m12 1h0m-7 0h0m-5 1h0m-31 1h0m9 0h0m-6 1h0m0 1h0m18 1h0m-24 0h0m13 1h0m9 1h0m31 1h0m-47 1h0m63 0h0m-22 2h0m17 1h0m-4 1h0m-63 3h0m10 1h0m-6 2h0m56 1h0m-58 1h0m1 1h0m-1 2h0m40 1h0m-37 3h0m-1 2h0m-4 2h0m5 2h0m15 1h0m-5 4h0m1 2h0m-8 6h0m0 5h0m17 3h0m39 3h0m12 4h0m-48 1h0m20 5h0m-46 3h0m16 4h0m51 4h0m-55 6h0m57 14h0m-48 9h0m-3 28h0m94-393h0m38 59h0m-64 13h0m62 12h0m-42 8h0m24 5h0m8 4h0m-1 5h0m-20 2h0m-20 2h0m28 4h0m14 1h0m-4 2h0m-41 3h0m12 1h0m48 3h0m-18 2h0m-6 2h0m-26 1h0m49 2h0m1 3h0m-53 1h0m31 2h0m-3 1h0m-27 2h0m35 2h0m-28 1h0m39 1h0m-20 2h0m-19 1h0m8 1h0m1 0h0m-1 2h0m5 1h0m-1 1h0m-4 1h0m-1 0h0m31 2h0m-20 2h0m-21 0h0m-14 1h0m29 0h0m9 1h0m-30 1h0m31 1h0m4 1h0m18 1h0m-45 1h0m37 1h0m-29 1h0m34 1h0m0 0h0m6 1h0m-63 1h0m34 0h0m-32 1h0m14 1h0m42 0h0m-37 1h0m0 1h0m-10 0h0m40 1h0m-5 1h0m-29 1h0m42 0h0m-28 1h0m4 1h0m-13 1h0m-10 1h0m-26 1h0m29 1h0m-30 0h0m48 1h0m-12 1h0m15 1h0m-7 1h0m13 1h0m-36 2h0m33 1h0m-30 1h0m14 1h0m2 1h0m-25 0h0m-15 1h0m56 1h0m11 1h0m-3 1h0m-41 0h0m-11 1h0m44 0h0m-51 1h0m17 1h0m5 1h0m-26 1h0m5 0h0m65 1h0m-17 0h0m-31 1h0m32 0h0m-23 1h0m-15 1h0m41 1h0m-46 0h0m8 1h0m10 1h0m-31 2h0m13 1h0m-13 0h0m57 2h0m-16 0h0m-34 2h0m31 1h0m0 0h0m11 2h0m-19 0h0m19 1h0m-47 2h0m25 0h0m11 1h0m38 1h0m-74 3h0m27 1h0m8 3h0m-20 0h0m39 1h0m-15 1h0m-24 1h0m33 1h0m-39 1h0m9 2h0m1 2h0m47 1h0m-13 4h0m11 3h0m-23 2h0m-19 2h0m-23 1h0m13 2h0m-3 3h0m-1 5h0m-5 12h0m49 8h0m-29 14h0m-24 17h0m120-324h0m-33 31h0m50 17h0m10 11h0m-66 5h0m42 4h0m-15 3h0m-4 4h0m35 5h0m-18 3h0m-21 1h0m38 3h0m-13 3h0m5 1h0m3 2h0m5 2h0m-13 2h0m-23 2h0m19 1h0m-26 1h0m10 2h0m33 1h0m-36 2h0m-14 2h0m59 1h0m-38 1h0m-29 1h0m66 0h0m-49 1h0m17 1h0m-13 2h0m57 1h0m-74 2h0m16 1h0m19 2h0m-23 0h0m2 2h0m48 1h0m-67 1h0m30 1h0m-30 1h0m21 1h0m51 2h0m3 0h0m-32 1h0m16 2h0m-24 1h0m35 0h0m-68 1h0m64 2h0m12 0h0m-23 2h0m-55 1h0m16 0h0m57 2h0m-8 0h0m13 1h0m0 1h0m-53 1h0m1 1h0m46 2h0m-11 1h0m-56 1h0m30 1h0m-4 1h0m-26 1h0m73 1h0m-69 2h0m0 2h0m22 1h0m-1 1h0m-15 2h0m16 1h0m11 2h0m17 1h0m-53 1h0m41 2h0m23 2h0m-17 2h0m-14 1h0m-21 2h0m-18 2h0m43 2h0m-28 1h0m26 0h0m-33 2h0m-8 4h0m56 3h0m-49 1h0m3 2h0m-2 1h0m28 4h0m-4 3h0m32 3h0m-44 1h0m-1 6h0m20 4h0m-31 8h0m1 5h0m-3 13h0m53 16h0m46-355h0m22 98h0m20 12h0m4 5h0m-11 3h0m-10 11h0m-23 5h0m20 7h0m6 4h0m22 2h0m-56 2h0m47 4h0m-40 1h0m-6 1h0m34 2h0m6 3h0m-59 1h0m35 2h0m-27 3h0m45 2h0m-4 2h0m-14 1h0m11 3h0m-17 1h0m28 3h0m-44 1h0m30 2h0m17 1h0m-2 1h0m-36 1h0m-1 4h0m20 1h0m23 2h0m-25 2h0m-34 0h0m27 1h0m15 2h0m8 0h0m-29 2h0m41 2h0m-45 0h0m35 2h0m-56 2h0m15 1h0m-7 3h0m17 3h0m10 3h0m-29 2h0m65 1h0m-72 1h0m22 2h0m-21 5h0m57 3h0m-31 1h0m-26 4h0m26 3h0m1 2h0m-28 2h0m49 5h0m-49 3h0m37 10h0m30 18h0m-38 23h0m128-264h0m-65 30h0m58 16h0m-4 10h0m-42 7h0m9 8h0m9 6h0m-15 3h0m1 2h0m33 4h0m-63 7h0m0 5h0m23 2h0m-10 2h0m-4 4h0m24 6h0m-22 4h0m-10 4h0m9 5h0m38 6h0m-18 7h0m-13 6h0m19 5h0m16 12h0m-30 6h0m49 23h0m25-161h0m-12 50h0m-425 196h0m451-360h0" stroke="#4A77FB" stroke-opacity="0.6" stroke-width="7.2" stroke-linecap="round" fill="none"/>
<path transform="scale(.5)" d="M353 4451h0m-6 12h0m10 4h0m-7 9h0m0 5h0m-3 5h0m-27 2h0m31 3h0m-22 3h0m31 0h0m-12 2h0m1 1h0m9 3h0m-26 1h0m19 2h0m-19 1h0m19 2h0m-41 1h0m31 1h0m13 1h0m-22 1h0m0 1h0m17 1h0m-39 1h0m48 1h0m-26 1h0m0 1h0m23 1h0m-4 1h0m4 1h0m-44 1h0m37 0h0m-38 1h0m47 1h0m-25 1h0m19 1h0m-19 0h0m0 2h0m5 0h0m-5 1h0m27 0h0m-27 1h0m-22 1h0m22 0h0m27 1h0m-49 1h0m25 1h0m16 0h0m-39 1h0m-2 0h0m41 1h0m0 1h0m-19 0h0m-3 1h0m19 0h0m4 1h0m-42 1h0m0 1h0m22 0h0m26 0h0m-30 1h0m-18 0h0m16 1h0m6 0h0m0 2h0m-30 1h0m39 0h0m-31 0h0m22 1h0m0 0h0m-47 1h0m47 0h0m-32 1h0m51 0h0m-38 1h0m-24 0h0m61 1h0m2 0h0m-61 2h0m19 1h0m-26 1h0m67 0h0m-67 1h0m70 1h0m-22 0h0m21 1h0m-43 1h0m41 0h0m-32 1h0m36 1h0m-71 1h0m0 0h0m48 1h0m-48 1h0m0 0h0m49 1h0m-2 1h0m-47 1h0m26 0h0m-15 1h0m-11 1h0m26 1h0m0 1h0m42 1h0m-52 2h0m32 1h0m1 1h0m-1 2h0m-6 1h0m-16 1h0m-9 2h0m56 1h0m-6 2h0m-33 1h0m14 1h0m-18 2h0m-30 1h0m0 1h0m26 1h0m0 2h0m0 2h0m-26 2h0m48 1h0m-48 3h0m48 2h0m-48 2h0m26 4h0m38 2h0m-59 2h0m42 1h0m-3 2h0m29 5h0m-34 3h0m-20 2h0m53 4h0m-3 7h0m-50 4h0m-19 7h0m26 6h0m18 7h0m-44 8h0m0 12h0m153-319h0m-20 20h0m14 14h0m-11 9h0m15 3h0m-72 7h0m39 5h0m24 4h0m-29 3h0m-3 2h0m37 1h0m5 2h0m-24 1h0m20 1h0m-4 2h0m-18 2h0m-6 3h0m17 2h0m-29 2h0m-31 2h0m21 1h0m13 1h0m38 3h0m-9 1h0m-22 0h0m31 2h0m-24 0h0m0 2h0m24 2h0m-11 0h0m12 1h0m-17 1h0m12 1h0m-10 2h0m-3 1h0m-9 1h0m16 1h0m11 1h0m-50 1h0m50 1h0m-36 1h0m31 1h0m-29 1h0m24 0h0m11 1h0m-16 2h0m-31 0h0m-4 1h0m33 0h0m-6 1h0m-11 1h0m21 0h0m-13 1h0m-37 1h0m3 0h0m19 1h0m44 1h0m-28 1h0m3 1h0m-26 0h0m12 1h0m-6 1h0m32 0h0m-2 1h0m-17 1h0m1 0h0m-7 1h0m-35 1h0m0 0h0m46 1h0m1 1h0m-8 1h0m-5 0h0m-30 2h0m3 0h0m45 1h0m4 0h0m-38 1h0m54 0h0m-28 1h0m-29 1h0m50 1h0m-62 0h0m17 1h0m-8 1h0m4 1h0m17 1h0m-1 1h0m-9 1h0m30 0h0m-57 0h0m64 1h0m5 0h0m3 1h0m-44 1h0m8 0h0m11 1h0m-38 1h0m21 1h0m18 1h0m-3 1h0m-18 0h0m23 1h0m-16 2h0m-31 0h0m7 1h0m28 1h0m-21 1h0m8 1h0m27 1h0m-46 0h0m18 2h0m35 1h0m-33 1h0m-18 2h0m41 1h0m0 1h0m-37 2h0m33 1h0m-8 2h0m-26 2h0m14 2h0m37 1h0m-47 2h0m-11 2h0m17 1h0m26 1h0m-8 2h0m-27 1h0m37 2h0m26 2h0m-58 2h0m27 2h0m-38 3h0m11 2h0m25 2h0m-39 4h0m43 5h0m-36 4h0m-6 7h0m41 5h0m-43 6h0m3 16h0m5 90h0m113-376h0m14 13h0m5 7h0m-19 5h0m35 4h0m-3 6h0m0 3h0m-3 2h0m-1 4h0m7 3h0m1 3h0m-36 4h0m23 1h0m-1 2h0m12 1h0m-10 2h0m8 2h0m-10 1h0m-17 1h0m-15 2h0m17 2h0m-2 1h0m-36 1h0m41 1h0m-10 2h0m32 1h0m-10 1h0m-1 1h0m-50 1h0m12 1h0m44 1h0m-7 1h0m-7 2h0m-36 0h0m26 1h0m19 1h0m-26 1h0m18 1h0m22 0h0m-51 1h0m20 2h0m19 0h0m-3 1h0m-5 1h0m-6 0h0m-6 1h0m17 1h0m-27 0h0m-17 1h0m44 0h0m-43 2h0m10 1h0m28 0h0m-22 1h0m38 1h0m5 1h0m-28 1h0m-30 1h0m8 1h0m17 1h0m5 1h0m-23 0h0m-13 1h0m4 1h0m-10 1h0m19 1h0m-28 1h0m42 1h0m-38 0h0m31 1h0m-33 1h0m28 1h0m3 1h0m35 0h0m-12 1h0m-46 2h0m20 1h0m-23 0h0m30 1h0m0 1h0m39 1h0m-61 0h0m30 1h0m9 0h0m-22 1h0m39 1h0m-51 1h0m27 0h0m-47 1h0m58 1h0m-39 0h0m-1 1h0m19 2h0m-17 1h0m22 1h0m-28 1h0m47 1h0m-20 0h0m-36 1h0m58 1h0m-43 1h0m39 0h0m-30 1h0m-8 0h0m-19 2h0m66 1h0m-7 1h0m-23 0h0m6 2h0m20 2h0m-61 1h0m56 1h0m-44 1h0m-11 1h0m5 1h0m5 1h0m16 2h0m-28 0h0m9 1h0m65 1h0m-35 2h0m-9 1h0m15 1h0m23 2h0m-45 3h0m4 2h0m-22 1h0m51 2h0m-4 1h0m-27 1h0m-10 4h0m54 4h0m-51 2h0m15 4h0m-1 3h0m-2 3h0m-27 6h0m1 3h0m17 7h0m48 8h0m-40 15h0m2 13h0m123-350h0m-10 39h0m-21 13h0m14 10h0m13 10h0m-4 12h0m-39 3h0m-11 3h0m41 4h0m6 3h0m-37 1h0m8 3h0m27 3h0m-25 1h0m2 2h0m11 4h0m-41 2h0m66 1h0m-24 1h0m25 2h0m-37 2h0m-7 2h0m19 3h0m27 1h0m-16 1h0m-20 1h0m-16 1h0m25 2h0m18 0h0m-9 1h0m-7 2h0m-27 1h0m-13 1h0m10 1h0m7 1h0m-29 1h0m50 0h0m-37 2h0m52 2h0m-65 2h0m75 1h0m-61 1h0m14 1h0m16 2h0m4 1h0m-10 1h0m33 0h0m-28 1h0m24 1h0m-5 1h0m-49 1h0m17 1h0m-1 1h0m48 0h0m-29 1h0m-19 1h0m38 0h0m-17 2h0m-43 0h0m26 1h0m-36 0h0m62 1h0m-11 0h0m-35 1h0m4 0h0m45 1h0m-39 1h0m-23 0h0m39 1h0m-11 0h0m46 1h0m-29 1h0m-46 0h0m20 1h0m24 1h0m-17 1h0m5 1h0m34 1h0m-60 1h0m53 0h0m-44 2h0m9 1h0m40 1h0m-64 0h0m59 1h0m10 1h0m-39 1h0m-28 1h0m54 0h0m-18 2h0m16 0h0m-43 1h0m37 0h0m-42 1h0m40 1h0m-1 0h0m-12 1h0m-34 1h0m37 0h0m37 1h0m-74 1h0m31 1h0m-8 1h0m-11 1h0m-4 1h0m47 1h0m-53 0h0m49 1h0m13 1h0m-22 0h0m-30 2h0m21 1h0m43 2h0m-68 1h0m2 1h0m4 1h0m-6 1h0m16 1h0m48 1h0m-1 1h0m-55 2h0m21 1h0m10 2h0m-24 3h0m17 5h0m-31 2h0m46 2h0m-13 2h0m11 4h0m-44 2h0m56 4h0m-49 3h0m18 2h0m-22 4h0m5 6h0m-17 5h0m0 9h0m74 4h0m-14 21h0m79-331h0m-18 29h0m-12 10h0m45 13h0m-64 6h0m66 5h0m-14 4h0m-9 4h0m-4 2h0m7 4h0m6 2h0m-49 2h0m52 5h0m6 0h0m-34 2h0m-8 0h0m16 3h0m19 2h0m4 3h0m-15 2h0m14 2h0m-12 3h0m-4 1h0m-45 1h0m31 2h0m12 1h0m-31 1h0m20 1h0m5 1h0m-29 1h0m9 1h0m24 1h0m26 1h0m-43 0h0m3 1h0m0 1h0m-2 1h0m8 1h0m-29 1h0m33 2h0m21 1h0m-4 1h0m-7 2h0m-39 0h0m56 1h0m-44 2h0m34 0h0m-6 1h0m7 1h0m-10 0h0m27 1h0m-14 1h0m-24 0h0m-41 1h0m73 0h0m-37 1h0m5 1h0m-9 0h0m31 2h0m14 0h0m-40 1h0m24 1h0m-5 0h0m1 0h0m-5 1h0m9 1h0m-11 1h0m-48 0h0m13 1h0m3 1h0m-13 1h0m46 0h0m15 1h0m-44 1h0m19 1h0m25 0h0m-8 1h0m-26 1h0m43 0h0m-41 1h0m-32 0h0m-1 1h0m5 1h0m49 1h0m5 1h0m19 0h0m-67 1h0m33 1h0m-18 1h0m11 0h0m-6 2h0m35 1h0m-61 1h0m2 1h0m3 1h0m68 1h0m-31 1h0m-41 1h0m0 1h0m-7 1h0m3 1h0m40 1h0m16 1h0m-52 1h0m29 2h0m-9 1h0m-10 1h0m15 0h0m10 2h0m-27 0h0m29 1h0m34 1h0m-57 1h0m-4 1h0m28 0h0m5 2h0m-30 1h0m-7 1h0m7 0h0m9 2h0m22 2h0m-15 0h0m-21 2h0m15 2h0m-26 1h0m62 2h0m-30 0h0m-26 2h0m2 3h0m66 3h0m-45 2h0m-17 3h0m-10 1h0m51 1h0m-41 1h0m-2 3h0m-13 3h0m30 3h0m-30 3h0m45 1h0m-11 4h0m-32 2h0m13 5h0m-3 6h0m61 4h0m-59 14h0m-9 10h0m142-354h0m-16 65h0m3 9h0m23 6h0m-32 9h0m-34 3h0m42 5h0m20 3h0m-3 2h0m-10 2h0m-11 4h0m0 2h0m-10 4h0m9 1h0m-9 3h0m32 1h0m-62 4h0m24 1h0m39 2h0m-12 1h0m-23 1h0m37 1h0m-13 1h0m5 2h0m-5 1h0m-59 1h0m0 1h0m45 1h0m-25 2h0m23 1h0m32 2h0m-5 0h0m-47 3h0m-3 1h0m-8 1h0m34 1h0m-3 1h0m1 1h0m9 0h0m-41 1h0m35 1h0m-41 1h0m22 1h0m40 1h0m-8 1h0m14 1h0m-77 1h0m61 1h0m3 1h0m-12 1h0m-22 1h0m46 0h0m-8 1h0m-23 1h0m21 0h0m-44 1h0m24 1h0m-8 1h0m37 0h0m-67 1h0m44 0h0m-32 0h0m1 1h0m23 1h0m-6 1h0m-12 1h0m35 1h0m-5 1h0m14 1h0m-8 0h0m-32 1h0m23 1h0m-22 0h0m-10 1h0m24 1h0m-22 0h0m53 1h0m-61 0h0m54 1h0m-16 1h0m-53 0h0m73 1h0m-45 0h0m-10 2h0m35 0h0m0 1h0m-49 1h0m7 1h0m-4 2h0m26 1h0m25 1h0m-5 1h0m10 1h0m-35 0h0m-17 1h0m54 1h0m-48 1h0m-11 1h0m15 0h0m58 1h0m-61 0h0m-16 1h0m7 1h0m47 1h0m-6 1h0m-20 1h0m-22 1h0m-1 1h0m58 1h0m-6 1h0m-35 1h0m-7 2h0m-15 1h0m31 1h0m20 1h0m-2 1h0m-11 0h0m-31 1h0m53 1h0m-32 1h0m19 1h0m-44 1h0m18 3h0m-15 1h0m66 1h0m-63 1h0m-4 1h0m14 1h0m40 2h0m-11 1h0m21 2h0m-42 3h0m-17 1h0m8 2h0m18 1h0m-7 2h0m6 1h0m-31 3h0m7 2h0m-8 3h0m12 3h0m60 5h0m-77 9h0m55 7h0m-4 10h0m-24 7h0m-12 7h0m34 33h0m102-349h0m-32 34h0m1 22h0m2 5h0m21 4h0m13 4h0m-33 3h0m30 2h0m0 3h0m-36 2h0m24 2h0m8 2h0m-49 2h0m52 2h0m-2 1h0m5 2h0m-54 1h0m40 3h0m-32 1h0m-18 2h0m61 1h0m-21 1h0m28 2h0m-75 1h0m75 2h0m-45 1h0m22 1h0m-6 1h0m12 1h0m14 1h0m-52 0h0m49 1h0m5 1h0m-30 2h0m14 1h0m-18 0h0m-19 1h0m37 1h0m-31 1h0m24 0h0m5 1h0m-5 1h0m14 1h0m-65 0h0m2 1h0m53 1h0m-1 0h0m-4 1h0m26 1h0m-15 1h0m-11 1h0m4 0h0m-49 1h0m70 1h0m-43 0h0m16 2h0m-30 1h0m20 1h0m35 0h0m-46 1h0m-2 1h0m-21 0h0m22 1h0m11 1h0m-35 0h0m28 1h0m15 1h0m-23 0h0m44 1h0m-47 0h0m29 1h0m-36 0h0m27 1h0m5 1h0m-23 0h0m-18 1h0m56 0h0m-48 1h0m15 1h0m-26 0h0m9 1h0m46 1h0m20 0h0m-51 1h0m-2 1h0m17 1h0m-35 0h0m2 1h0m43 1h0m-34 0h0m-1 1h0m7 1h0m-24 1h0m29 0h0m-5 2h0m22 0h0m3 1h0m-5 0h0m-41 1h0m37 1h0m6 0h0m12 2h0m7 0h0m-61 1h0m9 1h0m19 1h0m10 2h0m-1 1h0m-21 1h0m-19 1h0m48 1h0m-45 1h0m41 1h0m-23 0h0m-18 2h0m-4 0h0m15 1h0m31 2h0m-23 1h0m23 1h0m-12 0h0m11 1h0m3 2h0m14 1h0m-11 1h0m-33 1h0m35 1h0m-41 2h0m7 0h0m15 2h0m-15 2h0m34 1h0m-33 1h0m4 2h0m22 1h0m-17 1h0m2 2h0m-17 2h0m18 1h0m1 3h0m-21 4h0m44 4h0m-2 2h0m-46 1h0m-6 2h0m28 5h0m-21 8h0m16 7h0m-2 36h0m130-296h0m-14 20h0m-10 14h0m-20 6h0m4 6h0m20 5h0m11 2h0m15 3h0m-10 3h0m-4 1h0m11 2h0m-9 1h0m-13 3h0m-15 1h0m29 2h0m-47 3h0m33 2h0m-20 1h0m-27 1h0m42 2h0m22 1h0m-23 2h0m-26 1h0m30 1h0m10 1h0m-26 1h0m7 1h0m-5 2h0m20 0h0m-32 2h0m5 1h0m10 1h0m36 1h0m-6 1h0m-48 1h0m54 2h0m2 1h0m-74 1h0m60 1h0m6 1h0m-5 0h0m-58 1h0m48 1h0m0 1h0m-23 1h0m11 1h0m-22 1h0m25 0h0m31 2h0m-62 1h0m52 1h0m-2 0h0m-37 1h0m38 1h0m-4 1h0m-41 1h0m14 1h0m-16 0h0m53 1h0m-49 2h0m-6 0h0m21 2h0m-24 1h0m-11 1h0m69 2h0m-37 1h0m-19 1h0m18 2h0m-13 1h0m13 0h0m-7 1h0m-22 1h0m13 1h0m21 1h0m9 1h0m8 1h0m-30 2h0m13 2h0m13 0h0m10 2h0m-51 2h0m29 2h0m29 2h0m-12 1h0m-57 3h0m66 1h0m-46 1h0m-22 3h0m6 1h0m10 1h0m-11 3h0m51 2h0m-24 2h0m16 2h0m1 5h0m-16 3h0m-14 6h0m-10 4h0m6 4h0m-4 11h0m-6 15h0m9 26h0m105-269h0m-8 16h0m14 11h0m27 7h0m-30 3h0m7 4h0m-29 5h0m36 3h0m-14 3h0m2 2h0m33 1h0m-27 2h0m22 2h0m-55 2h0m6 3h0m18 2h0m5 1h0m-2 2h0m-32 1h0m60 1h0m-59 2h0m63 2h0m-15 1h0m-15 2h0m-5 2h0m13 1h0m-2 2h0m-23 1h0m-8 1h0m52 1h0m7 2h0m-44 3h0m-34 2h0m9 1h0m11 1h0m20 2h0m-23 1h0m-9 1h0m59 3h0m-49 1h0m12 2h0m26 1h0m-7 1h0m-19 3h0m-5 1h0m-22 2h0m18 1h0m-11 2h0m10 2h0m22 2h0m-39 3h0m7 3h0m20 3h0m-22 3h0m11 2h0m-15 3h0m44 4h0m-39 2h0m44 6h0m-45 10h0m102-197h0m47 12h0m-46 19h0m23 3h0m5 10h0m-35 6h0m26 5h0m-4 4h0m0 3h0m2 4h0m-37 5h0m23 3h0m6 5h0m24 4h0m-56 3h0m-8 5h0m33 4h0m-4 7h0m0 2h0m-10 2h0m6 4h0m-25 4h0m3 12h0m-4 20h0m93-152h0m2 25h0m13 43h0m-464 207h0m385-232h0" stroke="#EE30A7" stroke-opacity="0.6" stroke-width="7.2" stroke-linecap="round" fill="none"/>
<path transform="scale(.5)" d="M349 4386h0m7 5h0m2 4h0m-26 3h0m16 10h0m-32 5h0m34 7h0m-40 2h0m36 5h0m5 1h0m-19 2h0m-15 1h0m25 1h0m9 3h0m-5 2h0m-2 1h0m-34 1h0m22 1h0m19 1h0m-19 2h0m24 1h0m-3 2h0m-21 1h0m19 1h0m-41 1h0m39 2h0m-17 1h0m20 1h0m6 1h0m-26 1h0m13 1h0m1 1h0m4 1h0m-18 1h0m-22 0h0m41 0h0m-29 2h0m25 0h0m5 1h0m-56 1h0m36 0h0m-22 1h0m42 1h0m-21 1h0m-21 0h0m11 1h0m19 1h0m16 1h0m-10 1h0m-14 0h0m-22 1h0m45 0h0m-45 1h0m12 1h0m-12 2h0m-20 1h0m20 0h0m0 0h0m49 1h0m-50 1h0m1 1h0m39 0h0m-39 1h0m41 1h0m-65 1h0m-1 1h0m21 1h0m4 0h0m0 2h0m-26 0h0m0 0h0m26 1h0m42 0h0m-68 1h0m71 0h0m-4 2h0m-19 0h0m-22 1h0m45 0h0m-45 1h0m40 1h0m-18 1h0m-48 0h0m67 1h0m-66 1h0m47 0h0m-39 1h0m39 0h0m-43 1h0m70 0h0m-8 2h0m-41 1h0m0 0h0m-26 1h0m0 2h0m26 0h0m0 1h0m27 1h0m-26 1h0m21 1h0m-22 1h0m-26 1h0m26 1h0m-3 1h0m3 1h0m24 2h0m-50 2h0m68 1h0m-42 2h0m0 1h0m-26 1h0m26 2h0m0 1h0m22 1h0m-48 3h0m66 1h0m-66 1h0m26 2h0m-26 1h0m71 2h0m-45 1h0m42 1h0m-51 4h0m44 2h0m-45 2h0m51 2h0m-13 2h0m-54 3h0m0 2h0m41 5h0m7 5h0m-48 2h0m72 2h0m-46 9h0m14 6h0m-40 10h0m0 4h0m26 14h0m-26 6h0m116-333h0m5 28h0m23 13h0m11 8h0m-23 4h0m-19 7h0m41 4h0m-21 6h0m-20 3h0m36 1h0m-3 2h0m-38 4h0m9 1h0m19 2h0m14 3h0m-11 1h0m0 1h0m1 4h0m-5 1h0m-21 1h0m37 2h0m4 1h0m-18 1h0m6 1h0m-39 1h0m46 2h0m-38 1h0m39 1h0m-17 2h0m13 1h0m-33 2h0m16 1h0m6 2h0m-54 0h0m69 1h0m-73 1h0m62 2h0m-57 1h0m51 1h0m13 1h0m-21 1h0m-10 0h0m7 1h0m-17 1h0m40 1h0m-66 1h0m56 1h0m-36 1h0m-23 1h0m54 1h0m10 1h0m-25 0h0m16 1h0m2 1h0m-2 1h0m-55 1h0m63 1h0m-12 0h0m-23 1h0m-19 1h0m67 1h0m-3 1h0m-47 0h0m-15 1h0m49 0h0m-55 1h0m64 1h0m-41 0h0m14 1h0m-32 1h0m16 0h0m23 1h0m-38 0h0m65 1h0m-75 1h0m-1 0h0m22 1h0m45 0h0m-26 1h0m22 0h0m-54 1h0m46 1h0m-55 0h0m10 1h0m26 1h0m2 0h0m2 1h0m8 1h0m-27 0h0m18 1h0m1 1h0m-31 0h0m29 1h0m-31 1h0m23 0h0m-22 1h0m53 1h0m-10 1h0m26 1h0m-64 2h0m52 0h0m-52 1h0m60 1h0m-54 1h0m-10 1h0m39 0h0m-15 2h0m17 1h0m-4 1h0m18 1h0m-64 0h0m11 2h0m36 1h0m-29 1h0m51 2h0m-24 0h0m-44 2h0m46 1h0m-5 0h0m29 1h0m-32 2h0m-6 2h0m-13 1h0m-7 1h0m18 1h0m-14 2h0m17 1h0m-5 2h0m-11 1h0m13 1h0m-20 4h0m44 1h0m5 3h0m-46 5h0m-5 1h0m37 4h0m-18 3h0m-14 1h0m50 3h0m-52 2h0m59 2h0m-51 6h0m-5 4h0m9 3h0m41 3h0m-55 7h0m-9 10h0m17 17h0m-8 30h0m149-379h0m-6 29h0m-7 21h0m-47 6h0m-7 6h0m-9 7h0m53 4h0m-2 5h0m-23 4h0m44 2h0m-35 4h0m-27 4h0m35 3h0m-2 3h0m28 3h0m-18 2h0m-37 1h0m40 2h0m16 1h0m-41 2h0m-1 3h0m30 0h0m-2 4h0m11 3h0m-24 2h0m15 2h0m-5 1h0m-53 0h0m1 2h0m49 0h0m23 1h0m-56 1h0m45 1h0m-36 1h0m36 1h0m0 2h0m-53 1h0m64 1h0m-2 1h0m-69 1h0m63 1h0m2 1h0m-59 2h0m36 1h0m-30 1h0m39 1h0m-9 1h0m-37 1h0m42 1h0m13 0h0m-43 1h0m40 0h0m-27 1h0m0 1h0m32 0h0m-29 1h0m7 1h0m-45 1h0m66 2h0m10 1h0m-43 1h0m-25 0h0m9 1h0m6 1h0m51 0h0m-19 1h0m-29 1h0m46 0h0m-55 2h0m8 1h0m-11 1h0m49 1h0m-3 0h0m8 1h0m-61 0h0m48 1h0m-25 1h0m47 0h0m-18 1h0m-10 1h0m-11 1h0m0 1h0m-21 1h0m13 0h0m-9 1h0m8 0h0m-12 1h0m-6 1h0m28 1h0m-10 0h0m34 1h0m-58 1h0m29 1h0m-5 0h0m32 1h0m-57 0h0m-4 1h0m10 0h0m9 2h0m-1 0h0m-11 1h0m48 1h0m17 1h0m-50 1h0m38 1h0m-10 1h0m-13 1h0m-2 0h0m-24 1h0m45 2h0m17 1h0m-5 0h0m-18 1h0m-43 2h0m37 1h0m-28 1h0m9 2h0m8 0h0m-9 1h0m43 1h0m-34 2h0m-11 1h0m-22 2h0m17 1h0m12 2h0m-19 1h0m18 1h0m5 1h0m-18 1h0m60 1h0m-26 2h0m-27 2h0m36 1h0m-50 1h0m33 4h0m-23 1h0m13 2h0m-28 2h0m2 3h0m-7 2h0m0 4h0m6 2h0m62 8h0m-45 6h0m7 2h0m-29 7h0m30 14h0m-6 19h0m-20 17h0m0 60h0m147-410h0m-32 18h0m36 16h0m-5 3h0m5 4h0m-43 3h0m39 7h0m-70 6h0m35 3h0m7 3h0m7 2h0m-19 3h0m35 4h0m-59 5h0m65 3h0m-32 2h0m14 2h0m17 2h0m-71 3h0m32 2h0m44 1h0m-34 1h0m4 2h0m14 1h0m-35 2h0m28 2h0m7 1h0m-5 1h0m-23 2h0m1 1h0m43 2h0m-30 1h0m-35 0h0m9 1h0m37 2h0m5 1h0m5 1h0m-19 1h0m12 1h0m-38 2h0m19 1h0m-19 0h0m26 2h0m-1 0h0m19 2h0m-52 0h0m48 0h0m-25 1h0m-32 1h0m46 1h0m6 1h0m11 1h0m-55 1h0m34 1h0m-13 0h0m39 1h0m-12 1h0m-8 1h0m-45 0h0m16 1h0m1 1h0m-12 1h0m18 1h0m13 1h0m18 1h0m-34 1h0m-2 1h0m-2 1h0m33 0h0m-38 1h0m10 1h0m37 1h0m-13 1h0m-28 0h0m-4 0h0m28 1h0m-6 1h0m8 1h0m14 1h0m-63 0h0m18 2h0m44 0h0m-29 1h0m-15 1h0m41 1h0m-26 0h0m17 1h0m-19 1h0m14 1h0m23 0h0m-6 1h0m-6 1h0m14 1h0m-13 1h0m-39 1h0m44 0h0m2 2h0m-53 1h0m57 1h0m-55 0h0m-4 1h0m-5 1h0m32 1h0m-11 1h0m-26 1h0m29 2h0m33 1h0m-39 0h0m44 1h0m-69 2h0m68 0h0m-24 1h0m-18 1h0m-3 1h0m-10 1h0m15 2h0m8 1h0m-16 1h0m-9 1h0m13 1h0m15 1h0m-20 2h0m54 1h0m-21 1h0m7 3h0m18 2h0m-73 2h0m8 4h0m27 0h0m-10 2h0m31 1h0m-45 3h0m10 2h0m-15 5h0m6 2h0m-5 3h0m-4 7h0m23 4h0m0 4h0m-29 5h0m19 10h0m-16 12h0m33 19h0m13 25h0m101-419h0m2 66h0m-11 21h0m-41 9h0m54 7h0m-16 10h0m-1 6h0m-9 3h0m-43 1h0m36 4h0m-9 4h0m29 3h0m-8 2h0m2 1h0m0 1h0m21 4h0m0 3h0m-18 1h0m-10 1h0m-18 2h0m11 1h0m19 3h0m-7 0h0m-33 2h0m53 1h0m-65 2h0m65 0h0m-38 1h0m-24 1h0m48 2h0m-53 2h0m65 2h0m-7 1h0m-60 1h0m64 1h0m-7 1h0m9 1h0m-34 2h0m9 1h0m-10 1h0m37 1h0m-8 1h0m13 1h0m-7 1h0m-67 0h0m67 1h0m-11 1h0m-12 1h0m19 0h0m-53 1h0m44 1h0m20 1h0m-64 2h0m39 1h0m18 0h0m-36 1h0m-14 1h0m13 1h0m-16 1h0m0 2h0m43 1h0m-40 0h0m29 1h0m-47 1h0m40 1h0m-30 0h0m15 1h0m-20 0h0m18 1h0m-8 1h0m9 1h0m21 1h0m-14 1h0m-21 1h0m60 0h0m-54 1h0m32 1h0m-32 1h0m-15 2h0m63 0h0m-9 1h0m-35 0h0m38 2h0m-39 1h0m19 0h0m-29 1h0m-10 1h0m56 1h0m3 1h0m5 1h0m-46 1h0m-15 1h0m43 1h0m-8 1h0m30 1h0m0 0h0m-64 1h0m13 1h0m17 1h0m-18 1h0m33 1h0m-10 1h0m16 1h0m-33 1h0m-20 1h0m57 1h0m-27 1h0m34 1h0m-50 0h0m2 1h0m25 2h0m-38 0h0m0 2h0m43 0h0m-11 1h0m13 1h0m-16 0h0m18 2h0m-31 1h0m-20 1h0m-3 1h0m19 2h0m33 1h0m-52 1h0m40 2h0m-12 1h0m29 2h0m-56 1h0m4 2h0m52 3h0m-51 2h0m48 3h0m-14 2h0m-40 3h0m43 2h0m-30 3h0m26 8h0m-1 6h0m-18 5h0m0 2h0m27 15h0m-34 8h0m19 57h0m60-355h0m25 17h0m23 11h0m7 7h0m-24 5h0m14 4h0m-15 3h0m-1 1h0m22 4h0m0 3h0m-22 1h0m19 2h0m18 3h0m-78 2h0m3 2h0m30 3h0m-5 2h0m49 1h0m-39 2h0m-13 2h0m-15 1h0m59 3h0m-23 1h0m-21 2h0m-12 2h0m47 0h0m-25 4h0m20 0h0m10 1h0m-12 1h0m-42 1h0m34 1h0m-15 1h0m-1 1h0m-14 2h0m27 1h0m-1 0h0m-1 2h0m13 1h0m10 1h0m9 0h0m5 1h0m-18 0h0m-30 1h0m41 1h0m9 1h0m-29 1h0m24 1h0m-60 1h0m52 1h0m-34 0h0m2 1h0m5 1h0m3 1h0m-3 2h0m-34 0h0m59 1h0m-19 1h0m-41 0h0m3 1h0m42 1h0m29 0h0m-68 1h0m-8 1h0m62 1h0m-55 1h0m24 1h0m-6 0h0m-17 1h0m17 1h0m31 1h0m-23 0h0m-19 1h0m48 1h0m-16 0h0m-10 1h0m-23 1h0m52 1h0m-53 0h0m7 1h0m31 0h0m-6 1h0m21 1h0m-7 2h0m-49 0h0m27 1h0m-23 1h0m46 0h0m9 1h0m-42 1h0m-12 1h0m43 1h0m-31 1h0m-21 1h0m25 1h0m-29 1h0m33 1h0m-21 2h0m26 1h0m14 1h0m-17 1h0m9 1h0m30 0h0m-78 1h0m13 1h0m26 1h0m-20 1h0m-10 1h0m51 2h0m3 1h0m-26 0h0m19 3h0m-12 1h0m17 1h0m-14 0h0m-24 2h0m26 2h0m-16 1h0m-22 2h0m46 2h0m5 1h0m-60 3h0m2 1h0m52 1h0m-23 2h0m18 2h0m-8 1h0m2 2h0m1 1h0m-31 4h0m11 2h0m-15 3h0m32 1h0m27 4h0m-18 2h0m-38 3h0m65 3h0m-17 4h0m-25 5h0m4 13h0m-5 43h0m106-370h0m12 42h0m-30 11h0m-8 18h0m-22 7h0m50 8h0m2 4h0m-11 3h0m6 3h0m-21 2h0m37 2h0m1 2h0m-16 3h0m-46 1h0m19 1h0m37 1h0m-59 1h0m59 2h0m-27 3h0m3 1h0m30 2h0m-28 1h0m27 2h0m-8 1h0m-43 1h0m0 1h0m34 1h0m-52 2h0m7 1h0m42 2h0m-25 1h0m23 1h0m14 2h0m-32 1h0m-23 1h0m63 2h0m-60 0h0m26 2h0m-9 1h0m-1 1h0m6 1h0m25 0h0m16 1h0m-2 1h0m-11 2h0m-16 0h0m-30 1h0m-5 0h0m27 1h0m31 2h0m6 1h0m-68 1h0m18 0h0m22 1h0m-1 2h0m-22 0h0m-22 1h0m56 1h0m-32 1h0m0 1h0m12 1h0m-2 2h0m30 0h0m-64 1h0m63 1h0m-22 1h0m31 0h0m-70 1h0m54 1h0m-20 1h0m-12 1h0m17 1h0m8 2h0m-7 0h0m-30 1h0m36 1h0m13 0h0m1 1h0m-60 1h0m61 1h0m-62 1h0m-3 1h0m5 1h0m-7 1h0m46 1h0m5 1h0m3 1h0m-31 0h0m-17 1h0m7 1h0m5 1h0m8 1h0m17 2h0m-14 2h0m0 1h0m-32 0h0m59 2h0m-25 1h0m-9 2h0m-4 1h0m44 3h0m-26 1h0m17 1h0m-53 1h0m31 1h0m-6 2h0m-21 0h0m35 2h0m-2 1h0m32 1h0m-8 2h0m-29 2h0m30 2h0m-58 1h0m63 1h0m-35 1h0m18 2h0m-12 3h0m-26 1h0m19 2h0m-11 2h0m8 1h0m-31 3h0m30 1h0m-20 2h0m26 2h0m-12 3h0m22 5h0m-25 5h0m-16 4h0m67 5h0m-52 8h0m-2 5h0m23 8h0m-23 21h0m0 18h0m133-373h0m-2 49h0m-25 14h0m-5 11h0m35 11h0m-65 4h0m61 4h0m6 1h0m-66 5h0m49 3h0m4 4h0m17 5h0m-1 2h0m-21 4h0m-6 3h0m12 1h0m-43 1h0m58 2h0m-78 2h0m40 1h0m-4 1h0m32 2h0m-14 1h0m-34 2h0m54 2h0m0 1h0m-59 1h0m43 1h0m-29 1h0m-22 2h0m67 2h0m-12 1h0m-18 1h0m23 1h0m-7 0h0m-50 2h0m19 1h0m-4 1h0m-4 1h0m34 0h0m-17 1h0m13 2h0m14 1h0m-60 2h0m48 0h0m-41 1h0m57 1h0m-39 1h0m-2 0h0m-13 1h0m11 1h0m-16 1h0m29 2h0m-38 1h0m-2 1h0m57 2h0m-33 1h0m-7 1h0m33 1h0m-49 1h0m9 0h0m17 1h0m6 1h0m-11 1h0m-5 1h0m48 0h0m-20 1h0m-14 1h0m6 1h0m-9 2h0m-23 1h0m0 1h0m45 1h0m9 1h0m-50 3h0m-4 1h0m0 2h0m24 1h0m11 1h0m-9 2h0m40 2h0m-52 3h0m-17 2h0m47 1h0m-8 1h0m-20 3h0m-1 1h0m-12 0h0m-5 3h0m-2 0h0m67 1h0m-41 2h0m1 2h0m-7 2h0m8 2h0m-28 3h0m39 2h0m-36 4h0m53 4h0m13 1h0m-7 3h0m-42 5h0m-12 2h0m36 6h0m-15 6h0m4 2h0m-31 8h0m47 9h0m-30 17h0m3 105h0m70-393h0m22 25h0m31 5h0m-34 8h0m12 6h0m-6 5h0m36 2h0m-35 4h0m18 3h0m-22 4h0m-28 4h0m27 1h0m-8 3h0m45 3h0m-41 2h0m34 4h0m-55 3h0m49 3h0m-43 2h0m43 2h0m-42 3h0m-11 2h0m-5 2h0m24 1h0m-19 2h0m55 4h0m-31 3h0m37 1h0m1 3h0m-18 1h0m-14 2h0m-7 3h0m-7 1h0m16 3h0m-11 1h0m-10 2h0m48 1h0m-48 3h0m31 1h0m28 2h0m-71 2h0m24 2h0m-2 3h0m-21 2h0m6 1h0m-3 3h0m-1 3h0m19 1h0m-12 3h0m24 3h0m-17 2h0m-12 4h0m2 3h0m5 2h0m28 4h0m-42 3h0m49 10h0m-23 10h0m11 15h0m-11 25h0m105-241h0m-31 4h0m54 18h0m-35 6h0m-35 7h0m-3 5h0m11 6h0m0 5h0m18 7h0m-13 7h0m7 4h0m-5 2h0m1 3h0m42 4h0m-61 4h0m13 3h0m55 4h0m-50 5h0m10 4h0m-13 13h0m-15 7h0m2 13h0m39 7h0m-44 12h0m54 13h0m38-155h0m4 48h0m-1 25h0m-324-275h0m208 427h0" stroke="#9ACD32" stroke-opacity="0.6" stroke-width="7.2" stroke-linecap="round" fill="none"/>
<line x1="123" y1="2304" x2="599" y2="1988.7" stroke="#000" stroke-width="4.2" stroke-dasharray="17.8 15.17" stroke-dashoffset="3.7"/>
<line x1="142.4" y1="2255.3" x2="560.7" y2="1978.9" stroke="#9ACD32" stroke-width="8.4"/>
<line x1="142.4" y1="2267.7" x2="578.9" y2="1980.8" stroke="#4A77FB" stroke-width="8.4"/>
<line x1="142.4" y1="2278.8" x2="558.6" y2="2004.2" stroke="#EE30A7" stroke-width="8.4"/>
<rect x="122" y="1866" width="478" height="537.3" fill="none" stroke="#333333" stroke-width="2.1"/>
<line x1="142.2" y1="2403.3" x2="142.2" y2="2415.1" stroke="#333333" stroke-width="4.1"/>
<text x="142.2" y="2440.2" font-size="22.8" text-anchor="middle" fill="#4D4D4D">1</text>
<line x1="331.1" y1="2403.3" x2="331.1" y2="2415.1" stroke="#333333" stroke-width="4.1"/>
<text x="331.1" y="2440.2" font-size="22.8" text-anchor="middle" fill="#4D4D4D">10</text>
<line x1="520" y1="2403.3" x2="520" y2="2415.1" stroke="#333333" stroke-width="4.1"/>
<text x="520" y="2440.2" font-size="22.8" text-anchor="middle" fill="#4D4D4D">100</text>
<path transform="scale(.5)" d="M1313 4519h0m0 21h0m0 7h0m0 10h0m0 4h0m-5 3h0m10 1h0m-5 2h0m0 1h0m0 2h0m-13 3h0m13 2h0m-26 1h0m0 2h0m26 1h0m0 3h0m0 2h0m5 1h0m0 1h0m-5 2h0m-26 1h0m11 1h0m15 1h0m0 1h0m0 1h0m-26 1h0m26 1h0m0 1h0m-26 1h0m0 2h0m0 1h0m0 1h0m0 1h0m31 2h0m-28 1h0m-3 1h0m2 2h0m-2 3h0m26 2h0m0 2h0m0 4h0m0 2h0m-14 2h0m-12 4h0m26 2h0m0 2h0m0 3h0m0 1h0m-26 4h0m26 2h0m-1 1h0m1 2h0m0 2h0m-20 4h0m-6 3h0m26 5h0m-20 4h0m-6 7h0m26 6h0m-16 10h0m16 5h0m-26 7h0m1 8h0m25 14h0m-26 9h0m100-320h0m5 56h0m1 12h0m-13 7h0m10 6h0m-37 3h0m41 4h0m-24 3h0m-5 3h0m2 0h0m-7 1h0m39 3h0m-36 1h0m-14 2h0m19 3h0m-10 1h0m41 2h0m-26 1h0m-2 2h0m10 1h0m-4 2h0m4 2h0m-11 2h0m-35 1h0m29 1h0m29 3h0m4 1h0m-41 1h0m30 1h0m-51 0h0m54 0h0m-22 1h0m17 2h0m-21 1h0m9 1h0m-52 1h0m76 1h0m-41 1h0m40 1h0m-60 1h0m62 1h0m-38 1h0m-24 1h0m17 1h0m16 2h0m3 0h0m12 1h0m-17 1h0m-18 0h0m36 1h0m-45 0h0m-9 1h0m5 1h0m0 1h0m7 0h0m40 0h0m2 1h0m-34 1h0m42 0h0m-8 1h0m-30 1h0m-30 0h0m33 1h0m7 0h0m-28 0h0m-1 1h0m53 1h0m-53 1h0m-12 1h0m12 0h0m48 1h0m-29 0h0m18 1h0m12 1h0m-13 1h0m10 1h0m-46 1h0m31 0h0m29 1h0m-39 1h0m-21 1h0m44 1h0m-44 1h0m48 1h0m-2 0h0m1 1h0m-61 0h0m33 1h0m37 0h0m-56 1h0m-3 0h0m44 2h0m-15 1h0m-13 1h0m32 1h0m-20 1h0m25 1h0m8 1h0m-58 1h0m13 2h0m40 2h0m-53 1h0m0 1h0m10 2h0m-10 1h0m32 2h0m-34 2h0m37 1h0m-9 0h0m-26 2h0m0 2h0m17 2h0m-31 1h0m14 1h0m57 0h0m-57 2h0m0 1h0m19 2h0m39 1h0m-58 3h0m64 1h0m-46 1h0m1 3h0m-16 1h0m-3 3h0m0 1h0m30 1h0m22 1h0m-12 2h0m-38 3h0m10 3h0m28 3h0m-40 2h0m27 2h0m16 3h0m7 5h0m1 4h0m-34 6h0m33 4h0m-16 13h0m-16 6h0m-32 9h0m14 8h0m97-345h0m-8 21h0m-6 28h0m5 9h0m51 6h0m-31 3h0m35 2h0m-77 3h0m35 3h0m30 2h0m11 2h0m2 1h0m-16 1h0m3 4h0m-3 2h0m-25 2h0m36 4h0m-38 2h0m-6 1h0m13 1h0m2 2h0m12 2h0m-13 2h0m4 2h0m-20 1h0m29 1h0m-41 1h0m33 1h0m16 2h0m1 0h0m-41 2h0m8 1h0m-3 0h0m31 1h0m-51 0h0m38 1h0m3 1h0m18 1h0m-51 2h0m46 1h0m-28 1h0m17 1h0m-12 1h0m39 1h0m-77 0h0m6 1h0m66 1h0m-17 1h0m-29 0h0m12 1h0m6 0h0m17 2h0m1 1h0m-17 1h0m-13 1h0m34 1h0m11 1h0m-16 1h0m-39 0h0m8 1h0m-16 1h0m32 1h0m14 1h0m-29 1h0m-8 1h0m40 1h0m-56 1h0m50 1h0m-25 1h0m21 2h0m-31 1h0m-6 1h0m11 1h0m-16 1h0m40 1h0m-21 2h0m19 0h0m-36 1h0m29 1h0m28 1h0m-37 1h0m17 2h0m-31 0h0m47 1h0m-38 2h0m5 2h0m12 0h0m-22 1h0m-11 1h0m49 1h0m-23 0h0m-41 1h0m14 1h0m16 2h0m-12 0h0m-9 0h0m29 1h0m-30 0h0m13 1h0m-6 1h0m60 1h0m-36 1h0m-24 1h0m-4 1h0m65 1h0m-39 0h0m13 1h0m-22 1h0m47 0h0m-32 2h0m0 1h0m23 1h0m-32 1h0m19 2h0m-33 1h0m51 1h0m-59 1h0m25 2h0m19 3h0m-40 1h0m-11 1h0m0 2h0m37 2h0m-11 3h0m-5 2h0m-24 1h0m7 3h0m4 2h0m-3 1h0m7 2h0m24 2h0m-11 2h0m-28 2h0m51 4h0m26 7h0m-61 4h0m10 4h0m-1 4h0m5 4h0m34 10h0m-41 8h0m-22 15h0m5 21h0m141-389h0m8 47h0m-37 8h0m-7 9h0m40 8h0m3 5h0m-76 4h0m11 5h0m54 4h0m12 3h0m-34 3h0m37 4h0m-28 4h0m21 5h0m-15 2h0m0 2h0m-21 2h0m35 2h0m-56 2h0m-16 1h0m55 2h0m2 4h0m-22 3h0m41 2h0m-58 2h0m7 1h0m52 2h0m-68 1h0m35 1h0m-17 2h0m12 2h0m-24 1h0m21 1h0m26 1h0m3 1h0m7 2h0m-11 1h0m-43 1h0m-5 0h0m50 2h0m-4 1h0m-11 0h0m14 1h0m-42 1h0m17 0h0m0 1h0m26 1h0m-5 1h0m-57 1h0m50 1h0m-46 1h0m44 1h0m-23 1h0m29 1h0m-36 1h0m-7 1h0m56 1h0m-21 1h0m11 2h0m-31 1h0m1 1h0m24 1h0m-45 0h0m43 1h0m6 1h0m-17 0h0m24 1h0m-60 1h0m-1 1h0m73 1h0m-46 1h0m4 0h0m28 1h0m13 1h0m-4 1h0m-9 1h0m-4 1h0m-39 1h0m20 1h0m-10 2h0m26 0h0m-30 1h0m29 0h0m22 2h0m-7 1h0m-43 0h0m34 1h0m-51 1h0m50 1h0m-2 1h0m-49 0h0m13 1h0m-1 1h0m17 1h0m-22 1h0m-8 1h0m57 1h0m6 1h0m-40 1h0m28 1h0m-41 1h0m-6 1h0m-6 1h0m47 1h0m-34 2h0m29 1h0m2 1h0m-8 1h0m-8 2h0m41 1h0m-19 1h0m17 2h0m1 1h0m-61 1h0m1 2h0m61 1h0m-54 2h0m18 0h0m22 2h0m-45 2h0m7 2h0m12 2h0m0 3h0m-29 3h0m63 2h0m2 3h0m-5 2h0m-8 2h0m9 2h0m3 2h0m-49 5h0m-19 6h0m25 4h0m9 2h0m42 6h0m-25 9h0m-40 8h0m9 14h0m135-384h0m-21 64h0m19 18h0m0 13h0m-3 6h0m-3 7h0m12 6h0m-40 4h0m17 4h0m11 3h0m-65 2h0m55 5h0m-38 2h0m50 2h0m9 1h0m-25 2h0m-28 2h0m52 2h0m-47 3h0m44 1h0m-71 2h0m49 2h0m21 2h0m-63 1h0m24 1h0m24 2h0m-20 1h0m9 3h0m5 2h0m-11 2h0m39 1h0m-45 1h0m-5 0h0m29 1h0m-24 1h0m32 1h0m-15 1h0m-43 1h0m57 1h0m-27 1h0m-2 1h0m36 2h0m6 0h0m-42 1h0m11 1h0m-25 0h0m40 2h0m-13 1h0m-17 0h0m-14 1h0m-12 1h0m23 1h0m-9 1h0m27 1h0m17 1h0m-52 0h0m28 1h0m36 1h0m-65 1h0m-1 1h0m67 0h0m-46 1h0m15 1h0m6 1h0m-20 1h0m15 1h0m21 1h0m-31 0h0m-8 1h0m27 1h0m-56 1h0m74 1h0m2 0h0m-61 1h0m3 2h0m-4 1h0m2 1h0m35 0h0m8 1h0m-50 1h0m52 1h0m-34 1h0m-7 0h0m48 1h0m-5 1h0m-1 1h0m-41 0h0m48 1h0m-44 1h0m21 1h0m23 1h0m-66 1h0m12 0h0m11 3h0m-7 1h0m6 1h0m10 0h0m31 1h0m-50 1h0m-10 1h0m53 0h0m-37 1h0m-3 1h0m-13 1h0m23 1h0m22 1h0m-37 1h0m58 1h0m-19 1h0m23 1h0m-61 2h0m19 1h0m41 1h0m-2 1h0m-6 2h0m-49 1h0m49 1h0m-24 1h0m12 1h0m-38 2h0m33 1h0m-26 2h0m29 1h0m-7 2h0m-14 3h0m-27 2h0m44 2h0m-29 3h0m-5 2h0m19 2h0m-6 4h0m-9 2h0m8 1h0m2 3h0m-25 2h0m18 4h0m-2 2h0m3 3h0m-6 3h0m2 4h0m-14 4h0m9 5h0m0 4h0m-10 6h0m-4 11h0m78 61h0m73-400h0m3 40h0m-50 12h0m33 14h0m-24 4h0m23 10h0m13 4h0m-36 3h0m35 6h0m2 1h0m-1 4h0m-3 2h0m-13 2h0m23 1h0m-41 1h0m-32 2h0m16 2h0m54 1h0m-54 2h0m31 1h0m17 3h0m4 2h0m-34 1h0m-9 1h0m39 2h0m-55 1h0m12 1h0m-21 1h0m13 1h0m5 1h0m11 1h0m39 3h0m-68 1h0m46 0h0m16 2h0m-50 0h0m-3 1h0m9 1h0m25 0h0m4 1h0m-35 1h0m-8 2h0m19 1h0m41 1h0m-12 0h0m-17 1h0m4 1h0m25 0h0m-37 1h0m18 1h0m24 1h0m6 1h0m-7 1h0m-50 0h0m5 1h0m38 1h0m-38 0h0m26 1h0m-39 1h0m37 1h0m-23 0h0m50 1h0m-2 1h0m-63 1h0m37 0h0m-44 1h0m24 1h0m49 1h0m-36 1h0m-16 1h0m-26 0h0m33 1h0m-16 1h0m28 1h0m29 0h0m-55 1h0m33 1h0m-10 1h0m-20 2h0m50 1h0m-25 1h0m0 1h0m-41 1h0m36 1h0m33 1h0m-74 1h0m48 1h0m-14 1h0m-25 1h0m14 1h0m-8 1h0m56 1h0m-19 0h0m22 2h0m-30 1h0m11 0h0m22 0h0m-53 2h0m-8 1h0m-7 1h0m17 1h0m23 1h0m-39 1h0m32 1h0m-41 1h0m54 1h0m-46 1h0m37 1h0m-32 1h0m44 1h0m-6 1h0m-49 1h0m7 1h0m6 1h0m22 1h0m-10 1h0m-9 2h0m15 1h0m-12 2h0m-6 1h0m57 2h0m-51 0h0m-15 2h0m11 1h0m-17 2h0m23 1h0m23 1h0m-32 2h0m25 2h0m7 2h0m-22 3h0m-7 3h0m-8 1h0m17 2h0m-6 3h0m25 3h0m6 1h0m-5 3h0m-44 1h0m12 3h0m61 8h0m-54 7h0m-3 7h0m28 11h0m-21 65h0m69-397h0m61 27h0m-20 15h0m-17 13h0m0 5h0m25 4h0m2 4h0m9 6h0m-48 4h0m16 4h0m-4 3h0m27 1h0m-14 4h0m20 3h0m-63 2h0m-4 1h0m69 2h0m-26 1h0m30 1h0m-69 1h0m39 2h0m-2 2h0m20 1h0m1 2h0m-4 1h0m-17 1h0m27 1h0m-29 1h0m-30 3h0m62 1h0m-8 2h0m8 1h0m-59 1h0m52 1h0m2 2h0m-28 1h0m19 1h0m-34 1h0m3 1h0m26 2h0m-2 1h0m-22 1h0m-6 1h0m-6 1h0m4 0h0m26 1h0m-45 1h0m68 2h0m0 0h0m-14 0h0m18 1h0m-14 1h0m8 2h0m-27 2h0m28 0h0m-48 1h0m48 1h0m-47 0h0m16 1h0m26 1h0m-50 0h0m3 1h0m-5 1h0m57 1h0m-46 1h0m-4 1h0m-19 1h0m47 0h0m21 1h0m-36 1h0m-35 1h0m3 1h0m51 0h0m-33 1h0m47 1h0m-49 1h0m43 1h0m-40 0h0m23 2h0m-35 1h0m66 0h0m-26 1h0m13 1h0m-35 1h0m-9 0h0m3 1h0m14 1h0m11 1h0m-27 1h0m-13 1h0m65 1h0m-16 0h0m-3 1h0m-18 1h0m22 1h0m-40 1h0m31 1h0m-24 2h0m-22 1h0m17 1h0m16 0h0m-14 1h0m-5 1h0m52 1h0m-34 1h0m-16 1h0m-4 1h0m6 1h0m-3 0h0m-13 1h0m4 1h0m0 1h0m18 1h0m-10 1h0m36 1h0m25 0h0m-78 1h0m35 1h0m-15 1h0m48 2h0m-66 0h0m10 1h0m7 1h0m-15 3h0m41 1h0m-41 2h0m-5 2h0m56 2h0m-20 2h0m11 2h0m-44 1h0m35 1h0m-13 1h0m6 2h0m-23 3h0m-7 1h0m41 3h0m8 3h0m-19 3h0m-24 3h0m1 3h0m22 4h0m-31 5h0m13 12h0m-12 12h0m25 9h0m11 16h0m-19 66h0m86-374h0m9 12h0m10 11h0m19 7h0m-26 5h0m29 2h0m-22 2h0m-1 3h0m34 5h0m-47 1h0m37 2h0m5 1h0m-53 4h0m8 3h0m-20 4h0m41 2h0m-8 2h0m-21 2h0m51 2h0m-53 2h0m43 1h0m-19 1h0m35 1h0m-59 1h0m-6 1h0m42 1h0m21 1h0m-4 1h0m-43 1h0m11 1h0m-4 1h0m21 1h0m-17 2h0m-25 0h0m28 1h0m25 2h0m-22 1h0m-13 1h0m-17 1h0m-2 1h0m40 0h0m28 1h0m-63 1h0m22 2h0m30 1h0m-37 1h0m-30 0h0m19 1h0m52 1h0m-18 1h0m-39 1h0m57 1h0m-31 1h0m12 1h0m-39 1h0m26 1h0m-12 0h0m33 1h0m-5 1h0m10 1h0m1 1h0m-55 1h0m23 1h0m-23 1h0m32 1h0m-1 1h0m32 1h0m-3 1h0m-49 1h0m7 1h0m18 1h0m-22 0h0m4 0h0m-8 1h0m-13 1h0m-2 1h0m52 2h0m10 0h0m-54 1h0m56 2h0m-55 1h0m56 0h0m-46 2h0m14 0h0m-21 1h0m31 0h0m16 1h0m10 1h0m-67 1h0m22 1h0m46 1h0m-38 1h0m-25 1h0m16 1h0m0 0h0m-9 1h0m4 2h0m-12 1h0m2 1h0m17 1h0m-8 1h0m-3 1h0m7 1h0m39 1h0m-19 1h0m-45 0h0m-3 2h0m15 1h0m15 1h0m-3 1h0m20 1h0m-35 2h0m10 1h0m16 0h0m-7 3h0m-25 1h0m0 1h0m18 1h0m-7 2h0m-17 2h0m40 3h0m-9 3h0m-30 2h0m23 3h0m-7 2h0m56 6h0m-43 1h0m-13 5h0m-3 3h0m20 6h0m-27 6h0m8 3h0m2 4h0m-9 8h0m21 50h0m93-336h0m9 18h0m20 12h0m-39 8h0m-23 12h0m70 6h0m-37 9h0m24 2h0m-4 1h0m10 3h0m8 2h0m-65 4h0m39 3h0m-1 3h0m-46 3h0m57 2h0m-12 1h0m-12 2h0m30 1h0m-22 2h0m-7 2h0m-9 1h0m33 1h0m-5 2h0m13 1h0m-63 2h0m63 1h0m-12 1h0m-17 2h0m-39 1h0m56 1h0m-37 2h0m32 3h0m-42 1h0m8 2h0m31 1h0m-42 1h0m26 1h0m31 1h0m10 3h0m-45 2h0m30 1h0m-36 0h0m39 1h0m-24 2h0m30 1h0m-67 2h0m-2 1h0m3 2h0m33 1h0m4 3h0m-3 0h0m-12 2h0m31 1h0m-39 1h0m8 2h0m29 1h0m-55 1h0m4 1h0m5 2h0m5 2h0m-3 2h0m20 3h0m-10 2h0m53 1h0m-1 2h0m-61 2h0m-12 2h0m8 2h0m-7 2h0m31 2h0m-25 3h0m2 2h0m3 3h0m-3 3h0m-8 2h0m42 6h0m1 5h0m25 5h0m-64 5h0m18 5h0m-14 4h0m22 15h0m7 12h0m114-271h0m-15 13h0m13 19h0m-8 12h0m-7 3h0m-3 2h0m-35 7h0m2 3h0m37 6h0m4 4h0m-5 3h0m-38 4h0m28 5h0m-11 2h0m9 3h0m-40 3h0m51 2h0m-47 5h0m46 3h0m-9 3h0m-3 2h0m1 3h0m-43 3h0m26 2h0m38 3h0m-42 4h0m-20 3h0m24 3h0m-4 3h0m-12 2h0m10 2h0m12 2h0m-13 3h0m4 3h0m-22 2h0m1 9h0m5 2h0m11 2h0m4 6h0m-8 8h0m-6 5h0m11 19h0m62-256h0m12 70h0m4 15h0m-4 12h0m-11 6h0m5 10h0m10 16h0m-13 13h0m67 15h0m-57 8h0m-6 24h0m-43 67h0m-413 103h0" stroke="#9ACD32" stroke-opacity="0.6" stroke-width="7.2" stroke-linecap="round" fill="none"/>
<path transform="scale(.5)" d="M1316 4502h0m-3 28h0m0 4h0m0 8h0m0 3h0m0 3h0m0 0h0m0 6h0m0 2h0m0 2h0m0 2h0m-1 2h0m1 1h0m-26 2h0m26 1h0m0 2h0m0 2h0m0 0h0m-26 2h0m26 1h0m2 2h0m-2 0h0m0 1h0m1 4h0m-13 2h0m2 2h0m-16 2h0m1 1h0m25 0h0m0 1h0m-26 2h0m26 2h0m-25 2h0m-1 1h0m22 3h0m-22 3h0m26 1h0m-22 3h0m22 6h0m-26 1h0m0 2h0m26 2h0m-21 4h0m21 6h0m0 2h0m-26 2h0m26 3h0m0 3h0m0 2h0m0 3h0m-15 6h0m22 4h0m-28 9h0m21 5h0m-21 8h0m10 2h0m-2 12h0m13 15h0m-26 17h0m109-304h0m-30 25h0m5 7h0m19 18h0m-18 5h0m20 4h0m-41 5h0m48 2h0m-45 4h0m-19 3h0m45 1h0m-45 3h0m23 2h0m37 3h0m-15 1h0m12 2h0m5 1h0m-62 2h0m44 1h0m-31 1h0m49 1h0m-36 2h0m33 1h0m-2 1h0m-57 1h0m56 1h0m-9 2h0m3 1h0m-20 1h0m25 1h0m-27 1h0m18 1h0m-13 2h0m12 0h0m13 2h0m-31 0h0m-10 2h0m-26 1h0m28 1h0m29 1h0m-20 1h0m-8 1h0m1 0h0m-5 1h0m32 1h0m-7 1h0m5 1h0m-46 0h0m33 2h0m7 0h0m-40 1h0m44 1h0m-25 1h0m-19 1h0m19 2h0m-21 0h0m47 1h0m5 1h0m-50 1h0m14 1h0m-14 0h0m8 1h0m12 1h0m-20 1h0m49 0h0m-9 1h0m-25 1h0m-15 0h0m41 1h0m-41 1h0m0 0h0m21 1h0m-4 0h0m-17 1h0m27 1h0m32 1h0m-59 1h0m0 1h0m19 1h0m2 1h0m39 0h0m-60 0h0m0 1h0m0 0h0m0 1h0m60 2h0m-60 1h0m63 0h0m-23 1h0m-40 1h0m63 1h0m-41 2h0m27 0h0m-17 2h0m0 0h0m-32 2h0m19 0h0m-19 1h0m0 1h0m0 1h0m18 2h0m-18 1h0m-2 0h0m58 1h0m-56 2h0m39 0h0m-11 1h0m-26 2h0m-2 1h0m20 1h0m19 2h0m-1 1h0m-42 0h0m4 1h0m48 2h0m-48 2h0m47 2h0m-39 0h0m-15 2h0m-1 2h0m-5 1h0m42 2h0m14 3h0m-9 1h0m-34 4h0m19 3h0m0 2h0m-17 3h0m-2 3h0m0 5h0m35 4h0m-30 5h0m-8 5h0m-2 6h0m5 6h0m0 10h0m24 6h0m-36 14h0m43 9h0m76-323h0m38 15h0m-51 10h0m32 3h0m-14 5h0m32 4h0m-29 4h0m-44 3h0m5 1h0m46 4h0m17 2h0m-22 2h0m24 1h0m-42 3h0m42 1h0m-44 2h0m18 1h0m17 2h0m9 1h0m-41 1h0m-10 2h0m14 0h0m37 1h0m-42 2h0m14 1h0m-6 2h0m33 0h0m-44 1h0m49 1h0m-73 2h0m9 0h0m63 1h0m-18 1h0m19 1h0m-24 1h0m-14 1h0m33 1h0m-58 1h0m20 1h0m38 1h0m-15 1h0m-8 1h0m17 3h0m-60 1h0m-6 2h0m43 1h0m29 0h0m-36 1h0m38 1h0m-61 1h0m24 0h0m2 1h0m-19 1h0m5 1h0m8 1h0m15 1h0m-1 1h0m-4 0h0m24 1h0m-45 1h0m44 0h0m-62 2h0m15 1h0m4 2h0m10 1h0m-34 1h0m26 0h0m-8 1h0m56 0h0m-5 2h0m-71 1h0m6 1h0m47 0h0m-34 2h0m55 0h0m-40 2h0m-16 1h0m38 1h0m7 1h0m8 0h0m-66 1h0m20 0h0m-18 1h0m48 1h0m-16 2h0m-15 0h0m-20 1h0m51 0h0m-49 1h0m35 0h0m14 1h0m-23 2h0m28 0h0m16 2h0m-53 2h0m9 0h0m16 2h0m-7 0h0m-30 1h0m5 1h0m11 1h0m29 1h0m-13 1h0m-32 1h0m25 1h0m-1 1h0m28 1h0m-56 1h0m-5 2h0m21 1h0m13 1h0m18 1h0m1 2h0m20 1h0m-38 1h0m-35 1h0m25 1h0m1 1h0m8 2h0m-27 0h0m30 1h0m9 2h0m-38 2h0m65 1h0m-53 3h0m28 1h0m-46 2h0m24 1h0m6 2h0m-26 1h0m19 3h0m51 2h0m-65 1h0m9 5h0m-4 2h0m10 2h0m18 3h0m-31 1h0m4 4h0m-5 2h0m19 7h0m17 7h0m-34 4h0m-4 16h0m-5 17h0m147-370h0m-40 56h0m30 19h0m-51 7h0m49 4h0m3 4h0m-25 4h0m-19 4h0m38 5h0m11 6h0m-33 2h0m-11 2h0m22 1h0m28 1h0m-3 3h0m-29 1h0m-32 2h0m57 1h0m-17 1h0m20 2h0m-15 0h0m-30 2h0m34 1h0m-14 2h0m29 2h0m-22 1h0m25 1h0m-43 1h0m3 1h0m28 1h0m-13 0h0m22 1h0m-11 3h0m-50 1h0m50 2h0m-9 1h0m-27 2h0m35 1h0m5 1h0m-22 2h0m-27 1h0m59 2h0m-22 0h0m-53 1h0m13 1h0m40 1h0m-42 1h0m58 2h0m-40 0h0m19 1h0m5 1h0m12 2h0m-62 0h0m2 1h0m55 1h0m-17 1h0m7 1h0m-16 2h0m2 0h0m16 1h0m-55 2h0m25 1h0m22 0h0m-21 1h0m2 1h0m15 1h0m-40 1h0m24 1h0m-9 1h0m10 0h0m22 1h0m18 1h0m-31 1h0m-15 0h0m22 2h0m-29 0h0m17 2h0m-7 1h0m-10 1h0m52 0h0m0 1h0m9 1h0m-68 0h0m31 1h0m-22 1h0m6 0h0m7 2h0m0 0h0m43 2h0m-6 0h0m-50 1h0m-6 1h0m45 0h0m8 1h0m-6 1h0m-12 0h0m20 1h0m-36 1h0m47 0h0m-29 1h0m2 1h0m-46 0h0m7 2h0m61 0h0m-59 1h0m31 2h0m25 2h0m-15 0h0m0 2h0m5 1h0m-59 2h0m1 2h0m39 0h0m-14 1h0m-15 1h0m56 2h0m1 1h0m-16 2h0m-34 1h0m6 1h0m25 1h0m-17 1h0m16 2h0m-46 2h0m11 1h0m-10 2h0m20 2h0m32 2h0m-1 3h0m-18 2h0m-15 2h0m-21 2h0m7 1h0m-8 2h0m23 4h0m1 1h0m41 3h0m-42 4h0m1 4h0m19 3h0m14 9h0m-54 5h0m1 5h0m13 23h0m-12 32h0m134-374h0m-36 23h0m19 8h0m-14 17h0m6 9h0m17 5h0m8 4h0m-23 5h0m29 3h0m-28 1h0m32 2h0m-22 2h0m15 2h0m-45 6h0m27 3h0m-30 3h0m38 1h0m19 2h0m-63 2h0m27 2h0m21 0h0m-52 2h0m21 2h0m47 1h0m4 1h0m-25 3h0m21 0h0m4 1h0m-17 2h0m-14 1h0m13 1h0m-49 1h0m-3 0h0m-2 0h0m68 2h0m-13 2h0m-1 0h0m-23 1h0m36 1h0m-51 2h0m-4 1h0m38 0h0m-15 1h0m35 2h0m-25 1h0m-8 0h0m-32 2h0m43 1h0m27 1h0m-8 1h0m-3 2h0m-51 1h0m63 0h0m-14 1h0m-36 1h0m-4 1h0m20 2h0m2 0h0m-27 1h0m16 1h0m40 0h0m-71 2h0m52 1h0m0 0h0m-8 1h0m21 1h0m-51 1h0m-2 0h0m57 2h0m-34 0h0m26 1h0m-32 0h0m3 1h0m28 2h0m-46 1h0m2 1h0m49 1h0m-17 0h0m-46 2h0m69 1h0m-39 0h0m8 1h0m-6 1h0m-19 2h0m21 1h0m-27 0h0m49 1h0m-16 1h0m2 1h0m-22 1h0m-17 0h0m28 1h0m-2 1h0m-14 1h0m22 1h0m8 1h0m9 1h0m-35 0h0m35 1h0m-20 1h0m-19 2h0m16 0h0m27 2h0m-4 1h0m5 1h0m-39 2h0m-17 1h0m3 1h0m-8 1h0m5 1h0m62 1h0m-60 1h0m23 1h0m-15 1h0m44 1h0m-58 1h0m32 1h0m-24 1h0m-11 1h0m74 1h0m-4 2h0m-36 1h0m14 2h0m10 1h0m-59 1h0m59 2h0m-32 1h0m-21 1h0m15 1h0m2 2h0m46 2h0m-59 1h0m58 2h0m9 2h0m-77 3h0m23 2h0m17 3h0m-8 2h0m1 2h0m-19 1h0m52 2h0m-58 2h0m13 3h0m-24 7h0m1 3h0m23 9h0m-11 8h0m18 7h0m-19 10h0m-1 21h0m127-351h0m14 27h0m-43 18h0m50 8h0m-37 5h0m-22 4h0m37 3h0m13 7h0m-28 2h0m31 2h0m-24 4h0m-18 1h0m21 2h0m17 2h0m-36 1h0m-19 2h0m46 3h0m9 1h0m-15 2h0m7 2h0m14 2h0m-15 2h0m13 1h0m-31 1h0m17 1h0m-26 2h0m-11 1h0m32 2h0m-29 1h0m46 1h0m-34 0h0m28 1h0m5 1h0m-42 1h0m-28 1h0m55 1h0m-21 2h0m17 1h0m24 2h0m-45 1h0m37 1h0m-36 1h0m33 1h0m14 1h0m-10 1h0m-10 1h0m-46 1h0m36 0h0m-41 1h0m56 0h0m-9 2h0m-13 0h0m-33 1h0m6 1h0m37 1h0m-4 1h0m-20 1h0m-4 1h0m54 2h0m-17 1h0m-40 1h0m41 1h0m-1 1h0m-57 0h0m36 1h0m-37 1h0m23 0h0m-20 1h0m13 1h0m-8 0h0m44 0h0m-34 1h0m28 1h0m-30 1h0m14 0h0m3 1h0m-6 0h0m-20 2h0m21 0h0m30 1h0m-58 1h0m72 1h0m1 1h0m-48 0h0m28 1h0m-35 0h0m29 1h0m25 1h0m-10 1h0m2 1h0m-33 0h0m25 1h0m18 1h0m-3 1h0m-58 0h0m-11 1h0m46 1h0m27 1h0m-39 1h0m-19 1h0m-2 1h0m61 1h0m-73 1h0m7 1h0m14 1h0m27 1h0m2 1h0m-21 1h0m-21 1h0m21 1h0m37 1h0m-31 1h0m-3 1h0m13 1h0m-13 1h0m-4 0h0m-8 1h0m-20 2h0m36 1h0m27 1h0m-64 0h0m18 2h0m45 2h0m-42 1h0m-15 2h0m61 1h0m-40 1h0m-8 2h0m-12 0h0m20 2h0m34 1h0m-61 1h0m3 2h0m23 1h0m46 2h0m-9 2h0m-35 2h0m-1 0h0m-21 2h0m31 2h0m-27 4h0m44 3h0m-34 2h0m3 7h0m-26 3h0m4 8h0m54 5h0m-38 12h0m50 11h0m-66 24h0m152-363h0m-4 43h0m-21 13h0m-12 8h0m-6 7h0m-16 4h0m22 3h0m-22 4h0m32 2h0m23 4h0m-22 3h0m18 4h0m-2 2h0m11 2h0m-65 3h0m65 0h0m-39 3h0m1 1h0m-11 2h0m24 0h0m6 2h0m-28 1h0m18 0h0m-41 1h0m5 1h0m42 2h0m-22 1h0m39 1h0m-44 1h0m35 1h0m10 2h0m-10 1h0m10 2h0m-22 0h0m-39 1h0m44 1h0m19 1h0m-8 1h0m-65 2h0m7 1h0m63 1h0m-9 1h0m-58 1h0m32 1h0m-6 1h0m1 0h0m11 1h0m-42 0h0m78 1h0m-26 1h0m-50 2h0m50 0h0m10 1h0m-14 0h0m-7 1h0m6 1h0m15 1h0m-16 2h0m-28 1h0m-11 0h0m67 1h0m4 1h0m-68 1h0m23 0h0m45 1h0m-15 0h0m-21 1h0m-3 0h0m4 1h0m4 1h0m-31 1h0m44 1h0m-32 1h0m5 1h0m36 0h0m-25 1h0m22 1h0m-19 0h0m-40 1h0m42 1h0m-28 1h0m39 1h0m-12 1h0m-29 1h0m18 1h0m-18 1h0m57 0h0m-60 1h0m35 1h0m3 1h0m-1 0h0m-22 1h0m3 1h0m-23 1h0m29 1h0m-17 1h0m-14 0h0m56 1h0m-39 1h0m-4 1h0m41 0h0m-47 1h0m0 1h0m1 2h0m59 0h0m-70 2h0m28 2h0m27 1h0m-2 2h0m-27 2h0m-26 1h0m11 1h0m-12 2h0m38 2h0m33 0h0m-66 1h0m63 2h0m-22 2h0m8 1h0m-30 1h0m25 1h0m-18 1h0m16 1h0m-33 3h0m39 2h0m3 1h0m-4 1h0m-26 1h0m21 1h0m13 2h0m-8 0h0m-30 2h0m-17 4h0m67 2h0m-69 2h0m28 3h0m39 5h0m-67 2h0m5 3h0m11 4h0m-21 4h0m39 3h0m-17 6h0m18 4h0m1 11h0m-34 10h0m-9 42h0m110-381h0m-5 30h0m-22 28h0m56 9h0m-30 2h0m12 6h0m3 4h0m-8 7h0m-19 5h0m-14 4h0m28 3h0m10 2h0m13 3h0m-17 1h0m-1 3h0m21 2h0m-58 2h0m21 2h0m24 2h0m-36 2h0m7 1h0m28 2h0m12 2h0m13 0h0m2 2h0m-36 1h0m18 0h0m-40 1h0m40 2h0m13 0h0m-11 1h0m9 1h0m-30 2h0m-19 1h0m52 1h0m-38 1h0m-26 1h0m-1 2h0m10 1h0m38 1h0m-27 1h0m17 1h0m-28 1h0m12 0h0m45 1h0m-24 1h0m-12 2h0m7 1h0m-16 1h0m3 1h0m31 1h0m-7 1h0m0 1h0m-12 1h0m-1 1h0m14 1h0m-10 1h0m-36 1h0m4 2h0m24 1h0m-27 0h0m10 1h0m-13 1h0m36 1h0m-32 1h0m26 0h0m11 2h0m13 0h0m-44 1h0m35 1h0m-9 1h0m-13 1h0m-6 1h0m9 1h0m42 1h0m-7 0h0m-27 1h0m-27 0h0m-1 1h0m69 1h0m-55 1h0m38 2h0m7 2h0m-57 1h0m16 2h0m6 1h0m25 1h0m-54 0h0m-4 2h0m6 1h0m71 2h0m-66 1h0m59 2h0m-48 0h0m-10 1h0m-9 2h0m36 1h0m0 2h0m-12 1h0m22 2h0m9 1h0m-13 2h0m-3 1h0m10 1h0m-28 2h0m46 1h0m-30 2h0m-32 2h0m12 1h0m3 2h0m-10 2h0m-13 1h0m31 3h0m-24 2h0m15 1h0m4 3h0m-4 2h0m-12 5h0m25 6h0m-37 10h0m19 3h0m-18 5h0m29 3h0m-26 6h0m43 11h0m-25 32h0m96-316h0m33 14h0m-28 12h0m13 6h0m-21 5h0m35 6h0m10 6h0m-17 4h0m-11 5h0m18 4h0m-8 3h0m-16 0h0m-18 4h0m31 2h0m-24 2h0m44 3h0m-48 1h0m-18 2h0m48 2h0m-11 3h0m16 1h0m-32 1h0m6 1h0m-10 0h0m26 1h0m-35 2h0m18 2h0m-35 1h0m29 1h0m45 2h0m-71 1h0m35 1h0m5 1h0m-25 1h0m41 2h0m-4 1h0m-51 1h0m52 1h0m10 1h0m-70 2h0m9 1h0m29 1h0m8 1h0m-20 1h0m6 1h0m11 2h0m-38 1h0m2 1h0m53 1h0m-30 1h0m19 1h0m-21 2h0m27 1h0m-34 1h0m17 2h0m-6 1h0m-20 2h0m62 2h0m-40 1h0m-7 2h0m37 2h0m-7 1h0m0 2h0m-37 2h0m23 1h0m28 2h0m-37 2h0m1 2h0m-7 1h0m36 2h0m-4 2h0m-45 6h0m-9 3h0m3 3h0m42 3h0m-14 3h0m-21 4h0m13 2h0m11 5h0m-13 3h0m-22 4h0m59 8h0m-24 18h0m-39 27h0m150-336h0m-61 60h0m59 23h0m-25 9h0m-38 12h0m-2 4h0m50 4h0m-54 4h0m17 3h0m3 6h0m21 5h0m23 1h0m-48 3h0m61 5h0m-58 2h0m27 3h0m-26 4h0m6 1h0m-2 1h0m31 3h0m-28 1h0m27 2h0m18 4h0m-47 2h0m40 2h0m-63 2h0m6 1h0m21 3h0m47 2h0m-41 2h0m-2 2h0m-28 4h0m17 2h0m-12 2h0m8 2h0m-12 4h0m71 6h0m-77 5h0m30 6h0m2 6h0m-17 4h0m0 3h0m15 3h0m26 5h0m-31 23h0m-6 37h0m70-272h0m11 52h0m-6 13h0m25 23h0m-25 7h0m17 9h0m-18 13h0m6 10h0m-4 32h0m-382 22h0m272-88h0" stroke="#EE30A7" stroke-opacity="0.6" stroke-width="7.2" stroke-linecap="round" fill="none"/>
<path transform="scale(.5)" d="M1313 4499h0m0 15h0m0 8h0m0 4h0m1 5h0m5 4h0m-18 4h0m-14 4h0m26 4h0m-26 3h0m26 1h0m3 2h0m-3 1h0m0 1h0m6 1h0m0 2h0m-8 1h0m2 0h0m-14 1h0m14 2h0m-9 2h0m-17 1h0m0 2h0m26 0h0m0 1h0m-26 1h0m21 1h0m-10 2h0m15 2h0m-26 1h0m0 2h0m0 2h0m0 2h0m26 1h0m-26 1h0m0 1h0m26 2h0m0 3h0m-22 3h0m-4 2h0m8 2h0m20 1h0m-26 2h0m26 2h0m-2 3h0m-21 1h0m-1 4h0m-4 2h0m0 2h0m16 4h0m-4 2h0m14 1h0m-26 3h0m0 3h0m23 4h0m3 2h0m-26 5h0m26 4h0m-26 4h0m4 16h0m-4 6h0m29 9h0m-29 11h0m23 7h0m81-317h0m3 31h0m-21 20h0m20 14h0m3 5h0m-4 9h0m-7 6h0m-33 7h0m24 3h0m22 4h0m-28 3h0m-31 4h0m13 1h0m44 2h0m-40 3h0m15 1h0m-19 0h0m19 1h0m-2 1h0m-15 2h0m11 1h0m29 1h0m-45 1h0m20 2h0m9 0h0m-17 1h0m26 1h0m-10 2h0m-42 0h0m40 1h0m-16 1h0m14 1h0m-5 1h0m-21 1h0m34 1h0m-5 1h0m1 2h0m21 1h0m-47 1h0m13 1h0m-8 0h0m-21 1h0m60 1h0m-31 0h0m35 1h0m1 1h0m-35 1h0m1 1h0m3 0h0m-34 1h0m22 1h0m-3 1h0m-1 1h0m-18 1h0m18 1h0m-1 0h0m30 2h0m-15 0h0m-13 2h0m3 1h0m24 0h0m-18 1h0m-11 0h0m43 1h0m-47 0h0m5 1h0m-13 2h0m15 0h0m44 1h0m-28 1h0m-36 1h0m0 0h0m0 1h0m34 0h0m29 1h0m-44 1h0m-19 0h0m65 1h0m-5 1h0m-1 0h0m-14 1h0m-45 1h0m33 0h0m22 1h0m-55 1h0m0 0h0m38 1h0m-38 1h0m25 1h0m-25 0h0m19 1h0m-19 1h0m-10 1h0m10 0h0m24 1h0m-31 0h0m7 1h0m0 0h0m-14 1h0m73 1h0m0 1h0m-19 1h0m-40 1h0m24 1h0m-8 1h0m1 1h0m12 3h0m-29 1h0m45 1h0m-20 2h0m-25 2h0m46 1h0m-5 1h0m-27 1h0m-28 1h0m38 1h0m1 1h0m-6 1h0m30 1h0m-61 1h0m12 1h0m0 3h0m0 2h0m38 2h0m-29 2h0m-9 1h0m26 2h0m-26 1h0m38 1h0m-33 3h0m15 2h0m-20 2h0m0 3h0m0 4h0m23 4h0m-23 7h0m34 2h0m-34 5h0m52 3h0m-52 10h0m0 7h0m0 9h0m19 5h0m-19 3h0m44 84h0m91-409h0m-24 18h0m11 10h0m1 6h0m-4 8h0m5 8h0m-17 4h0m29 2h0m-38 3h0m16 3h0m10 3h0m3 7h0m-44 3h0m19 2h0m-1 2h0m4 2h0m22 0h0m-10 2h0m-12 2h0m-25 2h0m21 2h0m-12 1h0m28 1h0m-8 1h0m10 1h0m5 2h0m-9 2h0m26 2h0m-66 1h0m21 1h0m-9 1h0m41 1h0m14 2h0m-60 1h0m39 2h0m14 0h0m-36 3h0m18 1h0m21 1h0m-14 1h0m0 2h0m-50 1h0m47 1h0m-46 1h0m48 1h0m-45 1h0m52 0h0m7 1h0m-39 0h0m-33 1h0m63 1h0m11 0h0m-38 1h0m14 1h0m30 1h0m-14 1h0m13 0h0m-23 1h0m-8 1h0m17 1h0m-5 1h0m1 1h0m-39 1h0m-15 2h0m37 0h0m-39 1h0m62 0h0m-26 1h0m-15 1h0m23 1h0m21 0h0m0 1h0m9 2h0m-8 0h0m-7 1h0m-45 1h0m50 1h0m-14 1h0m-35 1h0m40 1h0m17 0h0m-60 1h0m6 1h0m20 1h0m-41 1h0m28 1h0m-2 2h0m-20 1h0m-7 1h0m13 1h0m-5 1h0m20 1h0m2 1h0m45 1h0m-65 0h0m41 2h0m-39 1h0m58 1h0m-16 1h0m7 1h0m-32 1h0m1 0h0m-20 2h0m65 1h0m-73 0h0m68 2h0m-41 2h0m10 1h0m13 2h0m-17 1h0m-35 0h0m32 1h0m-25 1h0m8 1h0m16 1h0m14 1h0m-12 1h0m24 1h0m5 3h0m3 1h0m7 3h0m-26 1h0m-31 1h0m10 1h0m12 2h0m-1 1h0m-35 3h0m29 3h0m-22 4h0m7 3h0m-2 2h0m-12 2h0m19 3h0m51 3h0m-71 2h0m55 7h0m-46 3h0m-1 5h0m-9 6h0m0 6h0m70 19h0m-66 13h0m93-349h0m51 32h0m-19 14h0m2 7h0m-28 6h0m53 4h0m-12 3h0m-16 3h0m31 4h0m-26 2h0m-3 3h0m5 4h0m8 5h0m3 3h0m-6 1h0m-10 2h0m0 1h0m-30 1h0m-4 2h0m-15 2h0m68 0h0m-63 4h0m44 1h0m23 1h0m-11 2h0m-14 1h0m25 1h0m-59 2h0m44 1h0m19 2h0m2 1h0m-6 2h0m-29 1h0m5 1h0m30 1h0m-56 0h0m54 2h0m-10 0h0m-27 1h0m18 1h0m2 0h0m-32 1h0m24 0h0m17 1h0m-11 0h0m17 1h0m-21 2h0m22 1h0m-11 1h0m-9 0h0m-7 1h0m30 1h0m-6 2h0m-21 1h0m2 0h0m13 2h0m-33 1h0m5 2h0m32 1h0m-43 1h0m1 1h0m31 1h0m-12 1h0m-2 0h0m-7 1h0m-15 1h0m48 0h0m-65 1h0m61 1h0m-50 0h0m46 1h0m-38 1h0m46 0h0m-23 1h0m-5 1h0m-28 1h0m26 1h0m-9 2h0m-28 1h0m2 0h0m-3 2h0m65 1h0m-18 1h0m1 1h0m16 0h0m-26 1h0m-39 1h0m52 0h0m-47 1h0m58 1h0m-39 1h0m-12 1h0m0 1h0m-3 1h0m18 0h0m3 2h0m-16 0h0m59 2h0m-11 1h0m-35 0h0m-14 1h0m37 2h0m21 0h0m-59 1h0m-9 2h0m55 2h0m-4 0h0m-19 1h0m-14 0h0m45 1h0m-44 2h0m-12 1h0m50 2h0m-22 2h0m-13 1h0m51 1h0m-57 1h0m-7 1h0m-7 1h0m5 4h0m28 1h0m-39 1h0m40 1h0m-27 1h0m-13 4h0m14 0h0m25 2h0m-3 1h0m-2 2h0m10 2h0m-43 2h0m43 2h0m-45 2h0m23 2h0m34 0h0m-36 3h0m26 2h0m-1 4h0m-26 6h0m-14 7h0m52 3h0m-43 6h0m42 2h0m-55 19h0m75 38h0m16-364h0m52 13h0m-12 9h0m-15 12h0m6 9h0m-4 5h0m37 9h0m-75 3h0m77 7h0m-24 3h0m9 2h0m-62 4h0m62 2h0m-5 1h0m-23 1h0m32 0h0m-32 2h0m-30 1h0m10 2h0m44 2h0m-19 2h0m30 2h0m-40 3h0m37 2h0m-31 1h0m4 1h0m19 1h0m13 2h0m-37 1h0m33 1h0m-28 2h0m29 2h0m-39 1h0m-11 1h0m55 2h0m-64 1h0m9 1h0m17 0h0m-19 1h0m-2 2h0m-7 0h0m29 2h0m-19 0h0m-8 1h0m47 1h0m6 1h0m-19 0h0m-2 2h0m-12 1h0m46 1h0m-38 0h0m26 1h0m-44 1h0m51 1h0m-15 1h0m7 1h0m-57 0h0m3 2h0m29 1h0m14 1h0m-37 1h0m17 0h0m-32 2h0m0 0h0m69 1h0m-33 1h0m-3 1h0m-6 1h0m-10 1h0m21 1h0m-12 0h0m49 1h0m-49 1h0m20 0h0m22 2h0m-36 1h0m13 0h0m-27 2h0m-14 0h0m62 1h0m-65 0h0m16 1h0m60 0h0m-48 1h0m-2 1h0m45 1h0m-28 1h0m-34 1h0m-1 0h0m-10 1h0m63 1h0m-54 1h0m63 0h0m1 1h0m-9 1h0m-46 1h0m20 1h0m1 2h0m-32 1h0m31 1h0m-23 1h0m28 1h0m-17 1h0m3 0h0m-4 1h0m-4 1h0m-9 1h0m52 1h0m-34 1h0m-15 0h0m16 1h0m46 1h0m-25 1h0m-45 2h0m8 1h0m-7 1h0m12 1h0m-11 1h0m41 1h0m-34 1h0m-12 2h0m24 1h0m-27 2h0m73 2h0m-26 1h0m-21 1h0m10 2h0m-10 2h0m-4 2h0m-17 1h0m5 2h0m-11 2h0m60 3h0m-55 3h0m57 1h0m-38 2h0m28 3h0m-46 4h0m0 7h0m45 2h0m-36 7h0m-12 4h0m0 6h0m34 4h0m32 7h0m-59 8h0m56 12h0m77-328h0m-4 24h0m-14 14h0m-12 9h0m38 2h0m-34 8h0m3 5h0m-34 2h0m49 6h0m5 2h0m7 2h0m7 3h0m-49 1h0m-4 3h0m40 1h0m-25 4h0m26 1h0m-30 2h0m26 1h0m-5 1h0m17 2h0m-62 0h0m61 1h0m-39 2h0m39 1h0m-54 1h0m35 2h0m12 2h0m-5 3h0m19 1h0m-77 1h0m68 0h0m-58 1h0m32 2h0m-8 1h0m12 1h0m-38 1h0m11 0h0m53 2h0m-15 1h0m-16 2h0m-6 0h0m10 1h0m-2 1h0m27 0h0m-44 2h0m41 1h0m5 1h0m-62 1h0m19 1h0m17 0h0m-16 1h0m45 1h0m-30 1h0m-40 1h0m54 0h0m-46 1h0m-6 1h0m-3 0h0m-1 1h0m3 1h0m59 0h0m-64 1h0m20 1h0m51 0h0m-13 1h0m8 1h0m-46 0h0m27 1h0m25 0h0m-18 2h0m23 0h0m-72 1h0m36 2h0m-6 0h0m27 1h0m-56 1h0m11 1h0m-11 0h0m30 1h0m-15 1h0m54 1h0m-35 2h0m-39 0h0m2 1h0m3 0h0m-1 1h0m40 1h0m-12 2h0m29 1h0m-29 1h0m44 0h0m-14 2h0m-6 0h0m17 1h0m-73 1h0m39 0h0m-28 1h0m23 1h0m-31 1h0m62 0h0m5 1h0m-29 1h0m-40 1h0m73 1h0m3 1h0m-7 1h0m-64 2h0m41 0h0m12 1h0m8 1h0m-24 0h0m-42 1h0m12 1h0m26 1h0m-33 1h0m63 1h0m-70 1h0m32 1h0m25 1h0m-10 1h0m-41 2h0m50 0h0m-14 2h0m-32 2h0m41 2h0m-36 1h0m29 1h0m13 1h0m-22 2h0m-23 1h0m2 2h0m25 2h0m16 1h0m-40 2h0m1 2h0m-17 2h0m8 3h0m19 2h0m-24 2h0m0 2h0m26 1h0m0 2h0m-14 2h0m-1 2h0m28 3h0m-34 3h0m60 7h0m-56 8h0m-5 5h0m-5 16h0m10 25h0m126-411h0m-15 70h0m25 20h0m-5 9h0m11 10h0m-47 5h0m53 5h0m-53 3h0m37 4h0m-46 5h0m60 3h0m-24 1h0m25 3h0m-19 3h0m-54 2h0m7 3h0m61 1h0m-12 3h0m16 2h0m-38 1h0m-8 1h0m5 2h0m31 1h0m6 2h0m-48 1h0m39 2h0m-10 1h0m-44 2h0m63 1h0m-71 1h0m38 1h0m-26 1h0m26 1h0m-26 1h0m8 0h0m18 1h0m-1 1h0m-15 1h0m23 1h0m20 1h0m5 1h0m1 2h0m-66 0h0m70 1h0m-61 1h0m62 0h0m-37 1h0m36 1h0m-78 1h0m33 1h0m37 0h0m-54 1h0m37 1h0m-30 1h0m-10 1h0m47 1h0m-44 1h0m36 1h0m-41 1h0m57 1h0m-66 0h0m66 1h0m-33 1h0m32 1h0m-59 1h0m41 1h0m-41 1h0m65 1h0m-25 1h0m-34 0h0m63 1h0m-1 2h0m-14 0h0m-10 1h0m0 1h0m6 1h0m10 1h0m-67 1h0m50 1h0m-18 0h0m32 1h0m-50 1h0m39 0h0m-12 1h0m20 1h0m-9 1h0m-47 1h0m27 1h0m-7 0h0m-2 1h0m33 1h0m-29 1h0m19 1h0m-23 1h0m-12 2h0m12 1h0m23 0h0m-46 1h0m55 1h0m20 0h0m-49 1h0m17 1h0m19 1h0m-1 1h0m10 0h0m-63 2h0m1 1h0m48 1h0m3 1h0m-2 1h0m-29 1h0m-26 1h0m69 1h0m-55 1h0m-14 1h0m46 1h0m-27 2h0m14 1h0m34 1h0m-36 2h0m32 2h0m-9 1h0m-24 1h0m-6 2h0m19 2h0m10 2h0m-39 1h0m5 2h0m-18 1h0m14 1h0m-14 2h0m3 1h0m45 1h0m3 2h0m-27 1h0m2 2h0m8 2h0m-21 3h0m-8 7h0m9 3h0m1 4h0m-19 4h0m28 3h0m-24 8h0m4 11h0m26 11h0m113-367h0m-34 54h0m35 27h0m-23 13h0m15 5h0m0 9h0m-50 3h0m37 3h0m21 4h0m-35 4h0m-24 3h0m61 1h0m4 2h0m-73 2h0m55 2h0m-18 2h0m27 2h0m-18 2h0m-20 2h0m51 2h0m-3 2h0m-7 1h0m3 2h0m-11 2h0m-19 1h0m-27 2h0m37 1h0m-10 2h0m34 1h0m-31 1h0m-33 2h0m20 1h0m29 1h0m-21 1h0m-31 2h0m44 2h0m-38 0h0m16 0h0m26 1h0m-37 1h0m0 2h0m23 2h0m-16 0h0m1 1h0m-20 2h0m11 2h0m27 0h0m-27 1h0m-6 1h0m55 1h0m-17 1h0m-49 1h0m47 1h0m-27 0h0m24 1h0m-32 1h0m63 1h0m-65 1h0m29 0h0m-32 2h0m59 1h0m-4 0h0m-60 1h0m74 1h0m-45 1h0m-5 1h0m21 0h0m-36 1h0m1 1h0m39 1h0m-49 1h0m32 0h0m3 1h0m-29 1h0m0 1h0m13 1h0m-6 1h0m40 1h0m-46 0h0m52 2h0m-40 1h0m-6 0h0m17 1h0m1 1h0m-19 2h0m-9 1h0m2 1h0m24 1h0m-22 2h0m12 2h0m-11 1h0m54 1h0m-13 2h0m-13 1h0m-14 1h0m-5 1h0m29 2h0m27 1h0m-48 1h0m-1 2h0m-17 1h0m-7 1h0m23 1h0m8 2h0m32 2h0m-50 1h0m15 3h0m-15 1h0m-10 2h0m11 1h0m16 3h0m-26 2h0m36 3h0m-38 2h0m14 1h0m-15 2h0m0 2h0m20 3h0m2 3h0m43 3h0m-69 3h0m19 6h0m-16 3h0m1 3h0m5 18h0m60 27h0m89-320h0m-22 42h0m-20 9h0m-4 6h0m10 5h0m-39 6h0m63 1h0m2 4h0m-59 6h0m12 3h0m43 3h0m-5 2h0m-23 2h0m15 1h0m20 3h0m-48 1h0m38 2h0m-44 2h0m10 1h0m11 1h0m-20 1h0m14 2h0m32 3h0m8 1h0m-7 3h0m-7 1h0m-17 1h0m-33 2h0m57 1h0m-25 0h0m27 1h0m-47 1h0m-11 1h0m18 1h0m25 1h0m-21 1h0m18 1h0m11 2h0m-7 1h0m-41 1h0m38 1h0m-16 2h0m-19 1h0m44 2h0m-18 1h0m34 1h0m-27 2h0m-17 1h0m45 3h0m-34 1h0m17 2h0m8 2h0m-55 1h0m35 1h0m-18 1h0m22 3h0m18 1h0m-48 2h0m14 2h0m4 1h0m-26 4h0m-8 1h0m53 2h0m-11 2h0m-17 3h0m-13 0h0m13 1h0m-6 2h0m-1 2h0m-5 2h0m-18 1h0m35 3h0m-29 3h0m6 4h0m13 4h0m38 6h0m-64 7h0m53 7h0m-40 5h0m21 9h0m33 10h0m-30 49h0m88-290h0m-7 15h0m31 12h0m-57 6h0m6 3h0m30 5h0m-10 3h0m4 4h0m18 1h0m-57 4h0m12 1h0m43 3h0m-45 3h0m14 2h0m37 4h0m-29 3h0m-8 3h0m19 3h0m-21 3h0m44 3h0m-36 2h0m-16 4h0m27 2h0m23 3h0m-35 3h0m47 1h0m-20 2h0m-33 2h0m-10 3h0m58 3h0m-26 5h0m-47 2h0m25 4h0m12 7h0m23 4h0m-53 6h0m0 4h0m1 7h0m56 16h0m-47 21h0m38 16h0m82-263h0m-10 51h0m-13 12h0m-19 11h0m28 9h0m-36 3h0m0 13h0m41 15h0m-41 19h0m-2 20h0m-401 179h0m106 245h0" stroke="#4A77FB" stroke-opacity="0.6" stroke-width="7.2" stroke-linecap="round" fill="none"/>
<path transform="scale(.5)" d="M1313 4500h0m-4 15h0m-4 8h0m-10 4h0m13 4h0m1 4h0m9 4h0m-9 6h0m4 2h0m-22 3h0m-2 1h0m24 2h0m0 1h0m-26 1h0m26 1h0m0 2h0m0 1h0m0 0h0m-9 2h0m9 2h0m0 1h0m-26 1h0m26 2h0m0 0h0m-26 1h0m0 1h0m0 1h0m16 2h0m-16 2h0m0 1h0m7 2h0m1 2h0m15 2h0m-23 1h0m1 1h0m-1 1h0m12 3h0m14 3h0m-2 2h0m2 2h0m-26 2h0m26 1h0m-11 2h0m-15 2h0m26 3h0m0 1h0m-5 4h0m5 3h0m-1 2h0m-24 3h0m-1 2h0m0 1h0m26 5h0m-16 2h0m13 3h0m3 4h0m-17 4h0m17 4h0m-26 5h0m8 15h0m18 7h0m-19 9h0m19 12h0m-5 5h0m70-298h0m-6 15h0m16 17h0m-17 14h0m20 4h0m-12 11h0m17 6h0m-2 6h0m-40 3h0m45 4h0m-20 2h0m11 4h0m-7 2h0m9 2h0m-4 2h0m-20 1h0m-14 0h0m42 1h0m0 1h0m-10 2h0m-51 1h0m47 1h0m-15 1h0m-14 2h0m17 0h0m27 1h0m-18 1h0m-6 2h0m12 1h0m-20 0h0m-3 1h0m8 1h0m9 1h0m-6 1h0m-19 1h0m23 1h0m17 2h0m-16 1h0m-29 1h0m5 1h0m-4 0h0m-15 1h0m14 1h0m2 0h0m22 1h0m-19 1h0m38 1h0m-57 1h0m15 1h0m-15 0h0m55 1h0m-37 1h0m-18 1h0m54 1h0m-48 1h0m-6 0h0m0 2h0m0 0h0m33 2h0m-11 1h0m-22 0h0m12 1h0m49 0h0m-36 1h0m-25 1h0m19 0h0m26 2h0m-45 1h0m19 0h0m9 1h0m-28 1h0m44 0h0m-44 1h0m41 1h0m-20 0h0m20 1h0m-8 1h0m-33 0h0m37 1h0m15 0h0m-56 1h0m62 1h0m-58 1h0m0 0h0m7 1h0m-19 1h0m12 0h0m0 1h0m0 1h0m0 0h0m17 1h0m24 1h0m10 1h0m-59 0h0m25 1h0m9 0h0m-8 1h0m-32 1h0m35 0h0m-21 1h0m64 1h0m-17 1h0m-47 1h0m0 1h0m-3 1h0m29 2h0m-41 2h0m15 1h0m22 2h0m-22 1h0m59 2h0m-32 1h0m-27 1h0m51 1h0m-6 1h0m7 1h0m-4 2h0m-48 1h0m24 0h0m-24 1h0m0 2h0m31 2h0m-31 3h0m58 1h0m-41 2h0m31 2h0m-29 1h0m41 1h0m-41 2h0m-26 2h0m7 2h0m38 3h0m-22 3h0m46 3h0m-19 4h0m12 7h0m-64 2h0m9 6h0m60 2h0m-60 11h0m13 8h0m21 7h0m-15 5h0m-21 4h0m144-401h0m-32 75h0m-12 19h0m-13 10h0m26 6h0m8 7h0m-45 9h0m21 3h0m30 2h0m-41 3h0m33 3h0m19 4h0m-1 6h0m-21 3h0m3 2h0m5 2h0m7 2h0m-31 0h0m45 2h0m-9 2h0m-31 2h0m24 2h0m-29 1h0m22 1h0m-55 1h0m41 2h0m32 1h0m-6 2h0m-55 2h0m9 1h0m37 1h0m-43 1h0m44 1h0m18 2h0m-19 1h0m-23 2h0m-2 1h0m37 2h0m-37 1h0m-8 2h0m-25 1h0m31 1h0m-27 1h0m10 1h0m8 1h0m38 1h0m-38 1h0m-3 0h0m21 1h0m-24 0h0m-7 1h0m7 1h0m60 0h0m-23 1h0m14 1h0m-49 1h0m-13 1h0m39 1h0m-27 0h0m28 1h0m-33 1h0m53 1h0m-38 1h0m43 1h0m7 2h0m-32 0h0m2 1h0m-5 0h0m-13 1h0m21 1h0m25 1h0m-44 0h0m-2 1h0m13 2h0m-11 0h0m-9 1h0m41 1h0m-45 1h0m39 2h0m19 0h0m-56 1h0m55 1h0m-37 1h0m-12 0h0m23 1h0m21 2h0m-39 1h0m35 1h0m-65 2h0m15 0h0m-6 1h0m0 1h0m15 1h0m-12 1h0m29 1h0m24 0h0m-22 2h0m-17 1h0m14 1h0m-24 1h0m-3 1h0m44 1h0m17 1h0m-64 1h0m7 1h0m20 0h0m-15 2h0m36 2h0m-41 1h0m55 2h0m-2 1h0m-47 1h0m-15 0h0m14 1h0m-6 1h0m5 1h0m-12 1h0m-1 1h0m23 2h0m14 2h0m-17 3h0m-19 1h0m67 1h0m-45 1h0m-19 1h0m-7 3h0m-5 1h0m3 2h0m2 4h0m-3 3h0m2 4h0m64 2h0m-63 1h0m41 5h0m7 1h0m4 4h0m-29 5h0m-5 3h0m54 7h0m-71 4h0m54 7h0m-44 18h0m-11 14h0m148-349h0m-13 32h0m-50 15h0m19 5h0m26 6h0m16 4h0m6 4h0m-29 2h0m23 4h0m-23 2h0m-6 3h0m0 4h0m-13 5h0m2 3h0m18 2h0m-21 2h0m44 0h0m-20 1h0m-18 3h0m7 1h0m13 1h0m-16 3h0m-12 1h0m11 2h0m1 1h0m-6 1h0m28 1h0m1 2h0m14 1h0m-47 2h0m32 1h0m8 2h0m-43 1h0m18 1h0m-35 1h0m38 1h0m13 1h0m-48 0h0m39 1h0m-11 1h0m39 0h0m-33 1h0m-8 0h0m33 1h0m-6 0h0m-3 1h0m-28 2h0m28 1h0m10 1h0m-6 0h0m-15 2h0m11 0h0m5 2h0m-35 1h0m-7 1h0m36 1h0m8 2h0m-48 1h0m18 2h0m-21 0h0m41 1h0m-10 1h0m6 1h0m-10 0h0m-42 1h0m32 1h0m13 0h0m-16 1h0m48 1h0m-19 0h0m-7 1h0m0 1h0m-51 1h0m57 0h0m-35 1h0m-10 1h0m-11 1h0m69 2h0m-53 1h0m-4 1h0m52 1h0m-59 1h0m-6 1h0m34 1h0m3 0h0m40 1h0m-15 1h0m-9 1h0m-43 0h0m3 1h0m10 1h0m-6 1h0m57 1h0m-71 1h0m4 1h0m11 1h0m8 1h0m38 1h0m6 1h0m-36 1h0m8 1h0m-13 1h0m3 0h0m-21 1h0m-3 2h0m59 2h0m-69 0h0m42 1h0m-18 0h0m-13 2h0m22 1h0m36 1h0m-6 3h0m-51 1h0m-11 1h0m12 1h0m10 1h0m-1 1h0m-4 2h0m3 3h0m10 1h0m25 1h0m-52 1h0m69 1h0m-37 4h0m12 1h0m-4 1h0m32 2h0m-55 1h0m33 3h0m-41 2h0m37 2h0m-32 1h0m-13 2h0m19 1h0m45 2h0m-64 2h0m0 5h0m-2 9h0m23 3h0m9 3h0m18 6h0m-37 3h0m46 19h0m13 42h0m42-368h0m32 14h0m9 8h0m-44 11h0m-6 9h0m28 11h0m-11 4h0m26 3h0m-17 6h0m-12 4h0m29 1h0m-67 4h0m44 2h0m19 1h0m10 1h0m-12 1h0m-52 1h0m21 1h0m38 2h0m5 2h0m-51 2h0m-18 2h0m-6 3h0m11 2h0m60 1h0m-10 1h0m-31 2h0m-1 1h0m40 1h0m-53 1h0m41 2h0m0 2h0m-55 1h0m38 1h0m17 2h0m12 1h0m-67 1h0m47 0h0m-30 1h0m30 2h0m7 1h0m-16 1h0m19 0h0m-12 1h0m-47 1h0m-2 1h0m64 1h0m-5 1h0m-26 1h0m12 1h0m-30 0h0m59 1h0m0 1h0m1 1h0m-15 1h0m-29 1h0m41 1h0m-21 1h0m-26 1h0m-12 1h0m36 1h0m-27 0h0m-3 2h0m54 1h0m-3 0h0m3 2h0m-64 0h0m7 1h0m-12 1h0m70 1h0m-41 0h0m-16 2h0m16 0h0m-2 1h0m29 1h0m-38 1h0m-22 1h0m18 1h0m43 1h0m-50 0h0m10 1h0m52 0h0m-4 0h0m4 1h0m-45 1h0m-28 1h0m36 1h0m-13 1h0m-13 0h0m-10 1h0m45 1h0m-42 1h0m43 0h0m1 1h0m-14 1h0m-14 1h0m-17 1h0m8 2h0m-4 1h0m41 1h0m28 1h0m-53 1h0m54 1h0m-69 0h0m34 1h0m-12 1h0m-27 1h0m11 1h0m15 1h0m3 1h0m-28 0h0m6 1h0m43 1h0m-27 2h0m32 1h0m-52 1h0m13 1h0m-15 1h0m37 1h0m-12 2h0m-11 1h0m4 1h0m55 3h0m-47 1h0m35 1h0m8 1h0m-67 2h0m56 2h0m-50 2h0m15 2h0m6 1h0m31 2h0m-37 4h0m-17 2h0m-9 2h0m46 2h0m20 3h0m-43 3h0m-5 7h0m-13 4h0m15 6h0m20 4h0m-12 5h0m-21 4h0m9 8h0m-13 7h0m14 31h0m115-346h0m11 26h0m2 12h0m-21 8h0m-9 2h0m-20 9h0m27 5h0m-19 1h0m48 6h0m-35 2h0m-37 2h0m6 3h0m44 1h0m28 3h0m-64 2h0m21 3h0m-20 1h0m35 2h0m-4 1h0m2 1h0m13 2h0m-23 1h0m-32 1h0m59 1h0m0 1h0m-17 2h0m-32 2h0m37 2h0m-25 2h0m20 1h0m1 1h0m-8 0h0m13 2h0m14 1h0m-41 1h0m46 1h0m-49 1h0m40 0h0m0 2h0m16 1h0m-58 2h0m10 0h0m-6 1h0m7 1h0m-4 1h0m18 1h0m-11 1h0m14 1h0m-9 1h0m-18 1h0m-11 1h0m-2 0h0m17 1h0m-21 1h0m16 1h0m33 1h0m-55 0h0m36 1h0m44 0h0m-23 1h0m-11 1h0m21 0h0m-61 1h0m31 1h0m-8 1h0m10 0h0m-35 1h0m46 0h0m-25 1h0m38 1h0m-7 1h0m-24 0h0m-30 2h0m-1 1h0m29 1h0m-3 0h0m3 1h0m-9 1h0m36 0h0m9 1h0m-54 1h0m62 1h0m-31 2h0m-40 0h0m26 1h0m19 0h0m-12 1h0m-25 2h0m56 1h0m-4 1h0m-56 1h0m8 1h0m29 1h0m-43 0h0m8 1h0m-5 1h0m11 0h0m-11 1h0m32 1h0m27 1h0m-22 0h0m-3 1h0m6 1h0m-9 1h0m27 1h0m-47 1h0m25 1h0m-3 2h0m-7 1h0m-28 0h0m49 1h0m-6 0h0m-26 1h0m-10 1h0m1 1h0m10 1h0m-18 1h0m20 2h0m-3 0h0m36 1h0m-20 2h0m-5 1h0m-2 1h0m26 1h0m-30 2h0m-10 2h0m17 2h0m-12 0h0m-5 2h0m2 1h0m53 2h0m-45 1h0m-17 2h0m9 1h0m-10 3h0m47 1h0m22 3h0m-11 3h0m-45 1h0m39 2h0m-25 2h0m-9 2h0m39 1h0m-57 2h0m19 2h0m15 3h0m-10 5h0m-22 6h0m14 8h0m-7 5h0m6 16h0m31 26h0m69-384h0m-2 41h0m-28 21h0m63 8h0m2 11h0m-13 5h0m-39 5h0m41 2h0m14 6h0m-53 3h0m24 3h0m23 2h0m-50 3h0m22 2h0m-1 2h0m-28 3h0m12 2h0m-1 2h0m-1 2h0m52 1h0m-30 2h0m-2 2h0m17 0h0m11 2h0m-2 1h0m-38 2h0m23 1h0m-53 2h0m21 1h0m43 1h0m-14 1h0m-49 1h0m36 1h0m6 1h0m31 0h0m-29 1h0m17 1h0m-40 1h0m23 1h0m-43 1h0m69 1h0m-1 2h0m-30 1h0m-7 0h0m37 1h0m-1 0h0m-12 1h0m8 1h0m-2 1h0m-43 1h0m10 1h0m-13 0h0m15 1h0m8 1h0m9 1h0m-24 1h0m42 1h0m-34 1h0m-8 1h0m23 1h0m-10 0h0m6 2h0m-35 0h0m36 1h0m10 1h0m-6 1h0m-25 1h0m23 1h0m22 1h0m-44 1h0m-6 0h0m-21 2h0m59 0h0m-32 1h0m21 1h0m16 1h0m-33 1h0m21 1h0m15 1h0m-65 0h0m74 1h0m-62 1h0m25 0h0m9 1h0m-6 1h0m-8 1h0m31 1h0m-15 1h0m-21 1h0m17 0h0m-1 1h0m2 1h0m-46 1h0m33 2h0m11 1h0m13 1h0m-36 0h0m18 1h0m-30 1h0m17 0h0m23 1h0m-38 2h0m38 0h0m18 1h0m-12 0h0m-42 2h0m58 2h0m-66 0h0m4 1h0m-2 1h0m10 1h0m-4 1h0m31 1h0m-30 1h0m0 1h0m39 2h0m-25 1h0m34 1h0m-19 2h0m-42 1h0m52 2h0m-48 1h0m5 2h0m11 2h0m-22 2h0m68 1h0m-39 1h0m-6 2h0m-24 1h0m52 1h0m20 2h0m-67 1h0m10 1h0m-4 2h0m-11 1h0m9 2h0m3 3h0m13 5h0m-9 5h0m5 2h0m-12 4h0m34 4h0m-35 4h0m-1 10h0m-4 12h0m8 8h0m129-361h0m16 55h0m-31 23h0m-3 9h0m-1 8h0m0 6h0m12 4h0m-36 2h0m-4 5h0m36 4h0m9 2h0m9 1h0m-41 2h0m51 2h0m-12 2h0m-53 2h0m8 2h0m20 2h0m-17 2h0m11 2h0m33 2h0m-12 2h0m-15 1h0m-30 3h0m59 1h0m7 1h0m-19 1h0m16 2h0m-32 1h0m-24 1h0m36 2h0m-15 1h0m-12 1h0m-24 1h0m49 2h0m5 2h0m-53 0h0m49 0h0m-34 1h0m22 1h0m-1 2h0m11 2h0m-26 1h0m17 1h0m-3 1h0m-33 2h0m9 0h0m-4 1h0m8 2h0m55 0h0m-43 1h0m12 1h0m-20 1h0m44 0h0m-3 1h0m-55 1h0m49 1h0m-25 1h0m17 1h0m29 1h0m-55 1h0m-14 1h0m63 1h0m-43 0h0m-29 1h0m57 1h0m19 0h0m-75 1h0m7 1h0m-8 1h0m71 1h0m-69 0h0m30 1h0m10 2h0m7 0h0m-23 1h0m-7 1h0m12 1h0m29 1h0m-33 1h0m-11 1h0m25 0h0m-24 2h0m-16 1h0m6 1h0m54 1h0m-45 1h0m23 1h0m-7 2h0m36 2h0m-21 1h0m-6 1h0m-11 2h0m-12 1h0m-6 1h0m34 1h0m23 2h0m-17 2h0m-14 1h0m25 1h0m-54 1h0m55 1h0m-41 2h0m43 1h0m-63 2h0m0 1h0m58 3h0m-40 1h0m0 2h0m-8 1h0m-9 3h0m9 2h0m6 3h0m34 2h0m-33 2h0m-3 1h0m26 3h0m-38 3h0m58 2h0m-44 4h0m6 3h0m-19 6h0m2 2h0m1 5h0m-3 17h0m51 35h0m78-304h0m-4 17h0m1 10h0m13 5h0m1 7h0m-66 4h0m19 1h0m30 5h0m17 5h0m-31 4h0m40 2h0m-17 2h0m17 2h0m-34 1h0m27 3h0m-47 1h0m-5 3h0m13 1h0m24 2h0m23 0h0m-13 1h0m-55 3h0m12 2h0m23 2h0m18 2h0m-41 1h0m-8 2h0m8 1h0m3 1h0m35 0h0m-6 1h0m-35 1h0m9 1h0m3 1h0m21 1h0m-2 2h0m-16 1h0m22 2h0m-35 0h0m24 1h0m0 1h0m-33 2h0m9 1h0m5 2h0m19 1h0m-7 1h0m-26 2h0m16 1h0m42 3h0m-19 2h0m-11 1h0m-19 3h0m17 0h0m-32 2h0m30 1h0m-7 2h0m0 2h0m-13 2h0m-5 1h0m42 3h0m-27 2h0m54 2h0m-69 2h0m-3 1h0m12 3h0m3 0h0m47 1h0m-20 3h0m28 2h0m-13 1h0m-48 1h0m-10 3h0m17 4h0m57 4h0m-26 3h0m-42 7h0m55 6h0m-49 7h0m-4 7h0m-10 10h0m27 15h0m121-273h0m-19 27h0m8 12h0m-40 13h0m26 6h0m-32 3h0m0 4h0m-12 3h0m65 4h0m-55 2h0m19 3h0m-13 2h0m41 2h0m3 4h0m6 2h0m0 4h0m-46 2h0m18 3h0m15 3h0m-1 4h0m-54 2h0m77 2h0m-54 5h0m18 2h0m-19 3h0m-21 2h0m11 1h0m13 3h0m-6 2h0m-1 3h0m-1 4h0m-10 3h0m18 3h0m52 4h0m-46 7h0m-25 6h0m12 3h0m6 5h0m-17 6h0m7 18h0m12 22h0m22 19h0m48-249h0m22 32h0m-15 12h0m-3 10h0m-5 10h0m11 2h0m4 16h0m-26 13h0m-1 21h0m33 29h0m-452 286h0m251-263h0" stroke="#4A77FB" stroke-opacity="0.6" stroke-width="7.2" stroke-linecap="round" fill="none"/>
<path transform="scale(.5)" d="M1313 4519h0m0 24h0m0 5h0m-4 9h0m4 4h0m0 3h0m0 2h0m0 1h0m0 1h0m0 3h0m-26 2h0m26 2h0m0 2h0m0 1h0m-26 1h0m17 3h0m7 2h0m7 1h0m-5 1h0m-11 2h0m11 1h0m-26 1h0m28 1h0m-2 1h0m-26 1h0m4 1h0m22 2h0m-26 0h0m18 1h0m-6 2h0m4 1h0m10 1h0m-26 1h0m0 2h0m26 2h0m-26 1h0m26 1h0m-21 4h0m-5 1h0m0 2h0m0 4h0m26 2h0m0 3h0m-26 3h0m0 2h0m20 2h0m6 3h0m0 2h0m-20 4h0m-6 1h0m0 2h0m24 1h0m-17 2h0m7 5h0m-14 3h0m26 5h0m4 5h0m-4 5h0m0 6h0m0 11h0m-26 4h0m26 7h0m0 8h0m0 14h0m-17 11h0m70-301h0m18 39h0m-10 9h0m12 7h0m-29 5h0m39 3h0m-4 4h0m-21 3h0m15 3h0m-16 0h0m24 1h0m-40 3h0m16 1h0m25 3h0m-19 2h0m-9 2h0m-11 1h0m-21 1h0m35 3h0m20 1h0m8 1h0m-12 2h0m1 2h0m-33 2h0m12 1h0m-3 2h0m-28 1h0m37 1h0m5 1h0m-42 0h0m48 0h0m-48 2h0m19 1h0m-5 1h0m-14 2h0m19 0h0m13 1h0m24 2h0m-2 0h0m-15 1h0m-37 1h0m44 1h0m7 2h0m-12 0h0m22 2h0m-22 0h0m4 1h0m-15 1h0m-20 0h0m11 1h0m-15 0h0m19 1h0m13 1h0m2 1h0m9 0h0m-17 1h0m-11 0h0m-10 1h0m23 0h0m-22 1h0m8 1h0m15 0h0m-16 1h0m5 0h0m25 0h0m-13 2h0m-42 0h0m23 1h0m-17 1h0m0 0h0m24 1h0m-36 0h0m6 1h0m6 1h0m-9 1h0m74 1h0m-65 1h0m46 1h0m-44 1h0m48 0h0m-50 1h0m32 1h0m-32 1h0m53 1h0m-33 0h0m19 1h0m-42 0h0m3 1h0m0 0h0m16 1h0m-16 1h0m0 1h0m27 1h0m-8 1h0m38 1h0m-30 1h0m-37 1h0m55 1h0m-45 2h0m19 1h0m31 2h0m-3 1h0m-47 1h0m65 2h0m-79 2h0m14 1h0m61 2h0m-61 1h0m16 0h0m25 2h0m14 2h0m-50 2h0m-5 1h0m0 1h0m-1 0h0m45 2h0m-44 1h0m24 2h0m-9 1h0m-15 3h0m33 1h0m-23 2h0m28 2h0m-31 1h0m53 3h0m-56 1h0m-15 1h0m31 3h0m-20 1h0m16 3h0m-16 3h0m19 2h0m44 3h0m-21 1h0m-40 3h0m48 6h0m-50 4h0m45 5h0m9 9h0m-24 8h0m-26 9h0m1 10h0m-17 8h0m103-348h0m48 22h0m-31 27h0m17 8h0m-13 7h0m10 3h0m-12 1h0m8 3h0m-18 4h0m33 1h0m0 2h0m6 1h0m-72 1h0m33 4h0m-17 3h0m29 2h0m15 3h0m-9 2h0m-13 2h0m36 0h0m-57 2h0m59 3h0m-32 1h0m5 2h0m-6 1h0m-36 1h0m35 2h0m13 1h0m-2 1h0m-39 0h0m61 2h0m-23 1h0m-18 0h0m35 1h0m-26 0h0m5 1h0m19 1h0m-22 1h0m-4 2h0m18 2h0m-24 0h0m21 1h0m-1 1h0m5 1h0m-45 0h0m-12 1h0m63 1h0m-21 1h0m-39 0h0m47 1h0m5 1h0m-19 1h0m9 1h0m20 1h0m-11 1h0m-35 1h0m22 1h0m13 1h0m-36 0h0m6 1h0m32 1h0m-45 1h0m61 1h0m-35 1h0m-33 1h0m47 1h0m17 1h0m-33 1h0m1 1h0m2 2h0m-30 1h0m-6 2h0m65 0h0m-11 1h0m13 1h0m-65 2h0m69 0h0m-37 1h0m2 1h0m-2 1h0m9 1h0m17 2h0m-38 0h0m-23 1h0m18 2h0m28 2h0m4 0h0m-39 1h0m43 1h0m-11 1h0m8 0h0m-48 1h0m25 1h0m-5 2h0m4 0h0m-2 1h0m-13 0h0m3 0h0m-8 1h0m28 1h0m27 1h0m-30 1h0m-2 1h0m-2 1h0m38 1h0m-11 0h0m15 1h0m-34 1h0m-31 1h0m28 1h0m38 1h0m-43 1h0m-16 1h0m17 2h0m27 1h0m-14 1h0m-44 2h0m7 2h0m43 2h0m-9 1h0m-40 1h0m28 2h0m-32 2h0m24 3h0m-6 2h0m34 1h0m-42 3h0m12 2h0m23 1h0m-7 2h0m-31 2h0m-5 2h0m48 3h0m-27 4h0m50 6h0m-60 5h0m-6 4h0m46 4h0m-52 7h0m7 7h0m23 10h0m-15 18h0m42 19h0m51-371h0m38 28h0m-27 5h0m29 9h0m-45 8h0m50 5h0m1 4h0m3 5h0m-31 5h0m9 2h0m-30 4h0m46 3h0m-5 4h0m0 5h0m0 2h0m-41 2h0m-4 2h0m-16 3h0m61 1h0m-19 1h0m8 3h0m13 3h0m-33 3h0m-20 2h0m2 2h0m60 1h0m-7 2h0m-33 1h0m-22 1h0m46 2h0m4 2h0m-22 1h0m-29 1h0m6 1h0m12 1h0m-19 2h0m30 1h0m24 1h0m-52 0h0m14 2h0m28 1h0m-16 0h0m34 1h0m-42 1h0m-27 1h0m64 1h0m-32 1h0m39 0h0m-30 1h0m-34 1h0m63 1h0m-78 1h0m19 1h0m3 1h0m24 1h0m29 1h0m0 1h0m-5 1h0m-19 2h0m-13 1h0m31 1h0m-9 1h0m-9 0h0m-35 1h0m61 1h0m-26 0h0m-8 2h0m29 0h0m-65 1h0m-4 1h0m50 1h0m17 1h0m-33 0h0m7 1h0m27 1h0m-65 1h0m26 1h0m2 1h0m-18 1h0m40 2h0m-36 0h0m27 1h0m32 0h0m-12 2h0m-4 1h0m12 0h0m-27 1h0m-3 1h0m7 1h0m-44 1h0m-4 1h0m49 1h0m1 0h0m-38 1h0m62 2h0m-24 0h0m14 1h0m-50 1h0m53 2h0m-53 1h0m10 0h0m44 1h0m-33 1h0m25 1h0m-40 2h0m23 1h0m-42 1h0m59 1h0m-4 2h0m-42 1h0m-1 1h0m52 2h0m-62 2h0m-5 1h0m40 1h0m8 2h0m-21 1h0m15 1h0m-8 1h0m-2 2h0m30 2h0m-45 2h0m11 4h0m-16 3h0m12 1h0m-25 3h0m17 2h0m52 2h0m-46 2h0m-9 2h0m46 5h0m-28 7h0m-18 3h0m-8 4h0m11 4h0m59 10h0m-66 7h0m2 26h0m121-378h0m-11 47h0m20 20h0m-7 11h0m-41 6h0m39 6h0m25 6h0m-27 5h0m14 4h0m-12 3h0m19 3h0m-14 4h0m-37 1h0m36 2h0m-15 2h0m17 1h0m15 3h0m-31 1h0m31 3h0m-71 1h0m72 3h0m-5 1h0m-52 2h0m-14 1h0m52 2h0m7 1h0m-27 3h0m-27 1h0m59 2h0m-6 2h0m-38 1h0m30 1h0m-28 0h0m-22 1h0m41 1h0m32 1h0m-4 1h0m3 1h0m-43 1h0m18 1h0m18 1h0m-25 2h0m31 0h0m-18 1h0m-25 1h0m11 1h0m-16 1h0m19 1h0m-24 0h0m43 1h0m-23 2h0m29 0h0m0 1h0m-63 1h0m67 1h0m-14 0h0m-16 1h0m-6 1h0m-2 1h0m12 1h0m1 0h0m5 1h0m0 1h0m-2 1h0m25 1h0m-25 1h0m15 1h0m-48 0h0m-5 1h0m13 1h0m-24 1h0m1 1h0m46 1h0m2 0h0m6 2h0m-21 1h0m-26 1h0m30 0h0m-28 1h0m52 1h0m-59 1h0m-8 1h0m41 0h0m-39 1h0m65 1h0m-15 1h0m26 0h0m-14 2h0m-50 1h0m46 0h0m17 1h0m-24 1h0m-43 1h0m61 2h0m-46 1h0m-3 1h0m-11 1h0m-5 0h0m53 1h0m6 1h0m-33 1h0m5 0h0m-35 2h0m5 0h0m61 1h0m-2 1h0m-52 1h0m-3 1h0m-4 1h0m62 1h0m-63 2h0m19 1h0m10 1h0m-10 2h0m5 1h0m20 1h0m-44 2h0m6 0h0m-6 2h0m6 1h0m32 1h0m-28 2h0m-15 2h0m20 1h0m24 3h0m-35 3h0m31 1h0m-36 4h0m49 2h0m-20 2h0m-30 3h0m4 2h0m34 2h0m-29 2h0m-12 2h0m12 4h0m-10 3h0m54 3h0m-41 3h0m6 5h0m4 2h0m-2 5h0m36 5h0m-41 6h0m14 16h0m-4 69h0m82-402h0m-26 33h0m72 9h0m-48 15h0m35 1h0m13 10h0m-54 5h0m11 2h0m27 6h0m-26 2h0m41 4h0m-20 1h0m-9 2h0m21 1h0m-5 1h0m13 3h0m-54 1h0m21 1h0m-11 2h0m36 1h0m-60 3h0m63 2h0m-71 1h0m80 2h0m-17 1h0m-2 1h0m-25 2h0m-1 1h0m33 0h0m-3 1h0m-63 2h0m57 2h0m-8 1h0m-33 0h0m60 2h0m-65 0h0m-4 1h0m28 1h0m7 1h0m-34 0h0m53 1h0m7 2h0m-5 1h0m-46 1h0m48 0h0m-51 1h0m30 1h0m3 1h0m-2 1h0m29 0h0m-61 1h0m8 2h0m32 0h0m-20 1h0m-9 0h0m23 1h0m13 0h0m-31 2h0m-1 0h0m33 1h0m-13 1h0m-23 1h0m-19 0h0m55 1h0m-62 0h0m-1 1h0m49 1h0m7 1h0m-55 1h0m34 1h0m30 1h0m-57 0h0m20 1h0m-21 1h0m34 1h0m16 0h0m-26 2h0m-24 1h0m56 1h0m15 1h0m-4 1h0m-65 1h0m26 1h0m19 1h0m-20 2h0m38 0h0m-68 1h0m5 2h0m39 0h0m17 1h0m-36 1h0m29 1h0m13 1h0m-57 1h0m51 1h0m-20 0h0m-35 1h0m34 1h0m-39 1h0m25 1h0m-17 1h0m4 1h0m48 1h0m-27 1h0m3 2h0m15 0h0m22 1h0m-47 1h0m29 1h0m-21 1h0m-30 1h0m33 1h0m23 1h0m-34 1h0m15 1h0m28 1h0m-19 2h0m-16 1h0m10 2h0m-21 1h0m-27 2h0m24 1h0m2 1h0m-9 1h0m-4 2h0m59 1h0m-15 2h0m-46 1h0m21 2h0m-30 3h0m22 2h0m-23 3h0m12 1h0m-12 2h0m6 3h0m38 3h0m-30 2h0m3 2h0m0 1h0m3 4h0m-21 7h0m39 8h0m-15 7h0m-21 15h0m35 79h0m55-403h0m58 14h0m5 18h0m-32 11h0m8 5h0m13 3h0m-20 5h0m-25 5h0m39 4h0m18 5h0m-6 2h0m-12 2h0m12 4h0m5 2h0m-2 2h0m-14 1h0m-7 2h0m13 2h0m2 1h0m4 0h0m-61 2h0m50 2h0m12 2h0m-2 1h0m-5 1h0m6 1h0m2 1h0m-7 2h0m5 3h0m-53 0h0m0 2h0m49 1h0m-39 1h0m29 1h0m-5 3h0m-25 1h0m35 1h0m-20 0h0m5 2h0m17 1h0m-27 1h0m-9 1h0m-12 1h0m8 1h0m10 0h0m-4 1h0m44 1h0m-58 2h0m30 0h0m26 0h0m-17 2h0m-13 0h0m30 2h0m-27 2h0m8 0h0m5 1h0m-10 1h0m7 0h0m-33 1h0m2 1h0m-6 0h0m58 1h0m-47 1h0m16 1h0m7 1h0m-51 1h0m65 1h0m-6 0h0m-17 2h0m-3 0h0m25 1h0m-35 1h0m25 0h0m-53 1h0m-4 1h0m30 1h0m25 1h0m-38 1h0m35 1h0m18 1h0m-32 0h0m22 1h0m-34 1h0m32 1h0m-31 0h0m-9 1h0m17 1h0m-10 1h0m-17 1h0m-2 1h0m24 1h0m-16 0h0m3 2h0m9 0h0m48 1h0m-59 1h0m40 2h0m-17 1h0m38 1h0m-27 1h0m-33 0h0m0 1h0m21 1h0m-33 1h0m12 1h0m53 1h0m-25 1h0m-37 1h0m0 1h0m1 1h0m19 0h0m14 1h0m1 1h0m-4 1h0m-22 1h0m-2 1h0m63 1h0m-54 0h0m-15 1h0m51 2h0m-17 0h0m-24 2h0m7 1h0m-11 2h0m36 1h0m-6 2h0m-41 2h0m13 2h0m4 2h0m-14 2h0m-5 2h0m6 0h0m47 1h0m-41 2h0m34 3h0m-19 1h0m-7 3h0m-14 4h0m19 4h0m13 2h0m-38 2h0m23 5h0m-3 5h0m-6 12h0m7 11h0m36 10h0m-16 15h0m49-350h0m31 43h0m5 14h0m23 9h0m-37 6h0m-24 6h0m66 1h0m-1 2h0m-41 4h0m38 4h0m4 1h0m-12 2h0m12 2h0m3 4h0m-21 3h0m-40 3h0m50 3h0m-19 1h0m16 2h0m-29 3h0m24 1h0m-6 1h0m-39 1h0m40 1h0m-3 1h0m-46 1h0m8 1h0m2 1h0m29 1h0m-19 1h0m33 1h0m4 1h0m-54 1h0m37 2h0m16 0h0m-40 1h0m38 3h0m-45 1h0m65 1h0m-21 0h0m-28 1h0m27 0h0m12 1h0m-61 1h0m45 2h0m-17 1h0m14 1h0m11 1h0m-29 0h0m-31 1h0m77 1h0m-36 1h0m-18 1h0m21 1h0m-8 1h0m38 1h0m-5 1h0m6 1h0m-46 0h0m-12 1h0m53 1h0m-8 1h0m8 1h0m-61 1h0m29 2h0m28 0h0m7 1h0m-64 1h0m30 1h0m-25 1h0m11 1h0m-7 1h0m1 0h0m59 0h0m-61 1h0m15 1h0m9 1h0m-14 2h0m25 1h0m7 1h0m-2 1h0m-15 1h0m-35 1h0m30 1h0m-18 0h0m-2 1h0m37 1h0m0 0h0m-28 1h0m-17 1h0m4 1h0m-14 1h0m31 1h0m17 1h0m11 1h0m-51 0h0m24 1h0m-8 2h0m28 1h0m-29 1h0m2 1h0m-1 1h0m-11 1h0m-11 1h0m15 1h0m33 1h0m-20 1h0m-19 2h0m56 1h0m-50 0h0m52 1h0m-25 1h0m-3 2h0m12 1h0m12 1h0m-15 2h0m19 1h0m-11 1h0m-31 2h0m42 1h0m-8 2h0m15 3h0m-61 3h0m34 3h0m13 2h0m-48 2h0m56 6h0m-63 1h0m9 6h0m-1 5h0m-2 4h0m-6 6h0m4 2h0m19 5h0m-5 11h0m-15 54h0m79-341h0m56 17h0m-35 11h0m-13 9h0m48 10h0m-16 7h0m11 8h0m-20 2h0m-9 1h0m-17 3h0m27 2h0m-4 4h0m28 3h0m-12 5h0m-27 1h0m30 3h0m-27 1h0m35 1h0m-62 1h0m39 2h0m-29 2h0m52 1h0m-21 1h0m28 2h0m-35 1h0m7 2h0m-8 2h0m-14 1h0m15 1h0m15 2h0m-15 0h0m-3 2h0m13 3h0m-21 1h0m34 2h0m17 1h0m-44 1h0m-18 1h0m33 2h0m8 3h0m-11 1h0m-26 1h0m52 0h0m-45 2h0m18 1h0m-2 2h0m-33 1h0m18 1h0m-9 2h0m48 2h0m-54 2h0m-1 1h0m-5 2h0m37 1h0m-26 1h0m8 1h0m23 1h0m-16 1h0m44 1h0m-74 2h0m51 2h0m-50 3h0m40 3h0m-8 2h0m-9 0h0m-12 3h0m16 1h0m13 2h0m-22 3h0m42 1h0m-28 3h0m-21 2h0m-9 2h0m72 4h0m-74 2h0m41 2h0m-39 7h0m53 4h0m-32 5h0m-18 7h0m31 3h0m-16 5h0m12 15h0m8 22h0m110-278h0m-17 9h0m4 24h0m-44 8h0m44 2h0m-22 4h0m33 5h0m-64 6h0m6 4h0m28 3h0m23 4h0m-2 3h0m-46 5h0m17 3h0m4 2h0m-7 3h0m32 2h0m-14 6h0m33 3h0m-17 3h0m5 2h0m-50 2h0m-16 3h0m24 3h0m9 4h0m-35 3h0m40 2h0m5 3h0m-7 3h0m-31 2h0m31 2h0m-28 2h0m51 4h0m-53 3h0m31 4h0m-34 6h0m16 2h0m20 4h0m-30 6h0m-4 7h0m-1 8h0m19 19h0m93-239h0m-8 49h0m-14 17h0m12 12h0m-1 5h0m-24 15h0m38 13h0m-31 14h0m31 14h0m-30 5h0m-5 30h0m-422 324h0m400-522h0" stroke="#9ACD32" stroke-opacity="0.6" stroke-width="7.2" stroke-linecap="round" fill="none"/>
<path transform="scale(.5)" d="M1311 4507h0m2 24h0m-23 6h0m25 6h0m-6 2h0m4 3h0m-4 1h0m-4 6h0m8 1h0m0 3h0m6 2h0m-29 2h0m23 1h0m-26 1h0m0 2h0m28 1h0m-28 2h0m26 1h0m0 1h0m5 1h0m-16 2h0m11 1h0m-26 2h0m2 3h0m-2 1h0m0 2h0m0 2h0m0 1h0m0 0h0m13 1h0m-13 2h0m26 2h0m-26 2h0m0 1h0m0 3h0m0 3h0m26 2h0m-26 3h0m0 5h0m26 1h0m-24 3h0m-2 1h0m0 4h0m0 6h0m19 2h0m-19 2h0m26 3h0m-26 3h0m26 2h0m-26 3h0m27 6h0m-1 4h0m0 9h0m0 7h0m-1 6h0m-25 2h0m0 13h0m26 14h0m-26 17h0m106-297h0m6 19h0m-3 13h0m0 12h0m-13 4h0m-29 5h0m24 4h0m-35 3h0m14 3h0m-7 4h0m10 1h0m25 2h0m-50 3h0m63 3h0m-19 0h0m15 2h0m-24 1h0m29 2h0m-44 1h0m-20 1h0m-4 1h0m51 2h0m-11 1h0m9 1h0m5 1h0m-26 2h0m36 1h0m-3 1h0m-5 1h0m-27 1h0m3 1h0m8 1h0m11 2h0m-29 1h0m-18 1h0m31 1h0m12 1h0m-10 1h0m13 1h0m-12 1h0m-2 1h0m-32 1h0m0 0h0m19 1h0m5 1h0m-22 1h0m45 1h0m-13 1h0m0 1h0m-26 0h0m29 1h0m-36 1h0m33 1h0m-34 2h0m52 1h0m-52 0h0m24 1h0m-25 1h0m1 1h0m61 1h0m-40 0h0m-1 1h0m-24 2h0m4 0h0m14 0h0m12 1h0m-6 1h0m-12 0h0m23 1h0m5 1h0m-11 0h0m-35 1h0m10 1h0m29 1h0m-29 0h0m13 2h0m-13 1h0m0 0h0m22 1h0m8 1h0m23 0h0m8 0h0m-35 1h0m-26 0h0m0 2h0m31 1h0m-6 1h0m38 1h0m-31 0h0m20 1h0m-52 1h0m51 2h0m-25 1h0m36 1h0m-54 0h0m-8 2h0m0 0h0m32 1h0m-16 1h0m12 2h0m9 1h0m-9 1h0m-3 0h0m16 1h0m-7 2h0m-13 1h0m42 1h0m-63 1h0m0 1h0m0 2h0m0 1h0m-7 1h0m42 0h0m-18 1h0m9 2h0m14 3h0m-26 1h0m-9 1h0m-5 1h0m0 2h0m1 1h0m48 3h0m15 2h0m-48 1h0m-16 4h0m39 3h0m-39 3h0m62 3h0m-37 2h0m3 5h0m-28 4h0m19 6h0m13 5h0m-13 5h0m12 9h0m-9 9h0m19 4h0m-41 16h0m141-423h0m-72 108h0m37 14h0m-14 10h0m20 3h0m31 5h0m-52 5h0m-3 3h0m23 3h0m-5 3h0m6 3h0m24 1h0m-62 2h0m20 2h0m11 2h0m40 2h0m-7 1h0m-3 1h0m-6 2h0m-10 2h0m9 0h0m-17 2h0m23 0h0m1 1h0m4 2h0m-21 1h0m-43 2h0m33 0h0m-3 2h0m-15 1h0m17 1h0m6 0h0m28 1h0m-27 1h0m29 1h0m-49 2h0m-28 0h0m42 1h0m11 1h0m-31 1h0m-19 1h0m69 1h0m-50 2h0m29 2h0m9 1h0m-40 2h0m39 1h0m-16 0h0m-22 1h0m38 1h0m4 1h0m-41 1h0m16 1h0m36 0h0m-12 1h0m-7 1h0m-43 1h0m41 1h0m-28 0h0m33 1h0m-28 1h0m-8 0h0m40 2h0m-25 1h0m18 2h0m-17 1h0m-12 1h0m-18 0h0m0 1h0m51 1h0m-52 1h0m13 1h0m17 1h0m35 1h0m-51 1h0m51 1h0m-59 1h0m5 1h0m16 1h0m15 1h0m-35 0h0m17 1h0m18 0h0m29 1h0m-71 1h0m33 2h0m14 0h0m8 1h0m-59 0h0m52 1h0m-15 1h0m-27 1h0m15 1h0m15 1h0m17 1h0m7 2h0m-32 1h0m-17 1h0m-11 1h0m8 0h0m30 1h0m-11 1h0m20 1h0m-2 1h0m26 1h0m-9 1h0m10 1h0m-46 1h0m-21 1h0m47 2h0m18 1h0m-5 1h0m-63 1h0m29 2h0m36 1h0m-60 2h0m7 1h0m-1 0h0m-19 2h0m31 1h0m15 0h0m-46 1h0m53 2h0m-40 2h0m48 1h0m-12 4h0m4 0h0m-52 2h0m59 2h0m-18 2h0m-26 1h0m52 2h0m-66 2h0m11 1h0m-1 5h0m39 2h0m-31 2h0m-20 3h0m54 3h0m6 2h0m-41 3h0m13 7h0m15 6h0m-16 7h0m-22 17h0m-8 25h0m156-370h0m-26 48h0m-16 16h0m-20 6h0m62 4h0m-12 4h0m-58 5h0m-3 4h0m27 5h0m-33 6h0m78 1h0m-42 2h0m3 1h0m21 1h0m-1 3h0m-11 1h0m13 2h0m-32 1h0m43 2h0m-65 1h0m69 1h0m-71 1h0m54 1h0m-16 2h0m34 2h0m-17 1h0m-40 1h0m-11 1h0m49 1h0m-47 1h0m42 1h0m-5 1h0m17 2h0m-29 1h0m25 3h0m-17 1h0m12 1h0m-28 1h0m12 2h0m21 1h0m-8 2h0m-31 1h0m56 1h0m-49 0h0m43 1h0m5 2h0m-9 0h0m-13 2h0m17 1h0m4 0h0m-43 1h0m38 2h0m-8 0h0m-35 1h0m-16 1h0m50 1h0m1 1h0m17 2h0m-7 1h0m-46 0h0m40 2h0m10 1h0m-17 0h0m-40 1h0m17 1h0m20 1h0m21 1h0m-7 1h0m-64 1h0m36 0h0m31 2h0m-32 0h0m-27 1h0m2 0h0m33 2h0m-25 1h0m29 1h0m-40 1h0m-12 1h0m21 0h0m-16 1h0m66 1h0m-20 0h0m-22 1h0m24 1h0m-40 0h0m33 2h0m8 1h0m-51 1h0m15 0h0m-16 1h0m26 1h0m7 0h0m2 1h0m26 1h0m-10 1h0m-21 0h0m39 1h0m-1 1h0m-15 0h0m-1 1h0m-54 1h0m24 1h0m27 0h0m20 2h0m-30 2h0m-42 1h0m45 1h0m4 1h0m-32 2h0m-11 1h0m56 2h0m-53 1h0m42 0h0m24 2h0m-1 1h0m-58 2h0m-15 1h0m58 1h0m-12 2h0m17 1h0m-5 0h0m13 2h0m-29 2h0m-9 1h0m-10 3h0m5 1h0m46 3h0m-60 2h0m43 2h0m-55 2h0m12 2h0m53 2h0m-51 3h0m56 2h0m-39 2h0m30 3h0m-51 3h0m27 5h0m-34 6h0m41 6h0m-19 5h0m-17 7h0m39 21h0m-49 39h0m150-378h0m-11 20h0m-32 18h0m28 7h0m-19 10h0m-23 5h0m62 2h0m-64 5h0m41 3h0m4 1h0m4 2h0m9 3h0m-51 1h0m-6 7h0m58 3h0m-45 2h0m52 1h0m-54 2h0m-16 2h0m27 2h0m36 1h0m-9 1h0m-34 2h0m-24 2h0m25 1h0m47 2h0m-20 0h0m-47 2h0m49 1h0m20 1h0m-13 1h0m-38 1h0m2 0h0m46 0h0m-8 2h0m-21 2h0m-2 1h0m-43 0h0m61 2h0m10 1h0m-2 1h0m-65 1h0m50 1h0m-39 1h0m49 1h0m-47 0h0m17 2h0m-11 1h0m36 1h0m-32 1h0m17 2h0m-12 1h0m-17 0h0m37 1h0m-23 1h0m8 1h0m8 2h0m-16 0h0m15 1h0m-19 1h0m15 1h0m24 1h0m-55 1h0m43 0h0m-14 1h0m-15 1h0m-5 1h0m-8 0h0m27 2h0m-35 0h0m15 1h0m17 0h0m-23 1h0m-4 3h0m40 0h0m-38 1h0m-10 1h0m44 0h0m13 2h0m-7 1h0m-12 0h0m33 1h0m-19 1h0m-27 2h0m6 1h0m-9 1h0m36 0h0m-51 1h0m63 1h0m-47 1h0m17 0h0m-3 1h0m24 1h0m-27 1h0m-16 1h0m26 1h0m28 1h0m-44 0h0m20 1h0m-19 2h0m31 1h0m-52 0h0m35 2h0m-38 2h0m43 1h0m2 1h0m-22 1h0m33 1h0m-5 2h0m-36 1h0m-7 0h0m32 1h0m-41 1h0m18 1h0m-3 1h0m26 1h0m11 1h0m-30 2h0m-13 0h0m63 1h0m-76 2h0m17 1h0m29 2h0m-12 1h0m-4 1h0m22 2h0m10 1h0m-37 1h0m-5 2h0m32 2h0m-45 1h0m-3 1h0m21 2h0m-8 2h0m1 3h0m-8 3h0m18 2h0m11 2h0m-31 2h0m9 1h0m3 2h0m-21 2h0m32 5h0m-11 5h0m-20 4h0m3 8h0m15 8h0m30 9h0m-23 9h0m-3 35h0m124-366h0m-26 30h0m-8 15h0m42 8h0m3 7h0m-38 3h0m33 3h0m-35 6h0m7 2h0m9 3h0m-13 3h0m33 2h0m-25 1h0m27 2h0m-18 1h0m-39 3h0m45 2h0m-8 2h0m-55 1h0m57 3h0m5 1h0m-14 2h0m16 1h0m-57 1h0m23 2h0m31 1h0m-21 2h0m-1 1h0m31 1h0m-25 1h0m-21 0h0m-18 2h0m55 0h0m4 1h0m-17 1h0m-25 1h0m-18 2h0m60 1h0m-55 2h0m41 1h0m7 1h0m9 1h0m-26 1h0m-12 1h0m-15 1h0m7 1h0m46 1h0m-55 0h0m40 1h0m-35 1h0m53 1h0m1 1h0m-6 0h0m6 1h0m-6 2h0m-6 0h0m-41 1h0m47 2h0m-23 1h0m-38 1h0m11 1h0m-4 1h0m47 1h0m4 0h0m2 1h0m4 1h0m-41 0h0m15 1h0m-3 1h0m-27 0h0m15 0h0m4 1h0m5 1h0m14 1h0m-1 0h0m-1 1h0m-32 1h0m51 1h0m-37 0h0m-7 1h0m26 1h0m-20 1h0m21 1h0m26 0h0m-68 1h0m55 0h0m5 1h0m-53 1h0m22 1h0m22 1h0m-11 1h0m-45 1h0m48 0h0m-30 1h0m32 1h0m2 0h0m-12 1h0m-39 2h0m31 0h0m-6 1h0m-1 1h0m8 1h0m11 1h0m26 1h0m-40 1h0m0 1h0m-10 2h0m14 0h0m10 1h0m3 1h0m-29 1h0m57 1h0m-41 2h0m29 0h0m-41 1h0m4 0h0m-28 1h0m1 2h0m20 1h0m-6 1h0m26 1h0m6 1h0m-8 2h0m21 1h0m1 2h0m-29 1h0m-25 2h0m64 1h0m-63 1h0m47 1h0m12 1h0m-17 2h0m11 1h0m-22 1h0m-33 3h0m2 2h0m63 1h0m-27 1h0m-25 1h0m-3 3h0m40 3h0m-3 4h0m-43 1h0m26 7h0m-23 4h0m43 7h0m-38 6h0m-12 12h0m-7 13h0m35 23h0m109-355h0m5 38h0m-35 11h0m27 5h0m0 7h0m-25 5h0m-4 4h0m21 2h0m8 4h0m15 2h0m2 4h0m-41 4h0m-18 1h0m42 3h0m-12 2h0m-27 1h0m50 2h0m-12 1h0m-25 2h0m9 1h0m-28 1h0m37 1h0m3 0h0m-10 1h0m31 1h0m-54 2h0m12 1h0m27 1h0m-16 1h0m22 2h0m-25 1h0m18 1h0m-48 2h0m44 1h0m-7 1h0m-32 1h0m45 0h0m3 1h0m-44 2h0m18 1h0m27 1h0m-21 1h0m-13 1h0m33 1h0m-56 1h0m48 0h0m-40 1h0m-19 0h0m70 1h0m2 2h0m-3 1h0m5 0h0m-51 1h0m25 0h0m-40 2h0m59 0h0m-42 1h0m41 2h0m7 1h0m-35 1h0m-32 0h0m24 1h0m-23 1h0m49 0h0m-31 1h0m-3 0h0m21 1h0m-38 0h0m10 1h0m-3 2h0m39 0h0m-16 1h0m-6 1h0m26 1h0m-34 0h0m43 1h0m-59 1h0m71 0h0m-21 1h0m-1 1h0m-31 2h0m53 0h0m-74 1h0m60 1h0m-56 1h0m22 1h0m3 0h0m23 1h0m-19 1h0m-31 1h0m2 1h0m16 1h0m-6 1h0m3 0h0m-1 1h0m-1 1h0m0 0h0m19 1h0m-29 1h0m14 1h0m45 0h0m-22 1h0m-31 2h0m3 1h0m10 1h0m3 1h0m30 3h0m-17 0h0m-5 2h0m6 2h0m-30 2h0m-13 1h0m35 1h0m-15 2h0m25 0h0m-39 1h0m59 3h0m-58 1h0m9 1h0m-16 1h0m27 2h0m7 0h0m-25 1h0m52 3h0m18 2h0m-48 1h0m18 1h0m-26 1h0m-10 1h0m38 2h0m-47 1h0m14 1h0m3 4h0m-17 2h0m34 3h0m-21 3h0m-2 4h0m35 2h0m-25 4h0m46 4h0m-58 4h0m-1 4h0m-9 6h0m59 2h0m-52 11h0m12 11h0m-4 52h0m138-383h0m-57 33h0m44 16h0m8 9h0m-56 4h0m6 4h0m40 8h0m-53 5h0m62 4h0m-24 4h0m-24 2h0m47 3h0m-41 2h0m25 1h0m11 3h0m-14 2h0m-29 2h0m37 2h0m-37 2h0m1 2h0m-11 1h0m28 3h0m17 1h0m9 1h0m-4 1h0m7 1h0m-33 0h0m26 2h0m-10 1h0m10 1h0m-3 1h0m-36 0h0m45 2h0m-14 1h0m-51 1h0m52 1h0m-36 2h0m11 2h0m5 0h0m10 1h0m-32 1h0m23 1h0m16 1h0m0 1h0m-39 0h0m64 1h0m-61 2h0m40 1h0m3 1h0m-4 1h0m-3 1h0m-32 1h0m11 1h0m-24 1h0m20 1h0m11 1h0m-18 1h0m20 2h0m-4 1h0m-25 1h0m32 1h0m-10 0h0m-30 1h0m31 1h0m15 1h0m23 1h0m-64 1h0m68 0h0m0 1h0m-37 1h0m-19 1h0m17 1h0m0 1h0m7 1h0m36 1h0m-15 0h0m-61 1h0m25 0h0m-5 1h0m7 1h0m-25 2h0m42 1h0m30 3h0m-18 0h0m-42 2h0m48 1h0m-48 1h0m-16 1h0m60 1h0m-31 2h0m-28 2h0m64 0h0m-27 2h0m-2 1h0m-3 1h0m-33 1h0m17 2h0m11 2h0m-18 0h0m-5 2h0m70 1h0m-1 2h0m-59 1h0m50 1h0m-31 2h0m-9 1h0m0 2h0m-22 2h0m37 2h0m-40 1h0m30 2h0m36 2h0m-58 2h0m-2 3h0m12 1h0m13 2h0m0 3h0m19 6h0m-25 7h0m-24 7h0m3 4h0m5 4h0m3 4h0m0 7h0m-2 11h0m-11 36h0m130-320h0m8 16h0m19 10h0m-65 4h0m55 7h0m-45 5h0m-15 7h0m61 4h0m-65 4h0m70 4h0m-26 2h0m-20 1h0m5 3h0m22 4h0m8 1h0m-40 2h0m1 2h0m51 1h0m-11 2h0m-18 3h0m-15 1h0m13 1h0m-33 1h0m23 0h0m-21 1h0m39 2h0m19 2h0m-39 1h0m41 1h0m-40 2h0m-24 1h0m-1 1h0m20 1h0m51 1h0m-45 2h0m1 1h0m-24 1h0m69 2h0m-10 1h0m-55 2h0m30 1h0m33 0h0m-65 2h0m-7 0h0m18 2h0m-13 1h0m5 1h0m26 1h0m19 1h0m-55 1h0m64 2h0m-62 1h0m72 1h0m-68 1h0m27 2h0m-21 1h0m28 3h0m1 1h0m-19 1h0m40 3h0m-37 1h0m28 2h0m-7 2h0m5 1h0m-42 2h0m33 1h0m-41 2h0m39 2h0m25 1h0m-39 3h0m-10 1h0m-20 7h0m16 3h0m7 2h0m15 5h0m-31 2h0m39 3h0m-28 3h0m-10 4h0m17 3h0m-26 6h0m32 8h0m-22 20h0m1 23h0m97-335h0m-28 59h0m2 25h0m21 12h0m57 7h0m-49 5h0m29 4h0m-33 3h0m9 3h0m43 6h0m-60 5h0m36 1h0m-34 5h0m58 3h0m-4 2h0m-22 5h0m26 2h0m-72 1h0m25 2h0m-7 2h0m40 1h0m1 3h0m-18 4h0m-38 1h0m32 2h0m0 2h0m-2 3h0m-1 2h0m2 2h0m-17 1h0m22 3h0m-42 3h0m6 2h0m57 3h0m-65 2h0m6 4h0m-3 7h0m0 5h0m17 5h0m-7 6h0m36 3h0m-47 3h0m10 4h0m9 6h0m-13 22h0m31 38h0m68-252h0m16 33h0m-28 18h0m27 15h0m-23 7h0m-3 11h0m-5 14h0m56 7h0m-22 39h0m-386-20h0m43 87h0" stroke="#EE30A7" stroke-opacity="0.6" stroke-width="7.2" stroke-linecap="round" fill="none"/>
<path transform="scale(.5)" d="M1313 4510h0m-15 22h0m15 6h0m-21 6h0m21 1h0m0 3h0m0 3h0m0 4h0m0 1h0m0 3h0m0 2h0m0 2h0m5 1h0m-31 1h0m32 2h0m-26 1h0m20 2h0m0 1h0m-26 1h0m0 1h0m26 2h0m0 1h0m0 2h0m0 3h0m0 1h0m-14 3h0m-12 1h0m26 1h0m0 0h0m4 1h0m-28 2h0m28 2h0m-4 2h0m-6 1h0m6 3h0m0 3h0m0 3h0m-26 3h0m26 4h0m-26 2h0m17 2h0m9 2h0m-12 4h0m-14 5h0m26 2h0m0 3h0m0 2h0m0 3h0m0 2h0m-26 3h0m0 7h0m26 4h0m-26 8h0m7 8h0m-7 5h0m26 3h0m1 25h0m-1 1h0m-26 17h0m90-291h0m18 14h0m3 18h0m2 8h0m-5 2h0m-18 5h0m-17 4h0m19 4h0m-42 3h0m42 3h0m-12 1h0m25 2h0m6 4h0m-1 2h0m-32 0h0m6 3h0m27 1h0m-44 1h0m26 1h0m-45 1h0m59 1h0m-9 2h0m0 1h0m-50 1h0m61 1h0m-8 2h0m-4 1h0m-27 1h0m43 2h0m-24 0h0m-43 2h0m64 1h0m-18 1h0m-14 1h0m-30 1h0m24 1h0m-5 1h0m-5 1h0m28 1h0m-22 1h0m-20 1h0m53 1h0m-39 0h0m40 1h0m-54 2h0m55 0h0m-24 1h0m-31 1h0m0 1h0m51 1h0m-16 0h0m-35 2h0m0 1h0m57 1h0m-57 1h0m0 0h0m24 1h0m-24 1h0m0 1h0m61 1h0m-71 1h0m6 0h0m4 2h0m0 0h0m0 0h0m36 1h0m-6 1h0m-8 0h0m17 1h0m-39 1h0m56 0h0m-48 1h0m20 1h0m-28 1h0m0 1h0m38 1h0m23 1h0m-61 0h0m56 1h0m-5 1h0m-1 0h0m-29 1h0m-21 0h0m40 1h0m16 1h0m-18 1h0m20 1h0m-34 1h0m-1 0h0m-23 1h0m9 2h0m7 1h0m-16 1h0m50 1h0m-50 1h0m0 1h0m19 0h0m16 1h0m6 2h0m-11 1h0m15 1h0m0 1h0m-2 1h0m-26 0h0m4 2h0m9 1h0m-12 1h0m44 1h0m-47 1h0m1 2h0m5 1h0m17 1h0m-38 0h0m0 1h0m24 3h0m15 2h0m-34 1h0m28 1h0m-30 1h0m-3 2h0m-3 1h0m31 3h0m10 2h0m-35 1h0m-14 5h0m48 2h0m16 3h0m-38 4h0m-17 1h0m6 6h0m7 3h0m52 8h0m-73 3h0m6 6h0m46 8h0m-14 10h0m-32 4h0m4 15h0m129-348h0m-39 34h0m1 17h0m11 7h0m16 3h0m12 5h0m13 4h0m1 3h0m-60 3h0m35 4h0m2 2h0m12 2h0m-58 1h0m56 2h0m-8 2h0m-3 2h0m21 1h0m-49 2h0m33 2h0m-14 1h0m29 1h0m-29 1h0m9 0h0m-17 1h0m27 3h0m-1 1h0m9 1h0m-16 0h0m-18 2h0m-23 1h0m38 1h0m-41 0h0m6 1h0m5 1h0m55 2h0m-58 1h0m27 0h0m-13 2h0m-5 0h0m-8 1h0m52 1h0m-15 1h0m-24 3h0m22 1h0m-47 1h0m14 2h0m-19 1h0m49 0h0m-9 1h0m-23 1h0m-13 1h0m-5 1h0m74 1h0m-73 1h0m25 0h0m1 1h0m-25 2h0m28 0h0m-30 1h0m30 0h0m22 1h0m12 1h0m-42 2h0m-10 0h0m41 2h0m-39 1h0m27 1h0m0 1h0m-20 0h0m-14 1h0m43 1h0m-46 1h0m10 1h0m-14 1h0m29 1h0m3 1h0m-15 1h0m-2 1h0m-8 1h0m68 1h0m-41 0h0m24 1h0m2 0h0m-40 1h0m-12 1h0m63 2h0m-7 0h0m-54 1h0m-1 0h0m54 1h0m-16 1h0m20 1h0m-51 1h0m19 1h0m-32 1h0m35 2h0m-25 1h0m1 1h0m13 1h0m-3 0h0m-18 1h0m13 1h0m-19 2h0m35 0h0m-17 1h0m35 1h0m-14 1h0m-39 1h0m19 1h0m36 2h0m-19 1h0m-38 1h0m39 1h0m-6 2h0m-17 1h0m44 2h0m-36 1h0m13 1h0m0 1h0m-36 1h0m1 1h0m55 0h0m-29 2h0m3 2h0m-27 3h0m42 2h0m-4 1h0m-41 2h0m70 1h0m-65 2h0m14 1h0m-9 3h0m5 1h0m-1 2h0m-5 4h0m46 2h0m-21 3h0m-1 2h0m-1 3h0m44 3h0m-77 2h0m9 7h0m3 7h0m-14 8h0m25 19h0m-15 31h0m114-376h0m35 46h0m-77 14h0m58 7h0m-4 5h0m23 4h0m-7 5h0m5 2h0m-10 6h0m9 5h0m-36 2h0m38 1h0m-15 2h0m-17 1h0m34 2h0m-10 2h0m-18 1h0m26 2h0m-21 1h0m22 1h0m-72 1h0m37 1h0m26 2h0m2 1h0m5 2h0m-35 1h0m22 1h0m-18 1h0m17 1h0m15 1h0m-18 1h0m-20 1h0m30 3h0m-8 1h0m-13 2h0m28 1h0m-17 1h0m-49 1h0m8 2h0m59 1h0m-73 2h0m52 1h0m-29 1h0m-2 0h0m-13 2h0m-12 1h0m47 1h0m27 1h0m-22 1h0m-38 0h0m24 1h0m-37 2h0m7 0h0m65 1h0m-22 2h0m-20 1h0m-7 1h0m41 1h0m-22 1h0m28 1h0m-57 1h0m-4 1h0m51 0h0m-7 1h0m-25 1h0m9 1h0m-5 1h0m12 1h0m-18 1h0m-8 0h0m52 2h0m-47 1h0m-16 0h0m-6 0h0m17 2h0m39 1h0m7 1h0m-6 1h0m-28 1h0m25 1h0m7 0h0m-58 1h0m56 0h0m16 1h0m-55 1h0m11 1h0m33 1h0m-4 1h0m-18 1h0m-43 1h0m11 0h0m15 1h0m15 0h0m-34 1h0m-1 1h0m43 1h0m-12 0h0m-13 1h0m28 1h0m25 0h0m-48 1h0m-26 1h0m27 1h0m-15 1h0m-17 1h0m39 2h0m9 1h0m6 1h0m-44 2h0m44 1h0m-39 1h0m5 2h0m-11 1h0m37 0h0m14 2h0m-25 1h0m0 2h0m-22 1h0m7 2h0m-16 1h0m45 1h0m15 0h0m-7 2h0m-46 2h0m37 2h0m-48 2h0m50 2h0m-37 2h0m7 2h0m-6 2h0m21 2h0m-13 2h0m-13 2h0m19 3h0m0 2h0m41 2h0m-28 3h0m-10 3h0m19 5h0m-49 8h0m4 5h0m72 4h0m-68 8h0m19 25h0m102-375h0m6 38h0m17 14h0m-2 19h0m-9 7h0m-48 10h0m51 4h0m12 2h0m-49 5h0m19 2h0m30 1h0m-31 3h0m15 2h0m-34 2h0m44 6h0m-4 3h0m12 2h0m-30 1h0m4 3h0m23 1h0m-18 2h0m-5 1h0m-39 1h0m59 2h0m-32 2h0m-18 1h0m48 2h0m-26 0h0m2 2h0m8 1h0m-50 1h0m60 1h0m11 1h0m-46 0h0m48 1h0m-6 1h0m5 2h0m-20 1h0m-30 1h0m30 1h0m-28 1h0m-24 1h0m49 1h0m22 1h0m-19 1h0m0 1h0m-17 0h0m-28 2h0m48 2h0m3 0h0m16 2h0m-13 1h0m2 1h0m-31 1h0m-28 1h0m31 0h0m-1 2h0m23 1h0m-21 1h0m16 1h0m6 0h0m-18 1h0m-14 1h0m-16 1h0m10 0h0m36 1h0m-13 1h0m2 1h0m28 0h0m-77 2h0m50 0h0m18 1h0m-12 0h0m6 1h0m-4 3h0m-47 0h0m17 1h0m48 1h0m-72 1h0m36 1h0m17 1h0m9 0h0m-49 1h0m-8 1h0m20 2h0m-21 1h0m9 1h0m-6 0h0m52 1h0m-63 1h0m48 1h0m18 1h0m6 1h0m-6 0h0m-43 1h0m10 1h0m31 1h0m-44 1h0m31 0h0m15 1h0m-55 2h0m68 1h0m-56 1h0m5 1h0m42 2h0m-26 1h0m-16 1h0m-11 2h0m15 0h0m-9 2h0m15 1h0m-39 1h0m25 0h0m-5 2h0m-10 0h0m30 1h0m32 2h0m-36 1h0m-23 1h0m0 0h0m26 1h0m-14 2h0m15 2h0m-8 1h0m-19 1h0m-12 2h0m38 1h0m-25 1h0m-10 1h0m1 2h0m16 2h0m21 1h0m-39 1h0m25 2h0m42 2h0m-63 3h0m23 3h0m-13 2h0m4 2h0m1 2h0m33 1h0m-25 2h0m9 2h0m-22 5h0m42 6h0m-37 3h0m3 8h0m28 9h0m-44 8h0m0 11h0m62 33h0m69-363h0m0 29h0m-55 19h0m34 3h0m36 6h0m-7 3h0m-21 5h0m25 5h0m-6 1h0m13 3h0m-25 3h0m-44 2h0m48 2h0m13 1h0m-25 1h0m-17 3h0m-16 2h0m41 2h0m-53 2h0m48 2h0m27 2h0m-28 1h0m5 1h0m19 2h0m-70 1h0m36 1h0m30 2h0m5 1h0m-12 1h0m-7 1h0m-1 0h0m23 2h0m3 1h0m-65 0h0m38 2h0m-26 1h0m-20 1h0m13 1h0m44 2h0m-61 1h0m15 1h0m20 1h0m35 1h0m-19 1h0m16 1h0m-18 1h0m-43 1h0m57 0h0m-29 1h0m29 1h0m-26 1h0m-32 1h0m41 1h0m18 0h0m-4 2h0m-31 0h0m8 1h0m8 2h0m29 1h0m-75 1h0m11 1h0m3 1h0m3 1h0m58 0h0m-64 1h0m65 1h0m-72 0h0m5 1h0m19 1h0m24 0h0m17 1h0m-35 0h0m-23 1h0m21 1h0m1 1h0m-24 0h0m15 1h0m21 1h0m-17 0h0m22 1h0m14 1h0m-8 1h0m-6 1h0m-7 0h0m-44 1h0m23 1h0m53 1h0m-67 0h0m17 1h0m9 1h0m24 1h0m-24 1h0m44 0h0m-51 1h0m-23 1h0m38 0h0m25 1h0m-19 2h0m-1 0h0m2 1h0m-14 1h0m-1 1h0m0 2h0m-16 0h0m-18 1h0m52 1h0m-38 2h0m-5 0h0m16 1h0m-13 1h0m28 1h0m-25 2h0m44 1h0m-26 0h0m6 1h0m-9 1h0m-11 0h0m35 3h0m-10 0h0m32 1h0m-69 1h0m36 2h0m-34 1h0m19 2h0m8 1h0m-13 1h0m5 2h0m11 1h0m-38 1h0m13 1h0m-6 1h0m21 2h0m-1 1h0m-16 2h0m-10 2h0m34 2h0m-24 1h0m-12 1h0m34 2h0m2 3h0m29 2h0m-27 4h0m-9 2h0m34 6h0m7 7h0m-57 5h0m17 6h0m39 13h0m-17 13h0m-39 28h0m137-358h0m-34 37h0m33 9h0m-60 7h0m47 5h0m-13 5h0m-1 3h0m-3 2h0m17 4h0m-43 3h0m51 5h0m-62 2h0m34 1h0m-8 3h0m-28 2h0m69 1h0m-44 2h0m7 1h0m37 2h0m-31 1h0m32 1h0m-25 1h0m-43 0h0m41 1h0m2 2h0m-10 1h0m-26 1h0m-3 2h0m55 0h0m-36 2h0m40 1h0m2 2h0m-46 1h0m0 1h0m29 1h0m-2 1h0m-39 0h0m21 2h0m23 1h0m-21 2h0m22 0h0m-9 1h0m-27 2h0m-4 0h0m22 1h0m-33 0h0m4 1h0m9 0h0m33 1h0m23 2h0m-72 1h0m7 0h0m45 1h0m11 0h0m-1 2h0m-22 0h0m35 2h0m-55 1h0m41 1h0m-10 1h0m9 0h0m-15 1h0m-5 1h0m-24 0h0m33 1h0m-46 0h0m35 1h0m14 1h0m-43 0h0m15 2h0m52 1h0m-3 0h0m-25 1h0m6 1h0m-41 0h0m22 1h0m-26 1h0m45 0h0m-53 2h0m29 0h0m11 2h0m29 0h0m-63 2h0m-7 0h0m71 1h0m-65 1h0m44 0h0m-41 1h0m26 1h0m-8 1h0m32 1h0m8 1h0m-13 1h0m-30 1h0m15 0h0m-31 1h0m21 0h0m0 1h0m18 1h0m-46 1h0m68 0h0m-49 2h0m45 1h0m-43 1h0m25 1h0m-19 2h0m29 2h0m-27 1h0m9 1h0m29 2h0m-43 2h0m21 1h0m-42 2h0m25 1h0m-28 0h0m46 2h0m-14 3h0m36 0h0m-60 1h0m46 1h0m-46 2h0m9 0h0m2 2h0m-7 2h0m41 2h0m-35 2h0m-6 1h0m40 0h0m-49 2h0m18 1h0m11 2h0m22 0h0m5 5h0m-58 1h0m26 3h0m15 4h0m11 3h0m-37 3h0m-6 4h0m-4 3h0m22 5h0m-30 6h0m28 4h0m7 2h0m-32 11h0m16 12h0m-1 50h0m82-374h0m29 24h0m15 17h0m-13 8h0m-24 4h0m50 6h0m-49 7h0m46 6h0m-29 3h0m-35 4h0m69 1h0m-22 3h0m2 2h0m4 2h0m11 3h0m-12 2h0m0 2h0m-57 1h0m59 3h0m-5 1h0m-32 1h0m9 3h0m9 1h0m11 1h0m-33 1h0m38 1h0m-18 1h0m-14 1h0m41 1h0m-45 1h0m40 1h0m-34 0h0m-9 2h0m54 1h0m-52 2h0m28 1h0m-12 1h0m-33 2h0m71 0h0m-10 1h0m-32 1h0m37 1h0m-51 1h0m20 1h0m24 0h0m10 1h0m-56 2h0m32 1h0m-34 1h0m-3 1h0m16 2h0m2 0h0m0 1h0m-19 1h0m8 1h0m26 1h0m-17 1h0m-7 2h0m37 1h0m-5 1h0m-8 1h0m-4 0h0m-8 1h0m33 1h0m-46 1h0m31 1h0m-26 1h0m-19 0h0m36 1h0m-5 1h0m-17 1h0m16 1h0m34 1h0m-48 1h0m-13 1h0m65 1h0m-48 0h0m37 0h0m-12 1h0m1 1h0m-44 2h0m10 2h0m8 2h0m41 1h0m-57 1h0m43 1h0m16 1h0m-23 1h0m-27 1h0m42 2h0m12 2h0m-6 1h0m-51 1h0m-11 1h0m-2 1h0m56 1h0m18 2h0m-71 2h0m-1 0h0m23 3h0m-6 1h0m-5 1h0m39 1h0m-58 1h0m13 2h0m39 2h0m-6 2h0m-32 2h0m-13 1h0m11 1h0m29 3h0m-32 1h0m24 3h0m-11 2h0m-7 1h0m28 2h0m1 4h0m-21 6h0m-21 6h0m35 7h0m15 5h0m-20 3h0m-27 6h0m36 6h0m-42 13h0m152-390h0m-19 110h0m-23 9h0m34 11h0m-8 4h0m-21 6h0m-15 7h0m32 5h0m-43 4h0m62 4h0m-43 4h0m16 2h0m20 1h0m-53 3h0m-8 4h0m56 2h0m-17 1h0m28 2h0m-54 2h0m-12 1h0m63 3h0m-35 1h0m1 1h0m35 1h0m-26 0h0m24 1h0m-9 3h0m-2 1h0m21 2h0m-52 0h0m49 2h0m-44 1h0m42 2h0m-22 0h0m-43 2h0m0 1h0m38 1h0m34 1h0m-10 2h0m-2 1h0m-22 2h0m-2 1h0m28 0h0m-49 2h0m-17 0h0m35 2h0m11 1h0m7 1h0m3 1h0m-52 1h0m44 2h0m9 2h0m-57 0h0m35 1h0m15 2h0m-45 2h0m45 1h0m-42 2h0m9 1h0m17 1h0m-20 3h0m17 1h0m5 2h0m39 2h0m-58 1h0m31 2h0m-30 2h0m29 2h0m-40 1h0m14 2h0m-13 3h0m-3 1h0m28 7h0m-18 2h0m-13 3h0m52 4h0m-57 2h0m14 4h0m1 2h0m18 4h0m-5 4h0m11 7h0m-39 8h0m2 20h0m4 33h0m149-310h0m-31 23h0m30 26h0m-31 10h0m0 8h0m33 5h0m-19 4h0m-12 3h0m-14 4h0m-6 5h0m49 4h0m-56 3h0m36 5h0m-12 1h0m-15 2h0m-7 5h0m0 2h0m-15 1h0m44 3h0m6 1h0m-34 1h0m13 3h0m3 4h0m-17 1h0m2 2h0m46 3h0m-28 2h0m10 2h0m-15 2h0m-29 1h0m40 3h0m-31 3h0m-7 3h0m32 2h0m-3 2h0m-17 4h0m-20 8h0m11 5h0m-12 5h0m44 5h0m-42 3h0m27 5h0m-5 2h0m-6 10h0m42 25h0m-48 53h0m86-266h0m-10 27h0m40 16h0m-20 17h0m26 7h0m-50 12h0m-1 12h0m24 8h0m-24 38h0m-11-210h0m-115 186h0" stroke="#EE30A7" stroke-opacity="0.6" stroke-width="7.2" stroke-linecap="round" fill="none"/>
<path transform="scale(.5)" d="M1313 4502h0m0 13h0m-7 9h0m-19 3h0m26 5h0m0 4h0m-5 4h0m6 5h0m-1 2h0m0 3h0m-22 1h0m22 2h0m0 1h0m-26 2h0m26 0h0m0 2h0m0 1h0m0 0h0m-1 2h0m-25 2h0m0 1h0m32 1h0m-6 2h0m-26 1h0m26 0h0m0 1h0m-13 1h0m13 2h0m-26 2h0m25 2h0m-25 2h0m26 1h0m-18 2h0m-8 2h0m26 1h0m-6 1h0m-20 3h0m26 3h0m0 1h0m0 3h0m0 1h0m0 1h0m-1 2h0m1 3h0m0 2h0m0 2h0m-26 3h0m10 3h0m-10 2h0m26 3h0m-15 2h0m15 1h0m0 5h0m-11 3h0m4 2h0m-19 5h0m26 4h0m0 4h0m-22 5h0m-4 16h0m26 6h0m0 12h0m0 10h0m-26 12h0m109-307h0m-16 21h0m-13 17h0m1 10h0m21 9h0m5 4h0m-15 7h0m0 5h0m14 3h0m-16 4h0m-7 3h0m25 3h0m-57 2h0m40 2h0m10 2h0m-6 1h0m17 0h0m-50 1h0m6 2h0m10 1h0m-6 1h0m21 1h0m-26 1h0m-14 2h0m29 1h0m3 0h0m19 1h0m-38 2h0m-4 1h0m-23 0h0m28 1h0m35 1h0m-32 2h0m24 1h0m-29 0h0m29 1h0m-13 2h0m17 1h0m-50 2h0m38 0h0m-17 1h0m-21 0h0m13 1h0m9 0h0m15 1h0m-7 1h0m-30 1h0m32 1h0m13 1h0m-19 1h0m-26 1h0m0 0h0m26 1h0m31 1h0m-57 1h0m23 1h0m-4 1h0m33 1h0m-22 1h0m5 1h0m-20 0h0m21 1h0m-22 0h0m-2 1h0m10 1h0m-31 1h0m65 1h0m8 1h0m-25 1h0m11 0h0m-6 1h0m10 0h0m-54 1h0m8 1h0m43 0h0m-55 1h0m40 1h0m9 0h0m-45 1h0m-11 0h0m11 1h0m61 1h0m-65 1h0m4 0h0m14 1h0m-22 1h0m9 0h0m1 1h0m-1 1h0m57 1h0m1 1h0m-41 0h0m14 1h0m-46 0h0m73 1h0m-27 1h0m-28 0h0m39 1h0m7 0h0m6 1h0m-48 1h0m7 2h0m-15 0h0m19 1h0m34 1h0m-53 2h0m19 2h0m25 1h0m-42 2h0m-2 2h0m0 1h0m42 2h0m-42 1h0m13 1h0m29 0h0m-24 2h0m27 1h0m4 1h0m3 0h0m-38 2h0m5 1h0m-5 3h0m-14 2h0m4 2h0m19 1h0m35 2h0m-58 1h0m15 1h0m0 2h0m-13 2h0m27 3h0m-10 2h0m-19 3h0m30 4h0m-33 7h0m3 3h0m0 5h0m0 3h0m61 2h0m-65 12h0m4 9h0m0 5h0m19 5h0m40 10h0m71-363h0m-4 36h0m-30 21h0m29 4h0m-27 9h0m47 5h0m-11 9h0m-15 1h0m-8 3h0m23 3h0m-30 3h0m-23 5h0m58 5h0m-74 3h0m65 1h0m-27 3h0m4 1h0m-36 1h0m28 1h0m25 2h0m-5 2h0m1 2h0m24 1h0m-52 1h0m28 1h0m23 2h0m-4 1h0m4 3h0m-21 2h0m-28 0h0m-7 1h0m3 1h0m48 2h0m-2 1h0m-37 1h0m30 2h0m-43 2h0m22 1h0m6 1h0m28 2h0m-8 1h0m10 1h0m-53 1h0m7 1h0m10 1h0m-26 1h0m-6 1h0m14 0h0m-6 1h0m34 0h0m6 1h0m-13 1h0m9 0h0m-23 1h0m-15 1h0m59 1h0m-1 1h0m-10 1h0m15 0h0m-19 1h0m-20 1h0m-6 1h0m41 1h0m-15 1h0m13 2h0m-2 0h0m3 1h0m-66 1h0m25 0h0m17 1h0m-22 1h0m38 0h0m-46 1h0m38 2h0m-10 0h0m-27 1h0m46 1h0m8 2h0m-22 1h0m-14 0h0m24 1h0m-25 1h0m39 1h0m-49 0h0m24 2h0m-1 1h0m-41 1h0m28 1h0m-26 2h0m23 1h0m-28 0h0m69 1h0m-77 1h0m5 1h0m36 1h0m12 1h0m-34 2h0m52 1h0m-50 0h0m6 1h0m3 1h0m8 1h0m-32 1h0m19 1h0m-22 1h0m4 1h0m14 1h0m51 2h0m-71 2h0m32 1h0m32 1h0m-23 1h0m5 0h0m6 1h0m3 1h0m19 1h0m-44 1h0m25 1h0m-25 3h0m46 1h0m-18 3h0m-54 1h0m39 1h0m-42 1h0m14 2h0m22 2h0m-34 1h0m10 3h0m5 3h0m19 4h0m-20 3h0m52 2h0m-51 1h0m14 5h0m11 2h0m10 5h0m-45 3h0m43 3h0m-37 7h0m43 6h0m-11 7h0m5 21h0m-12 21h0m114-356h0m-59 27h0m19 16h0m25 5h0m-23 5h0m9 4h0m-22 4h0m44 2h0m5 4h0m-25 3h0m29 2h0m-17 4h0m6 7h0m-9 1h0m15 2h0m-54 2h0m60 0h0m-24 2h0m-8 2h0m34 1h0m-19 1h0m-32 3h0m23 1h0m-28 2h0m41 1h0m-38 1h0m-9 2h0m55 1h0m-36 1h0m42 2h0m-75 1h0m59 2h0m-53 1h0m-7 1h0m30 1h0m37 1h0m-4 1h0m-60 1h0m51 0h0m-25 1h0m31 1h0m-8 0h0m-52 0h0m66 1h0m-23 0h0m29 1h0m-62 2h0m41 1h0m-51 1h0m9 0h0m37 2h0m-17 0h0m31 2h0m18 1h0m-28 1h0m-18 1h0m43 2h0m-11 2h0m3 1h0m-7 1h0m2 0h0m-6 1h0m11 1h0m-5 1h0m-19 0h0m5 1h0m-28 0h0m15 1h0m27 1h0m-46 0h0m45 1h0m-61 1h0m65 1h0m2 0h0m-28 1h0m19 1h0m17 1h0m-75 2h0m69 1h0m-11 1h0m-14 2h0m-20 0h0m45 1h0m-48 1h0m-13 1h0m27 1h0m-15 0h0m-8 1h0m-10 0h0m47 2h0m11 0h0m-18 1h0m-28 1h0m5 1h0m-6 1h0m-11 1h0m71 1h0m-18 1h0m-30 1h0m40 1h0m-18 1h0m-32 1h0m-12 1h0m29 0h0m-28 2h0m1 2h0m12 0h0m-7 1h0m18 1h0m2 1h0m41 1h0m-61 1h0m25 3h0m18 2h0m-11 1h0m-7 0h0m-13 1h0m18 1h0m-24 2h0m-10 3h0m56 1h0m-37 1h0m-23 1h0m19 1h0m13 4h0m-29 1h0m-1 1h0m43 2h0m-47 2h0m23 2h0m1 2h0m-24 2h0m10 1h0m-9 2h0m6 2h0m43 1h0m-39 4h0m20 4h0m7 8h0m30 3h0m-53 5h0m26 4h0m-2 7h0m-40 29h0m94-364h0m55 25h0m-43 13h0m30 12h0m-34 11h0m-18 5h0m71 12h0m-61 4h0m16 3h0m-17 6h0m17 3h0m-4 2h0m27 3h0m22 2h0m-8 1h0m-20 1h0m12 1h0m5 1h0m11 2h0m4 1h0m-2 3h0m-30 1h0m25 3h0m-12 3h0m-41 2h0m37 0h0m9 1h0m-33 2h0m46 1h0m-24 1h0m3 1h0m19 3h0m-30 1h0m-22 1h0m7 2h0m-28 1h0m74 1h0m-52 1h0m23 0h0m26 1h0m-48 2h0m36 1h0m10 1h0m-36 0h0m-13 1h0m56 1h0m-52 1h0m11 1h0m-20 2h0m19 0h0m-25 1h0m-13 0h0m39 2h0m0 1h0m24 0h0m12 1h0m-32 1h0m6 1h0m-12 1h0m11 2h0m-33 0h0m9 1h0m40 1h0m-25 1h0m-19 1h0m42 1h0m14 1h0m-43 0h0m40 2h0m-44 1h0m-6 0h0m30 1h0m-49 1h0m34 0h0m-22 1h0m49 2h0m-6 0h0m-3 1h0m7 1h0m-53 1h0m14 0h0m-16 1h0m10 0h0m27 1h0m26 0h0m-65 1h0m-2 1h0m33 1h0m41 1h0m-72 0h0m66 1h0m-4 1h0m9 1h0m-62 1h0m37 0h0m5 1h0m14 2h0m-66 1h0m34 1h0m-35 1h0m39 1h0m-19 1h0m29 1h0m-49 1h0m23 0h0m38 1h0m-19 1h0m-45 1h0m73 1h0m-61 1h0m36 1h0m-2 0h0m-6 1h0m6 2h0m-37 1h0m-6 1h0m18 1h0m15 1h0m-13 2h0m25 1h0m-12 1h0m26 1h0m-46 1h0m26 3h0m32 1h0m-1 1h0m-10 2h0m-27 2h0m17 2h0m-28 1h0m-25 2h0m72 2h0m-67 1h0m-2 4h0m20 2h0m-19 2h0m2 2h0m55 3h0m-46 5h0m26 5h0m-24 4h0m-7 7h0m46 4h0m12 4h0m-41 6h0m-3 9h0m-22 10h0m148-368h0m-26 50h0m-23 28h0m54 7h0m-4 9h0m-14 2h0m-6 9h0m-48 5h0m1 2h0m71 4h0m-46 2h0m43 2h0m-47 3h0m32 2h0m-5 2h0m-47 2h0m66 3h0m-11 2h0m11 1h0m-3 1h0m-16 2h0m23 1h0m-22 1h0m-23 1h0m-5 1h0m25 1h0m3 2h0m-41 2h0m65 2h0m-25 2h0m-36 1h0m40 1h0m-41 1h0m34 2h0m7 0h0m18 1h0m-45 1h0m4 1h0m-26 1h0m-5 1h0m4 1h0m43 2h0m-38 1h0m26 0h0m-1 1h0m40 1h0m-30 1h0m-1 1h0m34 1h0m-5 1h0m-36 1h0m-1 1h0m41 0h0m-52 1h0m-7 1h0m42 1h0m9 1h0m-71 0h0m44 1h0m35 1h0m-22 0h0m-46 1h0m9 0h0m6 1h0m-1 1h0m24 1h0m-36 0h0m-7 1h0m26 0h0m40 1h0m-24 1h0m6 1h0m0 0h0m-6 2h0m11 1h0m-21 1h0m-10 0h0m-12 1h0m3 1h0m24 0h0m-2 1h0m-39 1h0m40 1h0m-9 2h0m23 0h0m4 1h0m10 0h0m-10 1h0m-20 2h0m-3 1h0m-31 1h0m7 1h0m-1 1h0m26 1h0m-2 0h0m-21 1h0m60 1h0m4 1h0m-69 0h0m12 1h0m-10 1h0m14 0h0m-20 1h0m11 1h0m10 1h0m39 2h0m-4 0h0m-13 2h0m23 1h0m-51 1h0m-3 0h0m8 1h0m35 1h0m-43 1h0m58 1h0m-4 0h0m-14 1h0m-29 1h0m6 2h0m22 1h0m-48 0h0m63 2h0m-67 1h0m20 1h0m16 1h0m8 3h0m-33 2h0m6 1h0m21 1h0m-22 1h0m35 2h0m-16 1h0m33 1h0m-14 2h0m-24 2h0m2 2h0m34 2h0m-28 2h0m-22 3h0m-5 2h0m36 1h0m-34 2h0m1 2h0m-16 1h0m-2 2h0m46 3h0m2 3h0m-13 6h0m5 8h0m-12 4h0m24 8h0m-50 19h0m51 32h0m93-390h0m-3 46h0m-1 10h0m-60 9h0m70 11h0m0 4h0m-59 5h0m-11 2h0m69 7h0m7 3h0m-20 3h0m0 1h0m-33 3h0m24 3h0m-9 3h0m-23 1h0m27 2h0m-37 2h0m56 2h0m-8 2h0m9 1h0m-33 2h0m4 1h0m18 1h0m-37 2h0m33 1h0m17 2h0m-41 1h0m23 1h0m-43 1h0m42 1h0m-28 1h0m18 1h0m27 1h0m-56 0h0m26 1h0m31 2h0m-22 0h0m-29 1h0m-9 1h0m64 2h0m-16 1h0m21 1h0m-5 0h0m-52 1h0m24 1h0m-3 0h0m25 2h0m-35 0h0m28 1h0m-16 1h0m7 0h0m7 1h0m-35 1h0m43 1h0m-26 1h0m10 2h0m21 0h0m-20 1h0m19 1h0m-35 1h0m40 1h0m-36 0h0m6 2h0m25 0h0m-59 1h0m5 1h0m39 1h0m23 1h0m-48 1h0m7 0h0m-2 2h0m34 0h0m-57 1h0m42 1h0m5 2h0m-46 0h0m8 1h0m56 1h0m-3 0h0m-53 1h0m61 1h0m-45 1h0m23 0h0m-17 1h0m19 1h0m-30 1h0m15 1h0m-4 1h0m-3 1h0m35 0h0m-47 2h0m27 0h0m-11 2h0m20 1h0m-52 1h0m15 0h0m25 1h0m4 1h0m22 0h0m-37 2h0m-10 1h0m-5 0h0m9 1h0m23 0h0m-8 3h0m-4 1h0m1 0h0m-37 1h0m15 1h0m-7 2h0m23 0h0m-31 1h0m-3 1h0m12 1h0m37 2h0m-9 1h0m35 1h0m-29 2h0m-27 1h0m17 3h0m-32 1h0m48 1h0m-43 2h0m42 2h0m-22 1h0m-4 2h0m48 1h0m-73 1h0m63 1h0m-44 2h0m-4 1h0m11 1h0m-17 2h0m-12 2h0m4 2h0m2 3h0m29 7h0m-35 2h0m10 3h0m4 3h0m56 5h0m-15 3h0m-48 10h0m-2 13h0m40 16h0m72-356h0m-29 42h0m31 25h0m-3 8h0m38 6h0m-5 6h0m-7 4h0m11 3h0m-8 5h0m-18 4h0m-4 2h0m9 0h0m-2 2h0m-24 3h0m23 2h0m-15 2h0m-17 2h0m-14 2h0m35 2h0m38 1h0m-43 2h0m-7 2h0m24 2h0m-22 2h0m38 1h0m-44 1h0m-13 1h0m66 2h0m4 1h0m-63 2h0m-13 1h0m8 1h0m55 1h0m-6 2h0m-27 1h0m-21 2h0m43 0h0m-2 1h0m-22 1h0m39 1h0m-28 1h0m31 2h0m-68 1h0m29 1h0m14 2h0m-33 1h0m54 0h0m-66 1h0m71 2h0m-24 0h0m15 1h0m9 1h0m-26 1h0m5 1h0m-46 0h0m-2 1h0m31 1h0m-34 1h0m15 1h0m17 1h0m42 1h0m-14 1h0m-53 1h0m37 0h0m7 1h0m-37 1h0m11 0h0m-13 1h0m19 1h0m18 1h0m-31 1h0m-18 1h0m37 1h0m24 1h0m-47 1h0m6 0h0m21 1h0m-27 1h0m7 1h0m30 1h0m14 1h0m-52 0h0m52 2h0m-33 1h0m14 1h0m-18 1h0m-26 1h0m22 1h0m-1 2h0m-12 2h0m-3 1h0m24 2h0m-32 1h0m48 1h0m-36 1h0m44 2h0m-41 1h0m60 2h0m-30 1h0m7 1h0m-46 1h0m13 1h0m17 2h0m-24 2h0m4 1h0m-9 2h0m20 2h0m-30 1h0m25 2h0m49 2h0m-41 2h0m-32 3h0m11 2h0m-6 2h0m2 2h0m71 2h0m-12 2h0m-57 5h0m3 0h0m8 5h0m56 2h0m-13 6h0m-34 2h0m36 14h0m-51 10h0m18 39h0m84-308h0m43 18h0m-25 8h0m-24 4h0m19 8h0m-34 3h0m48 2h0m-19 4h0m34 6h0m-73 3h0m73 3h0m-38 2h0m33 1h0m-55 2h0m-5 3h0m64 0h0m-35 3h0m-11 1h0m-30 2h0m8 0h0m63 2h0m-65 2h0m39 2h0m-43 2h0m76 2h0m-29 2h0m28 1h0m-6 1h0m-40 1h0m38 1h0m-26 1h0m24 1h0m-56 0h0m54 1h0m-61 1h0m33 2h0m23 2h0m-47 1h0m38 1h0m-15 1h0m-21 0h0m41 2h0m-47 2h0m-6 1h0m53 1h0m3 2h0m14 1h0m-31 2h0m10 2h0m-26 2h0m24 1h0m-44 3h0m-2 0h0m55 2h0m-40 2h0m5 2h0m-13 1h0m2 2h0m43 1h0m-3 3h0m-30 2h0m-4 2h0m15 2h0m-1 2h0m6 2h0m-39 0h0m3 2h0m16 2h0m-10 2h0m17 1h0m28 1h0m-3 4h0m-46 4h0m15 4h0m-16 3h0m25 6h0m-25 7h0m14 7h0m20 6h0m-4 13h0m-28 13h0m135-263h0m-18 16h0m4 17h0m13 11h0m-54 3h0m25 4h0m23 3h0m21 4h0m-67 3h0m9 3h0m54 2h0m-34 3h0m-35 1h0m48 4h0m-49 2h0m18 5h0m16 1h0m-17 4h0m31 2h0m21 4h0m-21 3h0m-49 2h0m60 4h0m3 3h0m-14 3h0m-38 1h0m-1 2h0m30 2h0m-7 2h0m-3 4h0m13 3h0m-3 4h0m-36 2h0m41 7h0m-45 4h0m32 7h0m-33 3h0m37 4h0m-37 7h0m9 19h0m-5 22h0m34 20h0m81-248h0m-30 28h0m3 14h0m-9 9h0m9 10h0m22 3h0m-12 16h0m-11 13h0m-5 20h0m10 34h0m-238-35h0m179 115h0" stroke="#4A77FB" stroke-opacity="0.6" stroke-width="7.2" stroke-linecap="round" fill="none"/>
<path transform="scale(.5)" d="M1313 4523h0m0 20h0m0 5h0m0 11h0m-26 3h0m26 2h0m0 2h0m0 1h0m0 2h0m-5 2h0m5 2h0m0 3h0m0 2h0m0 0h0m0 2h0m0 2h0m-26 3h0m1 0h0m25 2h0m0 1h0m0 1h0m-20 1h0m20 1h0m-21 1h0m21 1h0m0 1h0m0 2h0m-26 0h0m2 1h0m-2 2h0m17 1h0m14 1h0m-5 1h0m-26 2h0m26 2h0m0 1h0m-26 2h0m0 3h0m26 1h0m0 3h0m-6 3h0m-20 2h0m0 3h0m0 3h0m26 2h0m-26 2h0m26 3h0m5 2h0m-25 4h0m-6 1h0m0 2h0m0 1h0m26 3h0m-26 4h0m26 6h0m0 3h0m0 5h0m0 6h0m0 9h0m0 7h0m0 3h0m0 10h0m-26 5h0m22 16h0m-22 15h0m107-304h0m-12 36h0m-2 11h0m-5 6h0m14 5h0m6 3h0m3 4h0m-27 3h0m16 2h0m12 1h0m-64 1h0m46 2h0m-24 2h0m19 3h0m20 1h0m-45 2h0m7 1h0m34 2h0m1 2h0m-1 1h0m-12 1h0m18 3h0m-30 2h0m24 1h0m-57 1h0m26 2h0m-26 1h0m20 1h0m18 1h0m23 0h0m-61 1h0m0 1h0m63 1h0m-49 1h0m30 2h0m-44 1h0m19 1h0m-19 1h0m0 1h0m40 0h0m4 2h0m-11 0h0m13 2h0m-46 1h0m0 1h0m22 0h0m-22 1h0m0 1h0m0 0h0m45 1h0m14 1h0m-26 0h0m7 1h0m-14 1h0m19 0h0m-13 1h0m-13 1h0m-33 0h0m14 0h0m30 1h0m-30 1h0m0 0h0m0 1h0m0 0h0m21 1h0m0 1h0m-21 1h0m30 0h0m2 1h0m-20 0h0m-12 1h0m49 1h0m-21 0h0m36 1h0m-64 1h0m-6 1h0m6 1h0m59 1h0m-59 1h0m-10 1h0m10 0h0m46 1h0m-60 1h0m44 1h0m-30 0h0m19 1h0m-19 0h0m39 1h0m-39 0h0m0 1h0m-12 1h0m47 1h0m3 1h0m-19 2h0m2 0h0m-2 1h0m-26 2h0m54 1h0m0 1h0m-47 2h0m46 2h0m-4 1h0m-42 0h0m0 2h0m0 2h0m31 2h0m-45 1h0m27 1h0m-13 1h0m0 1h0m29 2h0m-9 2h0m-20 1h0m0 1h0m44 1h0m-16 1h0m-9 2h0m40 2h0m-1 1h0m-58 2h0m0 1h0m47 2h0m-14 2h0m-10 3h0m20 1h0m11 1h0m-31 1h0m14 3h0m18 1h0m-62 3h0m48 3h0m-36 2h0m12 3h0m-17 3h0m0 1h0m38 7h0m-12 3h0m32 8h0m-58 6h0m51 9h0m-64 8h0m13 14h0m-7 5h0m144-347h0m5 35h0m-23 12h0m11 10h0m-24 5h0m18 3h0m7 2h0m-41 2h0m48 4h0m-42 1h0m9 2h0m18 2h0m-32 1h0m25 4h0m26 2h0m-28 2h0m-48 3h0m54 3h0m16 1h0m-38 1h0m19 1h0m7 3h0m17 2h0m2 1h0m-6 1h0m-48 2h0m48 1h0m-61 1h0m54 1h0m-16 1h0m-48 1h0m76 1h0m-68 0h0m27 1h0m10 0h0m30 1h0m2 1h0m-53 2h0m15 1h0m-15 2h0m1 0h0m-7 1h0m22 1h0m2 1h0m27 0h0m-69 1h0m46 1h0m28 1h0m-39 0h0m6 1h0m-31 1h0m41 1h0m-7 1h0m35 2h0m-37 0h0m-6 1h0m28 1h0m-58 1h0m7 1h0m52 0h0m-1 2h0m-46 1h0m-10 1h0m62 0h0m-65 1h0m59 1h0m-29 1h0m30 2h0m4 0h0m-62 2h0m32 1h0m-9 2h0m-3 1h0m-10 0h0m27 2h0m3 1h0m4 1h0m22 0h0m-55 1h0m48 1h0m-47 1h0m13 2h0m5 0h0m-4 1h0m-26 2h0m17 2h0m4 0h0m21 1h0m5 1h0m-50 1h0m8 1h0m15 0h0m6 2h0m27 1h0m0 0h0m-59 1h0m78 0h0m-70 0h0m49 1h0m-15 1h0m-31 1h0m47 2h0m-29 0h0m24 1h0m23 1h0m-52 0h0m10 1h0m4 1h0m8 1h0m-46 1h0m29 1h0m47 1h0m-37 2h0m-15 1h0m-1 1h0m23 1h0m-2 2h0m-38 2h0m6 2h0m-14 1h0m48 1h0m22 3h0m-15 2h0m-29 2h0m-13 2h0m1 1h0m26 4h0m-26 1h0m4 2h0m39 2h0m21 1h0m-55 3h0m-1 2h0m-12 8h0m-5 2h0m2 6h0m17 3h0m1 5h0m14 8h0m16 5h0m-6 10h0m-46 18h0m3 39h0m106-384h0m-13 21h0m7 10h0m46 7h0m-16 6h0m5 5h0m-13 3h0m27 5h0m0 5h0m-7 3h0m-1 4h0m7 3h0m-7 4h0m-8 4h0m-7 3h0m22 1h0m-7 2h0m-47 3h0m-5 1h0m-4 2h0m-7 3h0m23 3h0m10 2h0m-5 2h0m28 2h0m-47 2h0m24 1h0m-23 2h0m34 0h0m32 2h0m-69 2h0m11 2h0m32 0h0m-18 1h0m17 2h0m16 1h0m11 1h0m-15 1h0m-52 1h0m64 1h0m-1 1h0m-46 0h0m37 1h0m-7 1h0m-14 1h0m-13 1h0m39 1h0m-36 1h0m-15 0h0m41 2h0m-22 0h0m27 1h0m-51 1h0m60 1h0m-1 2h0m2 0h0m-13 1h0m-36 1h0m-10 3h0m49 0h0m-53 1h0m35 1h0m-13 1h0m-31 0h0m67 1h0m-9 1h0m-4 1h0m-20 0h0m-19 1h0m-19 1h0m11 1h0m45 1h0m-36 1h0m-9 0h0m7 2h0m52 0h0m-60 1h0m20 1h0m0 1h0m1 2h0m17 0h0m22 1h0m-30 0h0m-19 2h0m57 1h0m-44 0h0m-14 2h0m-6 0h0m12 1h0m7 1h0m2 1h0m-36 1h0m56 1h0m-53 0h0m0 2h0m75 1h0m-52 0h0m41 1h0m-54 2h0m-12 1h0m70 0h0m-41 1h0m-4 2h0m7 1h0m-11 1h0m35 1h0m-55 1h0m8 1h0m59 2h0m-36 1h0m30 1h0m-18 2h0m-1 2h0m-31 1h0m45 1h0m-46 2h0m30 1h0m-25 1h0m17 1h0m34 2h0m-23 3h0m-8 2h0m-29 3h0m28 3h0m-27 2h0m40 3h0m-22 1h0m36 2h0m-61 3h0m13 2h0m2 5h0m-14 6h0m24 4h0m-23 4h0m-1 3h0m64 13h0m-56 4h0m1 26h0m145-341h0m-39 12h0m-29 19h0m11 12h0m32 5h0m18 5h0m8 8h0m1 3h0m-25 5h0m-8 3h0m-29 4h0m-5 2h0m65 2h0m-16 1h0m-24 3h0m20 1h0m-42 2h0m50 2h0m13 2h0m-2 1h0m-32 3h0m31 1h0m-61 2h0m41 1h0m-11 2h0m-41 1h0m15 3h0m53 1h0m-54 3h0m43 1h0m-13 1h0m-47 1h0m57 0h0m-37 2h0m37 0h0m-40 2h0m-6 1h0m-6 0h0m40 1h0m-11 1h0m-12 2h0m5 1h0m-10 1h0m26 0h0m7 1h0m-41 1h0m63 1h0m-44 1h0m-7 0h0m16 2h0m32 1h0m-15 1h0m11 0h0m-50 1h0m57 1h0m-47 1h0m13 0h0m19 1h0m-39 1h0m47 1h0m-21 0h0m22 1h0m-42 2h0m6 0h0m5 2h0m-25 0h0m23 1h0m-3 0h0m17 1h0m-7 1h0m-10 1h0m45 1h0m-11 1h0m-44 1h0m20 2h0m-31 0h0m70 1h0m-56 0h0m-12 1h0m19 1h0m41 1h0m1 1h0m-60 0h0m51 1h0m-1 1h0m8 1h0m8 1h0m-17 1h0m-6 1h0m21 0h0m-35 1h0m-13 1h0m-14 1h0m62 2h0m-65 1h0m18 1h0m10 1h0m30 1h0m-33 0h0m-24 1h0m61 1h0m-9 0h0m-2 2h0m-19 1h0m-25 0h0m57 1h0m-27 1h0m-5 1h0m20 1h0m2 1h0m-61 2h0m48 1h0m-2 1h0m-6 2h0m33 1h0m-59 1h0m-13 2h0m7 1h0m67 1h0m-17 2h0m-28 1h0m-15 1h0m-9 2h0m60 2h0m-65 3h0m46 2h0m-18 1h0m2 4h0m11 2h0m-30 2h0m49 4h0m-31 1h0m-34 2h0m16 2h0m-12 4h0m42 2h0m-6 4h0m-5 3h0m-31 2h0m73 5h0m-69 3h0m33 4h0m3 6h0m-33 7h0m17 16h0m-19 83h0m129-415h0m-4 33h0m17 7h0m-41 15h0m27 4h0m-46 7h0m38 5h0m21 2h0m-44 5h0m47 3h0m-57 3h0m47 2h0m-36 1h0m-14 2h0m57 1h0m-17 3h0m24 0h0m-9 2h0m-41 1h0m16 3h0m2 1h0m11 2h0m20 1h0m-47 2h0m-8 1h0m55 2h0m-39 1h0m17 1h0m-10 0h0m16 1h0m-43 2h0m42 2h0m6 1h0m-37 1h0m34 1h0m-13 1h0m8 0h0m-43 1h0m62 1h0m-16 0h0m1 1h0m-33 2h0m41 1h0m7 1h0m-60 0h0m-5 1h0m31 1h0m6 1h0m-23 1h0m-19 1h0m4 1h0m45 1h0m-19 0h0m17 1h0m-2 0h0m-43 1h0m9 1h0m18 1h0m-30 0h0m58 1h0m1 1h0m-10 1h0m-48 0h0m31 1h0m26 0h0m-63 1h0m25 1h0m21 1h0m15 1h0m-56 1h0m28 1h0m4 1h0m-7 0h0m34 1h0m-28 1h0m-23 1h0m10 1h0m-19 1h0m44 1h0m-41 1h0m33 1h0m20 1h0m-36 1h0m17 1h0m36 2h0m-25 0h0m-18 1h0m-13 2h0m4 0h0m0 2h0m-2 0h0m17 1h0m18 1h0m-48 1h0m32 1h0m-29 0h0m15 1h0m-2 1h0m0 1h0m20 1h0m-26 1h0m-16 1h0m1 1h0m51 2h0m2 1h0m-51 0h0m58 1h0m-52 1h0m49 1h0m1 1h0m8 1h0m-51 1h0m8 2h0m17 0h0m-4 1h0m-39 2h0m19 1h0m-16 1h0m18 2h0m0 2h0m-8 1h0m-12 1h0m6 1h0m1 2h0m-4 1h0m32 2h0m-33 1h0m-2 1h0m22 2h0m-12 3h0m13 3h0m-12 2h0m-9 2h0m58 2h0m-58 3h0m4 2h0m52 2h0m-6 2h0m-4 2h0m-46 4h0m63 9h0m-23 5h0m-44 10h0m13 17h0m129-360h0m-58 35h0m72 13h0m-71 19h0m63 7h0m6 6h0m-9 3h0m-35 5h0m29 5h0m-17 5h0m27 3h0m-15 2h0m-4 3h0m20 3h0m-51 2h0m38 2h0m-17 1h0m6 3h0m32 1h0m-62 1h0m21 1h0m34 2h0m2 1h0m-17 2h0m-7 1h0m24 1h0m-16 1h0m-10 1h0m-11 2h0m13 3h0m16 0h0m3 2h0m-43 1h0m12 1h0m-17 1h0m22 3h0m-30 1h0m50 1h0m-7 0h0m20 2h0m-4 1h0m-48 1h0m45 1h0m8 1h0m-46 1h0m-7 0h0m34 1h0m-47 1h0m23 2h0m45 0h0m-37 1h0m31 1h0m-72 1h0m41 2h0m-27 1h0m31 0h0m-1 2h0m13 0h0m-42 1h0m45 1h0m-37 0h0m36 1h0m16 1h0m-46 1h0m38 1h0m-42 0h0m52 1h0m-74 1h0m20 1h0m-10 1h0m0 0h0m36 1h0m-28 1h0m39 0h0m-36 1h0m19 1h0m-8 1h0m37 1h0m1 1h0m-70 2h0m15 0h0m16 1h0m-30 0h0m64 1h0m-19 1h0m-6 1h0m-15 0h0m20 1h0m-40 1h0m-5 1h0m57 1h0m-32 1h0m-10 0h0m34 2h0m-13 1h0m-5 0h0m39 2h0m-30 1h0m-30 1h0m5 1h0m-12 1h0m63 1h0m2 0h0m-12 1h0m5 1h0m-17 2h0m-45 1h0m15 0h0m-1 1h0m-13 1h0m23 1h0m3 0h0m37 1h0m-54 1h0m63 1h0m-58 1h0m42 1h0m-48 1h0m37 0h0m-39 2h0m53 1h0m-55 0h0m11 2h0m-3 1h0m9 2h0m-23 3h0m17 0h0m-5 2h0m17 3h0m-8 2h0m-4 1h0m6 2h0m-1 0h0m-10 2h0m56 2h0m-54 3h0m-6 1h0m11 3h0m-5 3h0m23 4h0m-32 2h0m0 3h0m2 5h0m11 8h0m4 11h0m-20 10h0m37 9h0m-29 15h0m100-338h0m41 38h0m-37 6h0m43 12h0m-27 4h0m-16 5h0m13 2h0m11 3h0m-51 2h0m71 4h0m-62 1h0m56 2h0m-52 3h0m27 3h0m-22 4h0m33 3h0m-30 2h0m49 2h0m-30 1h0m-20 3h0m38 1h0m-64 1h0m30 1h0m-2 1h0m-4 1h0m43 1h0m-5 1h0m-52 1h0m22 1h0m-26 1h0m3 1h0m51 1h0m-8 1h0m-40 2h0m58 1h0m-51 1h0m20 2h0m-33 1h0m2 1h0m30 0h0m5 1h0m7 1h0m-24 0h0m31 1h0m14 2h0m-69 1h0m37 1h0m17 1h0m10 1h0m-10 0h0m-8 1h0m6 1h0m-11 1h0m32 1h0m-63 1h0m60 1h0m3 1h0m-68 1h0m40 0h0m28 1h0m-36 1h0m33 1h0m-38 2h0m-32 1h0m64 1h0m-55 1h0m17 1h0m44 0h0m-11 1h0m12 1h0m-41 1h0m29 1h0m-2 0h0m-53 1h0m18 1h0m24 0h0m-45 2h0m3 1h0m63 1h0m-64 1h0m7 1h0m12 1h0m-4 1h0m19 1h0m17 1h0m-11 0h0m-30 1h0m2 0h0m11 1h0m-19 1h0m10 1h0m36 2h0m-6 0h0m-44 1h0m24 1h0m-15 0h0m8 2h0m-13 1h0m-12 1h0m29 1h0m8 1h0m-37 1h0m36 1h0m31 1h0m-50 1h0m35 1h0m-48 2h0m6 1h0m20 1h0m8 1h0m17 0h0m-7 1h0m-32 2h0m59 1h0m-21 1h0m-33 2h0m38 1h0m-53 1h0m42 2h0m-8 2h0m-31 3h0m47 1h0m-26 4h0m25 2h0m-38 2h0m-12 2h0m1 6h0m-5 2h0m46 6h0m-38 5h0m19 5h0m13 4h0m-29 4h0m52 6h0m0 10h0m-38 92h0m100-371h0m30 10h0m-16 13h0m-18 6h0m22 9h0m-25 8h0m-38 7h0m16 1h0m54 3h0m-20 1h0m2 3h0m15 3h0m-15 4h0m-4 4h0m-6 2h0m34 2h0m-68 1h0m39 2h0m6 2h0m13 0h0m-26 2h0m7 1h0m8 1h0m-9 2h0m9 1h0m0 2h0m-54 2h0m8 1h0m-7 1h0m57 2h0m2 0h0m12 3h0m-56 2h0m12 2h0m-27 1h0m45 1h0m21 1h0m-46 2h0m27 1h0m-47 3h0m12 1h0m8 1h0m-23 1h0m48 1h0m-1 2h0m-41 1h0m7 2h0m48 1h0m-6 1h0m-41 2h0m6 2h0m-4 1h0m-4 2h0m1 1h0m61 1h0m-32 1h0m-31 2h0m-5 0h0m55 2h0m-37 2h0m21 1h0m13 3h0m-17 3h0m-12 2h0m8 1h0m-34 2h0m-1 1h0m37 2h0m27 3h0m-30 1h0m40 3h0m-69 2h0m25 3h0m-29 3h0m24 2h0m-16 2h0m30 7h0m8 6h0m6 5h0m-44 5h0m-5 3h0m-6 8h0m0 15h0m147-320h0m-25 67h0m-9 7h0m29 23h0m-54 5h0m38 3h0m-43 3h0m53 6h0m-29 6h0m47 4h0m-67 2h0m19 4h0m17 4h0m18 4h0m-37 3h0m28 3h0m-45 2h0m18 3h0m49 5h0m-47 3h0m-8 3h0m34 2h0m-39 2h0m16 4h0m-7 3h0m47 4h0m-41 3h0m-23 1h0m41 3h0m5 3h0m18 2h0m-31 3h0m1 1h0m13 4h0m-47 3h0m48 5h0m20 5h0m-9 3h0m-46 5h0m-9 6h0m9 5h0m57 9h0m-66 31h0m103-250h0m8 49h0m-21 15h0m-5 13h0m-3 6h0m13 14h0m-20 14h0m44 17h0m-37 13h0m33 3h0m-43 36h0m-334 283h0m59-297h0" stroke="#9ACD32" stroke-opacity="0.6" stroke-width="7.2" stroke-linecap="round" fill="none"/>
<path transform="scale(.5)" d="M1316 4530h0m-3 14h0m-21 8h0m21 7h0m0 4h0m0 2h0m0 1h0m0 1h0m0 2h0m-26 3h0m26 2h0m0 2h0m-7 2h0m3 0h0m4 2h0m0 3h0m0 2h0m0 1h0m0 1h0m0 1h0m0 1h0m-26 1h0m26 1h0m-5 1h0m-13 1h0m18 1h0m6 2h0m-7 0h0m-25 1h0m0 2h0m17 1h0m9 2h0m-26 1h0m26 1h0m-26 2h0m26 1h0m-26 3h0m26 2h0m-26 2h0m26 3h0m0 3h0m-26 2h0m0 3h0m3 2h0m23 3h0m0 2h0m0 3h0m0 2h0m0 4h0m3 1h0m-17 1h0m14 2h0m0 3h0m-17 5h0m-5 5h0m12 2h0m-16 6h0m26 8h0m-26 6h0m26 8h0m0 6h0m0 6h0m-26 7h0m18 17h0m86-362h0m3 80h0m-7 31h0m-8 7h0m14 6h0m-39 5h0m24 3h0m11 3h0m1 3h0m1 2h0m7 1h0m-63 1h0m64 2h0m-25 2h0m-20 4h0m9 0h0m27 2h0m3 1h0m-24 2h0m21 2h0m3 1h0m-4 1h0m-33 3h0m-35 2h0m14 1h0m52 1h0m-52 2h0m54 1h0m-54 1h0m0 1h0m19 0h0m22 1h0m-19 1h0m0 1h0m-5 2h0m42 1h0m-45 1h0m29 1h0m3 1h0m-22 1h0m24 1h0m-18 1h0m24 0h0m-23 2h0m7 1h0m-16 1h0m-6 0h0m-13 1h0m31 1h0m-8 0h0m-2 1h0m18 1h0m-13 0h0m-7 1h0m13 1h0m23 0h0m-20 1h0m-23 1h0m-15 0h0m35 1h0m27 0h0m-8 1h0m-21 1h0m-18 0h0m-15 0h0m0 1h0m0 1h0m29 1h0m17 0h0m-17 1h0m-29 0h0m39 1h0m25 1h0m-71 0h0m53 2h0m-46 0h0m28 1h0m21 1h0m-36 1h0m31 1h0m-14 1h0m-30 1h0m47 0h0m-12 1h0m-35 1h0m0 0h0m50 1h0m-41 0h0m8 1h0m-17 0h0m0 1h0m18 1h0m-30 1h0m47 2h0m-19 1h0m40 0h0m1 1h0m-57 2h0m0 1h0m20 2h0m8 1h0m30 2h0m-58 1h0m21 1h0m-21 1h0m55 2h0m-62 2h0m52 1h0m11 1h0m-56 1h0m-6 2h0m36 2h0m7 1h0m-37 1h0m7 1h0m19 1h0m-23 1h0m25 2h0m11 2h0m-49 1h0m60 2h0m-32 2h0m-18 1h0m-4 2h0m26 3h0m-28 1h0m24 1h0m23 1h0m-56 3h0m15 2h0m35 2h0m-50 3h0m34 2h0m-19 3h0m0 4h0m0 1h0m19 6h0m26 4h0m-29 7h0m1 10h0m22 7h0m-20 7h0m-19 13h0m55 7h0m89-341h0m-72 33h0m50 9h0m-22 9h0m19 3h0m-31 3h0m20 2h0m9 3h0m-13 3h0m35 1h0m-15 2h0m9 2h0m-1 1h0m-45 4h0m-1 2h0m50 3h0m-12 3h0m20 2h0m-76 1h0m54 1h0m-19 2h0m-3 2h0m22 2h0m8 1h0m-26 2h0m9 1h0m27 1h0m-25 1h0m15 1h0m-11 1h0m17 1h0m-43 1h0m18 0h0m25 1h0m-32 0h0m9 1h0m-19 1h0m19 2h0m28 1h0m2 2h0m-68 0h0m1 1h0m64 1h0m-20 1h0m-1 0h0m12 1h0m3 2h0m8 0h0m-18 1h0m-13 0h0m-42 1h0m12 1h0m58 1h0m-65 2h0m67 0h0m-24 1h0m-3 1h0m19 1h0m1 1h0m-20 0h0m-46 2h0m27 1h0m-14 1h0m24 0h0m1 1h0m30 1h0m2 1h0m-14 2h0m-58 1h0m29 1h0m41 2h0m-30 1h0m31 1h0m-8 1h0m-35 1h0m34 1h0m-30 1h0m-15 0h0m13 1h0m-14 1h0m4 1h0m56 2h0m-41 1h0m26 1h0m-39 1h0m-4 2h0m18 0h0m4 1h0m35 1h0m-15 1h0m-55 1h0m0 0h0m-2 2h0m24 1h0m-12 0h0m-14 1h0m51 0h0m-38 1h0m21 0h0m6 1h0m-6 2h0m-4 1h0m12 1h0m6 1h0m-17 0h0m-21 1h0m27 0h0m-24 1h0m5 1h0m3 1h0m-9 1h0m2 2h0m22 1h0m-23 2h0m9 0h0m-19 2h0m9 2h0m13 2h0m8 1h0m-32 1h0m50 2h0m27 2h0m-77 3h0m50 1h0m-47 2h0m49 2h0m22 3h0m-66 1h0m10 2h0m17 2h0m-2 1h0m-5 3h0m-15 3h0m31 7h0m-24 3h0m38 5h0m-53 4h0m14 5h0m-10 9h0m39 5h0m18 11h0m-14 16h0m-7 43h0m82-388h0m-5 20h0m-5 10h0m15 8h0m-8 7h0m15 3h0m-61 5h0m23 4h0m44 4h0m-1 3h0m5 4h0m-8 4h0m-1 4h0m-15 4h0m26 2h0m-67 2h0m54 1h0m11 3h0m5 2h0m3 1h0m-20 3h0m10 4h0m-19 2h0m22 1h0m-21 2h0m-30 2h0m14 2h0m-5 1h0m19 1h0m19 2h0m-9 2h0m-14 1h0m12 0h0m9 2h0m-43 1h0m26 1h0m8 2h0m-13 0h0m11 1h0m18 1h0m-9 1h0m-4 0h0m-26 2h0m22 0h0m23 1h0m-35 1h0m20 1h0m-3 1h0m-14 1h0m-20 1h0m19 0h0m8 2h0m15 0h0m-34 1h0m24 2h0m-56 1h0m33 1h0m35 1h0m-38 2h0m-22 0h0m7 1h0m24 1h0m-4 1h0m-11 0h0m-27 1h0m68 1h0m-19 1h0m-26 0h0m-14 2h0m23 1h0m5 0h0m1 1h0m-34 1h0m11 0h0m17 2h0m-28 0h0m54 1h0m-3 1h0m-31 2h0m37 1h0m-3 0h0m-42 1h0m31 1h0m-17 1h0m-8 1h0m9 0h0m16 2h0m-8 0h0m-40 1h0m25 1h0m-21 1h0m60 1h0m-31 1h0m-13 1h0m29 1h0m-41 1h0m12 1h0m48 1h0m-16 1h0m22 1h0m5 1h0m-35 0h0m26 2h0m-18 1h0m-52 1h0m36 1h0m-11 1h0m-10 2h0m-15 1h0m44 1h0m-31 2h0m33 2h0m-9 1h0m-15 1h0m-7 1h0m32 2h0m-16 1h0m-2 1h0m-13 1h0m27 2h0m-21 3h0m-16 2h0m6 3h0m23 3h0m-10 2h0m-19 3h0m1 2h0m68 1h0m-39 3h0m-30 4h0m36 3h0m25 7h0m2 3h0m-45 4h0m-24 6h0m32 10h0m-18 9h0m26 21h0m96-337h0m1 12h0m-29 18h0m43 10h0m-3 6h0m-19 4h0m25 7h0m-28 4h0m20 4h0m-9 3h0m3 4h0m-28 2h0m19 2h0m23 2h0m-13 2h0m16 1h0m3 2h0m-26 2h0m25 3h0m-11 1h0m-20 2h0m-2 1h0m-7 2h0m13 1h0m10 2h0m-39 2h0m5 2h0m36 2h0m7 2h0m-4 1h0m-54 1h0m-6 1h0m14 1h0m-12 1h0m42 1h0m-12 1h0m-25 1h0m1 0h0m-5 1h0m44 1h0m-11 2h0m9 1h0m-17 1h0m9 1h0m1 0h0m5 1h0m1 1h0m-28 1h0m50 0h0m-48 2h0m44 1h0m-62 1h0m70 0h0m-33 1h0m36 1h0m-9 1h0m-8 1h0m1 1h0m-30 0h0m20 1h0m-19 0h0m23 1h0m-29 2h0m45 0h0m-41 2h0m-5 0h0m-9 1h0m55 1h0m-63 0h0m61 1h0m-34 2h0m-10 0h0m48 1h0m-31 1h0m-28 2h0m-12 0h0m32 1h0m16 0h0m20 1h0m-21 1h0m-18 1h0m14 1h0m-39 1h0m58 0h0m-44 1h0m12 1h0m-21 1h0m48 1h0m-47 1h0m28 1h0m23 0h0m-37 1h0m36 1h0m-54 2h0m-3 1h0m21 1h0m9 1h0m17 1h0m24 0h0m-23 1h0m-27 1h0m23 1h0m-32 1h0m-7 1h0m-3 0h0m-2 1h0m45 1h0m-12 1h0m3 1h0m9 1h0m-26 2h0m39 1h0m-35 2h0m-16 1h0m-11 1h0m9 1h0m21 2h0m-28 1h0m4 1h0m-7 2h0m39 1h0m-40 2h0m26 1h0m-4 2h0m13 3h0m-26 2h0m23 2h0m1 3h0m-1 2h0m-23 2h0m43 4h0m-18 1h0m9 2h0m8 3h0m-16 3h0m-29 3h0m-1 4h0m54 2h0m-21 3h0m11 4h0m-40 4h0m50 5h0m-9 6h0m-5 8h0m-42 16h0m148-384h0m-10 58h0m13 25h0m-6 7h0m-25 14h0m22 4h0m12 8h0m-6 4h0m-14 3h0m-25 4h0m32 4h0m-5 2h0m11 2h0m-2 1h0m-4 2h0m-33 1h0m-13 3h0m-3 1h0m38 1h0m1 1h0m-23 3h0m31 1h0m6 2h0m-20 1h0m17 2h0m-25 2h0m25 1h0m-30 1h0m5 1h0m-40 0h0m40 1h0m24 2h0m-42 2h0m42 1h0m-7 1h0m-53 1h0m47 1h0m3 0h0m-40 1h0m51 1h0m-14 1h0m-37 1h0m42 1h0m-4 1h0m-36 1h0m20 0h0m-31 1h0m59 1h0m2 1h0m-43 1h0m-10 1h0m53 1h0m-56 1h0m46 0h0m-45 1h0m11 0h0m-16 1h0m13 1h0m53 1h0m-14 1h0m-56 0h0m19 1h0m-21 1h0m60 0h0m3 1h0m-17 0h0m-38 1h0m11 1h0m42 1h0m2 1h0m-43 1h0m54 1h0m-42 1h0m36 0h0m-17 1h0m-12 1h0m-38 1h0m40 1h0m30 1h0m-38 2h0m-20 0h0m60 1h0m-45 1h0m24 1h0m-40 1h0m33 2h0m-27 1h0m23 1h0m5 1h0m-39 0h0m46 2h0m-24 0h0m-3 1h0m-26 1h0m10 1h0m20 1h0m15 0h0m27 1h0m-25 2h0m29 0h0m-18 1h0m-24 1h0m-10 1h0m-21 2h0m32 1h0m22 1h0m-3 1h0m-13 0h0m-26 2h0m-12 0h0m53 1h0m-5 1h0m-23 2h0m27 1h0m-50 1h0m63 1h0m-43 1h0m25 1h0m-44 2h0m58 1h0m-38 2h0m10 1h0m12 1h0m-43 1h0m34 3h0m10 0h0m-50 2h0m28 1h0m15 1h0m-30 2h0m27 4h0m-41 4h0m50 0h0m-40 2h0m-7 2h0m27 4h0m-22 1h0m42 2h0m1 2h0m-42 2h0m50 6h0m-51 7h0m26 5h0m-25 11h0m46 28h0m63-368h0m32 34h0m9 16h0m-19 15h0m-8 6h0m-11 6h0m22 3h0m-3 5h0m6 5h0m-27 4h0m16 3h0m7 3h0m-36 2h0m25 3h0m15 2h0m10 2h0m-1 2h0m1 2h0m-48 1h0m35 1h0m-46 1h0m13 2h0m35 1h0m-31 2h0m6 2h0m23 0h0m-62 1h0m66 1h0m-23 2h0m-16 3h0m25 0h0m-49 2h0m67 1h0m-31 1h0m-11 2h0m43 2h0m-30 1h0m0 1h0m9 1h0m20 1h0m-35 1h0m-1 2h0m31 1h0m0 1h0m14 0h0m-31 1h0m9 0h0m-13 2h0m-42 1h0m7 0h0m43 1h0m-47 1h0m25 2h0m-10 1h0m-5 1h0m-10 0h0m43 2h0m-34 0h0m23 1h0m-19 1h0m33 0h0m-36 1h0m12 1h0m29 1h0m-7 1h0m25 1h0m-31 0h0m7 1h0m11 1h0m-28 1h0m28 0h0m-60 1h0m59 1h0m2 0h0m-53 1h0m62 1h0m-11 1h0m-44 1h0m49 1h0m1 2h0m-24 0h0m-26 1h0m32 0h0m-13 1h0m-9 1h0m24 1h0m-3 1h0m-34 1h0m59 0h0m-43 1h0m-4 1h0m-6 1h0m46 1h0m-53 1h0m30 1h0m24 1h0m-12 1h0m-30 1h0m13 2h0m-24 0h0m42 1h0m-30 1h0m33 1h0m9 1h0m-24 1h0m7 1h0m24 1h0m-29 0h0m16 1h0m-58 1h0m49 1h0m-28 1h0m-3 1h0m-6 0h0m39 1h0m14 1h0m-60 1h0m9 1h0m-16 1h0m23 1h0m-19 1h0m10 0h0m1 2h0m-15 1h0m13 3h0m47 2h0m-55 1h0m20 2h0m3 2h0m1 2h0m10 1h0m-29 2h0m29 1h0m-29 1h0m-11 2h0m42 3h0m-30 1h0m24 3h0m-6 3h0m16 4h0m10 3h0m-14 2h0m-26 7h0m23 8h0m-21 14h0m-14 6h0m19 11h0m-16 13h0m147-330h0m-13 31h0m-21 6h0m35 12h0m-3 2h0m-18 6h0m11 1h0m-58 3h0m-5 3h0m68 3h0m-12 2h0m-43 2h0m2 4h0m35 1h0m-20 4h0m-30 3h0m70 2h0m-36 2h0m31 1h0m-28 3h0m31 1h0m-59 1h0m48 1h0m-3 1h0m13 2h0m2 0h0m-41 1h0m19 1h0m23 1h0m-41 1h0m-29 1h0m48 1h0m22 2h0m-14 1h0m-2 1h0m-56 1h0m60 2h0m-46 1h0m56 1h0m-18 0h0m1 1h0m-16 1h0m4 0h0m30 1h0m-34 2h0m-36 2h0m53 0h0m0 1h0m-3 1h0m-17 1h0m-2 0h0m-4 1h0m29 1h0m-28 1h0m13 1h0m-24 1h0m53 1h0m-57 1h0m1 1h0m42 0h0m-41 1h0m14 1h0m10 2h0m-1 1h0m7 1h0m-38 1h0m-6 1h0m14 0h0m9 1h0m-1 1h0m18 1h0m-17 1h0m38 0h0m8 1h0m-16 1h0m-26 1h0m42 1h0m-15 1h0m-48 1h0m20 1h0m-14 1h0m29 1h0m-36 1h0m5 1h0m54 1h0m-36 0h0m-24 1h0m20 1h0m33 1h0m-23 0h0m-27 2h0m-8 1h0m60 1h0m-48 0h0m26 1h0m-4 0h0m-11 2h0m9 1h0m-5 1h0m-8 1h0m0 2h0m20 0h0m2 2h0m-41 0h0m54 1h0m-1 1h0m-20 2h0m-21 1h0m34 1h0m-4 1h0m4 0h0m-42 1h0m6 2h0m1 1h0m-12 2h0m44 1h0m-39 2h0m19 1h0m41 1h0m-31 3h0m-19 2h0m-16 1h0m38 5h0m-35 1h0m5 3h0m37 2h0m-30 5h0m33 3h0m-24 6h0m-15 4h0m54 5h0m-59 5h0m-3 4h0m30 5h0m-20 19h0m118-347h0m29 60h0m-30 11h0m2 12h0m-6 6h0m-9 9h0m-15 8h0m28 6h0m28 1h0m-20 3h0m23 1h0m-41 4h0m-14 3h0m21 4h0m-12 4h0m10 1h0m-20 2h0m30 1h0m-16 2h0m21 2h0m-20 0h0m10 2h0m-36 1h0m26 2h0m29 2h0m8 0h0m-69 3h0m21 1h0m41 1h0m-30 2h0m-18 1h0m29 0h0m-12 3h0m-34 2h0m39 2h0m-2 1h0m-1 1h0m40 2h0m-71 1h0m24 2h0m5 2h0m14 1h0m-3 1h0m-18 1h0m38 1h0m-63 2h0m-3 1h0m20 2h0m54 1h0m-65 2h0m-7 1h0m17 2h0m27 1h0m-23 2h0m9 1h0m-21 1h0m19 2h0m12 1h0m25 0h0m-64 2h0m68 2h0m-38 2h0m7 3h0m-33 2h0m51 2h0m-50 1h0m-1 2h0m33 2h0m-26 2h0m24 2h0m1 2h0m-4 2h0m6 3h0m-25 3h0m29 3h0m-7 2h0m1 2h0m-31 7h0m35 6h0m-35 4h0m1 6h0m-10 4h0m1 7h0m4 15h0m110-274h0m39 21h0m-1 10h0m-2 19h0m-14 6h0m8 2h0m-27 4h0m-19 5h0m37 6h0m-15 4h0m-41 3h0m31 3h0m-23 6h0m19 2h0m31 4h0m-47 3h0m44 1h0m-8 4h0m16 5h0m-52 2h0m31 3h0m-18 2h0m-20 2h0m6 5h0m3 3h0m-3 4h0m-9 2h0m-2 1h0m16 4h0m42 3h0m-16 2h0m2 2h0m-41 2h0m2 4h0m58 2h0m2 5h0m-29 5h0m-16 3h0m-4 5h0m24 7h0m-4 5h0m-17 9h0m-9 33h0m123-234h0m-2 33h0m-6 14h0m-5 12h0m24 9h0m-38 14h0m-1 10h0m-11 17h0m-13 13h0m5 11h0m15 35h0m44-188h0m-14 83h0" stroke="#9ACD32" stroke-opacity="0.6" stroke-width="7.2" stroke-linecap="round" fill="none"/>
<path transform="scale(.5)" d="M1313 4520h0m0 13h0m4 6h0m-4 5h0m-25 3h0m20 1h0m5 3h0m0 4h0m0 1h0m0 4h0m0 1h0m0 2h0m-6 1h0m-8 1h0m18 2h0m-4 2h0m0 1h0m0 1h0m-1 1h0m1 2h0m-12 1h0m-14 1h0m0 3h0m0 3h0m26 1h0m-15 2h0m-11 1h0m4 1h0m25 0h0m-29 1h0m0 3h0m26 2h0m-26 2h0m26 2h0m0 2h0m0 2h0m1 3h0m-1 4h0m-26 3h0m26 2h0m0 3h0m-26 3h0m26 3h0m-26 4h0m26 3h0m-26 2h0m0 3h0m30 2h0m2 2h0m-32 5h0m26 7h0m0 7h0m-26 3h0m0 10h0m0 4h0m3 7h0m23 21h0m-7 5h0m90-310h0m-11 34h0m-16 11h0m26 20h0m-27 7h0m6 2h0m10 4h0m13 5h0m-2 3h0m2 3h0m-40 3h0m41 1h0m-43 3h0m21 3h0m20 2h0m-21 0h0m11 3h0m-21 1h0m31 2h0m-15 1h0m-17 0h0m-29 2h0m6 1h0m-6 1h0m47 1h0m10 2h0m-37 1h0m34 1h0m1 1h0m-6 2h0m-10 0h0m-14 2h0m18 1h0m4 1h0m-28 1h0m-19 1h0m20 1h0m2 1h0m21 2h0m-43 1h0m60 0h0m-8 1h0m-23 1h0m-29 1h0m63 0h0m-7 2h0m-36 0h0m-13 1h0m44 1h0m-11 1h0m20 1h0m-1 1h0m-37 1h0m39 1h0m-61 1h0m62 1h0m-43 1h0m-32 0h0m48 2h0m8 0h0m-7 1h0m-2 1h0m-34 1h0m19 1h0m-19 0h0m38 1h0m-17 0h0m3 1h0m-24 0h0m37 1h0m18 1h0m-70 0h0m72 1h0m-57 1h0m0 1h0m65 1h0m-53 1h0m45 1h0m-62 1h0m25 0h0m25 1h0m-45 0h0m35 1h0m-35 0h0m0 1h0m50 1h0m-31 1h0m-19 1h0m38 1h0m6 1h0m-44 0h0m57 2h0m-9 1h0m-22 1h0m-26 1h0m6 1h0m13 1h0m33 0h0m-52 1h0m48 2h0m-4 1h0m-42 1h0m46 1h0m-48 1h0m0 1h0m10 1h0m4 1h0m32 1h0m-46 2h0m0 1h0m48 2h0m5 0h0m-38 1h0m-15 1h0m41 1h0m6 2h0m-47 2h0m61 1h0m-61 1h0m0 2h0m59 2h0m-59 1h0m-2 3h0m14 1h0m20 2h0m-9 4h0m-23 2h0m-5 3h0m33 4h0m-35 2h0m7 5h0m40 3h0m-3 8h0m-43 3h0m6 6h0m-12 8h0m12 11h0m0 5h0m0 13h0m70-345h0m49 33h0m-7 17h0m4 6h0m4 3h0m-3 6h0m13 3h0m-26 2h0m27 4h0m6 3h0m3 2h0m-9 2h0m9 1h0m-32 3h0m20 1h0m16 3h0m-35 0h0m1 2h0m11 2h0m7 1h0m-20 1h0m12 1h0m13 1h0m-8 1h0m-14 2h0m11 1h0m22 1h0m-2 1h0m-60 1h0m5 1h0m28 1h0m11 0h0m-54 1h0m62 1h0m-47 2h0m25 1h0m-3 1h0m11 1h0m-20 0h0m20 2h0m-2 0h0m17 1h0m-23 3h0m18 2h0m-8 1h0m-34 2h0m54 0h0m-45 0h0m-30 1h0m42 1h0m-33 1h0m-5 1h0m50 1h0m-24 1h0m-32 1h0m56 1h0m-36 1h0m8 0h0m42 1h0m-18 1h0m17 0h0m-17 1h0m-31 2h0m-19 0h0m52 2h0m-6 1h0m-7 1h0m29 1h0m-24 0h0m4 2h0m-28 0h0m26 1h0m26 1h0m-34 1h0m6 1h0m-40 1h0m49 1h0m-50 2h0m72 0h0m-11 1h0m-49 1h0m24 0h0m20 0h0m-52 1h0m26 2h0m37 1h0m-29 0h0m34 1h0m-22 0h0m-27 1h0m9 1h0m-3 1h0m7 1h0m-25 1h0m-9 2h0m22 1h0m15 1h0m-11 1h0m-30 1h0m48 0h0m-47 1h0m42 1h0m-3 2h0m-9 1h0m-14 0h0m21 1h0m-22 1h0m2 2h0m-9 1h0m44 1h0m20 1h0m-20 1h0m-26 2h0m-11 1h0m-13 2h0m5 1h0m-6 1h0m31 1h0m42 1h0m-70 1h0m70 1h0m-47 0h0m9 2h0m-20 2h0m43 3h0m-61 2h0m31 1h0m23 2h0m-48 2h0m5 1h0m-13 2h0m33 2h0m-6 1h0m0 2h0m3 5h0m-22 2h0m58 2h0m-32 2h0m-15 4h0m6 2h0m-3 5h0m-10 6h0m43 5h0m-33 13h0m31 15h0m-51 31h0m122-367h0m5 39h0m31 14h0m-1 6h0m-43 4h0m42 4h0m-7 4h0m-28 2h0m10 6h0m-21 5h0m45 3h0m-10 0h0m-10 2h0m-20 2h0m39 1h0m1 2h0m0 1h0m-61 2h0m61 1h0m-34 1h0m29 1h0m6 1h0m-7 2h0m7 2h0m-74 1h0m8 1h0m14 1h0m54 1h0m-78 1h0m45 1h0m7 1h0m15 2h0m-59 2h0m21 1h0m14 2h0m30 1h0m4 1h0m-57 2h0m45 1h0m-21 1h0m-40 2h0m70 1h0m-26 1h0m10 0h0m0 2h0m-22 1h0m23 1h0m10 1h0m-17 1h0m-49 1h0m72 1h0m-31 1h0m16 0h0m-5 1h0m-28 2h0m14 1h0m24 1h0m-42 1h0m51 1h0m-38 1h0m25 1h0m1 1h0m-23 0h0m0 1h0m-13 1h0m-27 1h0m74 2h0m-66 0h0m35 1h0m-18 0h0m-8 2h0m32 1h0m-3 0h0m-36 1h0m-2 1h0m7 1h0m14 1h0m-15 1h0m56 1h0m-2 1h0m-23 0h0m18 1h0m-39 0h0m-16 2h0m67 0h0m-19 1h0m-42 1h0m39 1h0m22 1h0m-33 1h0m-37 0h0m73 1h0m-73 1h0m62 1h0m-40 0h0m-14 1h0m5 0h0m60 1h0m-73 1h0m27 0h0m-10 1h0m0 1h0m-21 1h0m70 1h0m-40 2h0m-11 1h0m53 1h0m-71 1h0m22 2h0m-22 1h0m16 2h0m49 1h0m-34 1h0m39 0h0m-45 2h0m21 1h0m-11 2h0m-10 2h0m-24 1h0m64 1h0m-54 1h0m-2 1h0m19 1h0m-8 3h0m28 1h0m-20 2h0m-24 2h0m37 2h0m16 3h0m-47 2h0m55 1h0m-49 2h0m-1 2h0m26 3h0m-24 2h0m0 4h0m-15 1h0m8 5h0m10 4h0m-15 8h0m26 5h0m-16 5h0m54 7h0m-23 43h0m62-392h0m21 39h0m-5 12h0m20 21h0m-26 7h0m31 7h0m-8 4h0m7 3h0m-35 4h0m-25 3h0m65 1h0m-2 2h0m-33 2h0m34 3h0m-11 6h0m-45 2h0m60 2h0m-37 1h0m-23 3h0m7 1h0m33 2h0m-33 1h0m-12 2h0m37 2h0m-36 1h0m33 2h0m-30 1h0m20 1h0m26 1h0m7 1h0m-40 1h0m46 1h0m-40 1h0m-36 0h0m33 1h0m16 2h0m17 1h0m-14 1h0m26 1h0m-64 1h0m38 1h0m1 1h0m-19 1h0m19 1h0m-2 1h0m15 1h0m7 0h0m-12 2h0m-60 2h0m6 1h0m7 1h0m33 1h0m16 1h0m10 1h0m-53 1h0m-4 0h0m49 2h0m-17 1h0m10 1h0m8 1h0m2 0h0m-57 1h0m65 1h0m-49 1h0m28 0h0m-9 1h0m0 2h0m-17 0h0m36 0h0m-44 2h0m47 0h0m-37 1h0m39 1h0m-42 1h0m16 2h0m11 1h0m-25 0h0m31 1h0m-35 1h0m-16 1h0m46 1h0m-20 0h0m-18 1h0m29 2h0m-8 1h0m35 1h0m-50 1h0m-10 1h0m52 0h0m-63 1h0m9 1h0m22 1h0m9 1h0m7 1h0m-45 0h0m12 2h0m0 1h0m28 0h0m-6 1h0m-19 1h0m32 1h0m-26 1h0m5 1h0m29 1h0m18 2h0m-2 1h0m-67 1h0m22 2h0m6 1h0m-12 1h0m-26 1h0m47 1h0m29 0h0m-26 2h0m-31 0h0m29 2h0m-40 1h0m40 1h0m-24 1h0m4 0h0m17 2h0m-25 1h0m-19 2h0m28 1h0m0 1h0m-5 2h0m-13 1h0m30 2h0m15 1h0m-14 2h0m14 1h0m-8 2h0m-5 0h0m-2 3h0m9 2h0m12 2h0m-60 4h0m47 2h0m-47 2h0m28 1h0m7 2h0m2 2h0m10 2h0m-21 5h0m-12 5h0m-5 5h0m12 8h0m-20 9h0m43 9h0m-45 18h0m52 29h0m82-366h0m-11 27h0m27 19h0m-9 3h0m-30 5h0m48 3h0m-50 7h0m11 3h0m33 2h0m-33 2h0m36 4h0m1 1h0m-67 2h0m41 2h0m4 0h0m-2 4h0m-8 1h0m30 2h0m-16 3h0m-12 2h0m-13 1h0m31 1h0m-19 2h0m20 1h0m6 1h0m-69 2h0m42 1h0m-10 1h0m-22 1h0m63 1h0m-25 1h0m17 1h0m-20 1h0m18 0h0m13 2h0m-9 1h0m6 1h0m-13 1h0m-9 2h0m-7 1h0m-31 2h0m54 0h0m-68 1h0m6 2h0m2 0h0m-2 1h0m22 1h0m32 0h0m2 1h0m-17 1h0m6 1h0m5 1h0m-43 1h0m28 1h0m-33 1h0m32 0h0m-42 1h0m29 2h0m12 1h0m-18 2h0m-14 1h0m13 0h0m-19 1h0m28 1h0m3 0h0m-29 1h0m21 0h0m36 1h0m-41 1h0m7 0h0m19 1h0m10 1h0m9 1h0m-11 0h0m19 1h0m-2 0h0m-3 1h0m-49 1h0m55 0h0m-27 1h0m-34 2h0m26 0h0m13 1h0m-37 0h0m1 1h0m33 1h0m-11 1h0m-19 0h0m9 1h0m-1 1h0m30 1h0m-51 1h0m38 1h0m-19 0h0m11 1h0m-12 0h0m50 2h0m-58 1h0m10 1h0m-25 1h0m12 1h0m3 1h0m15 1h0m32 1h0m-42 0h0m-12 1h0m52 2h0m-52 1h0m0 0h0m21 1h0m9 1h0m-27 2h0m42 1h0m-12 0h0m-29 1h0m25 1h0m38 1h0m-75 2h0m35 0h0m2 1h0m-18 1h0m-9 2h0m54 1h0m-35 2h0m38 2h0m-39 1h0m-5 1h0m47 1h0m-36 1h0m15 2h0m-48 1h0m43 1h0m-43 1h0m49 2h0m4 3h0m-22 1h0m-1 1h0m-27 2h0m40 1h0m-42 3h0m44 3h0m-46 3h0m14 5h0m-15 5h0m11 5h0m19 5h0m6 9h0m-16 13h0m5 13h0m-8 45h0m83-364h0m-14 25h0m47 9h0m24 5h0m-7 7h0m-5 4h0m-14 3h0m-1 2h0m24 4h0m-62 2h0m60 5h0m-18 3h0m-33 1h0m53 2h0m-7 2h0m-10 2h0m-13 1h0m1 1h0m19 2h0m-8 1h0m8 1h0m-57 1h0m-6 1h0m72 0h0m-47 2h0m-25 2h0m54 0h0m20 2h0m-17 1h0m-25 1h0m-13 2h0m5 1h0m-7 1h0m41 1h0m-10 1h0m-3 1h0m5 1h0m-24 1h0m13 1h0m-25 2h0m51 1h0m-28 1h0m18 1h0m13 0h0m-1 1h0m-34 0h0m18 1h0m21 0h0m0 1h0m2 2h0m-42 1h0m12 0h0m31 1h0m-32 1h0m7 1h0m-18 1h0m0 1h0m-3 1h0m15 1h0m28 1h0m-44 1h0m38 0h0m-43 1h0m-3 0h0m45 1h0m-49 1h0m-13 0h0m22 1h0m33 1h0m3 1h0m-5 1h0m-30 1h0m-23 0h0m45 1h0m-23 1h0m37 0h0m-61 1h0m9 1h0m-6 1h0m8 1h0m51 1h0m-31 1h0m25 1h0m-35 0h0m15 1h0m-25 1h0m62 1h0m-63 0h0m10 1h0m13 1h0m17 1h0m10 1h0m-10 1h0m-16 1h0m-11 0h0m9 1h0m-9 1h0m2 0h0m9 1h0m17 1h0m-32 1h0m0 1h0m11 1h0m13 1h0m-3 1h0m35 2h0m-71 2h0m26 2h0m5 1h0m-30 1h0m2 2h0m19 1h0m-21 2h0m41 1h0m3 0h0m-49 2h0m0 3h0m-3 1h0m53 1h0m14 1h0m-56 1h0m22 0h0m-29 2h0m30 2h0m-16 2h0m37 2h0m-19 1h0m-18 1h0m-19 1h0m21 1h0m-6 2h0m-1 0h0m-13 5h0m25 2h0m22 2h0m-10 5h0m-31 3h0m12 3h0m5 4h0m33 3h0m-33 4h0m-1 6h0m43 5h0m-56 2h0m9 12h0m10 15h0m0 47h0m113-375h0m-50 23h0m62 17h0m-13 8h0m15 6h0m2 4h0m0 8h0m-44 5h0m-21 4h0m44 3h0m0 3h0m2 1h0m-23 2h0m-12 3h0m12 2h0m33 2h0m-5 2h0m-56 1h0m8 3h0m52 2h0m0 1h0m9 2h0m-35 1h0m-19 1h0m16 1h0m16 1h0m-54 1h0m51 1h0m18 1h0m0 1h0m-30 1h0m-37 1h0m73 1h0m-60 1h0m34 2h0m-49 1h0m6 2h0m49 1h0m-41 0h0m38 2h0m-10 0h0m19 2h0m-24 0h0m31 1h0m-34 1h0m40 0h0m1 2h0m-46 1h0m5 2h0m-15 0h0m55 2h0m-35 0h0m36 1h0m-69 1h0m73 1h0m-45 2h0m-20 1h0m16 1h0m18 1h0m-8 1h0m-35 1h0m62 0h0m-61 1h0m12 1h0m33 1h0m2 1h0m-9 1h0m-44 0h0m4 1h0m29 1h0m-14 1h0m47 2h0m-25 0h0m35 1h0m-74 1h0m8 1h0m49 0h0m-21 0h0m-37 1h0m35 2h0m-4 1h0m-14 2h0m-17 2h0m55 1h0m-7 1h0m-38 1h0m-9 1h0m3 2h0m0 1h0m1 1h0m41 2h0m-26 1h0m57 1h0m-50 1h0m-26 2h0m17 1h0m52 1h0m-71 2h0m47 1h0m-6 2h0m-34 1h0m-2 1h0m69 1h0m-69 2h0m13 2h0m8 1h0m4 2h0m-27 2h0m6 1h0m16 1h0m-15 3h0m45 2h0m-17 2h0m-7 2h0m22 1h0m-27 3h0m-16 4h0m20 5h0m-6 7h0m-20 8h0m4 4h0m-2 4h0m7 5h0m6 7h0m27 25h0m88-342h0m-2 48h0m-40 12h0m31 9h0m4 3h0m-36 7h0m57 7h0m-59 4h0m56 5h0m-46 4h0m58 4h0m-29 1h0m16 2h0m-30 3h0m45 3h0m-10 2h0m-30 1h0m23 2h0m-22 2h0m13 2h0m-47 2h0m66 1h0m-26 2h0m-41 0h0m58 1h0m14 0h0m-13 3h0m-47 1h0m35 2h0m-7 0h0m-44 2h0m41 1h0m-10 2h0m-31 1h0m7 1h0m36 1h0m-2 1h0m6 1h0m-2 2h0m15 1h0m-57 2h0m36 1h0m-41 0h0m47 2h0m-14 1h0m-26 2h0m67 1h0m-39 0h0m-25 1h0m-4 2h0m43 1h0m-12 2h0m-11 1h0m34 0h0m-57 2h0m2 2h0m7 1h0m-10 2h0m15 1h0m37 2h0m-29 2h0m41 1h0m-54 2h0m-2 2h0m-3 2h0m0 1h0m1 2h0m55 2h0m-38 1h0m30 3h0m15 2h0m-29 2h0m30 6h0m-33 2h0m40 3h0m-54 5h0m35 1h0m1 4h0m-57 4h0m23 3h0m5 3h0m-27 8h0m15 9h0m-11 24h0m37 30h0m92-309h0m-18 22h0m-27 23h0m36 11h0m-6 7h0m13 5h0m-28 5h0m15 2h0m-32 4h0m66 6h0m-71 4h0m64 2h0m-14 5h0m-39 2h0m24 2h0m37 4h0m-43 2h0m-32 1h0m7 4h0m24 0h0m-29 2h0m42 3h0m-46 3h0m42 1h0m-3 2h0m41 3h0m-53 3h0m18 1h0m-1 2h0m-12 2h0m-29 3h0m39 3h0m-32 2h0m16 2h0m-24 4h0m52 4h0m-47 6h0m28 5h0m-19 7h0m10 4h0m-7 3h0m13 4h0m6 2h0m-31 10h0m-1 30h0m19 54h0m103-269h0m-24 25h0m28 21h0m-49 12h0m36 6h0m-5 19h0m-4 6h0m30 12h0m-55 40h0m-143-84h0m-55 153h0" stroke="#EE30A7" stroke-opacity="0.6" stroke-width="7.2" stroke-linecap="round" fill="none"/>
<path transform="scale(.5)" d="M1313 4502h0m-12 14h0m12 8h0m-14 4h0m-12 4h0m26 4h0m0 5h0m0 5h0m-19 2h0m19 2h0m-26 2h0m26 2h0m-26 0h0m26 2h0m-26 0h0m16 2h0m13 1h0m-29 1h0m26 1h0m0 2h0m0 2h0m0 1h0m0 1h0m0 1h0m1 1h0m-27 0h0m26 2h0m-26 2h0m30 1h0m-30 2h0m12 2h0m-12 2h0m0 2h0m4 1h0m-4 1h0m0 1h0m22 3h0m4 3h0m1 1h0m-1 3h0m-26 1h0m33 2h0m-7 1h0m0 3h0m1 3h0m-1 2h0m0 3h0m-25 2h0m25 3h0m0 2h0m5 2h0m-31 1h0m26 5h0m-5 4h0m5 2h0m0 4h0m0 4h0m0 4h0m-26 5h0m26 17h0m-26 8h0m26 10h0m0 9h0m-26 17h0m108-308h0m-14 18h0m-17 18h0m35 9h0m-1 8h0m-38 7h0m31 5h0m-19 5h0m3 3h0m-38 3h0m-2 3h0m55 3h0m7 2h0m-32 2h0m34 2h0m-64 1h0m15 0h0m47 1h0m-62 2h0m44 1h0m-23 1h0m0 1h0m33 2h0m-22 1h0m10 1h0m-35 1h0m-7 1h0m27 1h0m38 1h0m-8 1h0m-12 1h0m19 0h0m-36 2h0m12 1h0m-21 1h0m44 1h0m-63 1h0m19 1h0m11 2h0m12 0h0m-6 1h0m-47 0h0m33 1h0m-8 0h0m37 2h0m-28 0h0m29 1h0m-34 1h0m22 1h0m-55 1h0m62 1h0m-47 1h0m47 1h0m-19 0h0m16 1h0m-27 1h0m-17 1h0m0 1h0m34 1h0m-34 1h0m19 0h0m23 1h0m10 1h0m-21 0h0m-31 1h0m0 1h0m19 1h0m5 1h0m0 1h0m-9 0h0m-15 1h0m24 0h0m3 1h0m6 1h0m-33 0h0m14 1h0m45 1h0m0 0h0m-44 1h0m15 0h0m-30 1h0m31 1h0m-31 1h0m0 1h0m9 0h0m55 1h0m-17 1h0m-47 0h0m17 1h0m3 1h0m23 1h0m20 0h0m-40 1h0m21 1h0m-44 0h0m43 1h0m-43 0h0m24 1h0m24 0h0m-20 1h0m-20 1h0m7 2h0m14 0h0m-29 2h0m0 1h0m0 1h0m-9 2h0m18 1h0m34 2h0m-43 2h0m-15 1h0m15 2h0m19 1h0m-25 1h0m69 1h0m-21 1h0m-42 1h0m49 1h0m-10 0h0m-39 2h0m-8 2h0m54 2h0m-46 2h0m54 2h0m-54 1h0m0 2h0m35 1h0m-45 2h0m7 2h0m5 2h0m-2 3h0m0 2h0m29 3h0m-29 3h0m47 9h0m-57 2h0m73 5h0m-63 3h0m25 3h0m14 12h0m-21 8h0m8 4h0m-26 7h0m5 8h0m133-354h0m2 35h0m-28 14h0m2 3h0m26 10h0m-21 5h0m-10 8h0m12 2h0m10 2h0m-2 4h0m-46 2h0m14 5h0m3 5h0m39 3h0m-22 2h0m25 2h0m-69 1h0m67 1h0m-38 2h0m14 2h0m2 2h0m8 2h0m6 1h0m-63 1h0m74 0h0m-30 3h0m13 1h0m-50 3h0m3 1h0m26 0h0m22 1h0m11 1h0m5 2h0m-71 1h0m18 2h0m52 1h0m-7 2h0m-2 1h0m-17 1h0m25 2h0m-34 1h0m-13 1h0m-23 2h0m26 0h0m10 1h0m36 1h0m-18 1h0m1 0h0m-40 1h0m19 0h0m-21 1h0m39 1h0m-39 0h0m41 2h0m-30 0h0m-16 1h0m25 1h0m-33 1h0m43 1h0m3 0h0m10 1h0m-19 2h0m16 1h0m-8 1h0m-13 1h0m6 0h0m-13 1h0m-15 1h0m42 1h0m-35 0h0m-9 1h0m24 0h0m-2 2h0m4 1h0m0 1h0m27 0h0m-6 1h0m-14 2h0m-37 1h0m55 0h0m-54 1h0m28 1h0m-2 1h0m39 0h0m-24 2h0m-24 1h0m18 1h0m21 1h0m-50 2h0m32 1h0m-32 0h0m2 1h0m11 1h0m30 1h0m-35 1h0m-14 1h0m19 2h0m40 1h0m-62 1h0m-7 1h0m28 0h0m-5 1h0m47 1h0m-38 1h0m16 1h0m-22 1h0m0 2h0m-13 1h0m47 2h0m-42 1h0m54 1h0m-27 1h0m-10 1h0m-26 0h0m1 1h0m17 2h0m-3 0h0m-5 2h0m-10 2h0m-7 1h0m10 4h0m28 0h0m10 1h0m11 1h0m-55 2h0m-3 2h0m21 1h0m-12 3h0m-4 3h0m20 4h0m3 4h0m-5 1h0m37 1h0m-22 5h0m-13 2h0m-28 5h0m59 4h0m18 3h0m-52 6h0m-15 6h0m19 11h0m-5 18h0m35 21h0m92-344h0m-38 20h0m35 10h0m8 6h0m-35 5h0m-23 5h0m29 2h0m29 3h0m-35 3h0m-26 3h0m36 4h0m18 2h0m-43 7h0m16 1h0m36 2h0m-20 2h0m2 1h0m9 1h0m-48 2h0m55 1h0m-60 2h0m58 2h0m-14 2h0m-5 1h0m10 1h0m-24 1h0m8 2h0m28 1h0m-32 1h0m30 2h0m-33 2h0m22 1h0m7 2h0m-31 0h0m17 1h0m-49 1h0m41 1h0m-1 1h0m16 0h0m-12 1h0m0 1h0m26 0h0m-3 0h0m-43 1h0m37 0h0m-44 2h0m6 1h0m-7 1h0m49 1h0m-54 1h0m23 1h0m2 1h0m-42 1h0m63 1h0m-16 2h0m22 0h0m-25 2h0m-5 2h0m12 1h0m-31 1h0m35 0h0m-41 1h0m22 1h0m28 1h0m-49 0h0m-14 1h0m53 1h0m-25 0h0m-18 1h0m3 1h0m43 0h0m-34 1h0m25 1h0m6 0h0m-7 1h0m28 1h0m-47 1h0m27 2h0m-16 1h0m-8 1h0m-7 2h0m-10 0h0m7 1h0m-1 1h0m-10 1h0m-5 1h0m60 0h0m-33 1h0m10 1h0m-22 1h0m29 0h0m-44 1h0m-2 1h0m13 1h0m-9 1h0m3 1h0m27 1h0m-36 1h0m51 1h0m10 1h0m-51 1h0m-7 1h0m14 1h0m-21 1h0m53 2h0m-28 1h0m47 0h0m-37 1h0m19 1h0m-16 1h0m17 2h0m2 1h0m-9 2h0m15 2h0m-51 1h0m45 1h0m3 0h0m-59 2h0m75 2h0m-76 2h0m27 1h0m-1 2h0m26 0h0m-31 2h0m24 3h0m-21 1h0m40 2h0m-27 2h0m2 1h0m29 3h0m-14 1h0m-53 2h0m8 2h0m48 1h0m-53 2h0m49 1h0m20 4h0m-48 4h0m22 8h0m7 4h0m-23 4h0m-2 5h0m-19 11h0m-5 26h0m132-358h0m-11 22h0m0 10h0m-34 13h0m63 11h0m-23 4h0m-20 11h0m43 3h0m-10 3h0m-12 6h0m10 3h0m-42 2h0m32 4h0m13 1h0m-31 2h0m39 0h0m-58 1h0m60 1h0m-64 2h0m45 1h0m1 3h0m12 2h0m-67 2h0m16 3h0m-5 2h0m52 1h0m-44 0h0m51 2h0m-11 1h0m1 1h0m-8 1h0m-49 3h0m48 1h0m-8 2h0m-3 1h0m16 1h0m-2 1h0m-10 1h0m-8 1h0m17 1h0m5 1h0m9 1h0m4 1h0m-11 1h0m-35 0h0m20 1h0m-10 1h0m13 1h0m-4 2h0m-17 0h0m6 1h0m-25 0h0m48 2h0m7 1h0m6 0h0m-26 1h0m19 1h0m-31 1h0m15 1h0m-17 2h0m-16 0h0m43 1h0m19 1h0m-15 1h0m-12 1h0m-31 1h0m33 1h0m7 1h0m5 1h0m14 1h0m-56 0h0m38 1h0m-47 1h0m42 0h0m-19 1h0m-23 2h0m-3 0h0m11 1h0m29 1h0m-37 1h0m49 0h0m-59 1h0m38 0h0m4 1h0m27 0h0m-16 1h0m-24 1h0m-6 1h0m-2 1h0m10 0h0m-8 1h0m40 1h0m-48 1h0m35 1h0m-36 0h0m42 2h0m12 1h0m-44 1h0m52 2h0m-62 0h0m24 2h0m-16 0h0m-4 1h0m-7 1h0m-14 0h0m49 1h0m-46 1h0m36 1h0m-35 1h0m-4 1h0m11 1h0m28 0h0m39 1h0m-37 2h0m-32 1h0m15 2h0m45 0h0m-58 1h0m29 2h0m-17 1h0m16 1h0m-26 1h0m32 1h0m-26 3h0m24 2h0m-14 0h0m-22 2h0m10 2h0m-2 2h0m11 2h0m-18 1h0m-5 3h0m74 2h0m-69 2h0m44 3h0m-50 1h0m15 3h0m20 3h0m-26 7h0m49 2h0m-51 5h0m53 6h0m-51 4h0m4 5h0m34 6h0m-40 8h0m9 14h0m82-369h0m51 49h0m-11 29h0m-43 6h0m48 7h0m-40 5h0m9 7h0m-7 4h0m30 3h0m10 4h0m-45 2h0m41 2h0m-10 2h0m-34 3h0m15 2h0m15 2h0m28 3h0m-14 1h0m-26 1h0m35 2h0m-12 1h0m5 1h0m-2 1h0m-10 1h0m-40 1h0m65 2h0m-4 1h0m-59 3h0m-6 2h0m17 1h0m39 2h0m-38 0h0m36 1h0m14 2h0m-8 0h0m-43 1h0m12 1h0m33 1h0m-54 1h0m59 1h0m-36 1h0m16 2h0m-37 1h0m52 0h0m7 1h0m-36 1h0m24 1h0m-50 1h0m55 1h0m-16 1h0m-9 1h0m-35 1h0m11 0h0m55 1h0m-47 1h0m29 1h0m4 1h0m-42 1h0m-22 0h0m42 1h0m-2 1h0m29 0h0m-61 1h0m63 0h0m-8 1h0m7 1h0m4 0h0m5 1h0m-32 0h0m-16 1h0m-5 1h0m16 1h0m-36 1h0m70 1h0m-39 1h0m33 1h0m-70 1h0m6 0h0m56 1h0m-19 0h0m35 1h0m-71 1h0m26 1h0m6 2h0m-23 1h0m45 0h0m-35 1h0m47 1h0m-66 1h0m18 1h0m53 1h0m-19 1h0m-4 1h0m8 1h0m3 0h0m9 1h0m-38 1h0m38 1h0m-60 0h0m42 1h0m-50 1h0m-3 1h0m48 0h0m27 1h0m-73 1h0m29 2h0m-16 1h0m-13 1h0m12 1h0m15 1h0m14 0h0m-37 1h0m22 1h0m2 1h0m-1 1h0m-28 0h0m47 1h0m-41 1h0m19 2h0m6 1h0m-6 0h0m-15 2h0m-9 1h0m0 1h0m74 2h0m-10 3h0m-46 1h0m-3 1h0m8 1h0m6 1h0m36 2h0m-66 1h0m58 1h0m-6 2h0m-24 2h0m-6 2h0m-20 2h0m65 2h0m-37 3h0m-29 2h0m-6 2h0m30 2h0m-8 1h0m48 2h0m-7 2h0m-50 2h0m42 3h0m-15 7h0m-39 7h0m42 5h0m0 10h0m-25 29h0m-3 22h0m133-374h0m-62 28h0m28 13h0m44 8h0m-55 10h0m-7 2h0m39 6h0m-11 2h0m12 8h0m19 1h0m-25 3h0m-34 1h0m47 3h0m-20 3h0m34 3h0m-19 2h0m-2 2h0m10 2h0m-1 1h0m-29 2h0m25 2h0m11 1h0m-4 1h0m2 2h0m-36 1h0m27 1h0m11 2h0m-24 1h0m-7 1h0m14 1h0m-18 1h0m22 1h0m12 1h0m-21 1h0m20 1h0m4 1h0m-56 1h0m16 0h0m44 1h0m2 2h0m-46 1h0m-19 1h0m25 1h0m29 0h0m-66 1h0m22 1h0m30 0h0m24 2h0m-38 0h0m-7 1h0m-11 1h0m23 1h0m31 1h0m-75 0h0m59 1h0m17 1h0m-33 2h0m34 0h0m-31 1h0m-1 1h0m-25 1h0m47 1h0m-60 1h0m40 1h0m-1 0h0m13 1h0m-3 1h0m-36 1h0m9 1h0m-15 1h0m-16 1h0m42 1h0m31 0h0m-60 1h0m40 1h0m-9 2h0m-10 0h0m41 1h0m-52 1h0m-5 0h0m14 1h0m23 1h0m-14 1h0m10 0h0m-49 1h0m34 1h0m20 1h0m-29 1h0m-11 1h0m26 1h0m-32 1h0m51 1h0m11 0h0m-10 2h0m-15 1h0m5 1h0m-32 0h0m59 1h0m-42 1h0m-15 0h0m-5 2h0m22 1h0m-38 1h0m53 0h0m6 1h0m1 2h0m-47 1h0m-9 0h0m61 1h0m-35 2h0m16 1h0m-28 1h0m-12 0h0m16 1h0m33 2h0m-49 2h0m64 0h0m-49 1h0m-8 2h0m38 2h0m-51 2h0m76 1h0m-38 2h0m-34 1h0m0 2h0m1 1h0m29 2h0m-18 2h0m-2 0h0m7 2h0m33 1h0m-15 1h0m-3 2h0m-33 1h0m45 2h0m-14 2h0m-3 4h0m-4 6h0m33 3h0m-49 3h0m-3 4h0m8 4h0m8 3h0m-4 11h0m24 12h0m-33 20h0m138-353h0m-1 39h0m-31 21h0m-26 7h0m30 7h0m-30 7h0m-11 2h0m4 3h0m55 5h0m8 4h0m-43 2h0m43 0h0m-26 2h0m-24 3h0m0 3h0m12 1h0m48 2h0m-8 2h0m-15 2h0m25 2h0m-6 1h0m-42 2h0m29 2h0m7 2h0m-28 1h0m20 1h0m0 1h0m14 2h0m-27 1h0m18 2h0m-6 1h0m8 2h0m11 1h0m-48 1h0m15 1h0m5 2h0m-13 0h0m-16 1h0m28 1h0m11 1h0m-15 2h0m23 1h0m-48 1h0m11 1h0m42 2h0m-47 1h0m28 1h0m-51 1h0m20 1h0m-21 0h0m49 1h0m-37 1h0m19 1h0m-18 1h0m19 0h0m-1 1h0m14 2h0m-16 0h0m25 1h0m-32 1h0m-18 1h0m0 1h0m34 1h0m16 0h0m-11 1h0m6 1h0m-25 1h0m-8 0h0m-6 1h0m55 1h0m-43 1h0m11 1h0m-6 1h0m11 1h0m-26 1h0m54 1h0m-42 0h0m11 1h0m13 1h0m15 1h0m-37 1h0m-9 1h0m-16 1h0m15 1h0m-3 1h0m19 1h0m-22 1h0m43 1h0m-54 2h0m4 2h0m24 1h0m-20 2h0m40 1h0m-8 2h0m11 1h0m-37 1h0m41 2h0m-9 1h0m-35 1h0m39 2h0m-21 0h0m-21 1h0m4 2h0m0 2h0m10 1h0m-11 2h0m34 2h0m-14 2h0m-26 1h0m-6 2h0m0 2h0m8 4h0m57 1h0m-21 2h0m6 3h0m3 1h0m-22 3h0m14 4h0m-38 1h0m10 4h0m-15 5h0m53 4h0m-54 3h0m15 14h0m-3 9h0m87-324h0m-7 56h0m61 19h0m-69 7h0m60 4h0m-38 7h0m25 2h0m23 3h0m4 6h0m-58 4h0m40 3h0m-28 2h0m-3 3h0m1 1h0m-6 1h0m48 3h0m-1 1h0m-10 2h0m-8 1h0m-47 2h0m53 0h0m-4 2h0m-32 3h0m9 1h0m41 2h0m-74 2h0m63 2h0m-8 1h0m-14 1h0m10 1h0m-29 1h0m30 1h0m-30 1h0m38 0h0m-30 1h0m-4 2h0m-4 1h0m21 2h0m4 1h0m-13 1h0m41 1h0m-48 1h0m-7 2h0m9 1h0m5 1h0m12 2h0m-46 1h0m42 2h0m9 1h0m19 2h0m-63 2h0m1 2h0m-2 2h0m31 1h0m-29 1h0m23 2h0m-16 2h0m3 2h0m3 2h0m-1 1h0m-18 3h0m2 2h0m10 1h0m-7 3h0m47 1h0m-17 2h0m29 1h0m-12 1h0m-9 3h0m-31 1h0m-13 2h0m33 2h0m21 3h0m19 4h0m-39 3h0m34 6h0m-56 4h0m-12 7h0m34 7h0m-13 6h0m7 12h0m-4 16h0m91-266h0m14 23h0m11 10h0m2 12h0m-32 3h0m-14 4h0m52 3h0m3 4h0m-32 3h0m28 2h0m-10 3h0m-25 2h0m-9 1h0m22 4h0m-45 3h0m45 4h0m10 2h0m-9 3h0m-23 3h0m24 4h0m-5 2h0m-41 2h0m15 4h0m58 3h0m-43 3h0m-28 2h0m-2 1h0m63 2h0m-31 2h0m16 4h0m-12 4h0m25 3h0m-47 3h0m26 7h0m-37 5h0m33 5h0m-1 4h0m-4 3h0m-7 14h0m44 16h0m-61 19h0m11 30h0m90-258h0m-4 32h0m7 10h0m-7 10h0m10 8h0m-13 7h0m-19 13h0m0 15h0m22 18h0m-14 33h0m-160 86h0m7 104h0" stroke="#4A77FB" stroke-opacity="0.6" stroke-width="7.2" stroke-linecap="round" fill="none"/>
<path transform="scale(.5)" d="M1287 4509h0m26 8h0m-26 8h0m26 6h0m-26 2h0m26 5h0m0 3h0m-26 6h0m26 1h0m-26 2h0m13 2h0m13 2h0m0 1h0m0 1h0m-4 1h0m4 1h0m0 1h0m-21 1h0m-5 2h0m26 1h0m-26 2h0m0 2h0m26 0h0m0 1h0m0 1h0m-26 1h0m0 1h0m11 3h0m15 0h0m-24 3h0m-2 2h0m0 1h0m26 2h0m0 1h0m0 1h0m-10 1h0m-15 3h0m-1 3h0m26 1h0m-10 3h0m-16 2h0m26 1h0m-26 2h0m26 3h0m0 2h0m0 2h0m-21 3h0m-5 2h0m26 4h0m0 1h0m-4 3h0m4 1h0m-1 4h0m1 4h0m0 2h0m-26 4h0m0 6h0m0 4h0m26 8h0m0 13h0m0 8h0m0 12h0m0 6h0m-26 17h0m111-306h0m-16 20h0m2 17h0m14 6h0m-7 9h0m-20 6h0m3 7h0m9 3h0m-11 3h0m-3 3h0m22 3h0m-19 3h0m14 3h0m-51 2h0m0 1h0m35 1h0m23 0h0m-10 2h0m8 2h0m-56 0h0m62 2h0m-62 1h0m63 1h0m-36 1h0m-12 1h0m45 1h0m-60 1h0m63 1h0m-11 1h0m-15 1h0m-11 1h0m33 1h0m-45 1h0m43 1h0m-31 1h0m-26 1h0m28 2h0m7 0h0m-19 2h0m12 0h0m14 1h0m-42 1h0m7 0h0m-7 0h0m-3 2h0m19 1h0m20 1h0m4 0h0m-7 1h0m25 1h0m-37 1h0m-21 1h0m0 1h0m47 0h0m-28 1h0m9 1h0m3 1h0m-31 1h0m19 1h0m8 1h0m3 1h0m-30 0h0m29 1h0m-29 0h0m48 1h0m13 1h0m-50 1h0m-14 1h0m3 1h0m45 0h0m-45 1h0m0 0h0m-9 1h0m30 1h0m4 1h0m25 0h0m-64 1h0m69 0h0m-55 1h0m24 1h0m4 1h0m4 0h0m-32 1h0m32 1h0m3 0h0m-35 1h0m50 1h0m-48 0h0m-2 1h0m36 1h0m-32 1h0m-4 1h0m0 0h0m32 1h0m-45 0h0m27 1h0m-8 0h0m12 1h0m4 1h0m5 0h0m9 1h0m2 2h0m-38 0h0m0 2h0m0 1h0m0 2h0m-5 2h0m42 0h0m-37 2h0m9 2h0m-9 1h0m23 2h0m-23 1h0m55 1h0m-48 1h0m48 1h0m-22 1h0m-9 1h0m-24 1h0m19 1h0m31 3h0m-7 1h0m-28 2h0m-7 2h0m33 1h0m-41 3h0m33 1h0m6 1h0m6 2h0m20 2h0m-50 3h0m-21 2h0m6 4h0m16 3h0m12 8h0m-37 2h0m47 6h0m-38 2h0m63 6h0m-63 11h0m0 7h0m0 6h0m0 4h0m0 11h0m129-343h0m-17 23h0m18 12h0m-39 5h0m40 9h0m-4 4h0m-51 9h0m53 1h0m10 3h0m-3 3h0m-42 2h0m44 6h0m-8 4h0m0 3h0m-23 2h0m25 2h0m4 1h0m-52 1h0m38 2h0m-26 2h0m46 2h0m-9 2h0m-63 1h0m23 1h0m8 1h0m13 2h0m-34 2h0m55 2h0m-30 1h0m2 0h0m19 1h0m-41 1h0m31 2h0m8 2h0m11 1h0m-28 1h0m22 2h0m16 2h0m-29 0h0m1 2h0m18 1h0m-17 1h0m-13 2h0m15 0h0m-15 1h0m-16 1h0m52 1h0m-65 0h0m69 1h0m-46 1h0m38 0h0m-42 1h0m5 0h0m44 2h0m1 1h0m-39 0h0m15 1h0m-42 1h0m3 1h0m11 0h0m40 2h0m-21 1h0m19 1h0m-26 2h0m-36 0h0m40 1h0m15 0h0m-37 1h0m-11 1h0m64 0h0m-44 1h0m3 0h0m28 2h0m-26 1h0m-4 1h0m40 0h0m3 1h0m-26 2h0m-13 1h0m35 1h0m-66 0h0m5 1h0m7 1h0m32 1h0m4 1h0m26 1h0m-3 1h0m-18 2h0m-32 1h0m17 1h0m-39 0h0m25 2h0m2 0h0m41 1h0m-15 1h0m-56 1h0m9 2h0m0 1h0m29 1h0m31 1h0m7 0h0m-50 1h0m5 1h0m-21 1h0m33 1h0m-11 1h0m-25 2h0m65 2h0m-25 1h0m2 1h0m5 1h0m-17 1h0m-9 1h0m-17 0h0m29 2h0m-5 1h0m-35 1h0m56 1h0m-14 2h0m16 1h0m9 4h0m10 1h0m-56 0h0m5 1h0m45 2h0m-16 2h0m-48 2h0m2 2h0m22 3h0m-32 5h0m20 3h0m6 2h0m-5 1h0m-13 4h0m20 2h0m14 7h0m-23 2h0m-3 4h0m27 8h0m-4 5h0m-15 9h0m-9 19h0m5 36h0m111-353h0m23 19h0m-67 6h0m5 4h0m63 6h0m-2 5h0m-53 2h0m14 2h0m8 3h0m-29 5h0m9 2h0m32 3h0m-7 6h0m14 2h0m-28 2h0m19 1h0m-29 1h0m13 2h0m1 1h0m33 1h0m-33 3h0m-1 1h0m2 2h0m-35 1h0m65 1h0m-67 1h0m38 3h0m-10 0h0m44 2h0m0 1h0m-20 3h0m-32 0h0m52 2h0m-11 1h0m6 0h0m-37 1h0m-19 1h0m37 1h0m-15 0h0m40 1h0m-70 1h0m7 0h0m63 1h0m-4 0h0m-23 0h0m-41 3h0m55 0h0m-8 1h0m-32 1h0m7 1h0m-26 1h0m43 1h0m-41 2h0m45 0h0m31 2h0m-26 0h0m-45 2h0m12 2h0m17 1h0m34 1h0m-25 0h0m-23 1h0m21 1h0m30 1h0m-1 0h0m4 1h0m-35 1h0m12 0h0m7 1h0m-37 1h0m3 1h0m19 0h0m-8 1h0m-19 0h0m46 1h0m-7 1h0m-27 2h0m-19 1h0m-2 1h0m33 2h0m-11 1h0m-9 1h0m17 0h0m14 1h0m19 1h0m-23 1h0m-24 0h0m-7 1h0m19 1h0m-15 1h0m15 0h0m-25 1h0m61 1h0m-34 1h0m23 2h0m-57 0h0m60 1h0m-48 1h0m-15 1h0m67 1h0m-13 1h0m-52 1h0m52 1h0m-35 1h0m1 2h0m45 1h0m-33 1h0m-30 0h0m14 1h0m0 1h0m-8 2h0m44 1h0m-39 2h0m37 2h0m-43 1h0m41 1h0m-48 0h0m6 2h0m13 2h0m40 3h0m-47 1h0m35 1h0m-18 1h0m-3 2h0m6 2h0m11 1h0m-32 2h0m20 2h0m-23 2h0m-10 2h0m27 1h0m-28 3h0m2 1h0m0 1h0m16 2h0m24 2h0m-19 5h0m-12 3h0m10 7h0m-1 5h0m-20 6h0m30 2h0m7 19h0m14 27h0m107-359h0m-53 16h0m13 10h0m-30 13h0m29 9h0m13 6h0m10 9h0m-6 4h0m-35 4h0m16 4h0m44 4h0m-25 2h0m0 3h0m20 1h0m-21 2h0m-21 0h0m-19 1h0m49 2h0m10 2h0m4 1h0m2 2h0m-20 2h0m-9 3h0m17 2h0m-25 2h0m31 1h0m-30 1h0m27 2h0m-32 0h0m-35 2h0m10 1h0m31 2h0m16 2h0m0 1h0m-11 1h0m-19 1h0m45 1h0m-35 1h0m20 1h0m-27 1h0m-13 1h0m6 2h0m-8 0h0m49 1h0m12 0h0m-4 2h0m-25 0h0m-33 1h0m23 2h0m26 1h0m-48 0h0m50 1h0m-52 1h0m-8 1h0m46 0h0m23 1h0m-28 1h0m27 1h0m-64 1h0m24 2h0m-31 1h0m19 0h0m-22 1h0m69 1h0m-48 1h0m28 1h0m5 1h0m7 1h0m-41 1h0m40 1h0m-48 0h0m10 1h0m-9 1h0m-2 0h0m2 2h0m47 1h0m-8 0h0m10 1h0m-38 1h0m-11 1h0m63 0h0m-44 1h0m18 0h0m-47 1h0m-3 1h0m22 1h0m-18 1h0m47 0h0m7 1h0m3 1h0m-55 0h0m38 1h0m0 1h0m11 1h0m10 1h0m-41 1h0m12 1h0m2 1h0m2 2h0m-14 0h0m42 2h0m0 1h0m-17 0h0m5 1h0m-51 1h0m60 0h0m-1 1h0m-35 1h0m30 2h0m-53 0h0m-3 1h0m2 1h0m59 0h0m-41 3h0m-9 0h0m15 2h0m13 0h0m1 2h0m-21 1h0m-8 1h0m42 1h0m-39 1h0m-6 3h0m24 1h0m23 2h0m-7 1h0m-36 2h0m26 1h0m-39 2h0m46 2h0m-34 1h0m13 3h0m36 2h0m3 3h0m-25 2h0m14 1h0m-9 4h0m-11 2h0m30 8h0m-53 2h0m53 5h0m-44 5h0m-9 5h0m6 5h0m23 7h0m-41 7h0m27 13h0m94-360h0m12 50h0m10 20h0m5 6h0m-32 6h0m32 5h0m-11 7h0m-45 4h0m55 5h0m11 2h0m-15 2h0m-38 2h0m29 2h0m-10 3h0m33 2h0m0 2h0m-72 3h0m41 1h0m27 1h0m-32 2h0m36 1h0m-31 1h0m9 1h0m-9 1h0m-18 2h0m25 1h0m25 2h0m-41 2h0m-38 2h0m64 1h0m-8 2h0m-7 0h0m-37 1h0m38 2h0m26 1h0m-26 0h0m-17 1h0m2 1h0m24 1h0m-25 1h0m-30 2h0m72 1h0m-36 1h0m-3 0h0m17 1h0m-53 2h0m71 0h0m3 1h0m-11 1h0m-4 1h0m-35 1h0m26 1h0m-11 1h0m-16 0h0m-10 1h0m7 1h0m-3 1h0m-9 1h0m-5 0h0m4 1h0m5 1h0m-1 0h0m25 1h0m-37 1h0m69 0h0m-68 1h0m36 0h0m27 1h0m6 1h0m-28 0h0m21 1h0m-50 1h0m24 1h0m-25 1h0m43 1h0m-10 1h0m1 1h0m27 0h0m0 1h0m-65 0h0m53 1h0m-31 1h0m-5 2h0m-13 1h0m27 1h0m-28 0h0m38 1h0m-34 1h0m-2 2h0m13 1h0m-10 0h0m-6 1h0m33 1h0m0 1h0m-36 0h0m27 1h0m6 1h0m-2 1h0m34 1h0m-64 1h0m33 0h0m-19 1h0m17 1h0m-25 0h0m10 2h0m40 1h0m-54 1h0m46 1h0m12 1h0m-8 1h0m13 1h0m-61 0h0m5 1h0m7 1h0m10 1h0m20 0h0m-43 1h0m16 1h0m47 2h0m-16 1h0m-18 1h0m0 1h0m13 1h0m-12 1h0m-31 2h0m23 3h0m11 1h0m-35 1h0m34 1h0m-36 1h0m36 2h0m-23 1h0m1 2h0m22 1h0m-38 2h0m8 2h0m43 3h0m-3 2h0m-27 3h0m13 1h0m-24 2h0m-6 2h0m36 1h0m-24 2h0m13 2h0m-21 3h0m0 3h0m10 7h0m-5 8h0m0 4h0m-1 10h0m-4 32h0m-6 20h0m99-364h0m48 19h0m-30 10h0m-11 9h0m21 9h0m14 3h0m-26 5h0m17 2h0m-3 8h0m7 2h0m-21 2h0m24 2h0m-1 3h0m0 3h0m-30 2h0m39 2h0m-67 2h0m24 2h0m1 2h0m36 1h0m-15 2h0m-52 1h0m58 1h0m11 2h0m-32 1h0m2 2h0m24 2h0m-37 0h0m-16 1h0m68 1h0m-22 1h0m-27 1h0m44 1h0m-11 1h0m-48 1h0m12 1h0m51 1h0m-54 1h0m15 0h0m-20 2h0m47 1h0m-64 1h0m62 1h0m-64 1h0m75 0h0m-37 1h0m39 0h0m-42 2h0m-5 0h0m37 1h0m-32 1h0m21 1h0m-11 1h0m-23 0h0m-4 1h0m24 2h0m9 1h0m21 0h0m-59 1h0m14 1h0m-16 1h0m65 1h0m-33 1h0m-20 1h0m-16 1h0m39 0h0m-23 2h0m17 1h0m-5 0h0m0 1h0m28 1h0m-2 1h0m-24 0h0m19 2h0m5 1h0m-21 1h0m-38 0h0m69 1h0m-51 1h0m21 1h0m8 0h0m-14 1h0m-22 1h0m12 0h0m17 1h0m-23 2h0m39 1h0m-31 0h0m18 1h0m-8 1h0m10 1h0m-41 1h0m41 1h0m3 1h0m-9 1h0m22 1h0m-40 1h0m2 0h0m-3 1h0m-21 0h0m31 2h0m-16 1h0m56 1h0m-70 0h0m39 2h0m-28 1h0m-12 1h0m41 0h0m-13 2h0m-5 1h0m4 1h0m25 1h0m-52 1h0m8 1h0m7 1h0m16 2h0m-5 0h0m12 2h0m-8 1h0m-25 2h0m37 2h0m-10 1h0m-32 2h0m71 1h0m-55 2h0m52 2h0m-61 1h0m28 2h0m-1 1h0m-14 1h0m-13 2h0m1 1h0m61 1h0m-53 2h0m9 2h0m-18 1h0m22 4h0m2 7h0m-22 2h0m-8 3h0m12 5h0m-14 4h0m77 2h0m-60 12h0m-13 12h0m25 21h0m128-350h0m-6 36h0m-51 21h0m53 6h0m-14 7h0m-15 6h0m24 3h0m-13 3h0m-47 5h0m70 3h0m-70 2h0m46 1h0m-14 2h0m-1 2h0m28 3h0m-15 2h0m-29 1h0m32 3h0m-38 1h0m32 2h0m-41 1h0m62 2h0m-48 2h0m-2 2h0m25 1h0m30 1h0m-16 1h0m-56 2h0m28 2h0m6 1h0m-7 1h0m10 2h0m38 1h0m-16 1h0m2 2h0m6 1h0m-68 0h0m37 1h0m23 1h0m-35 2h0m-21 1h0m63 1h0m-67 1h0m65 2h0m1 1h0m-7 1h0m-6 1h0m-2 1h0m-50 1h0m12 0h0m0 1h0m39 1h0m-34 1h0m24 1h0m11 1h0m-40 1h0m-8 1h0m38 0h0m3 1h0m28 1h0m-29 1h0m-33 1h0m-6 1h0m16 0h0m-1 1h0m21 1h0m-2 1h0m-33 1h0m-3 0h0m-3 1h0m21 1h0m5 1h0m38 1h0m-38 1h0m5 1h0m-29 1h0m11 1h0m22 0h0m-15 1h0m44 2h0m-34 0h0m-20 1h0m13 1h0m42 1h0m-66 1h0m59 1h0m8 2h0m-67 0h0m19 4h0m9 0h0m0 2h0m-18 1h0m-3 1h0m0 2h0m41 1h0m-16 1h0m33 2h0m-52 1h0m17 1h0m-26 2h0m55 1h0m-15 1h0m-45 1h0m-2 2h0m17 1h0m-10 2h0m18 2h0m-8 2h0m-2 1h0m-15 3h0m23 1h0m55 4h0m-65 2h0m-5 2h0m34 2h0m-37 2h0m24 3h0m-2 3h0m-10 1h0m-13 4h0m4 5h0m51 4h0m-49 4h0m22 17h0m18 22h0m64-321h0m34 37h0m3 20h0m-65 6h0m22 4h0m43 7h0m-32 2h0m-29 2h0m-1 6h0m63 4h0m-18 3h0m-8 2h0m-15 3h0m25 1h0m-7 2h0m-15 2h0m29 1h0m3 2h0m-57 2h0m47 1h0m-16 1h0m-27 1h0m33 3h0m29 1h0m-44 2h0m0 3h0m36 1h0m-29 1h0m-19 1h0m31 1h0m23 1h0m-53 1h0m-6 1h0m46 1h0m-14 0h0m28 2h0m-20 1h0m4 2h0m-39 1h0m44 1h0m12 1h0m-60 1h0m15 2h0m-13 1h0m12 2h0m38 1h0m-44 1h0m50 2h0m-50 2h0m-4 2h0m17 1h0m-35 2h0m15 2h0m28 1h0m36 1h0m-68 3h0m56 1h0m-42 2h0m-7 2h0m2 1h0m9 4h0m-12 1h0m48 1h0m-36 3h0m6 2h0m-18 1h0m0 1h0m48 1h0m-2 3h0m-9 1h0m-17 2h0m-28 3h0m1 3h0m24 3h0m-9 4h0m-25 6h0m1 4h0m28 10h0m17 4h0m8 7h0m-2 11h0m-24 22h0m58-268h0m18 19h0m26 14h0m-10 7h0m20 4h0m-21 3h0m-12 3h0m21 5h0m-9 2h0m-19 2h0m-13 3h0m-5 2h0m33 2h0m-21 3h0m21 4h0m2 3h0m-8 4h0m5 2h0m-17 3h0m-10 3h0m12 3h0m-18 2h0m59 4h0m-58 2h0m27 4h0m1 1h0m-13 1h0m26 2h0m-27 2h0m-17 4h0m42 4h0m-8 4h0m6 2h0m-29 8h0m44 4h0m1 6h0m-38 4h0m1 3h0m-12 17h0m-1 16h0m18 21h0m118-288h0m-41 60h0m-19 28h0m12 10h0m36 9h0m-4 8h0m-34 6h0m-9 17h0m0 15h0m4 18h0m31 36h0m-480 213h0m153-78h0" stroke="#4A77FB" stroke-opacity="0.6" stroke-width="7.2" stroke-linecap="round" fill="none"/>
<path transform="scale(.5)" d="M1319 4537h0m-6 7h0m0 10h0m7 6h0m-21 3h0m14 2h0m-23 2h0m23 0h0m4 2h0m-4 3h0m0 2h0m0 2h0m-26 2h0m0 1h0m27 2h0m-23 3h0m-4 1h0m27 1h0m-1 1h0m0 1h0m-9 1h0m9 2h0m-19 0h0m19 2h0m0 0h0m0 2h0m-17 1h0m10 1h0m-19 0h0m0 2h0m0 2h0m0 1h0m26 1h0m-21 2h0m-5 1h0m5 1h0m21 4h0m-26 1h0m1 2h0m25 3h0m0 3h0m-16 2h0m16 4h0m-2 2h0m-22 2h0m-2 3h0m13 2h0m-11 2h0m24 4h0m-26 1h0m26 2h0m0 1h0m-26 3h0m8 5h0m0 5h0m-8 3h0m12 5h0m-11 8h0m-1 6h0m11 9h0m15 5h0m0 7h0m-1 6h0m-11 19h0m98-339h0m-6 57h0m-5 29h0m0 9h0m-27 5h0m30 4h0m-4 4h0m-38 2h0m36 3h0m-3 2h0m18 1h0m-7 1h0m3 2h0m-3 2h0m-10 4h0m7 1h0m-25 1h0m32 2h0m-8 2h0m-40 1h0m-14 1h0m47 2h0m17 2h0m-53 2h0m33 1h0m-28 2h0m14 1h0m9 2h0m-2 0h0m-27 1h0m40 0h0m-37 1h0m23 1h0m9 2h0m-50 1h0m5 1h0m30 1h0m-12 1h0m10 1h0m15 1h0m-5 1h0m-21 1h0m11 1h0m25 1h0m-12 1h0m3 1h0m-21 0h0m9 2h0m1 0h0m-22 1h0m47 0h0m-14 1h0m1 0h0m-8 2h0m-37 0h0m15 0h0m-15 1h0m28 1h0m-28 0h0m0 1h0m20 0h0m-20 1h0m0 1h0m35 0h0m4 0h0m-39 1h0m60 1h0m3 1h0m0 1h0m-63 0h0m35 1h0m-35 0h0m0 1h0m29 1h0m-29 1h0m0 0h0m16 2h0m-5 0h0m3 1h0m-14 1h0m42 1h0m20 1h0m-62 0h0m65 1h0m-74 1h0m9 1h0m0 0h0m62 0h0m-62 1h0m25 1h0m-6 0h0m21 1h0m20 1h0m-41 2h0m2 1h0m-21 0h0m42 2h0m11 1h0m-53 1h0m-6 2h0m31 1h0m-25 2h0m34 1h0m29 1h0m-20 1h0m-58 2h0m41 2h0m-26 2h0m0 0h0m0 2h0m19 1h0m-7 2h0m13 1h0m-37 1h0m26 1h0m10 1h0m4 1h0m-19 2h0m12 2h0m-2 2h0m-19 2h0m14 1h0m44 1h0m-11 3h0m-28 3h0m27 1h0m-37 0h0m-17 1h0m29 3h0m2 3h0m-29 1h0m6 4h0m14 2h0m49 2h0m-44 4h0m-28 4h0m9 3h0m0 5h0m19 7h0m10 11h0m-29 6h0m19 6h0m-19 13h0m103-380h0m15 47h0m12 33h0m-2 9h0m-42 9h0m53 2h0m-41 4h0m9 2h0m-34 3h0m49 2h0m-13 2h0m20 2h0m-24 1h0m39 3h0m-51 3h0m36 2h0m-36 3h0m-14 2h0m46 2h0m-50 1h0m33 2h0m11 1h0m-4 2h0m20 2h0m-6 1h0m-13 2h0m8 1h0m8 1h0m-47 1h0m58 1h0m-32 1h0m-37 1h0m70 1h0m-22 0h0m-15 1h0m-1 1h0m-26 1h0m12 0h0m-23 2h0m54 1h0m-14 2h0m-29 1h0m46 0h0m-49 1h0m43 1h0m3 1h0m-1 0h0m-44 2h0m-6 0h0m72 1h0m-30 0h0m-33 1h0m7 1h0m49 1h0m-39 2h0m18 1h0m-2 1h0m10 0h0m1 1h0m7 1h0m-25 1h0m5 1h0m9 1h0m-31 1h0m46 0h0m7 2h0m-32 0h0m-35 2h0m59 1h0m-39 1h0m-13 1h0m-1 2h0m46 1h0m12 1h0m-44 1h0m13 1h0m20 1h0m-17 1h0m16 1h0m-7 1h0m-49 1h0m51 0h0m-54 2h0m18 1h0m7 1h0m5 1h0m16 2h0m-35 1h0m-10 1h0m50 0h0m1 1h0m-47 1h0m38 0h0m24 2h0m-50 1h0m39 0h0m10 1h0m-10 0h0m-37 1h0m40 0h0m0 1h0m-18 2h0m15 1h0m-14 1h0m-14 1h0m-22 0h0m22 1h0m-9 0h0m4 1h0m34 1h0m-3 1h0m0 1h0m-25 2h0m-5 2h0m-25 1h0m28 1h0m25 1h0m-46 2h0m36 2h0m-42 1h0m7 2h0m30 1h0m-23 2h0m47 3h0m-44 2h0m-5 2h0m15 2h0m29 2h0m2 1h0m-36 3h0m6 1h0m-16 2h0m5 2h0m-18 5h0m5 5h0m-4 4h0m16 5h0m-19 3h0m0 5h0m33 9h0m-28 6h0m-6 15h0m13 17h0m64 54h0m66-399h0m-25 16h0m28 10h0m9 7h0m-26 7h0m20 3h0m-5 5h0m-1 3h0m-7 5h0m19 3h0m-9 3h0m5 4h0m-10 5h0m5 3h0m1 2h0m-7 2h0m-20 3h0m19 2h0m20 1h0m-22 2h0m-38 2h0m38 4h0m-33 2h0m40 2h0m-34 2h0m45 2h0m-50 1h0m40 1h0m-17 1h0m-7 2h0m9 2h0m7 1h0m-31 1h0m46 1h0m-8 1h0m-14 1h0m-9 2h0m-31 0h0m-4 1h0m6 1h0m26 1h0m23 1h0m-42 1h0m36 0h0m-49 1h0m32 1h0m42 1h0m-41 1h0m-11 1h0m43 1h0m-34 1h0m12 1h0m25 0h0m-11 1h0m-10 2h0m-19 1h0m0 1h0m34 1h0m-62 2h0m8 1h0m-9 0h0m24 1h0m-27 1h0m20 0h0m25 1h0m-15 1h0m39 1h0m-33 0h0m24 2h0m-39 1h0m-1 0h0m-8 1h0m66 1h0m-41 1h0m-27 1h0m9 1h0m49 1h0m-9 0h0m-3 2h0m-11 1h0m27 0h0m-26 1h0m31 1h0m-33 1h0m-7 1h0m-6 0h0m29 2h0m-34 0h0m2 2h0m38 0h0m-46 1h0m34 1h0m9 1h0m-56 1h0m17 1h0m43 1h0m-8 1h0m-56 1h0m-1 1h0m-1 1h0m60 1h0m-27 1h0m-18 1h0m10 1h0m-3 1h0m-11 1h0m0 1h0m8 2h0m5 1h0m18 1h0m9 2h0m-52 2h0m45 1h0m-11 2h0m0 0h0m-19 2h0m-9 1h0m41 1h0m-43 2h0m52 2h0m-48 2h0m13 3h0m-14 2h0m9 3h0m42 2h0m17 4h0m0 1h0m-47 2h0m9 3h0m-26 4h0m-7 4h0m9 6h0m9 3h0m28 4h0m27 7h0m-76 9h0m72 11h0m-67 36h0m115-354h0m-2 14h0m9 17h0m5 9h0m-20 6h0m-13 5h0m46 5h0m-29 5h0m27 4h0m-4 2h0m4 4h0m-2 2h0m-12 2h0m9 2h0m8 2h0m0 1h0m6 3h0m-1 2h0m5 2h0m-9 2h0m-62 2h0m38 1h0m-1 2h0m-13 1h0m1 2h0m1 1h0m22 2h0m-30 2h0m52 2h0m-55 1h0m0 2h0m11 0h0m32 1h0m2 1h0m-32 1h0m13 1h0m3 1h0m4 1h0m0 0h0m-44 1h0m31 2h0m1 1h0m0 1h0m25 1h0m-64 0h0m68 1h0m-52 1h0m51 1h0m-36 1h0m27 1h0m-44 1h0m48 1h0m-58 1h0m66 0h0m-11 1h0m4 1h0m-51 1h0m30 1h0m8 0h0m-45 1h0m-9 1h0m51 0h0m-43 2h0m47 0h0m-36 2h0m3 0h0m45 1h0m-54 1h0m32 1h0m9 0h0m19 2h0m-17 0h0m-40 1h0m30 2h0m-44 1h0m25 0h0m26 1h0m16 0h0m-17 1h0m-36 1h0m44 1h0m-1 1h0m15 1h0m-75 1h0m25 0h0m17 1h0m23 1h0m3 1h0m-48 1h0m7 1h0m34 1h0m-60 0h0m25 1h0m37 2h0m-44 1h0m48 1h0m-59 1h0m13 1h0m7 0h0m11 1h0m13 1h0m-38 1h0m58 1h0m-25 1h0m-26 1h0m24 0h0m-17 2h0m-20 1h0m28 0h0m-11 1h0m3 2h0m-16 1h0m16 2h0m-18 1h0m13 1h0m48 1h0m-58 2h0m51 1h0m-47 2h0m26 1h0m7 2h0m-33 1h0m19 2h0m-33 2h0m45 3h0m-38 1h0m5 3h0m44 3h0m-23 2h0m-33 1h0m14 4h0m-6 2h0m55 1h0m-45 3h0m10 4h0m18 2h0m-22 4h0m-1 2h0m0 3h0m-15 5h0m40 4h0m-41 5h0m21 5h0m-20 11h0m-10 28h0m134-374h0m-11 44h0m-43 15h0m41 10h0m31 10h0m-3 5h0m-5 8h0m-4 3h0m-14 4h0m-37 4h0m53 3h0m-4 2h0m11 2h0m3 2h0m-4 1h0m-16 1h0m-30 3h0m30 1h0m0 1h0m25 1h0m-40 3h0m-21 1h0m58 2h0m-11 2h0m-40 1h0m7 2h0m27 1h0m9 1h0m-8 1h0m4 0h0m12 2h0m-63 1h0m-1 2h0m50 1h0m-33 1h0m0 1h0m43 1h0m-16 0h0m15 1h0m3 1h0m-30 1h0m27 1h0m-51 2h0m32 0h0m18 1h0m-20 0h0m7 2h0m0 0h0m10 1h0m2 1h0m-9 1h0m-28 1h0m15 1h0m-8 0h0m-20 1h0m23 0h0m36 1h0m-61 1h0m-13 1h0m36 1h0m-23 0h0m24 1h0m20 1h0m-14 0h0m-31 1h0m38 1h0m-16 0h0m-15 1h0m5 2h0m18 1h0m4 0h0m29 1h0m-56 1h0m17 0h0m-3 1h0m-14 1h0m4 1h0m-22 1h0m35 1h0m13 2h0m-16 1h0m32 1h0m-33 1h0m14 0h0m-12 1h0m-34 2h0m21 1h0m44 1h0m-30 1h0m-18 1h0m8 1h0m43 1h0m-65 0h0m65 2h0m0 0h0m-39 1h0m34 0h0m-23 2h0m-15 1h0m30 1h0m-54 0h0m40 1h0m-40 1h0m11 2h0m-9 1h0m64 1h0m-47 1h0m-1 1h0m33 1h0m-13 0h0m8 1h0m-3 2h0m-34 1h0m29 1h0m-36 1h0m8 1h0m20 1h0m21 2h0m-35 1h0m24 2h0m-14 1h0m-21 1h0m30 1h0m-37 1h0m0 3h0m3 0h0m43 2h0m-40 1h0m-3 2h0m22 3h0m11 2h0m-26 4h0m25 1h0m3 1h0m-33 2h0m16 4h0m26 2h0m-39 1h0m-8 2h0m13 3h0m-2 7h0m-12 5h0m13 7h0m34 10h0m-41 40h0m93-379h0m54 34h0m-62 18h0m30 12h0m28 6h0m-23 6h0m-5 3h0m15 5h0m-18 5h0m12 4h0m14 3h0m-8 2h0m-2 3h0m-20 3h0m10 1h0m-31 2h0m10 3h0m-15 1h0m56 1h0m-8 1h0m2 1h0m-5 2h0m22 2h0m-52 1h0m19 2h0m32 1h0m-59 0h0m23 2h0m4 2h0m-16 2h0m48 1h0m-58 1h0m-6 1h0m58 1h0m7 2h0m-10 2h0m-20 1h0m-38 1h0m69 1h0m-21 1h0m-8 2h0m-34 1h0m-12 1h0m64 1h0m-30 0h0m-14 1h0m46 1h0m-27 1h0m-29 1h0m60 0h0m-46 1h0m2 1h0m28 2h0m3 1h0m13 1h0m-12 1h0m-28 1h0m13 0h0m12 1h0m-46 1h0m33 0h0m-20 1h0m39 1h0m-45 1h0m23 1h0m-26 1h0m20 0h0m7 1h0m14 1h0m-47 1h0m32 1h0m25 0h0m-25 1h0m-5 0h0m9 2h0m25 1h0m-48 0h0m29 1h0m20 1h0m-4 2h0m-24 0h0m29 1h0m-57 1h0m-5 1h0m67 0h0m-49 1h0m25 1h0m-6 1h0m-29 0h0m54 1h0m-48 1h0m43 1h0m-51 1h0m31 1h0m-32 1h0m61 1h0m-20 1h0m-19 2h0m-31 1h0m34 0h0m-31 1h0m25 1h0m-13 1h0m13 1h0m17 1h0m10 1h0m-36 1h0m-21 1h0m58 0h0m-50 1h0m10 1h0m30 1h0m4 1h0m-4 1h0m-51 0h0m74 1h0m-67 1h0m24 1h0m-1 1h0m-12 2h0m-8 0h0m1 1h0m55 1h0m-19 2h0m-21 2h0m12 2h0m-19 1h0m-8 2h0m40 3h0m13 1h0m-28 2h0m-28 1h0m28 1h0m-29 2h0m52 2h0m-55 2h0m-5 2h0m44 2h0m-37 3h0m1 5h0m68 2h0m-73 3h0m-1 6h0m60 10h0m-10 13h0m-24 5h0m-8 15h0m1 39h0m130-347h0m-40 18h0m21 7h0m17 11h0m1 5h0m-34 3h0m22 2h0m-1 3h0m-48 4h0m20 1h0m44 2h0m-67 2h0m56 4h0m11 1h0m-48 5h0m43 3h0m-15 1h0m8 2h0m-23 2h0m12 2h0m26 2h0m-65 0h0m18 1h0m24 1h0m21 2h0m-10 1h0m-18 1h0m-29 1h0m2 0h0m29 1h0m22 1h0m-51 1h0m24 2h0m-28 1h0m65 1h0m-6 2h0m-65 1h0m22 1h0m26 1h0m-41 0h0m38 1h0m7 1h0m1 0h0m-16 2h0m-21 1h0m4 2h0m32 0h0m-57 1h0m19 1h0m-13 1h0m60 0h0m-7 1h0m-13 1h0m-30 1h0m-14 1h0m57 1h0m-8 1h0m-2 1h0m-35 1h0m10 0h0m-13 2h0m43 1h0m-23 1h0m-6 1h0m40 1h0m3 1h0m-10 1h0m-53 1h0m44 0h0m-53 1h0m4 1h0m43 1h0m-46 0h0m52 1h0m-12 1h0m-31 1h0m51 1h0m-42 1h0m-1 1h0m38 1h0m-29 1h0m12 1h0m-35 1h0m69 1h0m-69 1h0m30 0h0m-8 1h0m-4 1h0m-6 1h0m46 1h0m-32 1h0m-7 1h0m7 1h0m-8 0h0m-8 1h0m46 0h0m4 2h0m-48 1h0m17 1h0m-27 2h0m20 1h0m31 0h0m-20 2h0m-35 0h0m39 2h0m-27 0h0m17 2h0m27 1h0m-43 1h0m53 1h0m-52 1h0m12 1h0m-20 1h0m34 1h0m-15 2h0m-13 2h0m40 1h0m-40 1h0m-12 1h0m6 3h0m20 2h0m-26 2h0m6 4h0m63 2h0m-49 2h0m-6 5h0m8 3h0m27 4h0m-30 4h0m29 5h0m-41 5h0m19 4h0m-19 5h0m25 7h0m-33 21h0m104-348h0m24 56h0m27 14h0m-2 9h0m-66 10h0m56 5h0m10 8h0m-7 6h0m-25 2h0m36 2h0m-45 1h0m-1 5h0m47 2h0m-60 4h0m1 4h0m22 1h0m7 2h0m16 2h0m-23 1h0m-29 2h0m24 1h0m-17 1h0m19 2h0m-35 2h0m14 1h0m5 0h0m-7 3h0m16 1h0m29 2h0m-9 1h0m0 1h0m-40 1h0m48 3h0m-38 2h0m42 1h0m-17 1h0m-37 2h0m37 1h0m8 1h0m0 3h0m13 1h0m-60 1h0m-7 1h0m44 1h0m15 2h0m-53 1h0m67 2h0m-43 1h0m43 2h0m-29 1h0m16 2h0m-60 1h0m11 2h0m17 1h0m-15 1h0m3 2h0m-12 1h0m31 1h0m-31 1h0m14 1h0m20 2h0m-38 3h0m63 3h0m14 1h0m-17 2h0m4 1h0m-24 2h0m29 2h0m-37 3h0m27 1h0m-27 2h0m-21 3h0m44 2h0m-20 4h0m13 2h0m-40 2h0m45 5h0m-49 5h0m-3 6h0m31 4h0m-10 6h0m19 3h0m23 12h0m-60 12h0m109-271h0m35 16h0m-48 14h0m25 19h0m-17 2h0m-2 3h0m17 3h0m34 5h0m-24 6h0m-26 4h0m6 4h0m-12 3h0m0 5h0m-7 3h0m58 3h0m-59 3h0m60 1h0m-43 7h0m38 3h0m-44 2h0m37 2h0m-61 3h0m57 2h0m-24 4h0m-32 3h0m7 4h0m9 2h0m-11 2h0m-3 3h0m-3 3h0m78 2h0m-78 2h0m8 2h0m21 4h0m-19 2h0m27 7h0m-36 4h0m18 3h0m37 5h0m-55 8h0m25 5h0m-13 8h0m6 43h0m88-233h0m22 21h0m2 19h0m-13 8h0m-38 8h0m31 17h0m-7 9h0m-5 18h0m-18 11h0m28 14h0m4 36h0m-262-55h0m63 18h0" stroke="#9ACD32" stroke-opacity="0.6" stroke-width="7.2" stroke-linecap="round" fill="none"/>
<path transform="scale(.5)" d="M1287 4529h0m26 4h0m0 8h0m0 4h0m0 2h0m0 1h0m0 4h0m6 3h0m-7 2h0m1 3h0m-17 2h0m-5 1h0m22 2h0m0 0h0m0 2h0m0 2h0m0 1h0m0 1h0m-26 1h0m26 2h0m0 1h0m-26 1h0m23 3h0m-23 3h0m0 1h0m0 2h0m0 1h0m26 1h0m0 1h0m0 1h0m0 2h0m-26 2h0m26 2h0m-26 3h0m4 1h0m7 2h0m15 3h0m-25 5h0m11 2h0m-12 2h0m26 3h0m0 3h0m-7 4h0m-19 3h0m0 3h0m16 3h0m-5 4h0m15 0h0m-26 2h0m0 5h0m26 8h0m-26 7h0m0 2h0m0 11h0m0 4h0m0 10h0m26 17h0m-14 9h0m94-313h0m-1 35h0m-9 11h0m-10 20h0m-11 5h0m4 4h0m-13 2h0m13 5h0m16 4h0m12 2h0m-6 3h0m-53 2h0m57 2h0m-12 3h0m-14 2h0m-3 1h0m-6 2h0m20 2h0m-12 1h0m18 1h0m-24 1h0m18 1h0m5 2h0m7 1h0m-39 1h0m5 1h0m-29 1h0m34 1h0m-3 2h0m23 1h0m-5 1h0m-22 1h0m46 1h0m-4 1h0m-22 1h0m-19 1h0m18 1h0m-7 1h0m23 2h0m-8 1h0m17 1h0m-55 0h0m22 1h0m8 1h0m-37 0h0m0 2h0m17 0h0m48 1h0m-39 1h0m-26 1h0m63 1h0m-36 1h0m23 1h0m-19 1h0m20 1h0m-51 1h0m0 1h0m25 0h0m3 2h0m-15 0h0m-13 1h0m0 1h0m28 1h0m-11 1h0m-29 0h0m31 1h0m43 0h0m-43 1h0m-19 1h0m56 0h0m-41 1h0m4 0h0m11 1h0m26 1h0m-56 1h0m0 1h0m0 1h0m42 1h0m-16 1h0m34 0h0m-18 1h0m12 0h0m-54 1h0m-2 0h0m51 1h0m-19 1h0m-30 1h0m62 1h0m-62 1h0m0 1h0m-12 0h0m52 2h0m-3 1h0m-18 1h0m42 1h0m-45 1h0m26 1h0m-16 0h0m-26 2h0m50 1h0m-50 2h0m60 0h0m-53 1h0m12 1h0m24 1h0m-11 1h0m-32 1h0m0 2h0m27 1h0m-2 1h0m-33 2h0m21 1h0m6 0h0m11 1h0m8 2h0m-38 1h0m51 2h0m-35 1h0m15 1h0m9 2h0m-40 2h0m0 1h0m24 3h0m22 2h0m-46 2h0m58 3h0m-58 3h0m23 3h0m19 3h0m-43 2h0m4 6h0m11 3h0m41 7h0m-26 4h0m-9 7h0m-20 7h0m0 10h0m0 5h0m0 13h0m124-325h0m11 19h0m-58 12h0m36 5h0m28 3h0m-26 6h0m29 3h0m-46 3h0m-2 3h0m-13 3h0m44 2h0m-13 2h0m-12 1h0m37 3h0m-56 2h0m41 2h0m-9 1h0m-32 2h0m-14 1h0m64 1h0m-14 1h0m4 1h0m-42 1h0m41 1h0m-29 2h0m0 1h0m-20 1h0m68 1h0m-26 1h0m1 2h0m-11 0h0m32 0h0m-13 1h0m15 1h0m-4 2h0m6 1h0m2 1h0m-53 1h0m-19 1h0m47 1h0m-8 0h0m21 2h0m-8 2h0m-55 2h0m38 1h0m7 2h0m27 0h0m-13 1h0m-10 1h0m-45 1h0m1 0h0m55 1h0m-46 1h0m-6 1h0m21 1h0m10 1h0m28 1h0m-55 0h0m-5 1h0m53 1h0m8 0h0m-8 2h0m0 1h0m17 1h0m-72 1h0m44 1h0m-22 1h0m-1 1h0m42 0h0m-30 2h0m-14 0h0m34 1h0m16 1h0m-57 1h0m-15 1h0m7 1h0m29 1h0m-4 2h0m16 1h0m-43 0h0m3 1h0m-13 0h0m53 1h0m10 0h0m1 2h0m-7 1h0m-5 1h0m-23 0h0m34 0h0m-26 1h0m-6 1h0m-6 1h0m-4 1h0m16 1h0m24 2h0m-21 1h0m1 1h0m11 1h0m-38 1h0m-3 0h0m-8 1h0m-2 1h0m7 2h0m13 1h0m-18 1h0m49 0h0m0 2h0m-8 1h0m-20 1h0m25 1h0m-45 1h0m24 1h0m8 2h0m-34 2h0m27 1h0m-8 1h0m10 1h0m-29 1h0m25 2h0m21 0h0m-20 1h0m-22 1h0m41 2h0m6 1h0m9 3h0m17 2h0m-44 1h0m-15 2h0m2 2h0m-9 1h0m22 2h0m4 2h0m-36 2h0m13 4h0m-8 2h0m-6 3h0m8 2h0m17 2h0m3 3h0m-28 2h0m14 6h0m6 6h0m16 5h0m30 12h0m-65 17h0m20 39h0m90-360h0m29 28h0m-13 9h0m-32 5h0m59 4h0m-31 4h0m-1 5h0m10 2h0m17 7h0m9 4h0m-47 2h0m36 0h0m-6 2h0m11 2h0m3 1h0m-24 2h0m11 2h0m2 1h0m7 1h0m-4 1h0m-31 1h0m35 2h0m-6 1h0m-25 2h0m-41 1h0m64 2h0m-43 0h0m-2 2h0m45 1h0m-51 0h0m35 1h0m-20 2h0m10 2h0m13 1h0m0 2h0m-35 1h0m36 2h0m-6 1h0m-6 1h0m17 1h0m-42 2h0m20 1h0m43 1h0m-53 0h0m34 2h0m-14 1h0m6 1h0m26 1h0m-27 1h0m-1 1h0m-44 1h0m34 1h0m27 1h0m-62 0h0m48 2h0m-5 1h0m3 1h0m-26 1h0m29 1h0m-8 1h0m-17 1h0m40 1h0m-4 0h0m-60 1h0m-3 1h0m50 2h0m-21 1h0m16 0h0m25 1h0m-28 1h0m-35 1h0m38 1h0m-13 0h0m2 1h0m33 1h0m-3 1h0m-48 1h0m41 1h0m-55 1h0m60 1h0m-54 0h0m20 1h0m-2 0h0m12 2h0m-40 0h0m79 1h0m-72 1h0m-3 1h0m56 1h0m5 1h0m-51 1h0m25 0h0m28 1h0m-33 1h0m22 0h0m-46 1h0m60 1h0m3 0h0m-33 1h0m-9 0h0m-21 1h0m32 1h0m-31 1h0m22 1h0m-14 2h0m49 1h0m-46 1h0m-17 2h0m58 1h0m-43 2h0m35 1h0m-33 1h0m56 1h0m-62 1h0m33 1h0m-13 1h0m12 2h0m-2 2h0m-26 1h0m40 1h0m-45 1h0m-5 1h0m64 2h0m-41 2h0m-9 2h0m1 1h0m15 2h0m12 3h0m-51 2h0m28 3h0m-11 0h0m-10 2h0m2 3h0m35 3h0m-34 2h0m22 3h0m22 3h0m-1 3h0m-35 5h0m-6 7h0m36 6h0m-13 4h0m-4 8h0m-2 44h0m83-377h0m39 27h0m4 10h0m-28 18h0m16 8h0m-56 6h0m27 4h0m-1 5h0m22 2h0m-20 3h0m35 1h0m-54 3h0m-1 1h0m40 4h0m-25 5h0m-11 3h0m18 2h0m-16 1h0m26 2h0m22 1h0m-37 2h0m-8 1h0m11 2h0m5 2h0m-2 1h0m-27 2h0m33 1h0m9 1h0m-10 1h0m-21 1h0m-17 1h0m13 1h0m40 1h0m-17 0h0m7 1h0m8 2h0m11 1h0m-7 1h0m12 1h0m2 1h0m-41 1h0m32 1h0m-63 1h0m45 1h0m18 1h0m-47 1h0m-11 1h0m46 1h0m12 2h0m-25 1h0m26 1h0m-4 1h0m5 1h0m5 1h0m-9 1h0m-43 1h0m59 1h0m-30 1h0m8 1h0m10 1h0m-9 0h0m-16 1h0m5 1h0m-9 1h0m-15 0h0m48 1h0m-48 2h0m-4 0h0m37 1h0m5 1h0m-33 0h0m0 1h0m39 1h0m-17 1h0m-11 2h0m-28 1h0m-5 0h0m62 1h0m-65 2h0m40 0h0m-5 1h0m-23 1h0m27 0h0m-23 2h0m19 2h0m14 0h0m-6 1h0m20 1h0m-38 1h0m-13 0h0m-2 1h0m20 1h0m-13 1h0m23 1h0m0 0h0m-32 2h0m11 1h0m42 0h0m7 1h0m-56 1h0m39 1h0m16 1h0m-52 1h0m30 2h0m-45 1h0m21 1h0m11 1h0m18 2h0m-49 1h0m2 1h0m23 1h0m-21 1h0m0 1h0m-6 1h0m28 0h0m-25 2h0m55 1h0m-23 1h0m1 1h0m-14 1h0m48 1h0m-65 1h0m61 2h0m-66 1h0m21 2h0m-19 1h0m12 2h0m0 1h0m11 1h0m-26 2h0m25 1h0m-11 2h0m38 2h0m-48 2h0m0 1h0m25 2h0m-21 4h0m-1 2h0m-9 2h0m26 1h0m25 2h0m-49 2h0m7 3h0m9 5h0m24 5h0m-28 5h0m0 10h0m34 7h0m-37 9h0m2 19h0m13 36h0m87-373h0m26 33h0m10 11h0m-2 4h0m-50 4h0m41 4h0m6 7h0m3 3h0m5 1h0m-32 3h0m-18 3h0m18 1h0m31 3h0m-41 1h0m46 1h0m-16 3h0m-11 2h0m4 1h0m-35 3h0m19 2h0m16 1h0m2 2h0m-21 1h0m-6 1h0m21 1h0m10 2h0m-2 1h0m-18 1h0m-16 1h0m53 1h0m-3 1h0m-21 1h0m0 1h0m-19 1h0m42 1h0m-7 1h0m-62 2h0m21 0h0m17 2h0m15 1h0m-4 2h0m-41 0h0m-1 1h0m17 2h0m-14 1h0m-3 1h0m25 0h0m20 1h0m8 0h0m-31 1h0m-22 1h0m17 1h0m29 1h0m10 1h0m-49 1h0m29 0h0m13 1h0m-35 2h0m51 1h0m-71 2h0m1 1h0m45 1h0m-30 0h0m22 1h0m25 0h0m0 1h0m-7 0h0m-24 1h0m-20 1h0m-8 0h0m45 1h0m21 1h0m-51 1h0m52 0h0m-75 1h0m8 0h0m-3 1h0m14 1h0m13 1h0m11 1h0m-28 1h0m-15 1h0m1 0h0m-4 0h0m22 1h0m-1 1h0m42 1h0m-39 1h0m-20 0h0m74 1h0m-34 1h0m-6 1h0m-22 1h0m43 0h0m-10 1h0m-4 1h0m-6 1h0m-19 1h0m-20 1h0m58 1h0m11 1h0m-35 1h0m-17 1h0m-14 1h0m63 0h0m-44 2h0m49 1h0m-38 1h0m43 1h0m-39 0h0m-13 1h0m40 2h0m-25 1h0m-23 0h0m10 1h0m-17 1h0m11 1h0m16 2h0m-24 1h0m31 0h0m-3 2h0m-16 2h0m16 1h0m-38 1h0m55 2h0m-44 1h0m37 1h0m26 1h0m-75 1h0m55 2h0m-33 1h0m15 1h0m-18 2h0m4 1h0m-12 3h0m6 1h0m-16 1h0m47 2h0m-43 1h0m29 4h0m24 3h0m-52 2h0m32 6h0m28 4h0m-35 5h0m2 6h0m-33 9h0m46 13h0m-25 16h0m125-363h0m1 48h0m-28 18h0m25 8h0m-60 8h0m74 4h0m-17 4h0m-18 4h0m-24 1h0m42 4h0m15 2h0m-17 5h0m-10 3h0m-3 1h0m11 2h0m-29 2h0m-23 2h0m6 1h0m-7 2h0m56 1h0m4 1h0m12 2h0m-26 0h0m-39 1h0m23 0h0m32 2h0m2 2h0m-44 1h0m-20 1h0m72 1h0m3 1h0m-60 2h0m-15 1h0m37 1h0m19 1h0m-44 1h0m16 1h0m-30 1h0m61 1h0m-20 2h0m-33 1h0m52 1h0m8 1h0m-21 1h0m21 1h0m-59 0h0m66 1h0m-51 0h0m-13 0h0m8 2h0m1 1h0m21 1h0m-10 1h0m35 0h0m-58 1h0m36 1h0m26 1h0m4 1h0m-5 1h0m-54 1h0m55 1h0m-23 1h0m-21 0h0m43 1h0m-64 0h0m41 1h0m-1 1h0m-44 0h0m33 1h0m41 1h0m0 1h0m-4 1h0m4 1h0m-70 1h0m51 0h0m12 1h0m-52 1h0m12 0h0m9 1h0m-23 1h0m32 1h0m10 1h0m20 1h0m-36 1h0m-33 0h0m5 1h0m39 1h0m-26 1h0m21 0h0m-34 1h0m9 1h0m-1 1h0m6 1h0m-6 1h0m3 1h0m39 0h0m-17 1h0m-41 1h0m26 0h0m-5 2h0m25 0h0m21 1h0m-24 1h0m-14 1h0m42 1h0m-49 1h0m14 3h0m18 1h0m-29 2h0m28 1h0m-9 2h0m7 1h0m-53 1h0m58 2h0m-2 1h0m-17 0h0m10 3h0m-47 2h0m1 1h0m17 1h0m-24 1h0m23 1h0m-20 1h0m10 2h0m32 1h0m32 3h0m-68 1h0m-10 1h0m23 1h0m-10 1h0m36 1h0m-36 2h0m2 2h0m22 3h0m-24 2h0m9 3h0m42 4h0m-45 4h0m31 3h0m-50 3h0m30 4h0m2 3h0m-7 7h0m24 4h0m-40 4h0m-3 13h0m34 16h0m38 55h0m44-386h0m10 22h0m9 24h0m-12 3h0m-11 4h0m-2 4h0m22 9h0m-42 4h0m41 4h0m-31 3h0m47 3h0m-61 2h0m61 1h0m-26 3h0m25 2h0m-20 3h0m-28 1h0m9 1h0m20 3h0m-22 2h0m-23 1h0m57 2h0m-16 1h0m-10 2h0m28 0h0m-11 1h0m-5 1h0m16 1h0m-34 1h0m22 1h0m-6 1h0m31 1h0m-53 1h0m4 1h0m28 2h0m-11 1h0m-4 2h0m20 1h0m10 1h0m-40 1h0m-5 0h0m-3 2h0m22 0h0m5 1h0m-36 1h0m-7 1h0m26 2h0m-10 0h0m48 2h0m-23 1h0m-19 1h0m2 1h0m4 1h0m-35 0h0m24 2h0m-12 1h0m25 1h0m-40 1h0m2 1h0m26 1h0m11 1h0m23 1h0m-36 0h0m34 2h0m7 0h0m-57 1h0m49 1h0m-35 0h0m-1 1h0m-15 1h0m-7 2h0m49 1h0m1 0h0m-16 1h0m22 1h0m-47 1h0m10 0h0m5 1h0m25 1h0m-46 1h0m3 1h0m-2 2h0m29 2h0m-2 2h0m-7 0h0m24 1h0m8 1h0m-27 2h0m-12 1h0m60 2h0m-19 1h0m-37 1h0m-2 1h0m34 1h0m-14 2h0m18 1h0m-51 2h0m35 1h0m-16 1h0m-20 2h0m43 1h0m-32 1h0m61 1h0m-76 2h0m-1 2h0m28 2h0m19 2h0m30 1h0m-42 2h0m40 1h0m-65 2h0m-6 2h0m24 3h0m-19 1h0m4 2h0m-12 3h0m0 4h0m1 5h0m10 7h0m8 7h0m-10 4h0m-8 4h0m3 5h0m32 11h0m-36 21h0m145-324h0m6 32h0m-68 14h0m68 6h0m-2 4h0m-29 5h0m7 7h0m16 5h0m14 5h0m-77 4h0m77 3h0m-16 1h0m-45 3h0m46 2h0m-44 3h0m29 2h0m-35 2h0m36 2h0m17 1h0m-60 4h0m22 0h0m13 1h0m-31 2h0m29 0h0m-16 1h0m-16 1h0m44 2h0m-25 1h0m0 2h0m26 1h0m15 1h0m-17 2h0m19 1h0m-12 1h0m17 2h0m-49 1h0m22 0h0m-26 1h0m8 2h0m-7 2h0m-5 1h0m37 1h0m-21 1h0m-8 1h0m-10 1h0m4 2h0m36 1h0m-1 1h0m5 0h0m-19 2h0m-39 1h0m48 2h0m-4 1h0m-41 1h0m11 1h0m31 2h0m-46 2h0m43 1h0m-23 1h0m-1 2h0m32 2h0m-29 1h0m54 3h0m-33 1h0m-17 2h0m3 1h0m14 2h0m0 2h0m-21 2h0m-9 2h0m-4 2h0m58 4h0m-13 4h0m-17 3h0m-14 3h0m8 4h0m-10 2h0m-12 4h0m22 4h0m7 2h0m-34 4h0m-4 9h0m39 13h0m38 22h0m-76 46h0m151-314h0m-31 9h0m22 22h0m-21 12h0m3 5h0m24 6h0m-33 4h0m23 3h0m-26 4h0m41 6h0m-66 3h0m6 2h0m43 5h0m-37 2h0m-9 2h0m30 5h0m-9 2h0m23 0h0m-46 4h0m5 0h0m26 3h0m5 2h0m-29 3h0m-6 1h0m4 3h0m9 2h0m16 3h0m-21 2h0m11 1h0m24 2h0m-30 3h0m-24 3h0m10 2h0m20 3h0m-9 3h0m-11 5h0m9 6h0m36 5h0m-23 7h0m-30 3h0m19 4h0m12 3h0m18 4h0m-43 9h0m-6 47h0m12 45h0m98-265h0m16 17h0m-39 18h0m-1 12h0m-8 7h0m36 16h0m-7 10h0m-18 13h0m12 39h0m-101-135h0m153-21h0" stroke="#EE30A7" stroke-opacity="0.6" stroke-width="7.2" stroke-linecap="round" fill="none"/>
<path transform="scale(.5)" d="M1313 4530h0m0 3h0m0 9h0m0 3h0m0 3h0m0 0h0m0 5h0m-7 2h0m2 3h0m5 2h0m-24 2h0m24 1h0m0 2h0m0 0h0m-17 3h0m17 1h0m0 1h0m0 1h0m0 2h0m3 1h0m-3 1h0m-14 1h0m-4 4h0m-8 2h0m26 1h0m-26 3h0m26 1h0m0 0h0m-23 1h0m-3 2h0m26 2h0m0 1h0m-26 2h0m26 3h0m0 1h0m0 2h0m-2 4h0m2 6h0m-26 1h0m26 2h0m0 2h0m0 4h0m0 5h0m0 2h0m0 2h0m-6 3h0m13 4h0m-23 1h0m16 2h0m-24 6h0m24 6h0m-26 7h0m26 7h0m-26 8h0m26 2h0m-1 11h0m1 16h0m-26 13h0m91-308h0m21 30h0m-18 10h0m18 17h0m-16 6h0m-14 3h0m8 3h0m-19 4h0m-19 5h0m44 2h0m10 2h0m-39 2h0m-19 3h0m55 2h0m-5 2h0m-27 1h0m-20 2h0m57 2h0m-18 1h0m10 1h0m-10 1h0m-17 1h0m27 2h0m-15 1h0m16 1h0m11 1h0m-30 1h0m25 1h0m-14 2h0m-49 1h0m22 1h0m-18 1h0m57 1h0m-26 1h0m10 2h0m0 0h0m-41 2h0m60 1h0m-10 1h0m-27 1h0m28 1h0m-51 0h0m26 1h0m37 1h0m-18 0h0m-15 2h0m-13 1h0m33 0h0m-5 2h0m2 0h0m-25 1h0m22 1h0m-26 1h0m41 1h0m-62 2h0m26 0h0m-2 1h0m-21 1h0m13 1h0m30 0h0m6 1h0m-49 1h0m41 1h0m-37 1h0m21 0h0m-19 1h0m-6 1h0m21 0h0m-21 1h0m38 0h0m-10 1h0m4 1h0m-15 0h0m8 1h0m-25 1h0m16 1h0m48 1h0m-23 1h0m-41 1h0m31 0h0m-3 1h0m29 0h0m-39 1h0m-18 0h0m-4 1h0m-2 2h0m34 0h0m-28 1h0m61 1h0m-61 1h0m28 1h0m-28 2h0m55 0h0m1 1h0m-14 1h0m6 2h0m-26 0h0m-22 1h0m-4 1h0m0 1h0m4 2h0m-1 1h0m29 0h0m-28 1h0m0 1h0m60 1h0m-60 1h0m0 2h0m-11 1h0m11 1h0m37 2h0m5 1h0m-1 0h0m-1 1h0m4 2h0m1 2h0m18 1h0m-38 1h0m22 2h0m-11 2h0m17 1h0m-27 2h0m-9 2h0m31 2h0m-44 4h0m35 2h0m-24 3h0m-15 3h0m34 3h0m-4 4h0m-30 4h0m-8 2h0m52 8h0m-23 5h0m15 8h0m-36 8h0m0 7h0m0 7h0m-6 14h0m109-325h0m36 18h0m-70 11h0m50 3h0m22 3h0m-58 7h0m58 4h0m-41 3h0m17 1h0m18 3h0m-32 3h0m-4 1h0m17 2h0m21 2h0m-17 2h0m-47 2h0m66 1h0m-3 2h0m-51 1h0m53 1h0m-13 2h0m-15 0h0m29 1h0m-48 2h0m34 1h0m-41 1h0m17 1h0m1 1h0m38 1h0m-10 2h0m-45 0h0m50 1h0m6 1h0m-40 1h0m36 1h0m8 1h0m-79 1h0m77 1h0m-78 1h0m39 1h0m24 1h0m-35 1h0m23 3h0m-21 1h0m37 1h0m-39 2h0m46 0h0m-56 1h0m44 1h0m-27 1h0m-30 0h0m54 1h0m5 1h0m-20 1h0m24 1h0m-32 1h0m19 1h0m-10 0h0m30 1h0m-55 1h0m-12 0h0m6 2h0m65 1h0m-4 2h0m-43 0h0m-6 1h0m-25 1h0m34 1h0m34 0h0m-16 2h0m-26 0h0m44 1h0m-18 1h0m-43 1h0m44 1h0m-51 1h0m46 1h0m-31 2h0m25 1h0m-32 0h0m37 1h0m-26 0h0m45 1h0m-54 1h0m58 1h0m-55 1h0m49 1h0m-29 0h0m-3 1h0m-28 0h0m38 1h0m31 2h0m-40 0h0m-19 1h0m60 2h0m-18 1h0m20 1h0m-59 1h0m39 1h0m5 1h0m13 1h0m-34 0h0m-25 2h0m-2 1h0m30 1h0m-33 0h0m65 2h0m-36 1h0m-40 2h0m6 1h0m1 1h0m41 0h0m-46 2h0m1 2h0m17 1h0m-17 1h0m7 1h0m9 1h0m13 2h0m-17 0h0m35 1h0m-23 1h0m4 2h0m12 1h0m-39 4h0m2 1h0m10 1h0m5 2h0m35 2h0m-51 1h0m41 2h0m-14 2h0m-28 2h0m10 4h0m8 2h0m13 3h0m11 2h0m-43 2h0m74 4h0m-2 2h0m-30 6h0m-32 8h0m41 3h0m-39 14h0m-12 15h0m30 59h0m93-372h0m34 22h0m-57 7h0m51 4h0m-2 4h0m-6 5h0m-24 4h0m24 4h0m-4 6h0m5 3h0m-36 2h0m46 1h0m0 1h0m-10 3h0m-8 1h0m-4 1h0m13 2h0m-20 1h0m28 2h0m-10 0h0m4 1h0m-41 2h0m42 2h0m-35 2h0m-2 0h0m46 2h0m-10 1h0m6 1h0m-2 1h0m-61 0h0m67 1h0m-6 2h0m-43 2h0m25 1h0m-25 2h0m49 2h0m-24 1h0m-44 1h0m24 1h0m35 2h0m-18 1h0m-25 1h0m13 1h0m23 1h0m-51 1h0m32 1h0m3 1h0m-17 1h0m-10 1h0m7 1h0m49 1h0m-44 1h0m-27 1h0m51 1h0m-53 1h0m67 1h0m-11 1h0m-29 1h0m11 1h0m33 2h0m5 0h0m-1 1h0m-72 0h0m68 2h0m-12 0h0m-55 2h0m46 1h0m-3 0h0m-5 1h0m-17 1h0m15 1h0m1 1h0m14 0h0m-2 1h0m-19 1h0m17 1h0m18 1h0m5 2h0m-17 0h0m-45 1h0m45 1h0m16 0h0m-9 1h0m-33 1h0m5 0h0m29 1h0m-4 1h0m8 1h0m-52 1h0m28 1h0m22 1h0m-20 0h0m5 1h0m-8 1h0m-19 0h0m-27 1h0m19 1h0m-6 0h0m-9 1h0m8 1h0m-7 0h0m31 1h0m-6 1h0m22 1h0m-18 2h0m-23 2h0m-13 0h0m1 2h0m35 1h0m0 2h0m-14 1h0m2 1h0m-5 1h0m14 1h0m-27 2h0m19 1h0m53 1h0m-40 2h0m-2 1h0m38 1h0m-57 1h0m18 2h0m-24 1h0m1 2h0m59 2h0m-60 2h0m-5 2h0m0 2h0m28 3h0m18 2h0m-22 1h0m20 2h0m13 2h0m-53 3h0m49 2h0m-9 3h0m-45 4h0m17 3h0m44 4h0m-62 8h0m63 6h0m-67 4h0m8 11h0m12 42h0m127-372h0m-2 23h0m-16 8h0m-15 18h0m-6 7h0m37 7h0m-12 3h0m-15 6h0m-13 2h0m51 2h0m0 1h0m3 3h0m-10 2h0m9 5h0m-12 3h0m-15 3h0m10 2h0m7 2h0m-14 2h0m14 1h0m3 1h0m3 2h0m-15 1h0m-17 2h0m-34 1h0m20 2h0m28 1h0m-17 1h0m-19 1h0m40 2h0m-39 1h0m8 0h0m46 1h0m-72 0h0m41 1h0m25 2h0m-21 1h0m-23 1h0m24 1h0m-2 2h0m-18 1h0m-14 0h0m46 1h0m16 1h0m-52 1h0m25 1h0m-21 1h0m26 1h0m0 2h0m-15 1h0m22 2h0m-1 0h0m-27 1h0m-20 1h0m52 1h0m-13 1h0m-3 2h0m-4 0h0m-18 1h0m-23 1h0m46 0h0m11 2h0m-39 0h0m54 1h0m-40 0h0m-35 2h0m60 1h0m0 0h0m-14 2h0m3 0h0m-26 0h0m16 1h0m39 1h0m-48 2h0m47 1h0m-44 1h0m13 1h0m15 0h0m-57 2h0m45 1h0m-2 0h0m-19 1h0m45 1h0m-54 2h0m53 1h0m-30 0h0m16 1h0m-22 1h0m-18 1h0m24 1h0m-24 0h0m1 1h0m25 1h0m4 1h0m11 1h0m-46 1h0m28 1h0m-38 0h0m31 1h0m35 1h0m-25 1h0m-30 1h0m40 1h0m-30 2h0m9 1h0m6 2h0m-8 1h0m2 1h0m-29 1h0m26 1h0m4 1h0m-31 1h0m6 1h0m14 1h0m-20 0h0m7 2h0m31 1h0m20 1h0m-52 1h0m39 1h0m8 2h0m-36 1h0m-13 2h0m26 1h0m-8 1h0m16 2h0m-20 1h0m-17 1h0m4 1h0m11 2h0m51 2h0m-55 1h0m-6 2h0m-11 2h0m39 1h0m36 4h0m-56 2h0m-14 2h0m41 2h0m-19 2h0m-13 1h0m-4 2h0m-6 3h0m29 7h0m16 3h0m-27 6h0m-19 11h0m47 7h0m-25 7h0m13 21h0m105-351h0m5 18h0m-37 29h0m48 9h0m-8 5h0m-16 4h0m21 4h0m-54 6h0m56 3h0m-42 2h0m30 3h0m-29 2h0m3 2h0m3 2h0m22 1h0m9 1h0m0 4h0m3 1h0m-13 2h0m1 2h0m-14 2h0m4 1h0m21 2h0m-56 1h0m8 1h0m37 1h0m-12 2h0m-33 1h0m38 2h0m-14 1h0m-10 0h0m-11 1h0m22 1h0m1 1h0m16 1h0m-2 1h0m-12 2h0m20 1h0m-49 1h0m30 1h0m-6 1h0m34 2h0m-58 1h0m-9 0h0m11 2h0m-3 1h0m50 1h0m-10 0h0m-54 1h0m35 0h0m17 2h0m18 0h0m-50 1h0m49 1h0m-23 1h0m3 1h0m-12 1h0m-7 1h0m-16 2h0m15 1h0m-14 1h0m41 1h0m-36 1h0m23 0h0m-20 1h0m32 0h0m-45 1h0m60 0h0m1 1h0m-36 1h0m30 0h0m-35 1h0m45 1h0m-50 1h0m40 0h0m-23 1h0m-31 0h0m61 1h0m-45 1h0m36 1h0m-34 1h0m2 1h0m-9 1h0m53 0h0m-67 0h0m28 1h0m40 1h0m-45 1h0m9 1h0m3 0h0m-45 1h0m22 1h0m-1 1h0m18 1h0m-38 0h0m36 1h0m-3 1h0m9 1h0m17 1h0m-42 1h0m-1 1h0m-5 1h0m17 1h0m10 1h0m-12 1h0m-6 1h0m-16 1h0m-7 1h0m2 1h0m1 1h0m72 1h0m-55 1h0m37 1h0m-56 1h0m5 0h0m44 1h0m-21 1h0m28 2h0m-21 1h0m-9 1h0m-18 0h0m26 2h0m-13 2h0m10 1h0m-25 2h0m26 1h0m23 1h0m-22 2h0m12 0h0m-39 2h0m36 1h0m-29 1h0m34 1h0m-29 2h0m1 2h0m-9 2h0m22 1h0m-9 1h0m20 2h0m-18 2h0m-3 4h0m-7 3h0m-14 2h0m29 6h0m-11 4h0m2 7h0m0 4h0m-20 10h0m3 12h0m8 26h0m123-370h0m16 47h0m-31 16h0m-25 9h0m18 6h0m12 5h0m27 3h0m-7 4h0m-38 2h0m47 3h0m-14 3h0m-35 4h0m9 3h0m16 2h0m22 3h0m-6 0h0m-5 2h0m13 1h0m-45 2h0m-9 1h0m22 2h0m20 1h0m-51 0h0m64 1h0m0 1h0m-16 1h0m-38 2h0m14 1h0m-13 1h0m13 1h0m13 1h0m24 2h0m-23 1h0m3 1h0m-53 1h0m65 1h0m-18 1h0m28 1h0m-5 1h0m-26 2h0m-19 1h0m39 1h0m7 1h0m-21 1h0m9 1h0m-23 0h0m-2 1h0m38 0h0m-56 0h0m55 2h0m-19 1h0m-48 1h0m61 1h0m-35 0h0m-14 1h0m36 1h0m10 1h0m-36 1h0m46 1h0m-32 1h0m17 1h0m22 1h0m-64 0h0m1 1h0m53 0h0m2 1h0m-14 1h0m-11 0h0m30 1h0m-39 1h0m-14 1h0m20 1h0m19 1h0m-37 1h0m-20 0h0m15 1h0m11 1h0m-1 0h0m-10 1h0m5 1h0m37 1h0m-55 1h0m5 1h0m62 1h0m-9 1h0m-48 1h0m3 0h0m42 1h0m11 1h0m-43 1h0m-6 0h0m-7 1h0m23 1h0m22 1h0m-40 1h0m-17 0h0m15 1h0m26 1h0m-41 1h0m63 1h0m-40 0h0m18 1h0m-23 1h0m51 2h0m-18 0h0m-48 2h0m37 2h0m-2 1h0m31 2h0m-48 2h0m8 1h0m-15 1h0m-11 1h0m6 2h0m10 1h0m-18 1h0m24 2h0m13 2h0m4 1h0m-44 1h0m55 1h0m-47 1h0m47 1h0m-47 3h0m-4 1h0m65 2h0m-34 1h0m41 1h0m-67 1h0m31 1h0m-17 1h0m29 2h0m-48 3h0m27 2h0m2 3h0m3 2h0m-4 5h0m-26 3h0m58 3h0m10 4h0m-66 4h0m30 3h0m-25 6h0m6 4h0m5 8h0m21 10h0m31 33h0m25-370h0m-10 28h0m53 28h0m-39 12h0m28 2h0m7 4h0m-60 5h0m53 8h0m-8 5h0m20 4h0m-36 2h0m42 3h0m-52 3h0m31 1h0m-3 3h0m-11 2h0m19 2h0m11 2h0m-27 1h0m-13 2h0m-18 2h0m43 1h0m18 2h0m-71 1h0m26 2h0m14 1h0m29 0h0m-56 1h0m32 2h0m-20 0h0m48 1h0m-43 1h0m-18 1h0m60 2h0m-60 0h0m31 2h0m9 1h0m25 2h0m-55 1h0m7 1h0m23 1h0m-16 1h0m3 1h0m24 0h0m-16 1h0m0 1h0m-15 1h0m12 2h0m-30 1h0m58 1h0m-40 1h0m21 1h0m0 1h0m26 1h0m-4 0h0m-43 2h0m-19 1h0m-10 1h0m19 2h0m56 1h0m-63 0h0m35 1h0m-31 1h0m40 1h0m-4 1h0m2 0h0m-28 1h0m26 1h0m12 1h0m-12 0h0m-3 1h0m-39 2h0m12 1h0m-9 0h0m6 1h0m43 1h0m-30 1h0m-3 0h0m39 1h0m-3 1h0m-41 1h0m-7 2h0m6 2h0m45 1h0m-49 2h0m52 1h0m-60 1h0m9 0h0m-7 2h0m18 1h0m-13 2h0m10 1h0m-25 1h0m16 1h0m32 1h0m-49 2h0m28 1h0m23 2h0m-15 1h0m37 2h0m-22 1h0m-42 1h0m-11 2h0m44 0h0m-39 3h0m23 1h0m-27 2h0m48 2h0m3 1h0m-48 2h0m-2 1h0m-3 2h0m22 3h0m-11 2h0m-9 1h0m30 3h0m-6 2h0m49 5h0m-47 5h0m46 9h0m-33 5h0m27 4h0m-71 3h0m6 6h0m52 10h0m-27 22h0m76-304h0m51 12h0m-31 13h0m-8 7h0m31 4h0m-21 7h0m-13 4h0m34 6h0m-53 4h0m14 4h0m8 3h0m27 1h0m13 3h0m-51 2h0m13 3h0m-4 3h0m22 1h0m-52 2h0m66 1h0m-37 4h0m-19 1h0m-3 1h0m7 1h0m24 0h0m-40 1h0m9 2h0m4 2h0m3 1h0m5 1h0m-24 1h0m10 1h0m-12 2h0m32 1h0m22 1h0m8 2h0m-54 1h0m37 1h0m3 1h0m-20 1h0m-6 2h0m9 1h0m36 1h0m-35 1h0m-20 1h0m5 1h0m19 2h0m-15 1h0m7 1h0m36 1h0m2 1h0m-49 1h0m55 2h0m-70 1h0m1 1h0m26 2h0m-16 1h0m45 2h0m-31 2h0m5 0h0m0 3h0m13 2h0m-26 1h0m-12 2h0m42 1h0m-20 2h0m-4 2h0m20 2h0m-35 1h0m4 2h0m24 2h0m-16 2h0m3 4h0m22 5h0m-26 3h0m-9 3h0m54 3h0m-37 2h0m23 4h0m-46 4h0m3 2h0m8 5h0m-8 8h0m40 17h0m-45 24h0m-3 66h0m94-339h0m40 16h0m-22 17h0m36 10h0m-39 7h0m35 4h0m-31 3h0m-6 3h0m-22 6h0m49 5h0m-10 2h0m33 3h0m-33 4h0m-40 3h0m11 2h0m37 5h0m-34 1h0m2 1h0m46 3h0m-54 0h0m60 3h0m6 3h0m-47 3h0m-28 1h0m5 2h0m4 2h0m5 3h0m3 2h0m-14 2h0m-2 2h0m24 3h0m12 2h0m-3 3h0m-36 2h0m45 4h0m-29 4h0m-12 6h0m22 6h0m36 7h0m-52 3h0m-7 3h0m18 4h0m16 4h0m33 18h0m-61 38h0m71-290h0m31 71h0m0 17h0m22 20h0m-53 9h0m25 7h0m-19 16h0m25 10h0m-32 20h0m22 41h0m-45-13h0m-16-330h0" stroke="#EE30A7" stroke-opacity="0.6" stroke-width="7.2" stroke-linecap="round" fill="none"/>
<path transform="scale(.5)" d="M1313 4511h0m0 10h0m2 5h0m-2 5h0m0 3h0m-26 4h0m23 5h0m3 4h0m0 2h0m0 2h0m0 1h0m0 2h0m-26 1h0m26 1h0m0 1h0m-2 1h0m2 1h0m-2 1h0m2 2h0m3 2h0m-3 1h0m-26 2h0m0 0h0m22 1h0m4 1h0m0 1h0m-26 2h0m32 2h0m-6 1h0m0 2h0m-26 2h0m26 1h0m0 2h0m-26 1h0m26 1h0m-18 2h0m21 3h0m-17 2h0m-12 2h0m0 3h0m26 1h0m0 2h0m0 1h0m-8 4h0m8 1h0m-26 3h0m0 3h0m0 1h0m0 4h0m26 2h0m-10 2h0m10 2h0m0 4h0m2 4h0m-2 1h0m3 6h0m-3 4h0m0 4h0m-6 12h0m6 9h0m-26 8h0m0 12h0m26 6h0m-26 17h0m88-303h0m1 20h0m9 15h0m13 5h0m-7 9h0m-2 7h0m-6 7h0m9 3h0m2 2h0m-4 3h0m5 3h0m-7 4h0m4 2h0m-57 3h0m35 0h0m19 1h0m-26 1h0m-28 1h0m62 2h0m-18 0h0m10 2h0m-51 1h0m47 1h0m12 1h0m-36 1h0m-26 1h0m63 2h0m-27 0h0m9 1h0m16 1h0m-6 1h0m-27 1h0m-7 1h0m4 1h0m25 1h0m-31 2h0m43 1h0m-28 1h0m11 1h0m10 0h0m-17 1h0m-23 1h0m21 0h0m-11 0h0m3 2h0m22 1h0m-30 1h0m0 0h0m36 1h0m-56 1h0m27 1h0m-27 1h0m36 1h0m-36 1h0m4 0h0m-4 1h0m-9 1h0m35 1h0m-5 1h0m-32 1h0m57 1h0m-47 0h0m29 1h0m-39 0h0m11 1h0m0 1h0m51 1h0m-8 1h0m16 1h0m0 1h0m-41 0h0m40 1h0m-58 0h0m28 1h0m-9 1h0m-19 0h0m51 1h0m-24 1h0m-10 0h0m-21 1h0m63 1h0m-56 0h0m-3 1h0m5 1h0m26 0h0m0 1h0m-3 1h0m-28 1h0m-6 0h0m25 1h0m0 1h0m-3 1h0m-16 0h0m3 1h0m-3 0h0m26 1h0m22 0h0m-13 1h0m-35 1h0m0 0h0m0 2h0m38 1h0m19 1h0m-29 1h0m8 1h0m-18 3h0m22 1h0m-40 1h0m20 1h0m-20 2h0m57 2h0m-38 1h0m-19 1h0m19 1h0m-19 1h0m0 1h0m19 1h0m-1 1h0m-1 1h0m2 1h0m31 3h0m-50 2h0m0 2h0m0 2h0m0 1h0m56 2h0m-32 1h0m-4 1h0m-29 2h0m32 3h0m-23 2h0m35 3h0m-24 4h0m16 3h0m13 7h0m-40 3h0m24 5h0m-24 3h0m0 10h0m-10 7h0m3 7h0m7 7h0m16 3h0m19 15h0m101-344h0m8 19h0m-50 12h0m32 5h0m-24 9h0m40 8h0m-20 5h0m19 2h0m-12 2h0m-63 3h0m66 3h0m-11 7h0m10 3h0m-20 2h0m-25 3h0m59 2h0m-3 0h0m-74 2h0m62 1h0m-49 2h0m63 2h0m-21 2h0m5 1h0m-40 1h0m-12 1h0m68 2h0m-20 2h0m-37 2h0m23 1h0m9 0h0m14 2h0m-56 1h0m-11 1h0m64 2h0m-9 1h0m-25 1h0m4 3h0m14 1h0m-17 1h0m20 1h0m-43 2h0m71 1h0m-10 1h0m-26 1h0m-4 1h0m-27 0h0m7 1h0m42 1h0m-16 0h0m-6 1h0m-22 0h0m33 1h0m-4 1h0m23 1h0m-53 1h0m59 1h0m3 0h0m-9 1h0m-16 1h0m-10 0h0m19 2h0m-12 1h0m-30 1h0m-13 2h0m64 0h0m-19 1h0m-20 0h0m14 1h0m16 1h0m4 1h0m6 0h0m0 1h0m-41 1h0m-1 1h0m-23 1h0m32 1h0m25 1h0m-34 1h0m32 1h0m-1 1h0m-59 0h0m24 1h0m43 1h0m-52 1h0m0 1h0m-2 1h0m25 2h0m-17 1h0m31 1h0m-49 1h0m66 0h0m-33 2h0m-7 1h0m-23 1h0m26 0h0m-21 2h0m-5 1h0m22 1h0m-30 1h0m21 1h0m48 1h0m-29 0h0m-39 1h0m52 2h0m-25 0h0m17 1h0m-14 3h0m9 1h0m-40 1h0m42 1h0m-20 1h0m34 1h0m-3 1h0m-7 1h0m-24 1h0m7 1h0m-19 1h0m18 1h0m-9 2h0m4 2h0m-22 3h0m6 1h0m2 0h0m54 2h0m-64 2h0m7 1h0m19 3h0m-18 1h0m14 5h0m16 4h0m-23 2h0m7 2h0m46 2h0m-35 4h0m11 2h0m-42 7h0m19 1h0m-9 4h0m61 9h0m-66 4h0m3 20h0m52 12h0m-61 68h0m105-385h0m45 16h0m-41 5h0m22 8h0m-1 3h0m-16 4h0m35 3h0m-2 1h0m-6 5h0m-49 3h0m57 2h0m8 7h0m-32 2h0m-1 2h0m27 2h0m7 1h0m-35 1h0m21 2h0m-11 2h0m-12 0h0m1 4h0m15 1h0m-19 1h0m37 2h0m-15 1h0m13 1h0m-62 2h0m21 1h0m23 2h0m2 1h0m9 2h0m-65 1h0m55 1h0m-39 1h0m31 0h0m-4 2h0m-7 0h0m-26 1h0m46 0h0m15 1h0m4 1h0m-74 0h0m30 1h0m-5 0h0m34 1h0m-5 2h0m-18 1h0m32 0h0m4 1h0m-60 1h0m53 1h0m-39 1h0m17 2h0m-42 0h0m56 2h0m-21 1h0m-24 1h0m8 2h0m44 1h0m-57 1h0m7 0h0m-15 1h0m3 1h0m6 1h0m2 1h0m46 0h0m0 1h0m-44 0h0m23 1h0m15 1h0m-34 1h0m19 0h0m-6 1h0m28 1h0m-20 1h0m-29 1h0m31 1h0m0 1h0m32 1h0m-54 2h0m10 1h0m7 1h0m-16 1h0m14 0h0m-15 1h0m24 1h0m-25 0h0m-7 1h0m37 1h0m-2 1h0m-41 0h0m67 2h0m-63 0h0m63 1h0m-27 2h0m-13 0h0m6 2h0m33 1h0m-28 0h0m-14 1h0m10 2h0m33 0h0m-44 1h0m-22 1h0m38 2h0m-36 1h0m-5 1h0m51 0h0m-24 1h0m22 1h0m-51 2h0m41 1h0m-35 3h0m3 1h0m-3 1h0m9 1h0m-11 1h0m-1 1h0m68 3h0m-4 2h0m-60 1h0m20 1h0m-24 1h0m26 2h0m4 2h0m-31 2h0m33 1h0m-10 2h0m25 2h0m-42 2h0m10 2h0m-16 2h0m4 1h0m-5 1h0m58 3h0m-42 1h0m43 5h0m-58 3h0m20 8h0m-3 4h0m-7 6h0m61 3h0m-9 18h0m-43 32h0m78-360h0m27 16h0m0 9h0m31 11h0m-44 10h0m39 5h0m-29 9h0m3 3h0m10 7h0m-2 2h0m-40 3h0m-11 3h0m73 2h0m-21 2h0m8 1h0m5 0h0m-14 2h0m-50 1h0m58 2h0m-14 1h0m3 3h0m13 1h0m13 3h0m-9 3h0m-52 1h0m26 1h0m31 1h0m-58 2h0m4 1h0m51 1h0m-60 1h0m65 3h0m-3 1h0m-31 1h0m15 1h0m-2 2h0m-52 0h0m14 1h0m-9 1h0m36 1h0m15 1h0m-32 2h0m40 0h0m-33 1h0m-7 0h0m-16 2h0m42 0h0m-4 2h0m25 1h0m-75 1h0m29 0h0m48 1h0m-5 1h0m-19 1h0m-48 1h0m48 1h0m-3 0h0m-14 2h0m-36 1h0m9 1h0m50 1h0m-9 0h0m-36 2h0m15 0h0m18 1h0m-36 1h0m-5 1h0m34 1h0m-3 1h0m-35 1h0m53 0h0m-26 1h0m9 1h0m-11 0h0m36 2h0m-2 1h0m-7 0h0m26 1h0m-74 1h0m55 1h0m8 0h0m-46 1h0m26 0h0m-11 1h0m-17 1h0m22 1h0m34 1h0m-23 0h0m3 1h0m-14 1h0m-6 0h0m11 2h0m-19 0h0m15 1h0m0 1h0m11 1h0m16 1h0m-9 2h0m6 1h0m-34 0h0m4 2h0m6 1h0m-32 0h0m-2 1h0m39 1h0m-5 0h0m5 1h0m18 2h0m-15 1h0m-47 0h0m50 1h0m-48 1h0m28 0h0m-31 3h0m75 1h0m-52 1h0m43 1h0m-63 1h0m-1 1h0m14 1h0m12 1h0m21 1h0m-7 3h0m-37 2h0m35 1h0m-39 1h0m71 2h0m-22 1h0m-2 2h0m1 2h0m-41 1h0m34 3h0m-22 3h0m19 2h0m-17 2h0m-1 2h0m-12 3h0m25 2h0m5 8h0m26 2h0m-68 6h0m52 5h0m-45 6h0m32 4h0m5 6h0m-45 9h0m67 12h0m70-342h0m18 35h0m-16 17h0m-33 5h0m26 7h0m-8 6h0m17 6h0m-4 3h0m18 5h0m-59 2h0m19 2h0m37 4h0m-37 0h0m18 3h0m-11 2h0m36 4h0m-11 1h0m-17 1h0m-9 2h0m-34 1h0m66 1h0m-47 1h0m15 1h0m-38 1h0m30 2h0m25 1h0m11 2h0m-60 2h0m70 2h0m-10 2h0m-27 1h0m6 0h0m-6 1h0m-6 2h0m29 1h0m-21 0h0m-5 1h0m29 1h0m-42 1h0m45 2h0m0 1h0m-64 1h0m58 1h0m-49 1h0m53 0h0m-30 2h0m14 1h0m-51 1h0m78 1h0m-70 0h0m13 1h0m18 1h0m25 1h0m-15 0h0m2 2h0m-48 0h0m36 1h0m-38 1h0m1 0h0m10 1h0m28 1h0m-26 0h0m48 1h0m-34 1h0m7 0h0m-17 1h0m2 0h0m8 1h0m30 1h0m-45 0h0m48 1h0m-50 1h0m23 1h0m10 2h0m-15 0h0m48 1h0m-18 1h0m-47 1h0m8 0h0m11 1h0m-6 1h0m-13 1h0m20 1h0m3 1h0m8 1h0m2 0h0m-39 1h0m41 1h0m4 2h0m-10 1h0m-43 0h0m74 1h0m-36 1h0m26 1h0m-5 0h0m-49 1h0m-10 1h0m37 1h0m23 1h0m-8 1h0m18 0h0m-54 1h0m23 1h0m-9 1h0m-14 1h0m4 1h0m-6 1h0m34 1h0m-44 1h0m56 1h0m-57 1h0m56 0h0m-48 1h0m13 1h0m-2 1h0m6 1h0m-4 0h0m13 2h0m-35 1h0m21 1h0m-22 1h0m3 1h0m-1 1h0m53 1h0m-12 2h0m-10 3h0m5 1h0m-16 1h0m33 1h0m-25 1h0m-25 2h0m18 2h0m11 1h0m41 2h0m-12 2h0m-24 2h0m33 2h0m-72 3h0m32 2h0m-7 1h0m-6 3h0m-7 1h0m15 2h0m13 2h0m-10 1h0m-9 3h0m-21 4h0m39 6h0m-31 9h0m51 5h0m-29 10h0m-4 30h0m-7 26h0m75-368h0m9 18h0m34 12h0m-43 8h0m54 8h0m-65 3h0m10 4h0m43 5h0m-8 5h0m18 2h0m-44 2h0m13 2h0m15 4h0m-10 2h0m-23 3h0m51 1h0m-23 3h0m22 1h0m-44 2h0m7 1h0m-10 2h0m54 1h0m-49 1h0m13 2h0m32 2h0m-50 1h0m38 2h0m3 1h0m-33 0h0m-24 1h0m38 2h0m0 0h0m0 1h0m19 1h0m-20 1h0m-37 1h0m23 1h0m16 1h0m17 1h0m1 1h0m-46 2h0m-3 0h0m50 1h0m-18 1h0m-24 0h0m43 1h0m-16 0h0m11 2h0m7 0h0m-13 1h0m5 1h0m-27 1h0m36 1h0m-55 1h0m25 1h0m30 1h0m-52 1h0m16 0h0m4 1h0m36 1h0m-27 1h0m1 1h0m-26 1h0m4 1h0m-12 1h0m15 1h0m28 1h0m12 1h0m-8 0h0m-50 1h0m68 1h0m-59 1h0m1 1h0m61 1h0m-54 1h0m18 1h0m-6 1h0m7 0h0m32 1h0m-20 1h0m-17 1h0m12 0h0m-7 1h0m-41 1h0m7 0h0m65 2h0m-44 1h0m42 0h0m-66 1h0m11 1h0m-6 1h0m-3 1h0m53 1h0m-1 1h0m-14 1h0m-5 1h0m7 1h0m-43 0h0m10 1h0m22 1h0m23 1h0m19 1h0m-54 1h0m-2 0h0m53 2h0m-65 1h0m-3 1h0m33 1h0m-26 1h0m53 1h0m-22 1h0m-36 1h0m-11 1h0m23 1h0m20 1h0m-40 2h0m16 0h0m-17 2h0m77 2h0m-52 1h0m4 2h0m-22 1h0m34 2h0m21 2h0m-54 1h0m54 2h0m-27 1h0m-36 2h0m51 1h0m-39 1h0m-3 2h0m6 1h0m48 2h0m-47 1h0m-15 2h0m-1 2h0m72 3h0m-56 7h0m24 3h0m-41 3h0m49 4h0m-6 4h0m3 8h0m-45 8h0m-1 13h0m3 29h0m153-342h0m-15 19h0m4 21h0m-37 4h0m24 9h0m-16 4h0m-15 4h0m8 3h0m22 5h0m-6 3h0m-41 1h0m67 2h0m-34 2h0m27 2h0m-9 2h0m21 2h0m-8 2h0m-47 2h0m45 2h0m-27 2h0m-4 0h0m33 3h0m-23 2h0m-5 1h0m28 1h0m-4 2h0m-40 1h0m55 2h0m-25 1h0m-16 1h0m-2 1h0m-26 2h0m65 1h0m-59 1h0m42 2h0m-10 1h0m17 0h0m-21 1h0m-38 1h0m-4 2h0m59 1h0m-10 1h0m-31 1h0m-8 2h0m21 2h0m4 0h0m27 1h0m-12 1h0m-30 1h0m-7 1h0m29 0h0m19 2h0m-18 0h0m-28 1h0m32 1h0m-1 1h0m-26 1h0m54 0h0m2 2h0m-71 1h0m9 0h0m-11 1h0m24 1h0m16 1h0m19 0h0m-60 1h0m28 1h0m-11 1h0m19 1h0m40 1h0m-16 0h0m-18 1h0m-9 1h0m-10 1h0m-12 1h0m6 1h0m31 1h0m-45 0h0m49 2h0m-34 1h0m1 0h0m52 1h0m-39 1h0m23 1h0m-17 1h0m31 1h0m3 2h0m1 1h0m-39 3h0m29 0h0m-12 2h0m-52 1h0m57 2h0m-47 1h0m5 1h0m-1 1h0m42 2h0m-58 1h0m22 2h0m18 1h0m-4 1h0m-35 1h0m58 2h0m-43 2h0m42 1h0m-3 2h0m-47 1h0m-4 3h0m56 1h0m-38 2h0m11 1h0m30 4h0m-30 2h0m-28 2h0m14 2h0m32 2h0m-47 3h0m46 3h0m-35 2h0m-9 4h0m29 5h0m-13 4h0m-20 3h0m47 17h0m-49 25h0m148-321h0m-2 40h0m12 15h0m-49 5h0m-13 5h0m-9 7h0m25 1h0m-16 4h0m20 5h0m-28 3h0m51 3h0m2 2h0m-3 3h0m-3 1h0m-28 3h0m-19 1h0m60 1h0m-49 3h0m-16 1h0m28 1h0m41 1h0m-10 1h0m-43 4h0m48 1h0m-6 1h0m15 3h0m-55 1h0m13 1h0m3 2h0m-37 0h0m64 1h0m-26 1h0m13 1h0m-22 1h0m10 1h0m-36 1h0m47 1h0m-49 2h0m18 1h0m-20 1h0m30 1h0m18 1h0m-13 2h0m41 2h0m-61 1h0m25 1h0m32 1h0m-24 2h0m-36 2h0m32 2h0m-30 2h0m-14 2h0m36 1h0m-9 1h0m-15 1h0m39 3h0m-20 1h0m-4 2h0m12 2h0m34 1h0m-70 4h0m6 1h0m10 2h0m31 2h0m-41 2h0m6 1h0m30 1h0m-36 1h0m50 3h0m-44 1h0m-11 2h0m-4 3h0m24 3h0m-11 4h0m15 4h0m-15 6h0m18 5h0m-19 9h0m3 3h0m35 10h0m-2 9h0m-12 44h0m101-284h0m-13 13h0m11 14h0m16 7h0m-67 3h0m67 4h0m-65 4h0m32 4h0m5 1h0m26 3h0m-8 2h0m-8 3h0m5 2h0m-40 3h0m-4 4h0m-3 2h0m0 4h0m-4 2h0m68 4h0m-70 2h0m50 3h0m-33 2h0m29 4h0m-43 3h0m18 3h0m28 1h0m-17 1h0m-3 3h0m-18 1h0m-4 5h0m-3 3h0m20 4h0m-27 4h0m18 7h0m3 4h0m34 5h0m-51 5h0m2 3h0m10 19h0m-4 15h0m-2 22h0m110-288h0m-23 67h0m33 19h0m-40 10h0m13 9h0m16 7h0m-32 7h0m33 17h0m-27 22h0m12 11h0m25 49h0m-206 49h0m-97-67h0" stroke="#4A77FB" stroke-opacity="0.6" stroke-width="7.2" stroke-linecap="round" fill="none"/>
<path transform="scale(.5)" d="M1313 4540h0m0 5h0m0 11h0m0 4h0m-13 4h0m13 1h0m0 2h0m-26 1h0m26 1h0m-25 3h0m29 2h0m-4 2h0m0 2h0m0 1h0m0 3h0m-26 2h0m26 1h0m-26 1h0m26 1h0m0 2h0m-18 0h0m11 2h0m-3 0h0m-16 2h0m26 1h0m0 1h0m0 1h0m-26 1h0m26 0h0m-26 2h0m9 2h0m21 1h0m-4 2h0m-26 1h0m0 1h0m26 1h0m-26 4h0m26 1h0m-26 2h0m21 5h0m-21 1h0m6 3h0m21 3h0m-1 2h0m0 3h0m-26 3h0m26 1h0m-26 3h0m20 3h0m6 1h0m0 2h0m-26 1h0m7 4h0m19 4h0m-11 5h0m11 3h0m-26 7h0m0 6h0m26 7h0m-26 9h0m0 6h0m26 7h0m0 16h0m-13 8h0m88-326h0m-12 51h0m18 24h0m-1 7h0m-1 4h0m-2 4h0m-24 5h0m14 1h0m15 4h0m1 1h0m-49 1h0m48 3h0m-60 0h0m49 3h0m-26 3h0m33 1h0m5 2h0m-7 1h0m-22 2h0m20 1h0m5 2h0m-51 1h0m37 2h0m-24 2h0m31 1h0m-17 3h0m-2 0h0m19 2h0m-14 0h0m-3 1h0m7 0h0m16 1h0m-18 2h0m-19 1h0m39 1h0m-30 1h0m32 1h0m-45 1h0m5 1h0m-5 1h0m30 1h0m-8 1h0m1 1h0m-9 1h0m22 2h0m-26 0h0m39 0h0m-42 2h0m4 0h0m37 1h0m-63 0h0m64 1h0m-45 1h0m0 1h0m-19 0h0m63 0h0m-63 1h0m50 1h0m-37 0h0m15 1h0m2 0h0m24 1h0m-63 1h0m45 0h0m-36 0h0m0 1h0m0 1h0m0 1h0m0 1h0m44 0h0m-26 1h0m-18 0h0m30 1h0m4 1h0m-19 1h0m-15 0h0m49 2h0m-49 0h0m28 1h0m2 1h0m-11 1h0m-6 1h0m-13 1h0m-13 0h0m13 1h0m0 1h0m14 0h0m32 1h0m14 0h0m-60 1h0m0 0h0m19 2h0m-22 0h0m59 2h0m-59 1h0m3 0h0m-12 2h0m20 1h0m29 1h0m21 2h0m-1 2h0m-22 1h0m22 1h0m-35 2h0m-2 1h0m-20 2h0m0 1h0m60 2h0m-60 0h0m20 2h0m-10 1h0m13 2h0m35 1h0m-31 1h0m-18 1h0m37 1h0m-15 2h0m-23 2h0m11 1h0m2 2h0m-21 2h0m24 1h0m4 2h0m-35 2h0m48 3h0m-34 1h0m-7 0h0m27 2h0m-27 2h0m18 3h0m-13 2h0m14 3h0m-19 2h0m11 2h0m-11 4h0m0 4h0m53 4h0m-53 5h0m0 6h0m61 12h0m-34 6h0m-27 9h0m0 9h0m136-359h0m-15 29h0m11 32h0m-2 10h0m-2 7h0m-1 2h0m-12 3h0m-15 2h0m33 3h0m-39 2h0m6 2h0m33 2h0m8 1h0m2 3h0m-56 3h0m41 2h0m-38 3h0m40 3h0m14 1h0m-12 1h0m-3 2h0m-8 2h0m1 1h0m-4 2h0m-22 2h0m36 1h0m-55 1h0m31 1h0m-2 1h0m4 1h0m-14 1h0m15 2h0m-26 0h0m-5 0h0m22 1h0m7 1h0m21 1h0m11 1h0m-24 2h0m19 1h0m-66 1h0m58 1h0m-41 0h0m52 1h0m-40 1h0m23 1h0m0 1h0m-50 1h0m50 0h0m12 1h0m-33 0h0m13 1h0m-44 2h0m4 0h0m1 2h0m42 1h0m22 1h0m-27 0h0m18 1h0m-58 1h0m66 1h0m-26 1h0m-11 1h0m-11 1h0m9 0h0m-17 2h0m-1 0h0m54 2h0m-65 1h0m58 2h0m-19 1h0m-12 1h0m-11 1h0m-17 1h0m53 1h0m-24 1h0m8 1h0m34 1h0m2 1h0m-72 1h0m64 1h0m-9 1h0m14 1h0m-69 1h0m5 1h0m43 2h0m-10 1h0m-19 1h0m4 1h0m18 1h0m-20 0h0m29 1h0m-54 1h0m59 1h0m-42 1h0m-5 0h0m-2 1h0m20 0h0m42 1h0m-40 1h0m41 0h0m-45 2h0m-3 1h0m-3 1h0m24 1h0m-17 0h0m12 1h0m35 0h0m-17 1h0m-53 1h0m32 1h0m-25 2h0m4 1h0m41 2h0m-44 1h0m6 1h0m20 1h0m1 2h0m-8 2h0m-7 1h0m-24 2h0m15 2h0m-10 1h0m22 3h0m-3 3h0m-19 1h0m-4 2h0m5 2h0m-5 2h0m53 2h0m-56 1h0m31 3h0m-1 2h0m-11 4h0m-7 5h0m35 6h0m-42 3h0m1 5h0m65 3h0m-66 10h0m57 6h0m-45 16h0m21 17h0m118-383h0m-75 42h0m59 12h0m-36 9h0m38 7h0m-9 7h0m-52 3h0m76 4h0m-5 4h0m7 4h0m-39 4h0m37 3h0m-23 5h0m12 3h0m-25 4h0m-13 2h0m46 2h0m-50 2h0m7 2h0m10 1h0m15 2h0m-41 2h0m62 5h0m-36 1h0m-5 2h0m28 2h0m-5 2h0m4 1h0m-56 1h0m64 2h0m-39 2h0m43 1h0m2 1h0m-18 1h0m-40 1h0m-3 1h0m13 2h0m4 1h0m2 0h0m-33 1h0m15 1h0m-13 1h0m55 1h0m-35 1h0m23 0h0m-29 1h0m-13 1h0m20 1h0m52 1h0m-55 1h0m8 1h0m30 1h0m4 1h0m-30 1h0m-20 0h0m20 2h0m32 1h0m13 1h0m-23 2h0m22 1h0m-48 1h0m18 1h0m3 0h0m-35 1h0m24 1h0m27 0h0m2 1h0m-45 1h0m3 0h0m20 2h0m-18 1h0m12 0h0m-20 1h0m-14 1h0m20 1h0m33 1h0m-56 1h0m63 1h0m-66 1h0m31 2h0m-32 0h0m73 1h0m-19 0h0m20 1h0m-51 1h0m-24 1h0m36 1h0m26 1h0m-31 0h0m12 2h0m11 0h0m-31 1h0m20 1h0m11 1h0m-18 1h0m8 1h0m34 1h0m-22 1h0m-32 1h0m-20 1h0m47 1h0m-42 1h0m8 1h0m-13 1h0m48 1h0m-43 2h0m44 0h0m-13 2h0m-11 1h0m7 1h0m33 2h0m-25 1h0m24 2h0m5 1h0m-17 2h0m13 1h0m-40 2h0m45 0h0m-53 1h0m-18 2h0m6 3h0m10 1h0m-2 3h0m-14 3h0m50 3h0m-11 2h0m-1 3h0m-13 1h0m7 3h0m-12 2h0m-20 4h0m6 7h0m5 4h0m28 2h0m-13 5h0m-8 7h0m42 10h0m-44 13h0m39 67h0m73-388h0m-48 21h0m69 10h0m-9 9h0m-14 7h0m-38 3h0m11 7h0m56 4h0m-9 3h0m-43 2h0m4 5h0m38 2h0m-14 1h0m-51 2h0m76 2h0m-44 2h0m29 2h0m7 2h0m-24 2h0m-21 2h0m1 2h0m5 1h0m4 2h0m36 1h0m-71 2h0m43 1h0m11 3h0m-34 2h0m22 2h0m14 1h0m-3 1h0m-12 0h0m18 1h0m-57 1h0m39 1h0m-30 1h0m65 1h0m-76 1h0m39 0h0m19 2h0m-47 1h0m25 1h0m-8 1h0m15 1h0m-34 0h0m47 2h0m-45 1h0m67 0h0m-9 1h0m-50 1h0m56 1h0m-17 1h0m7 1h0m-11 1h0m-40 0h0m37 1h0m-14 1h0m26 1h0m3 0h0m-59 1h0m48 1h0m-47 1h0m32 1h0m-3 1h0m-14 1h0m13 0h0m-30 1h0m-6 1h0m10 1h0m-1 1h0m1 1h0m46 0h0m-12 1h0m-26 2h0m3 1h0m14 0h0m-10 1h0m-18 1h0m46 0h0m-16 1h0m35 1h0m-4 1h0m-47 1h0m-15 1h0m42 0h0m-21 1h0m39 1h0m-41 1h0m20 1h0m-34 1h0m52 1h0m-19 0h0m-29 2h0m60 2h0m-29 1h0m9 0h0m-30 1h0m42 1h0m-12 1h0m-31 0h0m-3 1h0m-22 1h0m56 1h0m-27 1h0m8 1h0m6 1h0m-41 1h0m5 1h0m12 0h0m14 2h0m19 2h0m-13 1h0m5 1h0m-19 1h0m-18 1h0m34 2h0m-26 1h0m42 1h0m-11 2h0m-4 1h0m-14 2h0m-15 1h0m25 2h0m-21 2h0m-2 3h0m0 1h0m-10 3h0m-3 3h0m2 2h0m57 3h0m16 3h0m3 1h0m-78 2h0m22 3h0m20 3h0m-5 3h0m-36 3h0m64 3h0m-61 3h0m9 5h0m-11 4h0m10 5h0m4 5h0m14 11h0m-18 57h0m131-401h0m-52 44h0m48 14h0m17 9h0m-20 9h0m7 7h0m3 6h0m-10 3h0m5 5h0m-58 3h0m39 4h0m0 2h0m10 2h0m-10 1h0m-18 1h0m23 2h0m6 2h0m-45 1h0m6 1h0m47 1h0m-42 3h0m8 2h0m4 1h0m-21 2h0m28 2h0m-19 1h0m14 1h0m12 1h0m-44 1h0m56 0h0m8 2h0m-59 1h0m61 3h0m-12 0h0m-48 1h0m53 1h0m-4 1h0m-15 1h0m-11 0h0m-7 1h0m18 1h0m37 1h0m-32 2h0m31 1h0m-24 0h0m1 1h0m-40 1h0m51 0h0m6 1h0m-70 1h0m74 1h0m-55 1h0m4 1h0m53 0h0m-21 1h0m-41 1h0m47 0h0m-51 1h0m-2 1h0m51 1h0m-29 0h0m24 1h0m-13 1h0m27 0h0m-34 1h0m3 1h0m5 1h0m-8 0h0m-22 2h0m17 1h0m-14 0h0m14 1h0m-31 1h0m51 0h0m-42 1h0m51 1h0m-4 1h0m15 1h0m-42 1h0m17 2h0m16 1h0m-15 1h0m-46 1h0m77 1h0m-70 1h0m-5 1h0m33 1h0m3 1h0m30 1h0m5 1h0m-32 1h0m34 1h0m-27 0h0m8 2h0m3 0h0m9 1h0m-17 0h0m-13 2h0m-11 1h0m13 1h0m-39 1h0m45 0h0m-7 2h0m17 1h0m21 1h0m-56 1h0m-17 1h0m34 1h0m-22 1h0m2 1h0m49 1h0m-60 1h0m28 1h0m27 1h0m-23 1h0m-36 1h0m60 1h0m-20 2h0m-22 1h0m26 2h0m-13 1h0m32 1h0m-63 1h0m31 1h0m5 3h0m-16 1h0m27 1h0m-38 1h0m-9 2h0m33 3h0m21 3h0m-55 3h0m58 1h0m-23 1h0m-16 3h0m15 4h0m-2 1h0m-35 2h0m21 2h0m32 3h0m-28 7h0m52 8h0m-52 5h0m-7 12h0m-15 37h0m150-378h0m-8 36h0m5 14h0m6 13h0m-21 6h0m-28 5h0m-4 4h0m27 4h0m17 6h0m8 3h0m-16 4h0m-51 1h0m57 3h0m13 3h0m-75 2h0m58 2h0m-13 2h0m5 1h0m15 1h0m-13 1h0m19 2h0m-30 1h0m1 2h0m18 2h0m-18 1h0m-38 1h0m13 0h0m7 2h0m-4 3h0m40 1h0m-33 1h0m33 2h0m6 0h0m-25 2h0m1 1h0m-41 2h0m21 1h0m17 1h0m27 1h0m-12 1h0m6 2h0m0 1h0m4 1h0m-6 1h0m10 0h0m7 1h0m-3 1h0m-15 2h0m-47 0h0m56 0h0m-33 1h0m13 1h0m-39 2h0m37 1h0m17 1h0m-26 1h0m2 1h0m-20 0h0m-9 1h0m35 1h0m26 0h0m-52 1h0m33 1h0m-20 1h0m12 1h0m-38 1h0m57 1h0m13 0h0m-30 1h0m-25 1h0m-4 1h0m53 1h0m-63 0h0m33 1h0m31 1h0m-1 1h0m-54 1h0m0 0h0m57 2h0m-44 1h0m-22 0h0m4 1h0m40 1h0m-48 1h0m68 0h0m-8 1h0m-45 1h0m12 1h0m29 1h0m-1 0h0m-43 1h0m-5 1h0m38 1h0m-37 1h0m1 1h0m47 1h0m-38 1h0m-19 2h0m14 1h0m50 1h0m-13 0h0m-7 1h0m-27 1h0m-17 1h0m12 1h0m8 1h0m-12 1h0m40 1h0m-38 0h0m-8 1h0m32 1h0m28 1h0m-25 1h0m-20 1h0m9 1h0m35 0h0m-27 1h0m-37 1h0m62 1h0m-51 2h0m19 0h0m-24 1h0m42 1h0m-26 3h0m-16 1h0m21 2h0m-11 1h0m-3 3h0m16 2h0m-15 1h0m0 2h0m14 1h0m14 1h0m-41 2h0m23 2h0m11 2h0m-15 2h0m-20 4h0m40 2h0m-37 4h0m50 2h0m19 5h0m-58 4h0m46 11h0m-22 13h0m28 7h0m-38 13h0m-4 43h0m114-350h0m5 17h0m-6 10h0m11 8h0m-37 5h0m-23 2h0m38 2h0m-27 3h0m16 5h0m5 0h0m-16 3h0m-18 1h0m70 4h0m-7 2h0m4 4h0m-61 3h0m39 2h0m27 1h0m-17 3h0m-33 1h0m25 2h0m-9 0h0m-1 2h0m-22 0h0m23 2h0m-31 1h0m64 1h0m-6 1h0m-1 1h0m7 1h0m-32 1h0m6 0h0m6 2h0m-52 1h0m62 1h0m-10 2h0m-1 1h0m23 1h0m-46 1h0m15 1h0m-7 0h0m1 1h0m18 1h0m-39 1h0m53 1h0m-66 2h0m2 0h0m27 1h0m34 1h0m-16 1h0m-21 0h0m41 1h0m-69 1h0m39 1h0m31 2h0m-37 1h0m17 0h0m-22 1h0m29 1h0m-64 0h0m47 2h0m-30 1h0m43 1h0m-34 1h0m7 1h0m33 1h0m-24 1h0m32 1h0m-67 0h0m18 2h0m30 0h0m-38 1h0m36 0h0m-12 1h0m12 1h0m-33 1h0m25 1h0m-12 1h0m43 1h0m-40 1h0m-13 2h0m17 0h0m34 1h0m-52 1h0m9 1h0m19 0h0m-19 1h0m-26 1h0m-4 1h0m7 1h0m64 1h0m-31 1h0m7 1h0m-32 0h0m0 1h0m19 1h0m-7 1h0m-18 2h0m49 0h0m-42 2h0m17 1h0m36 1h0m-43 1h0m0 0h0m27 2h0m-20 0h0m10 2h0m4 1h0m-36 1h0m43 1h0m-15 1h0m-16 1h0m41 1h0m-1 1h0m-56 3h0m4 1h0m-3 1h0m34 1h0m-27 1h0m39 3h0m-49 2h0m6 3h0m-3 3h0m5 2h0m60 3h0m-63 5h0m-2 2h0m43 4h0m12 4h0m-40 5h0m-22 6h0m-1 4h0m7 4h0m28 7h0m30 23h0m39-313h0m50 22h0m-31 11h0m28 10h0m5 10h0m-18 4h0m8 12h0m-24 2h0m12 2h0m-38 2h0m33 2h0m2 5h0m-39 3h0m-1 2h0m23 4h0m29 2h0m16 1h0m-44 2h0m19 1h0m-43 2h0m62 1h0m-57 2h0m16 1h0m-6 2h0m17 1h0m-28 1h0m-8 2h0m16 1h0m14 2h0m31 1h0m-48 1h0m23 1h0m-39 3h0m19 2h0m-14 1h0m11 1h0m19 2h0m-5 1h0m-35 1h0m4 3h0m-4 2h0m15 1h0m-9 0h0m-3 1h0m44 2h0m-25 1h0m37 2h0m-6 1h0m-8 2h0m-41 1h0m5 2h0m19 1h0m-23 2h0m26 1h0m-3 1h0m-3 2h0m20 1h0m-27 1h0m34 1h0m-25 1h0m-2 3h0m-13 2h0m20 3h0m3 2h0m-34 1h0m5 2h0m62 2h0m3 1h0m-31 3h0m-40 1h0m3 3h0m6 3h0m41 1h0m-45 4h0m45 2h0m-13 2h0m-31 6h0m-4 4h0m26 6h0m2 5h0m-17 5h0m-13 4h0m5 11h0m28 15h0m118-271h0m-27 14h0m-9 14h0m-20 18h0m0 2h0m12 3h0m24 7h0m-45 2h0m30 5h0m40 5h0m-38 3h0m-2 4h0m36 4h0m-38 4h0m-25 2h0m31 4h0m-25 1h0m41 6h0m-4 3h0m25 2h0m-31 3h0m-37 2h0m15 2h0m42 4h0m-57 3h0m30 4h0m-21 3h0m-16 1h0m9 3h0m42 3h0m-25 2h0m-17 3h0m1 2h0m-3 3h0m11 3h0m8 8h0m-25 2h0m71 3h0m-62 5h0m12 8h0m-4 6h0m-19 17h0m0 37h0m120-222h0m-34 12h0m4 13h0m25 8h0m-23 10h0m12 17h0m0 7h0m-5 19h0m-4 10h0m1 21h0m-9 31h0m-38-9h0m-5-50h0" stroke="#9ACD32" stroke-opacity="0.6" stroke-width="7.2" stroke-linecap="round" fill="none"/>
<line x1="624" y1="2304.2" x2="1100.2" y2="1987" stroke="#000" stroke-width="4.2" stroke-dasharray="17.8 15.17" stroke-dashoffset="2.1"/>
<line x1="643.7" y1="2296.3" x2="1080.1" y2="2006.3" stroke="#4A77FB" stroke-width="8.4"/>
<line x1="643.7" y1="2297.5" x2="1059.5" y2="2021.5" stroke="#EE30A7" stroke-width="8.2"/>
<line x1="643.7" y1="2303.8" x2="1062.7" y2="2025.7" stroke="#9ACD32" stroke-width="3.6"/>
<rect x="623" y="1866" width="478.2" height="537.3" fill="none" stroke="#333333" stroke-width="2.1"/>
<line x1="643.7" y1="2403.3" x2="643.7" y2="2415.1" stroke="#333333" stroke-width="4.1"/>
<text x="643.7" y="2440.2" font-size="22.8" text-anchor="middle" fill="#4D4D4D">1</text>
<line x1="832.6" y1="2403.3" x2="832.6" y2="2415.1" stroke="#333333" stroke-width="4.1"/>
<text x="832.6" y="2440.2" font-size="22.8" text-anchor="middle" fill="#4D4D4D">10</text>
<line x1="1021.5" y1="2403.3" x2="1021.5" y2="2415.1" stroke="#333333" stroke-width="4.1"/>
<text x="1021.5" y="2440.2" font-size="22.8" text-anchor="middle" fill="#4D4D4D">100</text>
<line x1="110.5" y1="2291.3" x2="122" y2="2291.3" stroke="#333333" stroke-width="4.1"/>
<text x="99.5" y="2299.6" font-size="22.8" text-anchor="end" fill="#4D4D4D">1</text>
<line x1="110.5" y1="2166.1" x2="122" y2="2166.1" stroke="#333333" stroke-width="4.1"/>
<text x="99.5" y="2174.4" font-size="22.8" text-anchor="end" fill="#4D4D4D">10</text>
<line x1="110.5" y1="2040.9" x2="122" y2="2040.9" stroke="#333333" stroke-width="4.1"/>
<text x="99.5" y="2049.2" font-size="22.8" text-anchor="end" fill="#4D4D4D">100</text>
<line x1="110.5" y1="1915.7" x2="122" y2="1915.7" stroke="#333333" stroke-width="4.1"/>
<text x="99.5" y="1924" font-size="22.8" text-anchor="end" fill="#4D4D4D">1000</text>
<text x="34.4" y="2134.5" font-size="30.65" text-anchor="middle" transform="rotate(-90 34.4 2134.5)">Gene coverage dispersion</text>
<text x="610.7" y="2476.6" font-size="31.1" text-anchor="middle">Mean gene coverage</text>
<rect x="1288.5" y="2343.3" width="54.5" height="13.1" rx="1.5" fill="#EE30A7"/>
<circle cx="1316.2" cy="2339.5" r="5.0" fill="#EE30A7"/>
<circle cx="1316.2" cy="2343" r="5.0" fill="#EE30A7"/>
<circle cx="1316.2" cy="2347" r="5.0" fill="#EE30A7"/>
<circle cx="1316.2" cy="2350" r="5.0" fill="#EE30A7"/>
<circle cx="1316.2" cy="2353.5" r="5.0" fill="#EE30A7"/>
<circle cx="1316.2" cy="2355.5" r="5.0" fill="#EE30A7"/>
<rect x="1358.4" y="2221.8" width="51" height="23.3" fill="#fff" stroke="#4A77FB" stroke-width="3.6"/>
<line x1="1358.4" y1="2240.5" x2="1409.4" y2="2240.5" stroke="#4A77FB" stroke-width="7.2"/>
<circle cx="1384.4" cy="2206.4" r="5.3" fill="#4A77FB"/>
<circle cx="1384.4" cy="2215.2" r="5.3" fill="#4A77FB"/>
<circle cx="1384.4" cy="2233.2" r="5.3" fill="#4A77FB"/>
<circle cx="1384.4" cy="2239.6" r="5.3" fill="#4A77FB"/>
<circle cx="1384.4" cy="2241.5" r="5.3" fill="#4A77FB"/>
<circle cx="1384.4" cy="2253.2" r="5.3" fill="#4A77FB"/>
<circle cx="1384.4" cy="2266.3" r="5.3" fill="#4A77FB"/>
<line x1="1384.4" y1="2206.4" x2="1384.4" y2="2222" stroke="#4A77FB" stroke-width="3.6"/>
<line x1="1384.4" y1="2245" x2="1384.4" y2="2266.3" stroke="#4A77FB" stroke-width="3.6"/>
<rect x="1495.3" y="1851.8" width="50.4" height="33" fill="#fff" stroke="#9ACD32" stroke-width="3.6"/>
<line x1="1495.3" y1="1873.4" x2="1545.7" y2="1873.4" stroke="#9ACD32" stroke-width="7.2"/>
<line x1="1520.7" y1="1825.7" x2="1520.7" y2="1912.4" stroke="#9ACD32" stroke-width="3.6"/>
<circle cx="1520.7" cy="1825.7" r="5.3" fill="#9ACD32"/>
<circle cx="1520.7" cy="1835.5" r="5.3" fill="#9ACD32"/>
<circle cx="1520.7" cy="1845" r="5.3" fill="#9ACD32"/>
<circle cx="1520.7" cy="1852" r="5.3" fill="#9ACD32"/>
<circle cx="1520.7" cy="1858" r="5.3" fill="#9ACD32"/>
<circle cx="1520.7" cy="1864" r="5.3" fill="#9ACD32"/>
<circle cx="1520.7" cy="1869" r="5.3" fill="#9ACD32"/>
<circle cx="1520.7" cy="1874" r="5.3" fill="#9ACD32"/>
<circle cx="1520.7" cy="1879" r="5.3" fill="#9ACD32"/>
<circle cx="1520.7" cy="1884" r="5.3" fill="#9ACD32"/>
<circle cx="1520.7" cy="1890" r="5.3" fill="#9ACD32"/>
<circle cx="1520.7" cy="1897" r="5.3" fill="#9ACD32"/>
<circle cx="1520.7" cy="1904.5" r="5.3" fill="#9ACD32"/>
<circle cx="1520.7" cy="1912.4" r="5.3" fill="#9ACD32"/>
<circle cx="1949.2" cy="1825.7" r="5.3" fill="#9ACD32"/>
<circle cx="1956.5" cy="1836.9" r="5.3" fill="#9ACD32"/>
<circle cx="1961.3" cy="1845.7" r="5.3" fill="#9ACD32"/>
<circle cx="1938.4" cy="1854" r="5.3" fill="#9ACD32"/>
<circle cx="1935" cy="1862.2" r="5.3" fill="#9ACD32"/>
<circle cx="1951.6" cy="1871" r="5.3" fill="#9ACD32"/>
<circle cx="1938.4" cy="1874.4" r="5.3" fill="#9ACD32"/>
<circle cx="1927.2" cy="1885.1" r="5.3" fill="#9ACD32"/>
<circle cx="1935" cy="1881.7" r="5.3" fill="#9ACD32"/>
<circle cx="1943.3" cy="1885.6" r="5.3" fill="#9ACD32"/>
<circle cx="1940.9" cy="1877.8" r="5.3" fill="#9ACD32"/>
<circle cx="1933.6" cy="1897.8" r="5.3" fill="#9ACD32"/>
<circle cx="1938.4" cy="1902.6" r="5.3" fill="#9ACD32"/>
<circle cx="1931.1" cy="1911.9" r="5.3" fill="#9ACD32"/>
<circle cx="1956.5" cy="1845.2" r="5.3" fill="#9ACD32"/>
<circle cx="1771" cy="2237.1" r="5.3" fill="#4A77FB"/>
<circle cx="1768.5" cy="2253.2" r="5.3" fill="#4A77FB"/>
<circle cx="1790" cy="2245.9" r="5.3" fill="#4A77FB"/>
<circle cx="1795.8" cy="2244.4" r="5.3" fill="#4A77FB"/>
<circle cx="1802.1" cy="2244.9" r="5.3" fill="#4A77FB"/>
<circle cx="1803.1" cy="2215.2" r="5.3" fill="#4A77FB"/>
<circle cx="1809.4" cy="2234.7" r="5.3" fill="#4A77FB"/>
<circle cx="1820.6" cy="2206.4" r="5.3" fill="#4A77FB"/>
<circle cx="1799.7" cy="2265.4" r="5.3" fill="#4A77FB"/>
<circle cx="1803.1" cy="2218" r="5.3" fill="#4A77FB"/>
<circle cx="1707.3" cy="2339.3" r="5.3" fill="#EE30A7"/>
<circle cx="1709.7" cy="2344.2" r="5.3" fill="#EE30A7"/>
<circle cx="1706.3" cy="2351.5" r="5.3" fill="#EE30A7"/>
<circle cx="1712.1" cy="2354" r="5.3" fill="#EE30A7"/>
<circle cx="1713.6" cy="2349.1" r="5.3" fill="#EE30A7"/>
<circle cx="1708.8" cy="2357.8" r="5.3" fill="#EE30A7"/>
<circle cx="1704.9" cy="2355" r="5.3" fill="#EE30A7"/>
<circle cx="1714.6" cy="2355" r="5.3" fill="#EE30A7"/>
<circle cx="1710.7" cy="2336.9" r="5.3" fill="#EE30A7"/>
<circle cx="1707" cy="2347" r="5.3" fill="#EE30A7"/>
<circle cx="1711" cy="2352" r="5.3" fill="#EE30A7"/>
<rect x="1278.8" y="1800" width="278.9" height="583.2" fill="none" stroke="#333333" stroke-width="2.1"/>
<line x1="1267.6" y1="2371.5" x2="1278.8" y2="2371.5" stroke="#333333" stroke-width="4.1"/>
<text x="1257.8" y="2379.5" font-size="22.8" text-anchor="end" fill="#4D4D4D">1.4</text>
<line x1="1267.6" y1="2285.6" x2="1278.8" y2="2285.6" stroke="#333333" stroke-width="4.1"/>
<text x="1257.8" y="2293.6" font-size="22.8" text-anchor="end" fill="#4D4D4D">1.6</text>
<line x1="1267.6" y1="2199.7" x2="1278.8" y2="2199.7" stroke="#333333" stroke-width="4.1"/>
<text x="1257.8" y="2207.7" font-size="22.8" text-anchor="end" fill="#4D4D4D">1.8</text>
<line x1="1267.6" y1="2113.8" x2="1278.8" y2="2113.8" stroke="#333333" stroke-width="4.1"/>
<text x="1257.8" y="2121.8" font-size="22.8" text-anchor="end" fill="#4D4D4D">2.0</text>
<line x1="1267.6" y1="2027.9" x2="1278.8" y2="2027.9" stroke="#333333" stroke-width="4.1"/>
<text x="1257.8" y="2035.9" font-size="22.8" text-anchor="end" fill="#4D4D4D">2.2</text>
<line x1="1267.6" y1="1942" x2="1278.8" y2="1942" stroke="#333333" stroke-width="4.1"/>
<text x="1257.8" y="1950" font-size="22.8" text-anchor="end" fill="#4D4D4D">2.4</text>
<line x1="1267.6" y1="1856.1" x2="1278.8" y2="1856.1" stroke="#333333" stroke-width="4.1"/>
<text x="1257.8" y="1864.1" font-size="22.8" text-anchor="end" fill="#4D4D4D">2.6</text>
<rect x="1693.6" y="1800" width="279.4" height="583.2" fill="none" stroke="#333333" stroke-width="2.1"/>
<line x1="1682.4" y1="2371.5" x2="1693.6" y2="2371.5" stroke="#333333" stroke-width="4.1"/>
<text x="1673" y="2379.5" font-size="22.8" text-anchor="end" fill="#4D4D4D">1.4</text>
<line x1="1682.4" y1="2285.6" x2="1693.6" y2="2285.6" stroke="#333333" stroke-width="4.1"/>
<text x="1673" y="2293.6" font-size="22.8" text-anchor="end" fill="#4D4D4D">1.6</text>
<line x1="1682.4" y1="2199.7" x2="1693.6" y2="2199.7" stroke="#333333" stroke-width="4.1"/>
<text x="1673" y="2207.7" font-size="22.8" text-anchor="end" fill="#4D4D4D">1.8</text>
<line x1="1682.4" y1="2113.8" x2="1693.6" y2="2113.8" stroke="#333333" stroke-width="4.1"/>
<text x="1673" y="2121.8" font-size="22.8" text-anchor="end" fill="#4D4D4D">2.0</text>
<line x1="1682.4" y1="2027.9" x2="1693.6" y2="2027.9" stroke="#333333" stroke-width="4.1"/>
<text x="1673" y="2035.9" font-size="22.8" text-anchor="end" fill="#4D4D4D">2.2</text>
<line x1="1682.4" y1="1942" x2="1693.6" y2="1942" stroke="#333333" stroke-width="4.1"/>
<text x="1673" y="1950" font-size="22.8" text-anchor="end" fill="#4D4D4D">2.4</text>
<line x1="1682.4" y1="1856.1" x2="1693.6" y2="1856.1" stroke="#333333" stroke-width="4.1"/>
<text x="1673" y="1864.1" font-size="22.8" text-anchor="end" fill="#4D4D4D">2.6</text>
<line x1="1308" y1="2383.2" x2="1308" y2="2395" stroke="#333333" stroke-width="4.1"/>
<text x="1308" y="2420.5" font-size="22.8" text-anchor="middle" fill="#4D4D4D">1.25</text>
<line x1="1369.3" y1="2383.2" x2="1369.3" y2="2395" stroke="#333333" stroke-width="4.1"/>
<text x="1369.3" y="2420.5" font-size="22.8" text-anchor="middle" fill="#4D4D4D">1.50</text>
<line x1="1430.7" y1="2383.2" x2="1430.7" y2="2395" stroke="#333333" stroke-width="4.1"/>
<text x="1430.7" y="2420.5" font-size="22.8" text-anchor="middle" fill="#4D4D4D">1.75</text>
<line x1="1492" y1="2383.2" x2="1492" y2="2395" stroke="#333333" stroke-width="4.1"/>
<text x="1492" y="2420.5" font-size="22.8" text-anchor="middle" fill="#4D4D4D">2.00</text>
<line x1="1553.3" y1="2383.2" x2="1553.3" y2="2395" stroke="#333333" stroke-width="4.1"/>
<text x="1553.3" y="2420.5" font-size="22.8" text-anchor="middle" fill="#4D4D4D">2.25</text>
<line x1="1751.5" y1="2383.2" x2="1751.5" y2="2395" stroke="#333333" stroke-width="4.1"/>
<text x="1751.5" y="2420.5" font-size="22.8" text-anchor="middle" fill="#4D4D4D">0.7</text>
<line x1="1819.8" y1="2383.2" x2="1819.8" y2="2395" stroke="#333333" stroke-width="4.1"/>
<text x="1819.8" y="2420.5" font-size="22.8" text-anchor="middle" fill="#4D4D4D">0.8</text>
<line x1="1888.2" y1="2383.2" x2="1888.2" y2="2395" stroke="#333333" stroke-width="4.1"/>
<text x="1888.2" y="2420.5" font-size="22.8" text-anchor="middle" fill="#4D4D4D">0.9</text>
<line x1="1956.5" y1="2383.2" x2="1956.5" y2="2395" stroke="#333333" stroke-width="4.1"/>
<text x="1956.5" y="2420.5" font-size="22.8" text-anchor="middle" fill="#4D4D4D">1.0</text>
<text x="1206.9" y="2091.8" font-size="31.3" text-anchor="middle" transform="rotate(-90 1206.9 2091.8)">QCC</text>
<text x="1622.4" y="2091.9" font-size="31.3" text-anchor="middle" transform="rotate(-90 1622.4 2091.9)">QCC</text>
<text x="1325.2" y="2470.9" font-size="30.3">overdispersion</text>
<path d="M1307.3 2464.6 L1310.6 2462.4 L1316.4 2477.6 L1322 2442.2 L1527.7 2442.2" fill="none" stroke="#000" stroke-width="2.3" stroke-linejoin="miter"/>
<text x="1747.6" y="2466" font-size="31.1">s.d. (counts)</text></svg>
</body></html>
